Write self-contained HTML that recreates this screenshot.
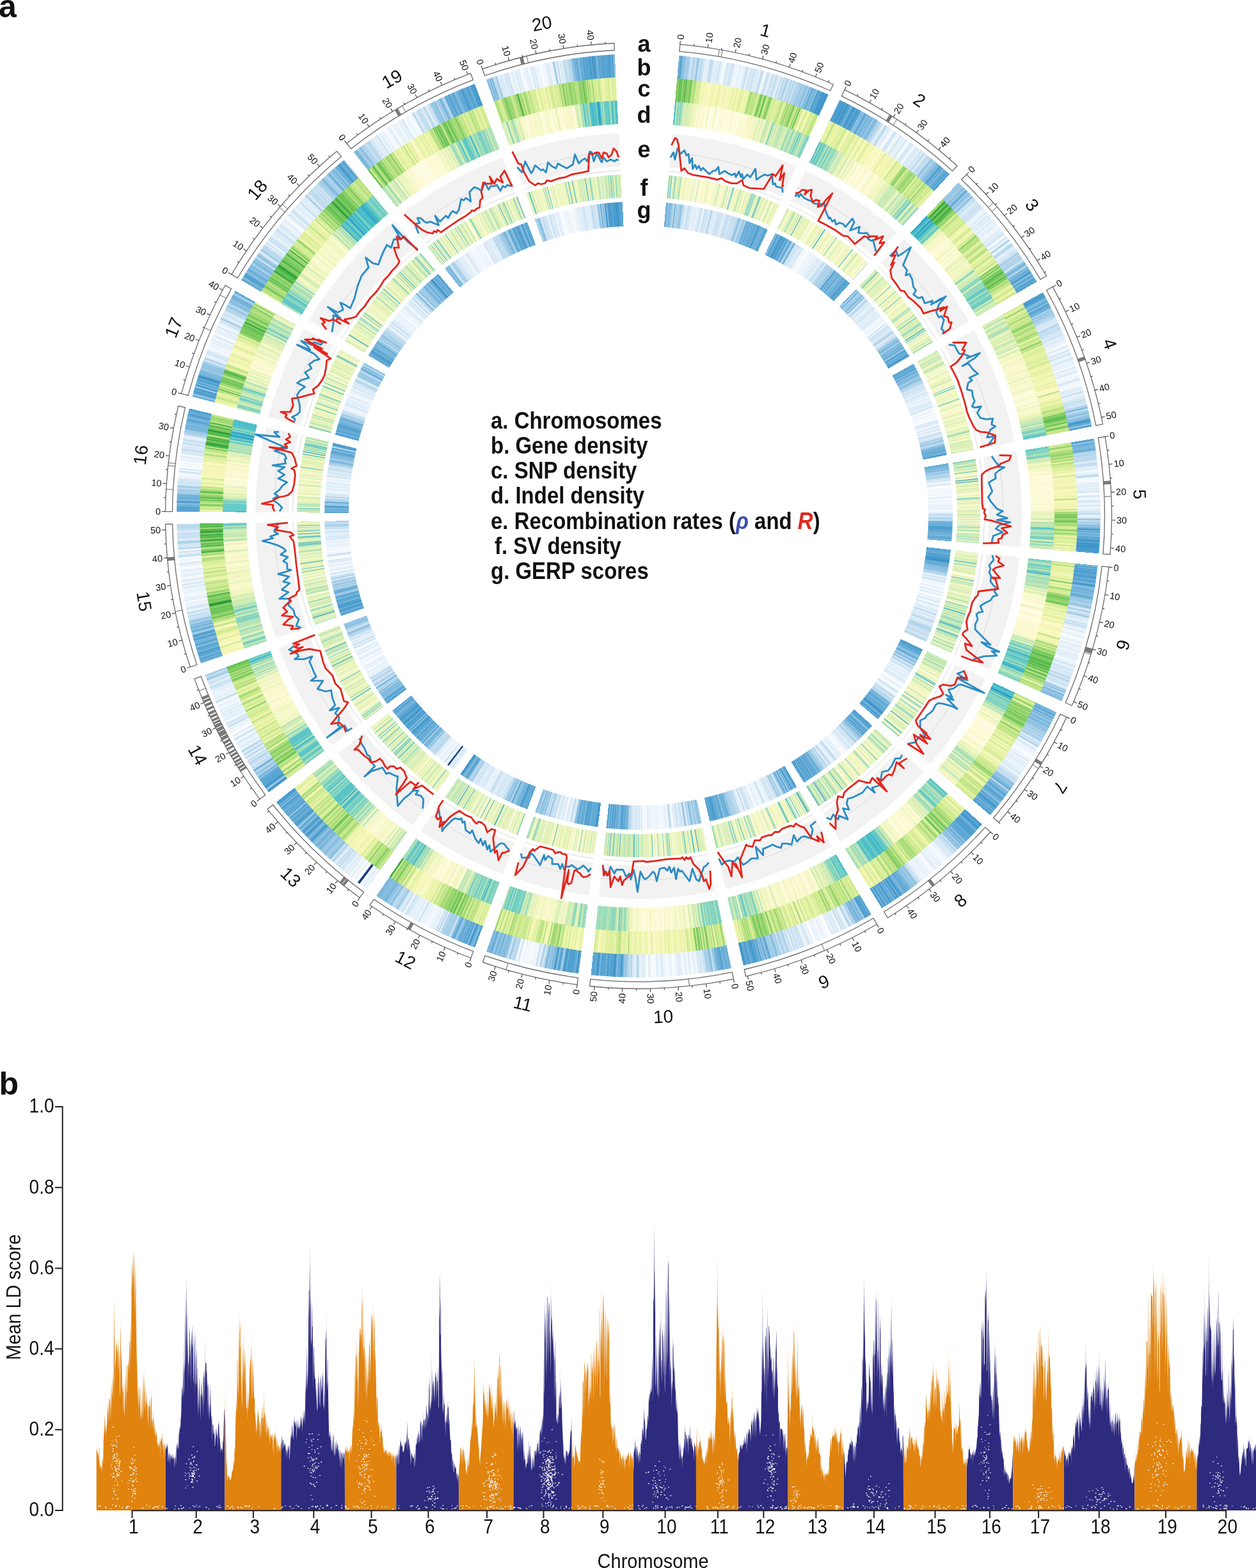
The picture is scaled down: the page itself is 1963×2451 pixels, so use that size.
<!DOCTYPE html>
<html><head><meta charset="utf-8"><style>
html,body{margin:0;padding:0;background:#fff}
body{width:1963px;height:2451px;position:relative;overflow:hidden;font-family:"Liberation Sans",Arial,sans-serif}
.d{position:absolute;border-radius:50%}
svg{position:absolute;left:0;top:0}
</style></head><body>
<div class="d" style="left:276.0px;top:84.0px;width:1444.0px;height:1444.0px;background:conic-gradient(#fff 0deg,#fff 5.03deg,#6fb1d9 5.03deg,#7bb7dc 5.17deg,#479acc 5.31deg,#6fb1d9 5.45deg,#88bee0 5.59deg,#88bee0 5.73deg,#9dc9e6 5.87deg,#a8cfe8 6.01deg,#a2cce7 6.15deg,#a0cbe6 6.30deg,#bddaee 6.44deg,#c9e1f1 6.58deg,#cfe4f3 6.72deg,#b4d5ec 6.86deg,#b1d4eb 7.00deg,#cee4f3 7.14deg,#bcdaee 7.28deg,#8ec1e2 7.42deg,#a8cfe8 7.56deg,#d8e9f5 7.70deg,#b7d7ed 7.84deg,#bcdaee 7.98deg,#d1e5f3 8.12deg,#cee4f3 8.26deg,#edf5fb 8.40deg,#e1eef8 8.54deg,#e6f1f9 8.69deg,#e3eff8 8.83deg,#c8e0f1 8.97deg,#c4def0 9.11deg,#bbd9ee 9.25deg,#dfedf7 9.39deg,#e0eef8 9.53deg,#e3eff9 9.67deg,#deecf7 9.81deg,#dfedf8 9.95deg,#e4f0f9 10.09deg,#c4def0 10.23deg,#e9f2fa 10.37deg,#e0eef8 10.51deg,#f1f7fc 10.65deg,#ffffff 10.79deg,#ebf3fb 10.93deg,#e4f0f9 11.07deg,#cce2f2 11.22deg,#e7f1fa 11.36deg,#dcebf7 11.50deg,#d8e9f6 11.64deg,#d1e5f3 11.78deg,#d0e4f3 11.92deg,#e7f1fa 12.06deg,#f1f7fc 12.20deg,#ecf4fb 12.34deg,#f1f7fc 12.48deg,#eff6fc 12.62deg,#e0edf8 12.76deg,#e8f2fa 12.90deg,#f0f7fc 13.04deg,#e6f1f9 13.18deg,#e6f1f9 13.32deg,#deedf7 13.46deg,#cfe4f3 13.61deg,#bddaee 13.75deg,#f8fbfe 13.89deg,#d5e7f5 14.03deg,#d7e8f5 14.17deg,#cfe4f3 14.31deg,#e1eef8 14.45deg,#c5dff0 14.59deg,#d5e7f5 14.73deg,#dcebf7 14.87deg,#e4eff9 15.01deg,#d5e8f5 15.15deg,#ecf4fb 15.29deg,#d3e6f4 15.43deg,#b7d7ec 15.57deg,#cee3f3 15.71deg,#f0f6fc 15.85deg,#fafcfe 16.00deg,#daeaf6 16.14deg,#d0e5f3 16.28deg,#c3def0 16.42deg,#daeaf6 16.56deg,#eef5fb 16.70deg,#d3e6f4 16.84deg,#cce2f2 16.98deg,#cbe2f2 17.12deg,#e4f0f9 17.26deg,#bddaee 17.40deg,#c7e0f1 17.54deg,#d2e6f4 17.68deg,#e4f0f9 17.82deg,#dfedf7 17.96deg,#b1d4eb 18.10deg,#edf5fb 18.24deg,#b2d5eb 18.39deg,#c7e0f1 18.53deg,#c6dff1 18.67deg,#b3d5ec 18.81deg,#a9cfe9 18.95deg,#d4e7f4 19.09deg,#cde3f3 19.23deg,#aed2ea 19.37deg,#cbe2f2 19.51deg,#bddaee 19.65deg,#add2ea 19.79deg,#cae1f2 19.93deg,#c4def0 20.07deg,#a6cee8 20.21deg,#c2ddf0 20.35deg,#9ecae6 20.49deg,#bcd9ee 20.63deg,#91c3e2 20.78deg,#a8cfe9 20.92deg,#9bc8e5 21.06deg,#a5cde8 21.20deg,#8cc0e1 21.34deg,#87bde0 21.48deg,#b0d3eb 21.62deg,#8fc2e2 21.76deg,#77b5db 21.90deg,#93c4e3 22.04deg,#59a5d3 22.18deg,#79b6dc 22.32deg,#8dc1e1 22.46deg,#68add7 22.60deg,#9dc9e6 22.74deg,#58a4d2 22.88deg,#4e9fcf 23.02deg,#63aad5 23.16deg,#52a1d1 23.31deg,#63aad5 23.45deg,#328dc5 23.59deg,#4e9ecf 23.73deg,#469acc 23.87deg,#4096ca 24.01deg,#3891c7 24.15deg,#76b4db 24.29deg,#fff 24.29deg,#fff 25.82deg,#70b1d9 25.82deg,#4c9ecf 25.96deg,#4e9fcf 26.10deg,#4a9cce 26.24deg,#52a1d1 26.38deg,#3d94c9 26.52deg,#4a9cce 26.66deg,#57a4d2 26.81deg,#358fc6 26.95deg,#479acd 27.09deg,#5ca7d4 27.23deg,#4f9fd0 27.37deg,#8abfe1 27.51deg,#499ccd 27.65deg,#469acc 27.79deg,#4197cb 27.93deg,#58a4d2 28.08deg,#5ca6d3 28.22deg,#4096ca 28.36deg,#4d9ecf 28.50deg,#59a5d3 28.64deg,#4f9fcf 28.78deg,#9cc9e5 28.92deg,#7bb7dc 29.06deg,#8ec1e1 29.20deg,#6eb0d9 29.35deg,#4e9fcf 29.49deg,#7cb8dd 29.63deg,#92c3e3 29.77deg,#64abd6 29.91deg,#8ec1e2 30.05deg,#73b3da 30.19deg,#96c6e4 30.33deg,#6aaed7 30.48deg,#a8cfe8 30.62deg,#87bee0 30.76deg,#7eb9dd 30.90deg,#7bb7dc 31.04deg,#98c7e4 31.18deg,#aed2ea 31.32deg,#a9d0e9 31.46deg,#b9d8ed 31.60deg,#c6dff1 31.75deg,#c6dff0 31.89deg,#f2f8fc 32.03deg,#d7e9f5 32.17deg,#d3e6f4 32.31deg,#add2ea 32.45deg,#cfe4f3 32.59deg,#e7f1fa 32.73deg,#e7f1f9 32.87deg,#d8e9f5 33.02deg,#edf4fb 33.16deg,#f2f7fc 33.30deg,#f1f7fc 33.44deg,#eff5fc 33.58deg,#c7e0f1 33.72deg,#d6e8f5 33.86deg,#d6e8f5 34.00deg,#f4f9fd 34.14deg,#edf5fb 34.29deg,#f4f8fd 34.43deg,#d7e8f5 34.57deg,#d1e5f3 34.71deg,#f4f9fd 34.85deg,#dcebf7 34.99deg,#e5f0f9 35.13deg,#f4f9fd 35.27deg,#cee3f3 35.42deg,#ddecf7 35.56deg,#f4f9fd 35.70deg,#f6fafd 35.84deg,#f0f6fc 35.98deg,#d5e7f5 36.12deg,#d4e7f4 36.26deg,#d8e9f6 36.40deg,#e0edf8 36.54deg,#f9fcfe 36.69deg,#f0f6fc 36.83deg,#d7e9f5 36.97deg,#deecf7 37.11deg,#deecf7 37.25deg,#d8e9f6 37.39deg,#f2f8fc 37.53deg,#cde3f3 37.67deg,#d4e7f4 37.81deg,#d4e7f4 37.96deg,#dcebf7 38.10deg,#b4d6ec 38.24deg,#cce2f2 38.38deg,#e7f1fa 38.52deg,#bfdcef 38.66deg,#c8e0f1 38.80deg,#b5d6ec 38.94deg,#cae1f2 39.08deg,#c2ddef 39.23deg,#97c6e4 39.37deg,#8dc1e1 39.51deg,#add2ea 39.65deg,#b2d4eb 39.79deg,#99c7e5 39.93deg,#94c5e3 40.07deg,#92c4e3 40.21deg,#7bb7dc 40.36deg,#80bade 40.50deg,#7cb7dc 40.64deg,#4f9fcf 40.78deg,#4f9fcf 40.92deg,#77b5db 41.06deg,#57a4d2 41.20deg,#80bade 41.34deg,#76b4db 41.48deg,#5ca6d3 41.63deg,#61a9d5 41.77deg,#50a0d0 41.91deg,#66acd6 42.05deg,#53a2d1 42.19deg,#4a9cce 42.33deg,#fff 42.33deg,#fff 43.86deg,#7bb7dc 43.86deg,#a9cfe9 44.00deg,#91c3e3 44.14deg,#98c6e4 44.28deg,#a5cde8 44.42deg,#9ecae6 44.56deg,#94c4e3 44.70deg,#7fb9dd 44.84deg,#a1cce7 44.98deg,#8abfe1 45.12deg,#56a3d2 45.26deg,#7fb9dd 45.40deg,#aed2ea 45.54deg,#7bb7dc 45.68deg,#a2cce7 45.82deg,#97c6e4 45.96deg,#c7dff1 46.10deg,#74b3da 46.24deg,#b3d5eb 46.38deg,#c6dff1 46.52deg,#d2e6f4 46.66deg,#bedbee 46.80deg,#dfedf7 46.94deg,#dcebf7 47.08deg,#d3e6f4 47.22deg,#d8e9f6 47.36deg,#c5dff0 47.50deg,#d2e6f4 47.64deg,#c5dff0 47.78deg,#d3e6f4 47.92deg,#d8e9f6 48.06deg,#d3e6f4 48.20deg,#edf4fb 48.34deg,#f7fafd 48.48deg,#e1eef8 48.62deg,#f5f9fd 48.76deg,#d0e5f3 48.90deg,#eef5fb 49.04deg,#e6f1f9 49.18deg,#ddecf7 49.32deg,#deecf7 49.46deg,#ecf4fb 49.60deg,#d6e8f5 49.74deg,#eaf3fb 49.88deg,#f2f7fc 50.02deg,#d0e5f3 50.16deg,#eef5fb 50.30deg,#edf4fb 50.44deg,#e2eff8 50.58deg,#e8f2fa 50.72deg,#e2eef8 50.86deg,#e6f1f9 51.00deg,#f8fbfd 51.15deg,#ebf3fb 51.29deg,#edf4fb 51.43deg,#ebf3fb 51.57deg,#dbebf6 51.71deg,#e3eff9 51.85deg,#e4f0f9 51.99deg,#d9e9f6 52.13deg,#d7e9f5 52.27deg,#d9eaf6 52.41deg,#ffffff 52.55deg,#fcfdfe 52.69deg,#cee3f3 52.83deg,#e0edf8 52.97deg,#f0f6fc 53.11deg,#dbebf6 53.25deg,#93c4e3 53.39deg,#e9f2fa 53.53deg,#f0f6fc 53.67deg,#d8e9f6 53.81deg,#b8d8ed 53.95deg,#b6d7ec 54.09deg,#c9e1f1 54.23deg,#e6f1f9 54.37deg,#e3eff9 54.51deg,#d5e7f5 54.65deg,#e5f0f9 54.79deg,#c9e1f1 54.93deg,#d7e8f5 55.07deg,#bbd9ee 55.21deg,#9ecae6 55.35deg,#bbd9ed 55.49deg,#b6d6ec 55.63deg,#bbd9ed 55.77deg,#a3cce7 55.91deg,#bad9ed 56.05deg,#a0cbe6 56.19deg,#d6e8f5 56.33deg,#cae1f2 56.47deg,#96c5e4 56.61deg,#94c4e3 56.75deg,#68add7 56.89deg,#8abfe0 57.03deg,#aad0e9 57.17deg,#b9d8ed 57.31deg,#5da7d4 57.45deg,#96c6e4 57.59deg,#5fa8d4 57.73deg,#71b2da 57.87deg,#6fb1d9 58.01deg,#3c93c8 58.15deg,#6baed8 58.29deg,#97c6e4 58.43deg,#56a3d2 58.57deg,#5ba6d3 58.71deg,#8abfe0 58.85deg,#62aad5 58.99deg,#4d9ecf 59.13deg,#6baed8 59.27deg,#55a3d1 59.41deg,#308cc4 59.55deg,#fff 59.55deg,#fff 61.08deg,#62aad5 61.08deg,#55a3d2 61.22deg,#4196ca 61.36deg,#4c9dce 61.50deg,#4f9fd0 61.64deg,#59a5d3 61.79deg,#8dc1e1 61.93deg,#79b6dc 62.07deg,#72b2da 62.21deg,#4e9fcf 62.35deg,#a0cbe6 62.49deg,#5ca7d4 62.63deg,#5ba6d3 62.77deg,#5aa5d3 62.91deg,#81bade 63.06deg,#5ca7d4 63.20deg,#bddbee 63.34deg,#91c3e2 63.48deg,#9cc9e5 63.62deg,#a7cfe8 63.76deg,#93c4e3 63.90deg,#add2ea 64.04deg,#a9d0e9 64.18deg,#b8d8ed 64.33deg,#b9d8ed 64.47deg,#cde3f2 64.61deg,#d2e6f4 64.75deg,#e1eef8 64.89deg,#c5def0 65.03deg,#eef5fb 65.17deg,#c9e1f1 65.31deg,#b5d6ec 65.45deg,#c2ddf0 65.60deg,#c8e0f1 65.74deg,#c8e0f1 65.88deg,#c5dff0 66.02deg,#c9e1f1 66.16deg,#d4e7f4 66.30deg,#d0e5f3 66.44deg,#deecf7 66.58deg,#d9eaf6 66.72deg,#c8e0f1 66.87deg,#e8f2fa 67.01deg,#daeaf6 67.15deg,#e8f2fa 67.29deg,#d9e9f6 67.43deg,#e7f1fa 67.57deg,#edf5fb 67.71deg,#e2eef8 67.85deg,#f7fbfd 67.99deg,#f7fafd 68.14deg,#eef5fb 68.28deg,#d8e9f6 68.42deg,#ecf4fb 68.56deg,#eef5fb 68.70deg,#eff6fc 68.84deg,#c4def0 68.98deg,#f4f8fd 69.12deg,#e1eef8 69.26deg,#d0e5f3 69.41deg,#e2eff8 69.55deg,#ecf4fb 69.69deg,#edf5fb 69.83deg,#d9eaf6 69.97deg,#d5e7f5 70.11deg,#e8f2fa 70.25deg,#edf4fb 70.39deg,#e9f2fa 70.53deg,#ebf3fb 70.68deg,#e6f1f9 70.82deg,#fbfdfe 70.96deg,#ecf4fb 71.10deg,#d5e8f5 71.24deg,#f4f9fd 71.38deg,#e1eef8 71.52deg,#f1f7fc 71.66deg,#cce3f2 71.80deg,#f4f9fd 71.95deg,#f4f8fd 72.09deg,#f8fbfe 72.23deg,#e6f0f9 72.37deg,#f8fbfe 72.51deg,#ddecf7 72.65deg,#d2e6f4 72.79deg,#e6f1f9 72.93deg,#f9fbfe 73.07deg,#eef5fc 73.22deg,#fbfdfe 73.36deg,#eff6fc 73.50deg,#f1f7fc 73.64deg,#deecf7 73.78deg,#ddecf7 73.92deg,#e0eef8 74.06deg,#eaf3fa 74.20deg,#d0e5f3 74.34deg,#c8e0f1 74.49deg,#f3f8fc 74.63deg,#deecf7 74.77deg,#e8f2fa 74.91deg,#deecf7 75.05deg,#d2e6f4 75.19deg,#d6e8f5 75.33deg,#b6d6ec 75.47deg,#d9eaf6 75.61deg,#c1dcef 75.76deg,#dfedf7 75.90deg,#c8e0f1 76.04deg,#a9d0e9 76.18deg,#a9d0e9 76.32deg,#67add7 76.46deg,#d3e6f4 76.60deg,#b0d4eb 76.74deg,#a3cde7 76.88deg,#92c3e3 77.03deg,#87bde0 77.17deg,#b8d8ed 77.31deg,#91c3e2 77.45deg,#91c3e2 77.59deg,#89bfe0 77.73deg,#69aed7 77.87deg,#3f95ca 78.01deg,#479acc 78.15deg,#66acd6 78.30deg,#66acd6 78.44deg,#a7cfe8 78.58deg,#4599cc 78.72deg,#4398cb 78.86deg,#fff 78.86deg,#fff 80.39deg,#5aa5d3 80.39deg,#56a3d2 80.53deg,#78b6dc 80.67deg,#9ac7e5 80.81deg,#4c9ecf 80.95deg,#87bee0 81.09deg,#6cafd8 81.23deg,#87bee0 81.37deg,#75b4db 81.51deg,#6bafd8 81.65deg,#66acd6 81.79deg,#b9d8ed 81.93deg,#b0d3eb 82.07deg,#c0dcef 82.21deg,#a9d0e9 82.35deg,#c8e0f1 82.49deg,#bad8ed 82.63deg,#c1dcef 82.77deg,#b6d7ec 82.91deg,#c6dff1 83.05deg,#e8f2fa 83.20deg,#cde3f2 83.34deg,#bddaee 83.48deg,#cde3f2 83.62deg,#c6dff0 83.76deg,#f3f8fc 83.90deg,#dbebf6 84.04deg,#dfedf7 84.18deg,#f2f7fc 84.32deg,#f4f9fd 84.46deg,#e4f0f9 84.60deg,#e8f2fa 84.74deg,#cae1f2 84.88deg,#add2ea 85.02deg,#e9f3fa 85.16deg,#f6fafd 85.30deg,#f4f8fd 85.44deg,#f9fcfe 85.58deg,#f1f7fc 85.72deg,#e7f1fa 85.86deg,#e1eef8 86.00deg,#ecf4fb 86.14deg,#d9eaf6 86.28deg,#ebf4fb 86.42deg,#e5f0f9 86.56deg,#dbebf6 86.71deg,#edf5fb 86.85deg,#c6dff0 86.99deg,#f9fcfe 87.13deg,#f4f9fd 87.27deg,#eff6fc 87.41deg,#c8e0f1 87.55deg,#ecf4fb 87.69deg,#f3f8fc 87.83deg,#edf5fb 87.97deg,#d8e9f6 88.11deg,#d1e5f3 88.25deg,#e9f2fa 88.39deg,#f2f8fc 88.53deg,#dbebf6 88.67deg,#d7e9f5 88.81deg,#edf5fb 88.95deg,#f2f7fc 89.09deg,#d9e9f6 89.23deg,#e8f2fa 89.37deg,#c7dff1 89.51deg,#dcebf6 89.65deg,#b8d8ed 89.79deg,#dcebf7 89.93deg,#f4f9fd 90.07deg,#d8e9f5 90.21deg,#c5dff0 90.36deg,#82bbde 90.50deg,#d2e5f4 90.64deg,#b4d5ec 90.78deg,#a1cbe7 90.92deg,#bcdaee 91.06deg,#87bde0 91.20deg,#93c4e3 91.34deg,#84bcdf 91.48deg,#6eb0d9 91.62deg,#308cc4 91.76deg,#89bfe0 91.90deg,#4f9fd0 92.04deg,#87bde0 92.18deg,#71b2d9 92.32deg,#64abd6 92.46deg,#8bbfe1 92.60deg,#489bcd 92.74deg,#70b1d9 92.88deg,#4e9fcf 93.02deg,#3f95ca 93.16deg,#4f9fd0 93.30deg,#58a4d2 93.44deg,#3690c6 93.58deg,#4a9cce 93.72deg,#3c93c8 93.87deg,#4297cb 94.01deg,#469acc 94.15deg,#489bcd 94.29deg,#469acc 94.43deg,#4fa0d0 94.57deg,#5aa5d3 94.71deg,#fff 94.71deg,#fff 96.24deg,#4297cb 96.24deg,#8cc0e1 96.38deg,#4599cc 96.52deg,#7ab7dc 96.66deg,#489bcd 96.80deg,#5fa8d4 96.94deg,#53a1d1 97.08deg,#489bcd 97.22deg,#57a4d2 97.36deg,#65abd6 97.50deg,#4d9ecf 97.64deg,#479acd 97.78deg,#65abd6 97.92deg,#68add7 98.06deg,#53a1d1 98.20deg,#53a2d1 98.35deg,#83bbdf 98.49deg,#5ba6d3 98.63deg,#3d94c9 98.77deg,#57a4d2 98.91deg,#96c5e4 99.05deg,#7bb7dc 99.19deg,#75b4db 99.33deg,#68add7 99.47deg,#86bde0 99.61deg,#6fb1d9 99.75deg,#77b5db 99.89deg,#8fc2e2 100.03deg,#64abd6 100.17deg,#60a9d5 100.31deg,#7bb7dc 100.45deg,#94c5e3 100.60deg,#a9d0e9 100.74deg,#96c5e4 100.88deg,#9ecae6 101.02deg,#b2d5eb 101.16deg,#a4cde7 101.30deg,#9bc8e5 101.44deg,#8cc0e1 101.58deg,#cfe4f3 101.72deg,#deecf7 101.86deg,#b7d7ec 102.00deg,#a4cde7 102.14deg,#e7f1fa 102.28deg,#bbd9ee 102.42deg,#cce2f2 102.56deg,#8cc0e1 102.71deg,#d5e8f5 102.85deg,#e0edf8 102.99deg,#d7e9f5 103.13deg,#e2eff8 103.27deg,#e8f2fa 103.41deg,#dcebf7 103.55deg,#c5dff0 103.69deg,#dfedf7 103.83deg,#bddaee 103.97deg,#d0e4f3 104.11deg,#e1eef8 104.25deg,#e8f2fa 104.39deg,#f2f7fc 104.53deg,#cee3f3 104.67deg,#f8fbfe 104.82deg,#eef5fb 104.96deg,#f5f9fd 105.10deg,#e4f0f9 105.24deg,#e7f1fa 105.38deg,#f4f9fd 105.52deg,#ffffff 105.66deg,#eff6fc 105.80deg,#f2f7fc 105.94deg,#e6f1f9 106.08deg,#edf4fb 106.22deg,#f8fbfd 106.36deg,#d8e9f6 106.50deg,#edf4fb 106.64deg,#e4f0f9 106.78deg,#edf4fb 106.92deg,#e5f0f9 107.07deg,#e0edf8 107.21deg,#edf5fb 107.35deg,#eef5fb 107.49deg,#e6f1f9 107.63deg,#dbebf6 107.77deg,#f0f6fc 107.91deg,#d8e9f6 108.05deg,#edf5fb 108.19deg,#dfedf7 108.33deg,#f6fafd 108.47deg,#f8fbfd 108.61deg,#e6f1f9 108.75deg,#f1f7fc 108.89deg,#cfe4f3 109.03deg,#daeaf6 109.18deg,#e7f1fa 109.32deg,#e8f2fa 109.46deg,#cfe4f3 109.60deg,#d4e7f4 109.74deg,#deecf7 109.88deg,#d9eaf6 110.02deg,#d1e5f4 110.16deg,#dfedf8 110.30deg,#d8e9f6 110.44deg,#bcdaee 110.58deg,#c4def0 110.72deg,#d7e9f5 110.86deg,#bbd9ee 111.00deg,#b2d4eb 111.14deg,#e3eff9 111.29deg,#cae1f2 111.43deg,#d5e8f5 111.57deg,#c5dff0 111.71deg,#e6f0f9 111.85deg,#daeaf6 111.99deg,#cfe4f3 112.13deg,#83bbde 112.27deg,#bedbee 112.41deg,#78b5db 112.55deg,#c8e0f1 112.69deg,#89bfe0 112.83deg,#78b6dc 112.97deg,#a3cde7 113.11deg,#89bee0 113.25deg,#90c2e2 113.39deg,#7bb7dc 113.54deg,#8bbfe1 113.68deg,#fff 113.68deg,#fff 115.20deg,#66acd6 115.20deg,#7cb8dd 115.35deg,#74b3da 115.49deg,#5ca6d3 115.63deg,#6baed8 115.77deg,#9bc8e5 115.91deg,#4398cb 116.05deg,#a4cde7 116.19deg,#6bafd8 116.33deg,#93c4e3 116.47deg,#95c5e3 116.61deg,#80bade 116.76deg,#74b3da 116.90deg,#a8cfe8 117.04deg,#6fb1d9 117.18deg,#82bbde 117.32deg,#91c3e3 117.46deg,#95c5e3 117.60deg,#87bde0 117.74deg,#a0cbe6 117.88deg,#89bfe0 118.02deg,#b7d7ec 118.17deg,#a2cce7 118.31deg,#9dc9e6 118.45deg,#c4def0 118.59deg,#9dc9e6 118.73deg,#b4d5ec 118.87deg,#b7d7ec 119.01deg,#a6cee8 119.15deg,#b0d3eb 119.29deg,#d3e6f4 119.43deg,#dcebf6 119.58deg,#bcdaee 119.72deg,#dfedf7 119.86deg,#96c5e4 120.00deg,#dbebf6 120.14deg,#f2f7fc 120.28deg,#deecf7 120.42deg,#d9eaf6 120.56deg,#e0edf8 120.70deg,#f6fafd 120.84deg,#e3eff9 120.99deg,#f5f9fd 121.13deg,#edf5fb 121.27deg,#f8fbfe 121.41deg,#fbfdfe 121.55deg,#f1f7fc 121.69deg,#ecf4fb 121.83deg,#eef5fb 121.97deg,#ecf4fb 122.11deg,#d6e8f5 122.25deg,#f8fbfd 122.40deg,#e4eff9 122.54deg,#e0edf8 122.68deg,#f4f9fd 122.82deg,#cfe4f3 122.96deg,#f5f9fd 123.10deg,#e7f1fa 123.24deg,#e2eff8 123.38deg,#fcfdfe 123.52deg,#d2e6f4 123.66deg,#f2f7fc 123.81deg,#d4e7f4 123.95deg,#dbebf6 124.09deg,#dcebf7 124.23deg,#fafcfe 124.37deg,#d5e7f5 124.51deg,#d5e7f5 124.65deg,#cfe4f3 124.79deg,#c2ddf0 124.93deg,#c6dff1 125.08deg,#cae1f2 125.22deg,#c2ddef 125.36deg,#a8cfe8 125.50deg,#85bddf 125.64deg,#97c6e4 125.78deg,#96c6e4 125.92deg,#86bddf 126.06deg,#7cb8dd 126.20deg,#70b1d9 126.34deg,#68add7 126.49deg,#cbe2f2 126.63deg,#8dc1e1 126.77deg,#70b1d9 126.91deg,#87bee0 127.05deg,#5fa8d4 127.19deg,#5da7d4 127.33deg,#6aaed7 127.47deg,#84bcdf 127.61deg,#67acd6 127.75deg,#51a0d0 127.90deg,#5aa6d3 128.04deg,#6db0d8 128.18deg,#65abd6 128.32deg,#9ecae6 128.46deg,#6cafd8 128.60deg,#5aa5d3 128.74deg,#69add7 128.88deg,#65abd6 129.02deg,#3f95ca 129.16deg,#489bcd 129.31deg,#68add7 129.45deg,#499ccd 129.59deg,#87bee0 129.73deg,#4e9fcf 129.87deg,#67add7 130.01deg,#63aad6 130.15deg,#4fa0d0 130.29deg,#469acc 130.43deg,#fff 130.43deg,#fff 131.96deg,#58a5d2 131.96deg,#479acd 132.10deg,#489bcd 132.24deg,#6aaed8 132.38deg,#4498cb 132.52deg,#3e95c9 132.66deg,#4b9dce 132.80deg,#78b5db 132.94deg,#6bafd8 133.08deg,#55a2d1 133.22deg,#4fa0d0 133.36deg,#4fa0d0 133.50deg,#58a4d2 133.64deg,#4699cc 133.78deg,#59a5d3 133.92deg,#61a9d5 134.06deg,#6aaed8 134.20deg,#54a2d1 134.34deg,#5ea8d4 134.49deg,#66acd6 134.63deg,#58a4d2 134.77deg,#8fc2e2 134.91deg,#82bbde 135.05deg,#69add7 135.19deg,#7fb9de 135.33deg,#8dc1e1 135.47deg,#72b2da 135.61deg,#bad9ed 135.75deg,#72b2da 135.89deg,#9dc9e6 136.03deg,#92c3e3 136.17deg,#9fcae6 136.31deg,#deedf7 136.45deg,#a7cfe8 136.59deg,#c2ddf0 136.73deg,#cfe4f3 136.87deg,#c0dcef 137.01deg,#dcebf6 137.15deg,#daeaf6 137.29deg,#d4e7f4 137.43deg,#dfedf7 137.57deg,#cee4f3 137.71deg,#eef5fb 137.85deg,#e7f1fa 137.99deg,#eef5fb 138.13deg,#f1f7fc 138.27deg,#f6fafd 138.41deg,#f5f9fd 138.55deg,#f5f9fd 138.69deg,#e9f3fa 138.83deg,#f3f8fc 138.97deg,#e6f1f9 139.11deg,#e7f1fa 139.25deg,#f2f7fc 139.39deg,#e4f0f9 139.53deg,#eef5fb 139.67deg,#eef5fb 139.81deg,#d4e7f4 139.95deg,#eaf3fb 140.09deg,#fafcfe 140.23deg,#f5f9fd 140.37deg,#f9fbfe 140.51deg,#edf4fb 140.65deg,#f1f7fc 140.79deg,#e6f1f9 140.93deg,#f2f7fc 141.07deg,#e1eef8 141.21deg,#f0f6fc 141.36deg,#e1eef8 141.50deg,#f8fbfe 141.64deg,#e5f0f9 141.78deg,#eef5fb 141.92deg,#eef5fb 142.06deg,#d9e9f6 142.20deg,#e9f2fa 142.34deg,#bfdbef 142.48deg,#d2e5f4 142.62deg,#bddaee 142.76deg,#9fcae6 142.90deg,#90c2e2 143.04deg,#95c5e3 143.18deg,#acd1e9 143.32deg,#7fb9dd 143.46deg,#a4cde7 143.60deg,#8ec1e2 143.74deg,#7bb7dc 143.88deg,#76b4db 144.02deg,#74b3da 144.16deg,#5aa6d3 144.30deg,#78b6dc 144.44deg,#56a3d2 144.58deg,#69add7 144.72deg,#73b3da 144.86deg,#85bcdf 145.00deg,#64abd6 145.14deg,#54a2d1 145.28deg,#3f95ca 145.42deg,#68add7 145.56deg,#65abd6 145.70deg,#308cc4 145.84deg,#81bade 145.98deg,#4398cb 146.12deg,#6eb0d9 146.26deg,#77b5db 146.40deg,#5da7d4 146.54deg,#6eb0d9 146.68deg,#489bcd 146.82deg,#4b9dce 146.96deg,#75b4da 147.10deg,#4e9fcf 147.24deg,#60a8d4 147.38deg,#7cb8dd 147.52deg,#499ccd 147.66deg,#52a1d1 147.80deg,#80bade 147.94deg,#3891c7 148.08deg,#74b3da 148.23deg,#fff 148.23deg,#fff 149.75deg,#3c94c9 149.75deg,#60a9d5 149.89deg,#68add7 150.03deg,#4c9ecf 150.17deg,#5aa5d3 150.32deg,#4e9fcf 150.46deg,#4e9fcf 150.60deg,#b3d5eb 150.74deg,#8ec1e2 150.88deg,#75b4db 151.02deg,#92c3e3 151.16deg,#8abfe0 151.30deg,#67acd6 151.44deg,#8dc1e1 151.58deg,#81bade 151.72deg,#77b5db 151.86deg,#bad9ed 152.00deg,#a4cde7 152.14deg,#c1dcef 152.28deg,#cce2f2 152.42deg,#e1eef8 152.56deg,#abd1e9 152.70deg,#b6d6ec 152.84deg,#ebf4fb 152.98deg,#eef5fb 153.12deg,#e4eff9 153.26deg,#d2e6f4 153.41deg,#d0e4f3 153.55deg,#e4f0f9 153.69deg,#b5d6ec 153.83deg,#f4f8fd 153.97deg,#f1f7fc 154.11deg,#e0edf8 154.25deg,#d3e6f4 154.39deg,#eff6fc 154.53deg,#cae1f2 154.67deg,#eaf3fa 154.81deg,#e2eff8 154.95deg,#e0edf8 155.09deg,#e2eef8 155.23deg,#f9fbfe 155.37deg,#fdfeff 155.51deg,#f5f9fd 155.65deg,#f1f7fc 155.79deg,#fafcfe 155.93deg,#edf4fb 156.07deg,#edf4fb 156.21deg,#e2eef8 156.36deg,#fefeff 156.50deg,#eef5fb 156.64deg,#eff6fc 156.78deg,#e4f0f9 156.92deg,#f2f7fc 157.06deg,#e1eef8 157.20deg,#f7fafd 157.34deg,#ffffff 157.48deg,#ffffff 157.62deg,#deecf7 157.76deg,#f1f7fc 157.90deg,#edf5fb 158.04deg,#d3e6f4 158.18deg,#dbebf6 158.32deg,#d1e5f4 158.46deg,#f7fafd 158.60deg,#e5f0f9 158.74deg,#eef5fb 158.88deg,#c3def0 159.02deg,#d3e7f4 159.16deg,#d2e6f4 159.31deg,#c7e0f1 159.45deg,#e1eef8 159.59deg,#cce2f2 159.73deg,#c2ddef 159.87deg,#edf4fb 160.01deg,#bcdaee 160.15deg,#d1e5f3 160.29deg,#e7f1fa 160.43deg,#c6dff0 160.57deg,#c8e0f1 160.71deg,#dbebf6 160.85deg,#aad0e9 160.99deg,#acd1ea 161.13deg,#c5dff0 161.27deg,#c7e0f1 161.41deg,#a6cee8 161.55deg,#afd3ea 161.69deg,#cde3f2 161.83deg,#c3ddf0 161.97deg,#97c6e4 162.11deg,#c2ddf0 162.26deg,#8ec1e2 162.40deg,#8ec1e2 162.54deg,#8dc1e1 162.68deg,#b5d6ec 162.82deg,#9cc9e5 162.96deg,#9bc8e5 163.10deg,#aed2ea 163.24deg,#5ea7d4 163.38deg,#64abd6 163.52deg,#83bbdf 163.66deg,#a1cce7 163.80deg,#4d9ecf 163.94deg,#9cc9e5 164.08deg,#74b3da 164.22deg,#94c5e3 164.36deg,#6eb0d8 164.50deg,#50a0d0 164.64deg,#88bee0 164.78deg,#4398cb 164.92deg,#6aaed7 165.06deg,#4a9cce 165.21deg,#4398cb 165.35deg,#4d9ecf 165.49deg,#53a2d1 165.63deg,#65abd6 165.77deg,#74b3da 165.91deg,#4398cb 166.05deg,#58a4d2 166.19deg,#5ea7d4 166.33deg,#66acd6 166.47deg,#3b93c8 166.61deg,#4498cb 166.75deg,#6aaed7 166.89deg,#fff 166.89deg,#fff 168.42deg,#86bddf 168.42deg,#65abd6 168.56deg,#79b6dc 168.70deg,#6eb0d9 168.84deg,#6aaed8 168.98deg,#5fa8d4 169.12deg,#91c3e2 169.26deg,#489bcd 169.40deg,#5ea7d4 169.54deg,#5da7d4 169.68deg,#6eb0d9 169.82deg,#6eb0d9 169.96deg,#75b4da 170.10deg,#8fc2e2 170.24deg,#94c4e3 170.38deg,#c1dcef 170.52deg,#c8e0f1 170.66deg,#70b1d9 170.80deg,#a2cce7 170.94deg,#a9d0e9 171.08deg,#9fcae6 171.22deg,#b1d4eb 171.36deg,#a8cfe8 171.50deg,#d3e6f4 171.64deg,#cae1f2 171.78deg,#e6f1f9 171.92deg,#cbe2f2 172.06deg,#dbebf6 172.20deg,#d8e9f6 172.34deg,#d4e7f4 172.48deg,#f1f7fc 172.62deg,#f0f6fc 172.76deg,#e3eff8 172.90deg,#ebf3fb 173.04deg,#eaf3fa 173.18deg,#ffffff 173.32deg,#dbebf6 173.46deg,#e2eef8 173.60deg,#f0f6fc 173.74deg,#f2f8fc 173.88deg,#e5f0f9 174.02deg,#dcebf7 174.16deg,#fbfcfe 174.30deg,#f5f9fd 174.44deg,#e5f0f9 174.58deg,#e0edf8 174.72deg,#e5f0f9 174.86deg,#d1e5f4 175.00deg,#f4f9fd 175.14deg,#e7f1f9 175.28deg,#f5f9fd 175.42deg,#fdfeff 175.56deg,#f4f9fd 175.70deg,#eef5fb 175.84deg,#e8f2fa 175.98deg,#edf4fb 176.12deg,#f8fbfd 176.26deg,#fdfeff 176.40deg,#f2f8fc 176.54deg,#f2f7fc 176.68deg,#e8f2fa 176.82deg,#e4f0f9 176.96deg,#d3e6f4 177.10deg,#eff6fc 177.24deg,#f0f6fc 177.38deg,#e9f3fa 177.52deg,#daeaf6 177.67deg,#eef5fb 177.81deg,#fdfefe 177.95deg,#f2f7fc 178.09deg,#f8fbfe 178.23deg,#fafcfe 178.37deg,#edf4fb 178.51deg,#d9eaf6 178.65deg,#eef5fb 178.79deg,#ffffff 178.93deg,#f1f7fc 179.07deg,#dcebf7 179.21deg,#dfedf7 179.35deg,#e1eef8 179.49deg,#e3eff8 179.63deg,#eaf3fb 179.77deg,#dfedf7 179.91deg,#b0d3eb 180.05deg,#bad9ed 180.19deg,#dcebf7 180.33deg,#e9f2fa 180.47deg,#d5e7f5 180.61deg,#dcebf7 180.75deg,#a7cee8 180.89deg,#cee4f3 181.03deg,#b8d8ed 181.17deg,#bddaee 181.31deg,#a7cfe8 181.45deg,#8cc0e1 181.59deg,#a0cbe6 181.73deg,#8cc0e1 181.87deg,#59a5d3 182.01deg,#499ccd 182.15deg,#53a2d1 182.29deg,#76b4db 182.43deg,#58a4d2 182.57deg,#8ec1e2 182.71deg,#60a8d4 182.85deg,#3992c7 182.99deg,#4398cb 183.13deg,#61a9d5 183.27deg,#479acd 183.41deg,#61a9d5 183.55deg,#5ea8d4 183.69deg,#4f9fcf 183.83deg,#4c9ecf 183.97deg,#7eb8dd 184.11deg,#4b9dce 184.25deg,#62a9d5 184.39deg,#57a4d2 184.53deg,#4c9dce 184.67deg,#75b4da 184.81deg,#77b5db 184.95deg,#338ec5 185.09deg,#469acc 185.23deg,#65abd6 185.37deg,#60a9d5 185.51deg,#50a0d0 185.65deg,#60a8d4 185.79deg,#64aad6 185.93deg,#fff 185.93deg,#fff 187.46deg,#5ea8d4 187.46deg,#56a3d2 187.60deg,#308cc4 187.74deg,#7db8dd 187.88deg,#5ba6d3 188.02deg,#61a9d5 188.16deg,#54a2d1 188.30deg,#479acd 188.44deg,#5ba6d3 188.58deg,#57a4d2 188.72deg,#3d94c9 188.86deg,#7bb7dc 189.00deg,#489bcd 189.14deg,#499ccd 189.28deg,#469acc 189.42deg,#a3cde7 189.56deg,#a3cde7 189.70deg,#6baed8 189.84deg,#4b9dce 189.98deg,#68add7 190.12deg,#96c5e4 190.26deg,#4d9ecf 190.40deg,#4398cb 190.54deg,#8dc1e1 190.68deg,#74b3da 190.82deg,#90c2e2 190.96deg,#92c4e3 191.10deg,#8abfe1 191.24deg,#a0cbe6 191.38deg,#8dc1e1 191.52deg,#70b1d9 191.66deg,#b8d8ed 191.80deg,#b6d7ec 191.94deg,#e6f1f9 192.08deg,#9bc8e5 192.22deg,#cae1f2 192.36deg,#d5e7f5 192.50deg,#f7fafd 192.64deg,#b3d5eb 192.78deg,#e6f1f9 192.92deg,#eef5fb 193.06deg,#f1f7fc 193.20deg,#eef5fb 193.34deg,#f0f6fc 193.48deg,#f3f8fc 193.62deg,#f9fbfe 193.76deg,#f1f7fc 193.90deg,#f3f8fd 194.04deg,#f1f7fc 194.18deg,#f0f6fc 194.32deg,#f9fbfe 194.46deg,#e4eff9 194.60deg,#fefeff 194.74deg,#f9fcfe 194.88deg,#e0eef8 195.02deg,#cce2f2 195.17deg,#f6fafd 195.31deg,#f2f7fc 195.45deg,#b0d4eb 195.59deg,#bcdaee 195.73deg,#b8d7ed 195.87deg,#c7e0f1 196.01deg,#a1cbe7 196.15deg,#9cc9e5 196.29deg,#d2e6f4 196.43deg,#c7e0f1 196.57deg,#8ec1e2 196.71deg,#9bc8e5 196.85deg,#6fb0d9 196.99deg,#9ac8e5 197.13deg,#72b2da 197.27deg,#a4cde8 197.41deg,#79b6dc 197.55deg,#71b2d9 197.69deg,#99c7e5 197.83deg,#8cc0e1 197.97deg,#6dafd8 198.11deg,#83bcdf 198.25deg,#a6cee8 198.39deg,#7bb7dc 198.53deg,#60a9d5 198.67deg,#71b1d9 198.81deg,#8abfe1 198.95deg,#7fb9dd 199.09deg,#63aad5 199.23deg,#fff 199.23deg,#fff 200.76deg,#4b9dce 200.76deg,#4599cc 200.90deg,#87bde0 201.04deg,#72b2da 201.18deg,#75b4db 201.32deg,#4599cc 201.46deg,#3c93c8 201.60deg,#a0cbe6 201.74deg,#4f9fd0 201.89deg,#60a9d5 202.03deg,#73b3da 202.17deg,#479bcd 202.31deg,#82bbde 202.45deg,#56a3d2 202.59deg,#88bee0 202.73deg,#4b9dce 202.87deg,#7ab6dc 203.02deg,#7fb9dd 203.16deg,#a2cce7 203.30deg,#92c3e3 203.44deg,#5aa5d3 203.58deg,#67acd6 203.72deg,#82bbde 203.86deg,#97c6e4 204.00deg,#daeaf6 204.15deg,#b6d7ec 204.29deg,#9cc9e5 204.43deg,#add1ea 204.57deg,#9fcae6 204.71deg,#b6d7ec 204.85deg,#97c6e4 204.99deg,#c0dcef 205.13deg,#a7cfe8 205.28deg,#bfdbef 205.42deg,#eff6fc 205.56deg,#a6cee8 205.70deg,#e0edf8 205.84deg,#c8e0f1 205.98deg,#d2e6f4 206.12deg,#f2f7fc 206.26deg,#e1eef8 206.40deg,#e5f0f9 206.55deg,#e7f1fa 206.69deg,#f2f7fc 206.83deg,#e5f0f9 206.97deg,#f3f8fd 207.11deg,#f4f9fd 207.25deg,#eef5fb 207.39deg,#f5f9fd 207.53deg,#e6f1f9 207.68deg,#f3f8fc 207.82deg,#e9f3fa 207.96deg,#dfedf7 208.10deg,#f8fbfe 208.24deg,#c4def0 208.38deg,#dbebf6 208.52deg,#e9f2fa 208.66deg,#eff6fc 208.81deg,#d4e7f4 208.95deg,#f2f7fc 209.09deg,#e2eef8 209.23deg,#f0f7fc 209.37deg,#e3eff8 209.51deg,#e8f2fa 209.65deg,#e4f0f9 209.79deg,#dcebf7 209.94deg,#d7e9f5 210.08deg,#d0e5f3 210.22deg,#d4e7f4 210.36deg,#eff6fc 210.50deg,#eef5fb 210.64deg,#bedbee 210.78deg,#d9e9f6 210.92deg,#dfedf7 211.06deg,#d9eaf6 211.21deg,#cae1f2 211.35deg,#9ac8e5 211.49deg,#a4cde8 211.63deg,#bad9ed 211.77deg,#b3d5eb 211.91deg,#c0dcef 212.05deg,#c5dff0 212.19deg,#a1cbe7 212.34deg,#81bade 212.48deg,#9fcae6 212.62deg,#aad0e9 212.76deg,#8dc1e1 212.90deg,#97c6e4 213.04deg,#81bade 213.18deg,#6eb0d9 213.32deg,#8abfe1 213.47deg,#7eb9dd 213.61deg,#87bde0 213.75deg,#94c4e3 213.89deg,#76b4db 214.03deg,#92c4e3 214.17deg,#6db0d8 214.31deg,#81bade 214.45deg,#92c3e3 214.59deg,#fff 214.59deg,#fff 216.12deg,#cae1f2 216.12deg,#f5f9fd 216.26deg,#eef5fb 216.41deg,#daeaf6 216.55deg,#ecf4fb 216.69deg,#e8f2fa 216.83deg,#f5f9fd 216.97deg,#f7fbfd 217.11deg,#ecf4fb 217.25deg,#f6fafd 217.39deg,#f0f6fc 217.53deg,#ffffff 217.68deg,#fdfeff 217.82deg,#e2eef8 217.96deg,#eff5fc 218.10deg,#fdfefe 218.24deg,#e9f2fa 218.38deg,#e3eff9 218.52deg,#f5f9fd 218.66deg,#eff6fc 218.81deg,#e1eef8 218.95deg,#e3eff8 219.09deg,#edf4fb 219.23deg,#dcebf7 219.37deg,#deedf7 219.51deg,#f5f9fd 219.65deg,#cde3f2 219.79deg,#deecf7 219.94deg,#cce2f2 220.08deg,#dcebf7 220.22deg,#cee4f3 220.36deg,#bbd9ee 220.50deg,#daeaf6 220.64deg,#bfdbef 220.78deg,#d1e5f4 220.92deg,#e8f2fa 221.07deg,#dcebf7 221.21deg,#c9e1f1 221.35deg,#add2ea 221.49deg,#c5def0 221.63deg,#d7e8f5 221.77deg,#9ac8e5 221.91deg,#80bade 222.05deg,#a1cbe7 222.19deg,#9dc9e6 222.34deg,#a6cee8 222.48deg,#9ecae6 222.62deg,#91c3e2 222.76deg,#87bde0 222.90deg,#88bee0 223.04deg,#aad0e9 223.18deg,#90c2e2 223.32deg,#a2cce7 223.47deg,#7ab7dc 223.61deg,#78b6dc 223.75deg,#80bade 223.89deg,#91c3e2 224.03deg,#6aaed7 224.17deg,#7ab7dc 224.31deg,#70b1d9 224.45deg,#a3cce7 224.60deg,#74b3da 224.74deg,#84bcdf 224.88deg,#60a9d5 225.02deg,#4297cb 225.16deg,#54a2d1 225.30deg,#6cafd8 225.44deg,#7db8dd 225.58deg,#86bddf 225.72deg,#5ca6d3 225.87deg,#4b9dce 226.01deg,#3690c6 226.15deg,#87bde0 226.29deg,#65abd6 226.43deg,#4c9dce 226.57deg,#52a1d1 226.71deg,#5fa8d4 226.85deg,#93c4e3 227.00deg,#6bafd8 227.14deg,#54a2d1 227.28deg,#8fc2e2 227.42deg,#a3cce7 227.56deg,#5fa8d4 227.70deg,#4a9dce 227.84deg,#52a1d1 227.98deg,#5aa5d3 228.13deg,#69add7 228.27deg,#72b2da 228.41deg,#4e9fcf 228.55deg,#60a8d4 228.69deg,#74b3da 228.83deg,#54a2d1 228.97deg,#62aad5 229.11deg,#a9d0e9 229.25deg,#479acd 229.40deg,#6fb1d9 229.54deg,#58a4d2 229.68deg,#65abd6 229.82deg,#5ca6d3 229.96deg,#76b4db 230.10deg,#60a9d5 230.24deg,#67acd7 230.38deg,#50a0d0 230.53deg,#4b9dce 230.67deg,#90c2e2 230.81deg,#51a1d0 230.95deg,#79b6dc 231.09deg,#59a5d3 231.23deg,#479acd 231.37deg,#499bcd 231.51deg,#4b9dce 231.66deg,#fff 231.66deg,#fff 233.18deg,#56a3d2 233.18deg,#4c9ecf 233.32deg,#308cc4 233.47deg,#bddaee 233.61deg,#77b5db 233.75deg,#469acc 233.89deg,#3c94c9 234.03deg,#5fa8d4 234.17deg,#54a2d1 234.31deg,#5ba6d3 234.45deg,#59a5d3 234.59deg,#55a3d1 234.73deg,#66acd6 234.88deg,#5ba6d3 235.02deg,#70b1d9 235.16deg,#99c7e4 235.30deg,#62aad5 235.44deg,#a1cbe7 235.58deg,#b2d4eb 235.72deg,#92c3e3 235.86deg,#95c5e3 236.00deg,#bfdbef 236.14deg,#add2ea 236.29deg,#54a2d1 236.43deg,#acd1ea 236.57deg,#d1e5f3 236.71deg,#b1d4eb 236.85deg,#dfedf8 236.99deg,#c6dff1 237.13deg,#cbe2f2 237.27deg,#c3def0 237.41deg,#a8cfe9 237.55deg,#e9f3fa 237.70deg,#b2d4eb 237.84deg,#dbebf6 237.98deg,#eef5fb 238.12deg,#b7d7ec 238.26deg,#c5def0 238.40deg,#ecf4fb 238.54deg,#cbe2f2 238.68deg,#b0d3eb 238.82deg,#e1eef8 238.96deg,#dcebf7 239.11deg,#a2cce7 239.25deg,#deecf7 239.39deg,#e7f1fa 239.53deg,#eef5fb 239.67deg,#d7e8f5 239.81deg,#edf4fb 239.95deg,#edf5fb 240.09deg,#e9f2fa 240.23deg,#ddecf7 240.37deg,#d9e9f6 240.52deg,#f8fbfe 240.66deg,#f0f7fc 240.80deg,#cbe2f2 240.94deg,#cfe4f3 241.08deg,#fdfeff 241.22deg,#ebf3fb 241.36deg,#d7e9f5 241.50deg,#f6fafd 241.64deg,#ffffff 241.78deg,#eef5fb 241.93deg,#f0f6fc 242.07deg,#f4f9fd 242.21deg,#e2eff8 242.35deg,#eef5fb 242.49deg,#dfedf7 242.63deg,#b7d7ed 242.77deg,#f1f7fc 242.91deg,#cce2f2 243.05deg,#d5e7f5 243.19deg,#ecf4fb 243.34deg,#fcfdfe 243.48deg,#deecf7 243.62deg,#e9f2fa 243.76deg,#e5f0f9 243.90deg,#eff6fc 244.04deg,#ddecf7 244.18deg,#e7f1fa 244.32deg,#eef5fc 244.46deg,#d1e5f4 244.60deg,#feffff 244.75deg,#d7e8f5 244.89deg,#eff6fc 245.03deg,#f3f8fc 245.17deg,#eef5fb 245.31deg,#f2f7fc 245.45deg,#dfedf7 245.59deg,#f8fbfe 245.73deg,#fbfdfe 245.87deg,#eef5fb 246.01deg,#b6d7ec 246.16deg,#e0edf8 246.30deg,#f3f8fd 246.44deg,#d8e9f6 246.58deg,#f5f9fd 246.72deg,#e4f0f9 246.86deg,#ecf4fb 247.00deg,#eff6fc 247.14deg,#eaf3fb 247.28deg,#dfedf8 247.42deg,#eef5fb 247.57deg,#deecf7 247.71deg,#cfe4f3 247.85deg,#d7e8f5 247.99deg,#bcdaee 248.13deg,#e3eff9 248.27deg,#e0eef8 248.41deg,#d3e6f4 248.55deg,#cee3f3 248.69deg,#d0e5f3 248.83deg,#e0eef8 248.98deg,#9bc8e5 249.12deg,#a9d0e9 249.26deg,#b4d5ec 249.40deg,#d1e5f3 249.54deg,#a2cce7 249.68deg,#a2cce7 249.82deg,#fff 249.82deg,#fff 251.35deg,#82bbde 251.35deg,#5aa6d3 251.49deg,#70b1d9 251.63deg,#63aad5 251.77deg,#4e9fcf 251.91deg,#7eb9dd 252.05deg,#5ea8d4 252.20deg,#5ea8d4 252.34deg,#52a1d0 252.48deg,#4a9cce 252.62deg,#77b5db 252.76deg,#6bafd8 252.90deg,#62aad5 253.04deg,#52a1d1 253.18deg,#67acd7 253.32deg,#91c3e2 253.46deg,#5ea7d4 253.60deg,#50a0d0 253.75deg,#81bade 253.89deg,#6cafd8 254.03deg,#88bee0 254.17deg,#4b9dce 254.31deg,#57a4d2 254.45deg,#7bb7dc 254.59deg,#56a3d2 254.73deg,#489bcd 254.87deg,#79b6dc 255.01deg,#b8d8ed 255.16deg,#7db8dd 255.30deg,#63aad6 255.44deg,#82bbde 255.58deg,#9dc9e6 255.72deg,#5ca7d4 255.86deg,#96c6e4 256.00deg,#81bade 256.14deg,#87bde0 256.28deg,#b1d4eb 256.42deg,#9ecae6 256.56deg,#91c3e2 256.71deg,#c4def0 256.85deg,#c6dff0 256.99deg,#cfe4f3 257.13deg,#cee4f3 257.27deg,#bbd9ee 257.41deg,#f0f7fc 257.55deg,#c0dcef 257.69deg,#cde3f3 257.83deg,#e3eff8 257.97deg,#eff6fc 258.12deg,#d9e9f6 258.26deg,#d3e6f4 258.40deg,#e4f0f9 258.54deg,#f1f7fc 258.68deg,#e7f1fa 258.82deg,#eef5fb 258.96deg,#eff6fc 259.10deg,#fdfeff 259.24deg,#d1e5f4 259.38deg,#f9fbfe 259.52deg,#ddecf7 259.67deg,#f4f9fd 259.81deg,#f5f9fd 259.95deg,#f0f6fc 260.09deg,#eef5fb 260.23deg,#e6f1f9 260.37deg,#eef5fb 260.51deg,#eaf3fa 260.65deg,#f4f9fd 260.79deg,#d2e5f4 260.93deg,#eff6fc 261.08deg,#ebf4fb 261.22deg,#c9e1f1 261.36deg,#f9fbfe 261.50deg,#ecf4fb 261.64deg,#dcebf7 261.78deg,#e2eff8 261.92deg,#eef5fb 262.06deg,#f9fcfe 262.20deg,#eef5fb 262.34deg,#deedf7 262.48deg,#f0f7fc 262.63deg,#e4f0f9 262.77deg,#ffffff 262.91deg,#d1e5f4 263.05deg,#f4f8fd 263.19deg,#f9fbfe 263.33deg,#fcfdfe 263.47deg,#eff6fc 263.61deg,#e6f1f9 263.75deg,#e4f0f9 263.89deg,#d7e9f5 264.04deg,#fefeff 264.18deg,#f0f7fc 264.32deg,#f1f7fc 264.46deg,#f3f8fd 264.60deg,#f6fafd 264.74deg,#bbd9ee 264.88deg,#d2e6f4 265.02deg,#d7e8f5 265.16deg,#eef5fb 265.30deg,#c6dff1 265.44deg,#f3f8fc 265.59deg,#ecf4fb 265.73deg,#a6cee8 265.87deg,#d8e9f5 266.01deg,#d2e6f4 266.15deg,#d9e9f6 266.29deg,#cfe4f3 266.43deg,#a9d0e9 266.57deg,#a8cfe9 266.71deg,#d0e4f3 266.85deg,#e5f0f9 267.00deg,#cfe4f3 267.14deg,#c9e1f1 267.28deg,#cae1f2 267.42deg,#cee3f3 267.56deg,#bfdbef 267.70deg,#d1e5f4 267.84deg,#e3eff8 267.98deg,#cee3f3 268.12deg,#cce3f2 268.26deg,#bad9ed 268.40deg,#bedbee 268.55deg,#b6d7ec 268.69deg,#bbd9ee 268.83deg,#d9eaf6 268.97deg,#fff 268.97deg,#fff 270.50deg,#58a4d2 270.50deg,#54a2d1 270.64deg,#59a5d3 270.78deg,#59a5d3 270.92deg,#4c9ecf 271.06deg,#71b2d9 271.20deg,#6bafd8 271.34deg,#8ec1e2 271.48deg,#64abd6 271.62deg,#3c93c8 271.76deg,#86bddf 271.90deg,#75b4db 272.04deg,#67acd7 272.18deg,#6cafd8 272.32deg,#7ab7dc 272.46deg,#6aaed7 272.60deg,#a7cfe8 272.74deg,#9dc9e5 272.88deg,#b7d7ec 273.02deg,#9ac7e5 273.16deg,#b1d4eb 273.30deg,#cbe2f2 273.44deg,#9fcae6 273.58deg,#a7cfe8 273.72deg,#e1eef8 273.86deg,#cce3f2 274.01deg,#d6e8f5 274.15deg,#c8e0f1 274.29deg,#dbeaf6 274.43deg,#d2e6f4 274.57deg,#ecf4fb 274.71deg,#ecf4fb 274.85deg,#eef5fb 274.99deg,#f9fbfe 275.13deg,#f2f8fc 275.27deg,#d7e8f5 275.41deg,#c9e1f2 275.55deg,#ffffff 275.69deg,#cae1f2 275.83deg,#f3f8fc 275.97deg,#ffffff 276.11deg,#eef5fc 276.25deg,#f8fbfe 276.39deg,#f1f7fc 276.53deg,#f3f8fd 276.67deg,#fcfdfe 276.81deg,#e1eef8 276.95deg,#edf4fb 277.09deg,#eef5fb 277.23deg,#daeaf6 277.37deg,#eef5fb 277.51deg,#ffffff 277.65deg,#cde3f2 277.79deg,#ddecf7 277.93deg,#d8e9f6 278.07deg,#cce2f2 278.22deg,#c3def0 278.36deg,#e3eff9 278.50deg,#cde3f2 278.64deg,#eaf3fa 278.78deg,#d8e9f5 278.92deg,#c4def0 279.06deg,#d6e8f5 279.20deg,#e1eef8 279.34deg,#b7d7ed 279.48deg,#dcebf7 279.62deg,#e3eff8 279.76deg,#e7f1fa 279.90deg,#e3eff9 280.04deg,#aad0e9 280.18deg,#bddaee 280.32deg,#9dc9e6 280.46deg,#a1cbe7 280.60deg,#a0cbe6 280.74deg,#74b3da 280.88deg,#7bb7dc 281.02deg,#78b6db 281.16deg,#74b3da 281.30deg,#7db8dd 281.44deg,#81bade 281.58deg,#70b1d9 281.72deg,#6baed8 281.86deg,#4e9fcf 282.00deg,#6fb0d9 282.14deg,#84bcdf 282.29deg,#6aaed7 282.43deg,#59a5d3 282.57deg,#4599cc 282.71deg,#6fb0d9 282.85deg,#66acd6 282.99deg,#65abd6 283.13deg,#4599cc 283.27deg,#4d9ecf 283.41deg,#fff 283.41deg,#fff 284.94deg,#7cb8dd 284.94deg,#5ba6d3 285.08deg,#a5cde8 285.22deg,#77b5db 285.36deg,#4d9ecf 285.50deg,#4c9dce 285.64deg,#5da7d4 285.78deg,#53a1d1 285.92deg,#4297cb 286.06deg,#b1d4eb 286.20deg,#68add7 286.34deg,#3690c6 286.48deg,#91c3e2 286.62deg,#489bcd 286.76deg,#7db8dd 286.90deg,#5da7d4 287.04deg,#489bcd 287.18deg,#66acd6 287.32deg,#4c9ecf 287.47deg,#308cc4 287.61deg,#53a2d1 287.75deg,#73b3da 287.89deg,#77b5db 288.03deg,#7fb9dd 288.17deg,#80bade 288.31deg,#87bde0 288.45deg,#aad0e9 288.59deg,#8abfe0 288.73deg,#98c6e4 288.87deg,#92c3e3 289.01deg,#91c3e2 289.15deg,#95c5e3 289.29deg,#a2cce7 289.43deg,#b4d5ec 289.57deg,#d2e6f4 289.71deg,#c2ddef 289.85deg,#aad0e9 290.00deg,#eef5fb 290.14deg,#daeaf6 290.28deg,#f5f9fd 290.42deg,#c8e0f1 290.56deg,#d7e9f5 290.70deg,#d6e8f5 290.84deg,#deecf7 290.98deg,#ebf4fb 291.12deg,#f3f8fc 291.26deg,#f5f9fd 291.40deg,#edf4fb 291.54deg,#f2f8fc 291.68deg,#eef5fb 291.82deg,#f7fafd 291.96deg,#d7e8f5 292.10deg,#fcfdfe 292.24deg,#d7e8f5 292.38deg,#edf4fb 292.53deg,#eef5fc 292.67deg,#f4f9fd 292.81deg,#cce3f2 292.95deg,#e9f3fa 293.09deg,#ffffff 293.23deg,#f5f9fd 293.37deg,#ddecf7 293.51deg,#eef5fb 293.65deg,#e2eff8 293.79deg,#e9f3fa 293.93deg,#eff6fc 294.07deg,#cae2f2 294.21deg,#f9fbfe 294.35deg,#edf5fb 294.49deg,#ebf3fb 294.63deg,#e3eff9 294.77deg,#c6dff1 294.91deg,#e1eef8 295.05deg,#b3d5eb 295.20deg,#9cc9e5 295.34deg,#dfedf7 295.48deg,#deecf7 295.62deg,#deecf7 295.76deg,#c8e0f1 295.90deg,#d5e7f5 296.04deg,#dfedf7 296.18deg,#d6e8f5 296.32deg,#bcd9ee 296.46deg,#b3d5eb 296.60deg,#b8d8ed 296.74deg,#a2cce7 296.88deg,#9ecae6 297.02deg,#92c3e3 297.16deg,#d2e6f4 297.30deg,#8ec1e2 297.44deg,#9cc9e5 297.58deg,#6eb0d8 297.73deg,#a9cfe9 297.87deg,#7fb9dd 298.01deg,#77b5db 298.15deg,#78b6db 298.29deg,#69aed7 298.43deg,#86bddf 298.57deg,#acd1ea 298.71deg,#9cc9e5 298.85deg,#5ea8d4 298.99deg,#4c9ecf 299.13deg,#fff 299.13deg,#fff 300.66deg,#56a3d2 300.66deg,#67acd7 300.80deg,#6cafd8 300.94deg,#8ec1e2 301.08deg,#4c9ecf 301.22deg,#56a3d2 301.36deg,#51a1d0 301.50deg,#52a1d1 301.64deg,#8fc2e2 301.79deg,#78b6db 301.93deg,#84bcdf 302.07deg,#5ca6d3 302.21deg,#74b3da 302.35deg,#8ec1e2 302.49deg,#89bfe0 302.63deg,#7db8dd 302.77deg,#7cb8dd 302.91deg,#b3d5ec 303.05deg,#9dc9e5 303.19deg,#7eb9dd 303.34deg,#80b9de 303.48deg,#96c5e4 303.62deg,#8fc1e2 303.76deg,#8abfe1 303.90deg,#dbeaf6 304.04deg,#a8cfe9 304.18deg,#87bde0 304.32deg,#a0cbe6 304.46deg,#93c4e3 304.60deg,#daeaf6 304.74deg,#d9eaf6 304.89deg,#c6dff1 305.03deg,#92c3e3 305.17deg,#b8d8ed 305.31deg,#bfdcef 305.45deg,#b9d8ed 305.59deg,#bcdaee 305.73deg,#c5dff0 305.87deg,#d9e9f6 306.01deg,#e3eff8 306.15deg,#cbe2f2 306.29deg,#eaf3fa 306.43deg,#edf5fb 306.58deg,#c6dff0 306.72deg,#cce2f2 306.86deg,#d1e5f3 307.00deg,#c6dff1 307.14deg,#e1eef8 307.28deg,#e2eef8 307.42deg,#f1f7fc 307.56deg,#d6e8f5 307.70deg,#e0eef8 307.84deg,#dfedf7 307.98deg,#d4e7f4 308.13deg,#cee3f3 308.27deg,#c8e0f1 308.41deg,#e2eff8 308.55deg,#eff5fc 308.69deg,#d6e8f5 308.83deg,#e6f1f9 308.97deg,#c5dff0 309.11deg,#f4f9fd 309.25deg,#e1eef8 309.39deg,#eff6fc 309.53deg,#eff6fc 309.68deg,#dcebf7 309.82deg,#e8f2fa 309.96deg,#f8fbfe 310.10deg,#f7fafd 310.24deg,#f6fafd 310.38deg,#ecf4fb 310.52deg,#d4e7f4 310.66deg,#ddecf7 310.80deg,#dbebf6 310.94deg,#f3f8fc 311.08deg,#cfe4f3 311.22deg,#cfe4f3 311.37deg,#cae1f2 311.51deg,#e9f2fa 311.65deg,#eaf3fa 311.79deg,#eff6fc 311.93deg,#e0edf8 312.07deg,#dcebf7 312.21deg,#ebf3fb 312.35deg,#e0eef8 312.49deg,#edf5fb 312.63deg,#c0dcef 312.77deg,#d3e6f4 312.92deg,#ecf4fb 313.06deg,#d9e9f6 313.20deg,#e6f1f9 313.34deg,#deedf7 313.48deg,#d8e9f5 313.62deg,#e4f0f9 313.76deg,#8dc1e1 313.90deg,#d3e6f4 314.04deg,#d6e8f5 314.18deg,#d9e9f6 314.32deg,#afd3ea 314.47deg,#d3e6f4 314.61deg,#afd3eb 314.75deg,#c5dff0 314.89deg,#cfe4f3 315.03deg,#c4def0 315.17deg,#c1dcef 315.31deg,#d3e6f4 315.45deg,#bcdaee 315.59deg,#cce2f2 315.73deg,#cee4f3 315.87deg,#b2d4eb 316.01deg,#b3d5ec 316.16deg,#a4cde7 316.30deg,#a9d0e9 316.44deg,#95c5e3 316.58deg,#87bde0 316.72deg,#78b6dc 316.86deg,#a0cbe6 317.00deg,#aed2ea 317.14deg,#98c7e4 317.28deg,#c6dff1 317.42deg,#91c3e2 317.56deg,#89bfe0 317.71deg,#58a4d2 317.85deg,#a9d0e9 317.99deg,#8ec1e2 318.13deg,#82bbde 318.27deg,#96c5e4 318.41deg,#67acd6 318.55deg,#8ec1e2 318.69deg,#9ac7e5 318.83deg,#63aad6 318.97deg,#76b4db 319.11deg,#66acd6 319.26deg,#469acc 319.40deg,#4499cc 319.54deg,#65abd6 319.68deg,#67acd7 319.82deg,#73b3da 319.96deg,#3c94c9 320.10deg,#86bddf 320.24deg,#71b2da 320.38deg,#fff 320.38deg,#fff 321.91deg,#91c3e2 321.91deg,#85bddf 322.05deg,#71b2d9 322.19deg,#81bbde 322.33deg,#97c6e4 322.47deg,#add2ea 322.61deg,#96c5e4 322.75deg,#8ec1e1 322.89deg,#8cc0e1 323.04deg,#cde3f2 323.18deg,#96c5e4 323.32deg,#c3def0 323.46deg,#b1d4eb 323.60deg,#cfe4f3 323.74deg,#bfdbef 323.88deg,#b3d5eb 324.02deg,#c1dcef 324.16deg,#b9d8ed 324.30deg,#e0edf8 324.44deg,#d4e7f4 324.58deg,#d4e7f5 324.72deg,#eef5fb 324.86deg,#dbebf6 325.00deg,#e4eff9 325.14deg,#e6f1f9 325.29deg,#cae1f2 325.43deg,#e4eff9 325.57deg,#eff5fc 325.71deg,#dfedf7 325.85deg,#e6f1f9 325.99deg,#f0f6fc 326.13deg,#edf5fb 326.27deg,#e6f0f9 326.41deg,#f8fbfe 326.55deg,#f8fbfd 326.69deg,#f1f7fc 326.83deg,#f0f6fc 326.97deg,#f1f7fc 327.11deg,#d4e7f5 327.25deg,#eff6fc 327.39deg,#f7fafd 327.54deg,#fcfdfe 327.68deg,#dbebf6 327.82deg,#f8fbfd 327.96deg,#dcebf7 328.10deg,#eff6fc 328.24deg,#f0f6fc 328.38deg,#eaf3fb 328.52deg,#eff6fc 328.66deg,#d5e7f5 328.80deg,#fafcfe 328.94deg,#d4e7f4 329.08deg,#deecf7 329.22deg,#eef5fb 329.36deg,#ffffff 329.50deg,#eaf3fa 329.64deg,#ecf4fb 329.79deg,#ecf4fb 329.93deg,#fbfdfe 330.07deg,#f3f8fc 330.21deg,#fafcfe 330.35deg,#eff5fc 330.49deg,#dbebf6 330.63deg,#a0cbe6 330.77deg,#e6f1f9 330.91deg,#d8e9f6 331.05deg,#d2e6f4 331.19deg,#c7dff1 331.33deg,#b2d5eb 331.47deg,#d4e7f4 331.61deg,#b3d5ec 331.75deg,#eff5fc 331.90deg,#d2e5f4 332.04deg,#c2ddef 332.18deg,#b5d6ec 332.32deg,#d6e8f5 332.46deg,#ecf4fb 332.60deg,#c9e1f1 332.74deg,#cee3f3 332.88deg,#cbe2f2 333.02deg,#a5cde8 333.16deg,#9ecae6 333.30deg,#8abfe0 333.44deg,#a9cfe9 333.58deg,#76b4db 333.72deg,#a9d0e9 333.86deg,#b9d8ed 334.00deg,#91c3e2 334.15deg,#b5d6ec 334.29deg,#6aaed8 334.43deg,#7cb7dc 334.57deg,#92c3e3 334.71deg,#b0d3eb 334.85deg,#c5dff0 334.99deg,#70b1d9 335.13deg,#5fa8d4 335.27deg,#61a9d5 335.41deg,#7fb9de 335.55deg,#3690c6 335.69deg,#7ab6dc 335.83deg,#6cafd8 335.97deg,#6aaed7 336.11deg,#53a2d1 336.25deg,#68add7 336.40deg,#90c2e2 336.54deg,#75b4db 336.68deg,#76b4db 336.82deg,#5ba6d3 336.96deg,#62aad5 337.10deg,#67acd7 337.24deg,#469acc 337.38deg,#4a9cce 337.52deg,#61a9d5 337.66deg,#58a4d2 337.80deg,#72b2da 337.94deg,#4fa0d0 338.08deg,#57a4d2 338.22deg,#59a5d3 338.36deg,#78b5db 338.50deg,#4d9ecf 338.65deg,#499ccd 338.79deg,#499ccd 338.93deg,#4197ca 339.07deg,#4197ca 339.21deg,#fff 339.21deg,#fff 340.74deg,#94c4e3 340.74deg,#80bade 340.88deg,#9ecae6 341.02deg,#72b2da 341.16deg,#a9d0e9 341.30deg,#62aad5 341.44deg,#c3def0 341.58deg,#b6d6ec 341.72deg,#cae1f2 341.86deg,#8dc1e1 342.00deg,#d0e4f3 342.14deg,#dbebf6 342.28deg,#d4e7f4 342.42deg,#e3eff8 342.56deg,#cfe4f3 342.70deg,#edf4fb 342.84deg,#dfedf7 342.98deg,#cce2f2 343.12deg,#e3eff9 343.27deg,#cde3f3 343.41deg,#cce2f2 343.55deg,#f5f9fd 343.69deg,#e4f0f9 343.83deg,#eef5fb 343.97deg,#deedf7 344.11deg,#eaf3fa 344.25deg,#f1f7fc 344.39deg,#cee4f3 344.53deg,#ecf4fb 344.67deg,#e2eff8 344.81deg,#dbebf6 344.95deg,#f1f7fc 345.09deg,#ffffff 345.23deg,#eaf3fa 345.37deg,#f6fafd 345.51deg,#e8f2fa 345.65deg,#ecf4fb 345.79deg,#d9e9f6 345.94deg,#f3f8fd 346.08deg,#eef5fb 346.22deg,#f5f9fd 346.36deg,#c9e1f1 346.50deg,#edf5fb 346.64deg,#ddecf7 346.78deg,#ddecf7 346.92deg,#eff6fc 347.06deg,#f0f7fc 347.20deg,#ecf4fb 347.34deg,#f1f7fc 347.48deg,#f5f9fd 347.62deg,#fbfcfe 347.76deg,#f2f7fc 347.90deg,#f1f7fc 348.04deg,#f0f6fc 348.18deg,#eaf3fb 348.32deg,#dfedf7 348.46deg,#dcebf7 348.60deg,#e0edf8 348.75deg,#ebf3fb 348.89deg,#eef5fb 349.03deg,#edf5fb 349.17deg,#b7d7ec 349.31deg,#96c5e4 349.45deg,#f4f9fd 349.59deg,#d0e5f3 349.73deg,#c2ddef 349.87deg,#f6fafd 350.01deg,#cfe4f3 350.15deg,#dfedf8 350.29deg,#e6f1f9 350.43deg,#c4def0 350.57deg,#bedbee 350.71deg,#c5def0 350.85deg,#cce3f2 350.99deg,#c0dcef 351.13deg,#abd1e9 351.27deg,#cae2f2 351.41deg,#92c3e3 351.56deg,#90c2e2 351.70deg,#81bade 351.84deg,#6aaed8 351.98deg,#7cb7dc 352.12deg,#5ba6d3 352.26deg,#79b6dc 352.40deg,#93c4e3 352.54deg,#58a4d2 352.68deg,#6cafd8 352.82deg,#65abd6 352.96deg,#4f9fd0 353.10deg,#5ea8d4 353.24deg,#59a5d3 353.38deg,#54a2d1 353.52deg,#61a9d5 353.66deg,#4e9fcf 353.80deg,#4499cc 353.94deg,#68add7 354.08deg,#3a92c8 354.23deg,#4c9dce 354.37deg,#4a9cce 354.51deg,#64abd6 354.65deg,#80bade 354.79deg,#5da7d4 354.93deg,#52a1d1 355.07deg,#6fb1d9 355.21deg,#469acc 355.35deg,#65abd6 355.49deg,#469acc 355.63deg,#6aaed7 355.77deg,#52a1d0 355.91deg,#5aa5d3 356.05deg,#4f9fd0 356.19deg,#4a9cce 356.33deg,#53a2d1 356.47deg,#70b1d9 356.61deg,#3d94c9 356.75deg,#91c3e2 356.89deg,#7cb8dd 357.04deg,#fff 357.04deg,#fff 360deg)"></div>
<div class="d" style="left:312.0px;top:120.0px;width:1372.0px;height:1372.0px;background:conic-gradient(#fff 0deg,#fff 5.03deg,#87cf66 5.03deg,#7ecb61 5.17deg,#87cf66 5.31deg,#5dbd51 5.45deg,#75c75d 5.59deg,#61bf53 5.73deg,#aadc7a 5.87deg,#66c156 6.01deg,#89cf66 6.15deg,#49b548 6.30deg,#9dd772 6.44deg,#87ce65 6.58deg,#9ad671 6.72deg,#74c75c 6.86deg,#7bca60 7.00deg,#bde385 7.14deg,#c3e689 7.28deg,#a4da77 7.42deg,#b8e182 7.56deg,#e6f2a5 7.70deg,#c6e78a 7.84deg,#eef5ac 7.98deg,#c9e88c 8.12deg,#edf5ab 8.26deg,#f6f6b9 8.40deg,#f6f6b9 8.54deg,#edf5ab 8.69deg,#f7f6bb 8.83deg,#f7f7bb 8.97deg,#f7f6ba 9.11deg,#f6f6b9 9.25deg,#fbf9ca 9.39deg,#faf7bf 9.53deg,#f1f6b1 9.67deg,#f2f6b3 9.81deg,#f1f5b1 9.95deg,#f1f6b1 10.09deg,#f9f7bf 10.23deg,#f9f7be 10.37deg,#f4f6b5 10.51deg,#e7f3a6 10.65deg,#eaf4a8 10.79deg,#f7f6bb 10.93deg,#f9f7be 11.07deg,#f6f6ba 11.22deg,#f9f7bf 11.36deg,#e9f3a7 11.50deg,#f4f6b6 11.64deg,#fbf8c7 11.78deg,#f8f7bd 11.92deg,#f2f6b3 12.06deg,#f9f7be 12.20deg,#f0f5af 12.34deg,#f2f6b3 12.48deg,#e2f1a2 12.62deg,#f6f6ba 12.76deg,#f4f6b6 12.90deg,#dcee9c 13.04deg,#f4f6b7 13.18deg,#f1f6b1 13.32deg,#f3f6b4 13.46deg,#d6ed97 13.61deg,#e2f1a1 13.75deg,#eaf4a9 13.89deg,#e8f3a6 14.03deg,#f9f7bf 14.17deg,#e6f2a5 14.31deg,#eef5ac 14.45deg,#eef5ac 14.59deg,#cde98e 14.73deg,#aadc7a 14.87deg,#9ad671 15.01deg,#e1f0a0 15.15deg,#acdd7b 15.29deg,#c9e88c 15.43deg,#b3e07f 15.57deg,#c4e689 15.71deg,#d7ed98 15.85deg,#d8ed99 16.00deg,#9ad671 16.14deg,#74c75c 16.28deg,#81cc62 16.42deg,#bfe486 16.56deg,#b2df7f 16.70deg,#41ae44 16.84deg,#bce384 16.98deg,#d0ea91 17.12deg,#b0de7d 17.26deg,#9fd874 17.40deg,#72c65c 17.54deg,#9ad671 17.68deg,#d6ed97 17.82deg,#ddef9d 17.96deg,#d0eb92 18.10deg,#d9ee9a 18.24deg,#e3f1a2 18.39deg,#e0f09f 18.53deg,#dcef9c 18.67deg,#dbee9c 18.81deg,#d3eb94 18.95deg,#bae283 19.09deg,#b2df7f 19.23deg,#e0f09f 19.37deg,#dbee9b 19.51deg,#e3f1a2 19.65deg,#9dd773 19.79deg,#cbe88d 19.93deg,#8ed169 20.07deg,#b0de7e 20.21deg,#cae88d 20.35deg,#94d46d 20.49deg,#b8e182 20.63deg,#62c054 20.78deg,#a8db79 20.92deg,#c5e68a 21.06deg,#d7ed98 21.20deg,#80cc62 21.34deg,#d2eb93 21.48deg,#51b94c 21.62deg,#c5e68a 21.76deg,#d0ea91 21.90deg,#d9ee9a 22.04deg,#f2f6b3 22.18deg,#fbf8c5 22.32deg,#d7ed98 22.46deg,#d1eb92 22.60deg,#f0f5b0 22.74deg,#eff5ae 22.88deg,#f2f6b3 23.02deg,#d5ec96 23.16deg,#cfea90 23.31deg,#e2f1a1 23.45deg,#deef9e 23.59deg,#bbe284 23.73deg,#d7ed98 23.87deg,#9ed773 24.01deg,#e6f2a5 24.15deg,#e3f1a2 24.29deg,#fff 24.29deg,#fff 25.82deg,#d7ed97 25.82deg,#eef5ac 25.96deg,#e6f2a5 26.10deg,#f3f6b5 26.24deg,#cbe98e 26.38deg,#b6e181 26.52deg,#e0f0a0 26.66deg,#eef5ac 26.81deg,#e0f09f 26.95deg,#eaf4a9 27.09deg,#f0f5b0 27.23deg,#e1f0a0 27.37deg,#e4f1a3 27.51deg,#e2f1a2 27.65deg,#d8ed98 27.79deg,#f1f6b1 27.93deg,#cde98e 28.08deg,#cce98e 28.22deg,#dcef9d 28.36deg,#f3f6b5 28.50deg,#f1f6b2 28.64deg,#f5f6b8 28.78deg,#d6ed97 28.92deg,#ecf4aa 29.06deg,#e5f2a4 29.20deg,#dcef9c 29.35deg,#d8ed99 29.49deg,#d2eb93 29.63deg,#eef5ad 29.77deg,#e7f3a6 29.91deg,#f9f7be 30.05deg,#d2eb93 30.19deg,#e8f3a7 30.33deg,#f3f6b4 30.48deg,#f6f6b9 30.62deg,#f2f6b3 30.76deg,#d9ed99 30.90deg,#e9f3a8 31.04deg,#fbf8c7 31.18deg,#f5f6b8 31.32deg,#f3f6b5 31.46deg,#ddef9d 31.60deg,#daee9a 31.75deg,#f6f6b9 31.89deg,#f2f6b3 32.03deg,#fbf8c5 32.17deg,#f1f6b1 32.31deg,#f3f6b4 32.45deg,#f5f6b8 32.59deg,#f9f7bf 32.73deg,#fbf9cc 32.87deg,#f4f6b6 33.02deg,#fcfacd 33.16deg,#f6f6b9 33.30deg,#fbf8c6 33.44deg,#fcfacd 33.58deg,#faf8c3 33.72deg,#eef5ac 33.86deg,#faf7bf 34.00deg,#f8f7bc 34.14deg,#dbee9b 34.29deg,#f4f6b5 34.43deg,#f7f7bb 34.57deg,#f5f6b8 34.71deg,#f2f6b3 34.85deg,#f0f5af 34.99deg,#faf7c1 35.13deg,#edf5ab 35.27deg,#f1f5b0 35.42deg,#eff5ae 35.56deg,#f0f5af 35.70deg,#fbf9cb 35.84deg,#eff5ad 35.98deg,#c1e588 36.12deg,#e0f09f 36.26deg,#e7f3a6 36.40deg,#e0f0a0 36.54deg,#ebf4aa 36.69deg,#eaf4a9 36.83deg,#d5ec96 36.97deg,#e0f0a0 37.11deg,#79c95f 37.25deg,#bfe486 37.39deg,#6ec459 37.53deg,#b6e181 37.67deg,#d9ed99 37.81deg,#bce384 37.96deg,#bbe384 38.10deg,#b5e080 38.24deg,#99d570 38.38deg,#a3d976 38.52deg,#96d56e 38.66deg,#a3d976 38.80deg,#c7e78b 38.94deg,#90d26b 39.08deg,#b2df7f 39.23deg,#eff5ae 39.37deg,#d6ed97 39.51deg,#abdc7b 39.65deg,#e9f3a8 39.79deg,#c7e78b 39.93deg,#cde98f 40.07deg,#c4e689 40.21deg,#b2df7f 40.36deg,#e1f0a0 40.50deg,#d0ea91 40.64deg,#8cd169 40.78deg,#d5ec96 40.92deg,#b5e080 41.06deg,#d0ea92 41.20deg,#e0f09f 41.34deg,#c4e689 41.48deg,#e3f1a2 41.63deg,#c2e588 41.77deg,#e5f2a4 41.91deg,#e7f2a6 42.05deg,#e1f0a0 42.19deg,#daee9a 42.33deg,#fff 42.33deg,#fff 43.86deg,#8fd26a 43.86deg,#a6db78 44.00deg,#8fd26a 44.14deg,#249638 44.28deg,#61bf53 44.42deg,#7ecb61 44.56deg,#51b94b 44.70deg,#249638 44.84deg,#77c85e 44.98deg,#6cc458 45.12deg,#66c155 45.26deg,#34a33f 45.40deg,#69c357 45.54deg,#44b145 45.68deg,#9cd772 45.82deg,#88cf66 45.96deg,#b6e181 46.10deg,#75c75d 46.24deg,#e4f1a3 46.38deg,#ceea8f 46.52deg,#cfea90 46.66deg,#a8db79 46.80deg,#daee9b 46.94deg,#daee9b 47.08deg,#d1eb92 47.22deg,#eef5ac 47.36deg,#c6e78a 47.50deg,#dff09f 47.64deg,#deef9e 47.78deg,#c7e78b 47.92deg,#cce98e 48.06deg,#f0f5af 48.20deg,#ebf4a9 48.34deg,#eef5ac 48.48deg,#faf7c1 48.62deg,#eff5ae 48.76deg,#e2f1a1 48.90deg,#d8ed99 49.04deg,#d2eb93 49.18deg,#e1f0a1 49.32deg,#f6f6ba 49.46deg,#f0f5af 49.60deg,#ebf4a9 49.74deg,#e4f2a3 49.88deg,#c3e689 50.02deg,#f2f6b2 50.16deg,#79c95f 50.30deg,#addd7b 50.44deg,#c3e588 50.58deg,#b5e080 50.72deg,#c4e689 50.86deg,#a1d975 51.00deg,#e1f0a1 51.15deg,#e1f0a0 51.29deg,#ddef9d 51.43deg,#d4ec95 51.57deg,#b2df7f 51.71deg,#bae284 51.85deg,#deef9e 51.99deg,#e4f2a3 52.13deg,#e3f1a2 52.27deg,#c9e88c 52.41deg,#b1df7e 52.55deg,#bae283 52.69deg,#e4f1a3 52.83deg,#f2f6b2 52.97deg,#e6f2a5 53.11deg,#d6ed97 53.25deg,#f0f5b0 53.39deg,#c9e88d 53.53deg,#c4e689 53.67deg,#d5ec96 53.81deg,#f4f6b5 53.95deg,#e7f3a6 54.09deg,#dcef9c 54.23deg,#d6ed97 54.37deg,#e3f1a2 54.51deg,#afde7d 54.65deg,#f3f6b4 54.79deg,#eff5ad 54.93deg,#5dbe51 55.07deg,#b6e081 55.21deg,#98d56f 55.35deg,#6ac357 55.49deg,#dcef9c 55.63deg,#68c257 55.77deg,#82cd63 55.91deg,#7dcb61 56.05deg,#54ba4d 56.19deg,#68c256 56.33deg,#76c85d 56.47deg,#88cf66 56.61deg,#92d36c 56.75deg,#44b145 56.89deg,#94d46d 57.03deg,#70c55a 57.17deg,#a2d975 57.31deg,#d6ec97 57.45deg,#8bd068 57.59deg,#cfea91 57.73deg,#bde385 57.87deg,#cde98f 58.01deg,#d5ec96 58.15deg,#f4f6b6 58.29deg,#e1f1a1 58.43deg,#e5f2a4 58.57deg,#c1e588 58.71deg,#d9ed99 58.85deg,#eef5ac 58.99deg,#f1f6b1 59.13deg,#daee9b 59.27deg,#bde385 59.41deg,#eef5ac 59.55deg,#fff 59.55deg,#fff 61.08deg,#cde98f 61.08deg,#d4ec95 61.22deg,#e3f1a2 61.36deg,#eff5ad 61.50deg,#b5e081 61.64deg,#8bd068 61.79deg,#f8f7bc 61.93deg,#cce98e 62.07deg,#e4f1a3 62.21deg,#bbe384 62.35deg,#c9e88c 62.49deg,#d8ed99 62.63deg,#99d570 62.77deg,#bee386 62.91deg,#dff09f 63.06deg,#bde385 63.20deg,#d4ec95 63.34deg,#c4e689 63.48deg,#c1e587 63.62deg,#8ed169 63.76deg,#9bd671 63.90deg,#89cf67 64.04deg,#eff5ae 64.18deg,#9ed773 64.33deg,#c6e78b 64.47deg,#9ad671 64.61deg,#d5ec96 64.75deg,#cde98f 64.89deg,#c5e68a 65.03deg,#c0e587 65.17deg,#8fd26a 65.31deg,#bfe486 65.45deg,#afde7d 65.60deg,#ddef9d 65.74deg,#eef5ac 65.88deg,#bae283 66.02deg,#c8e78c 66.16deg,#d4ec95 66.30deg,#d8ed99 66.44deg,#8ad067 66.58deg,#a8db79 66.72deg,#d9ed99 66.87deg,#aadc7a 67.01deg,#f1f6b2 67.15deg,#e2f1a2 67.29deg,#e2f1a1 67.43deg,#d0eb92 67.57deg,#e6f2a5 67.71deg,#d3ec94 67.85deg,#f0f5af 67.99deg,#e0f0a0 68.14deg,#f2f6b3 68.28deg,#ddef9d 68.42deg,#e5f2a4 68.56deg,#ddef9d 68.70deg,#dcef9c 68.84deg,#d8ed98 68.98deg,#f5f6b8 69.12deg,#d2eb93 69.26deg,#d8ed99 69.41deg,#d9ee9a 69.55deg,#f0f5b0 69.69deg,#f2f6b3 69.83deg,#f5f6b7 69.97deg,#e8f3a7 70.11deg,#ddef9d 70.25deg,#f2f6b3 70.39deg,#dbee9b 70.53deg,#f4f6b6 70.68deg,#eef5ad 70.82deg,#f0f5b0 70.96deg,#f9f7be 71.10deg,#deef9e 71.24deg,#f8f7bc 71.38deg,#f0f5b0 71.52deg,#f2f6b3 71.66deg,#f5f6b7 71.80deg,#f7f7bb 71.95deg,#eef5ac 72.09deg,#e4f2a3 72.23deg,#faf8c3 72.37deg,#e8f3a6 72.51deg,#ebf4a9 72.65deg,#f9f7be 72.79deg,#faf8c3 72.93deg,#faf7c1 73.07deg,#faf7c1 73.22deg,#fdfcd8 73.36deg,#a8db79 73.50deg,#f4f6b7 73.64deg,#f2f6b2 73.78deg,#f0f5af 73.92deg,#fbf8c7 74.06deg,#f7f7bc 74.20deg,#eff5ad 74.34deg,#eaf4a9 74.49deg,#e1f0a0 74.63deg,#e5f2a4 74.77deg,#f0f5af 74.91deg,#e5f2a4 75.05deg,#d6ed97 75.19deg,#e1f0a0 75.33deg,#dcef9c 75.47deg,#c6e78a 75.61deg,#b1df7e 75.76deg,#c4e689 75.90deg,#d0eb92 76.04deg,#bfe487 76.18deg,#c0e487 76.32deg,#67c256 76.46deg,#99d570 76.60deg,#6fc55a 76.74deg,#6dc459 76.88deg,#53ba4c 77.03deg,#73c75c 77.17deg,#81cc62 77.31deg,#9ed773 77.45deg,#96d46e 77.59deg,#57bb4f 77.73deg,#cbe98e 77.87deg,#b2df7f 78.01deg,#95d46e 78.15deg,#65c155 78.30deg,#bfe486 78.44deg,#cce98e 78.58deg,#c4e689 78.72deg,#c4e689 78.86deg,#fff 78.86deg,#fff 80.39deg,#b3e07f 80.39deg,#d4ec95 80.53deg,#cfea90 80.67deg,#89cf67 80.81deg,#aadc7a 80.95deg,#d9ee99 81.09deg,#c8e88c 81.23deg,#acdd7b 81.37deg,#afde7d 81.51deg,#9fd874 81.65deg,#98d570 81.79deg,#91d26b 81.93deg,#cce98e 82.07deg,#8fd26a 82.21deg,#b6e081 82.35deg,#d8ed99 82.49deg,#95d46e 82.63deg,#dff09f 82.77deg,#deef9e 82.91deg,#addd7c 83.05deg,#d4ec95 83.20deg,#cde98f 83.34deg,#e0f09f 83.48deg,#d2eb94 83.62deg,#ecf4aa 83.76deg,#d6ed97 83.90deg,#f5f6b7 84.04deg,#e1f1a1 84.18deg,#f4f6b7 84.32deg,#f2f6b3 84.46deg,#faf7c0 84.60deg,#c1e588 84.74deg,#f4f6b6 84.88deg,#fbf8c7 85.02deg,#ecf4aa 85.16deg,#faf8c3 85.30deg,#e9f3a8 85.44deg,#f4f6b6 85.58deg,#f3f6b4 85.72deg,#faf7c2 85.86deg,#f3f6b4 86.00deg,#edf5ab 86.14deg,#e7f3a6 86.28deg,#e8f3a7 86.42deg,#fcfacd 86.56deg,#f5f6b8 86.71deg,#f8f7bc 86.85deg,#f4f6b6 86.99deg,#f2f6b3 87.13deg,#f6f6b9 87.27deg,#eaf4a9 87.41deg,#f4f6b5 87.55deg,#eff5ae 87.69deg,#aadc7a 87.83deg,#f3f6b4 87.97deg,#f9f7bf 88.11deg,#f1f5b1 88.25deg,#f5f6b8 88.39deg,#eff5ae 88.53deg,#f1f5b1 88.67deg,#e9f3a7 88.81deg,#f5f6b8 88.95deg,#edf5ab 89.09deg,#b7e181 89.23deg,#f7f6bb 89.37deg,#b1df7e 89.51deg,#9fd873 89.65deg,#a7db78 89.79deg,#67c256 89.93deg,#a0d874 90.07deg,#5ebe52 90.21deg,#a8db79 90.36deg,#a3d976 90.50deg,#89cf67 90.64deg,#64c155 90.78deg,#8fd26a 90.92deg,#bfe486 91.06deg,#9ed773 91.20deg,#b3e07f 91.34deg,#cfea91 91.48deg,#dbee9c 91.62deg,#d1eb93 91.76deg,#8fd26a 91.90deg,#90d26b 92.04deg,#e7f3a6 92.18deg,#a2d975 92.32deg,#9dd772 92.46deg,#cae88d 92.60deg,#ecf4aa 92.74deg,#dbee9b 92.88deg,#cde98f 93.02deg,#deef9e 93.16deg,#e7f2a6 93.30deg,#e0f0a0 93.44deg,#ceea90 93.58deg,#f1f5b1 93.72deg,#ecf4aa 93.87deg,#c2e588 94.01deg,#f3f6b5 94.15deg,#f0f5b0 94.29deg,#d4ec95 94.43deg,#faf8c3 94.57deg,#cce98e 94.71deg,#fff 94.71deg,#fff 96.24deg,#ceea90 96.24deg,#cce98e 96.38deg,#ebf4a9 96.52deg,#a5da77 96.66deg,#def09e 96.80deg,#f0f5af 96.94deg,#daee9a 97.08deg,#eef5ac 97.22deg,#d5ec96 97.36deg,#eef5ac 97.50deg,#e4f1a3 97.64deg,#eff5ae 97.78deg,#fbf8c6 97.92deg,#e7f2a6 98.06deg,#f1f6b1 98.20deg,#e0f09f 98.35deg,#d1eb93 98.49deg,#eff5ad 98.63deg,#daee9a 98.77deg,#66c156 98.91deg,#f1f6b1 99.05deg,#e6f2a5 99.19deg,#d4ec95 99.33deg,#f0f5b0 99.47deg,#e7f3a6 99.61deg,#a2d976 99.75deg,#b3e07f 99.89deg,#d2eb94 100.03deg,#d8ed98 100.17deg,#daee9b 100.31deg,#d0ea92 100.45deg,#a9db79 100.60deg,#87ce65 100.74deg,#97d56f 100.88deg,#60bf53 101.02deg,#97d56f 101.16deg,#80cc62 101.30deg,#abdc7a 101.44deg,#91d36b 101.58deg,#78c85e 101.72deg,#6ec559 101.86deg,#d2eb93 102.00deg,#e2f1a1 102.14deg,#d9ee99 102.28deg,#e7f2a5 102.42deg,#f5f6b8 102.56deg,#d9ee99 102.71deg,#e5f2a4 102.85deg,#f4f6b6 102.99deg,#e4f1a3 103.13deg,#ebf4aa 103.27deg,#f5f6b7 103.41deg,#eff5ae 103.55deg,#e1f0a0 103.69deg,#e0f0a0 103.83deg,#faf8c4 103.97deg,#f5f6b7 104.11deg,#e1f0a1 104.25deg,#f6f6b9 104.39deg,#f5f6b8 104.53deg,#fdfcd7 104.67deg,#faf7c2 104.82deg,#f8f7bc 104.96deg,#f6f6ba 105.10deg,#eff5ae 105.24deg,#f8f7bd 105.38deg,#fbf9cb 105.52deg,#faf7c2 105.66deg,#f7f7bc 105.80deg,#fbf8c4 105.94deg,#f4f6b6 106.08deg,#f7f6bb 106.22deg,#b0de7e 106.36deg,#ebf4a9 106.50deg,#f9f7bf 106.64deg,#ecf4aa 106.78deg,#faf7c1 106.92deg,#e4f1a3 107.07deg,#eaf4a8 107.21deg,#b4e080 107.35deg,#94d46d 107.49deg,#eff5ad 107.63deg,#9cd772 107.77deg,#d1eb92 107.91deg,#cde98f 108.05deg,#8fd26a 108.19deg,#9dd773 108.33deg,#b0de7e 108.47deg,#87cf66 108.61deg,#65c155 108.75deg,#95d46e 108.89deg,#5ebe52 109.03deg,#54ba4d 109.18deg,#85ce65 109.32deg,#7ac95f 109.46deg,#7dca61 109.60deg,#5fbe52 109.74deg,#59bc4f 109.88deg,#54ba4d 110.02deg,#7fcb62 110.16deg,#47b447 110.30deg,#63c054 110.44deg,#7ac95f 110.58deg,#41af44 110.72deg,#b2df7f 110.86deg,#3baa42 111.00deg,#aede7c 111.14deg,#b2df7f 111.29deg,#50b94b 111.43deg,#7fcb62 111.57deg,#d0ea92 111.71deg,#77c85e 111.85deg,#72c65b 111.99deg,#afde7d 112.13deg,#96d46e 112.27deg,#9fd873 112.41deg,#cde98f 112.55deg,#b4e080 112.69deg,#e7f2a5 112.83deg,#e1f0a0 112.97deg,#94d46d 113.11deg,#d0ea91 113.25deg,#afde7d 113.39deg,#cde98f 113.54deg,#bee486 113.68deg,#fff 113.68deg,#fff 115.20deg,#a3d976 115.20deg,#cae88d 115.35deg,#e1f0a1 115.49deg,#d4ec95 115.63deg,#9ed773 115.77deg,#8fd26a 115.91deg,#eff5ae 116.05deg,#e1f0a1 116.19deg,#80cc62 116.33deg,#a6db78 116.47deg,#67c256 116.61deg,#c1e588 116.76deg,#8bd068 116.90deg,#95d46e 117.04deg,#8dd169 117.18deg,#b2df7e 117.32deg,#63c054 117.46deg,#addd7c 117.60deg,#7ac95f 117.74deg,#7cca60 117.88deg,#8dd169 118.02deg,#8ad067 118.17deg,#acdd7b 118.31deg,#76c85d 118.45deg,#70c55a 118.59deg,#88cf66 118.73deg,#b2df7e 118.87deg,#a5da77 119.01deg,#d0eb92 119.15deg,#c5e68a 119.29deg,#e1f0a0 119.43deg,#74c75c 119.58deg,#c3e689 119.72deg,#d4ec95 119.86deg,#b8e182 120.00deg,#bce384 120.14deg,#c2e588 120.28deg,#c9e88c 120.42deg,#bee486 120.56deg,#d8ed99 120.70deg,#f0f5af 120.84deg,#cbe98d 120.99deg,#e8f3a6 121.13deg,#eaf4a9 121.27deg,#eaf4a9 121.41deg,#e0f09f 121.55deg,#c5e68a 121.69deg,#f1f6b1 121.83deg,#f2f6b2 121.97deg,#d7ed97 122.11deg,#f9f7be 122.25deg,#f4f6b6 122.40deg,#c5e68a 122.54deg,#f2f6b3 122.68deg,#eaf4a8 122.82deg,#f9f7bf 122.96deg,#deef9e 123.10deg,#eff5ad 123.24deg,#e1f1a1 123.38deg,#eef5ac 123.52deg,#d6ed97 123.66deg,#daee9b 123.81deg,#d9ee9a 123.95deg,#e4f1a3 124.09deg,#faf7c1 124.23deg,#f4f6b6 124.37deg,#f2f6b3 124.51deg,#e7f3a6 124.65deg,#ebf4a9 124.79deg,#f4f6b6 124.93deg,#d3eb94 125.08deg,#d9ee99 125.22deg,#d2eb94 125.36deg,#bae283 125.50deg,#edf5ab 125.64deg,#addd7b 125.78deg,#d7ed98 125.92deg,#addd7c 126.06deg,#87ce65 126.20deg,#a8db79 126.34deg,#9dd772 126.49deg,#c0e587 126.63deg,#eef5ac 126.77deg,#addd7c 126.91deg,#dcef9d 127.05deg,#ecf4aa 127.19deg,#e3f1a2 127.33deg,#bce385 127.47deg,#c7e78b 127.61deg,#f1f5b1 127.75deg,#f3f6b4 127.90deg,#eff5ae 128.04deg,#cfea90 128.18deg,#b3e080 128.32deg,#dcef9c 128.46deg,#b8e182 128.60deg,#dbee9b 128.74deg,#e6f2a5 128.88deg,#bbe384 129.02deg,#c8e88c 129.16deg,#b9e283 129.31deg,#c6e78a 129.45deg,#cae88d 129.59deg,#cbe98d 129.73deg,#f2f6b3 129.87deg,#dbee9b 130.01deg,#d9ed99 130.15deg,#cfea91 130.29deg,#cbe98d 130.43deg,#fff 130.43deg,#fff 131.96deg,#e3f1a3 131.96deg,#f1f5b1 132.10deg,#f1f5b1 132.24deg,#ceea8f 132.38deg,#dff09f 132.52deg,#f0f5af 132.66deg,#f2f6b3 132.80deg,#d5ec96 132.94deg,#dcee9c 133.08deg,#dbee9b 133.22deg,#f0f5af 133.36deg,#c3e689 133.50deg,#d6ed97 133.64deg,#c9e88c 133.78deg,#d4ec95 133.92deg,#d3eb94 134.06deg,#b3df7f 134.20deg,#addd7c 134.34deg,#c7e78b 134.49deg,#7fcb61 134.63deg,#c0e587 134.77deg,#65c155 134.91deg,#e4f1a3 135.05deg,#a1d875 135.19deg,#b3df7f 135.33deg,#60bf53 135.47deg,#90d26a 135.61deg,#aadc7a 135.75deg,#85ce64 135.89deg,#7fcb62 136.03deg,#e0f0a0 136.17deg,#9dd773 136.31deg,#56bb4e 136.45deg,#8fd26a 136.59deg,#f4f6b7 136.73deg,#cfea91 136.87deg,#b2df7f 137.01deg,#a6da78 137.15deg,#82cd63 137.29deg,#e1f1a1 137.43deg,#cde98f 137.57deg,#b9e283 137.71deg,#b1df7e 137.85deg,#c8e88c 137.99deg,#d9ed99 138.13deg,#cae88d 138.27deg,#e1f1a1 138.41deg,#eef5ac 138.55deg,#f0f5b0 138.69deg,#e3f1a3 138.83deg,#e1f0a0 138.97deg,#ddef9d 139.11deg,#d0ea91 139.25deg,#d3eb94 139.39deg,#def09e 139.53deg,#e2f1a1 139.67deg,#eaf4a9 139.81deg,#c2e588 139.95deg,#daee9a 140.09deg,#d8ed98 140.23deg,#b6e181 140.37deg,#d7ed97 140.51deg,#b4e080 140.65deg,#b1df7e 140.79deg,#9cd772 140.93deg,#c3e689 141.07deg,#9cd772 141.21deg,#c0e587 141.36deg,#a0d874 141.50deg,#dff09e 141.64deg,#d0ea91 141.78deg,#b7e182 141.92deg,#f2f6b3 142.06deg,#d4ec95 142.20deg,#d7ed98 142.34deg,#cce98e 142.48deg,#b2df7f 142.62deg,#91d26b 142.76deg,#d2eb93 142.90deg,#a6da77 143.04deg,#81cc63 143.18deg,#b1df7e 143.32deg,#77c85e 143.46deg,#86ce65 143.60deg,#9bd671 143.74deg,#c8e88c 143.88deg,#b9e283 144.02deg,#bde385 144.16deg,#c7e78b 144.30deg,#bae284 144.44deg,#a4da77 144.58deg,#d9ed99 144.72deg,#dff09f 144.86deg,#d1eb93 145.00deg,#9dd772 145.14deg,#bce385 145.28deg,#f0f5b0 145.42deg,#ceea90 145.56deg,#e2f1a1 145.70deg,#e4f1a3 145.84deg,#cde98f 145.98deg,#d0ea91 146.12deg,#c9e88c 146.26deg,#f0f5b0 146.40deg,#fbf8c4 146.54deg,#e0f0a0 146.68deg,#d9ee9a 146.82deg,#ebf4a9 146.96deg,#f1f5b0 147.10deg,#ddef9d 147.24deg,#d8ed98 147.38deg,#e9f3a7 147.52deg,#f0f5af 147.66deg,#faf7c2 147.80deg,#d6ec97 147.94deg,#f5f6b8 148.08deg,#f1f6b1 148.23deg,#fff 148.23deg,#fff 149.75deg,#d4ec95 149.75deg,#c7e78b 149.89deg,#daee9a 150.03deg,#e0f09f 150.17deg,#d2eb93 150.32deg,#c7e78b 150.46deg,#e0f0a0 150.60deg,#d0ea92 150.74deg,#e3f1a2 150.88deg,#7ecb61 151.02deg,#d9ee9a 151.16deg,#dff09f 151.30deg,#a4da77 151.44deg,#c4e689 151.58deg,#d0ea91 151.72deg,#addd7c 151.86deg,#d7ed98 152.00deg,#bfe486 152.14deg,#d1eb93 152.28deg,#b2df7f 152.42deg,#d1eb93 152.56deg,#86ce65 152.70deg,#a6db78 152.84deg,#b7e182 152.98deg,#cfea91 153.12deg,#a2d976 153.26deg,#edf5ab 153.41deg,#dbee9b 153.55deg,#daee9b 153.69deg,#d8ed98 153.83deg,#93d36d 153.97deg,#b5e081 154.11deg,#d7ed98 154.25deg,#86ce65 154.39deg,#c5e68a 154.53deg,#dcef9c 154.67deg,#cde98f 154.81deg,#d9ee99 154.95deg,#c4e689 155.09deg,#d1eb92 155.23deg,#d8ed99 155.37deg,#e4f2a3 155.51deg,#d4ec95 155.65deg,#eff5ad 155.79deg,#dff09f 155.93deg,#f1f6b2 156.07deg,#daee9a 156.21deg,#cde98f 156.36deg,#e2f1a2 156.50deg,#e1f0a0 156.64deg,#e5f2a4 156.78deg,#eff5ad 156.92deg,#d7ed98 157.06deg,#d9ee9a 157.20deg,#f3f6b5 157.34deg,#f5f6b7 157.48deg,#acdd7b 157.62deg,#fbf9c8 157.76deg,#eff5ae 157.90deg,#e6f2a5 158.04deg,#84cd64 158.18deg,#f3f6b4 158.32deg,#f0f5b0 158.46deg,#f6f6ba 158.60deg,#b5e081 158.74deg,#ecf4aa 158.88deg,#daee9a 159.02deg,#d4ec95 159.16deg,#eef5ac 159.31deg,#eff5ad 159.45deg,#d4ec95 159.59deg,#d5ec96 159.73deg,#d2eb93 159.87deg,#fcfbd2 160.01deg,#c1e588 160.15deg,#bde385 160.29deg,#ceea90 160.43deg,#d2eb93 160.57deg,#b6e181 160.71deg,#c4e689 160.85deg,#83cd63 160.99deg,#d0ea91 161.13deg,#bfe486 161.27deg,#daee9a 161.41deg,#a8db79 161.55deg,#a6da77 161.69deg,#ddef9d 161.83deg,#d7ed98 161.97deg,#c2e588 162.11deg,#5ebe52 162.26deg,#eef5ac 162.40deg,#b3e080 162.54deg,#afde7d 162.68deg,#9bd671 162.82deg,#86ce65 162.96deg,#89d067 163.10deg,#afde7d 163.24deg,#94d46d 163.38deg,#87cf66 163.52deg,#65c155 163.66deg,#c1e588 163.80deg,#88cf66 163.94deg,#8cd169 164.08deg,#7cca60 164.22deg,#addd7c 164.36deg,#b8e182 164.50deg,#ddef9d 164.64deg,#d8ed98 164.78deg,#c9e88c 164.92deg,#acdd7b 165.06deg,#c2e588 165.21deg,#94d36d 165.35deg,#d1eb92 165.49deg,#93d36c 165.63deg,#d4ec95 165.77deg,#b0de7d 165.91deg,#eff5ae 166.05deg,#cfea91 166.19deg,#d5ec96 166.33deg,#faf7c1 166.47deg,#d5ec96 166.61deg,#edf5ab 166.75deg,#f4f6b6 166.89deg,#fff 166.89deg,#fff 168.42deg,#c1e588 168.42deg,#f4f6b7 168.56deg,#6fc55a 168.70deg,#d2eb93 168.84deg,#d2eb93 168.98deg,#d3eb94 169.12deg,#c2e588 169.26deg,#d7ed98 169.40deg,#9cd772 169.54deg,#e4f2a4 169.68deg,#edf5ab 169.82deg,#85ce64 169.96deg,#f7f6bb 170.10deg,#aedd7c 170.24deg,#cbe98e 170.38deg,#cde98f 170.52deg,#d0ea91 170.66deg,#7ecb61 170.80deg,#7fcb62 170.94deg,#e8f3a7 171.08deg,#91d36b 171.22deg,#acdd7b 171.36deg,#e3f1a2 171.50deg,#70c55a 171.64deg,#cde98f 171.78deg,#6fc55a 171.92deg,#80cc62 172.06deg,#dff09f 172.20deg,#65c155 172.34deg,#abdd7b 172.48deg,#e9f3a7 172.62deg,#d9ed99 172.76deg,#d2eb93 172.90deg,#f1f6b2 173.04deg,#e6f2a5 173.18deg,#d1eb93 173.32deg,#d0eb92 173.46deg,#daee9a 173.60deg,#fbf9cc 173.74deg,#e4f2a4 173.88deg,#edf5ab 174.02deg,#f6f6b9 174.16deg,#e8f3a7 174.30deg,#eff5ad 174.44deg,#f1f6b2 174.58deg,#f6f6b9 174.72deg,#f3f6b4 174.86deg,#eff5ae 175.00deg,#e6f2a5 175.14deg,#f4f6b6 175.28deg,#f2f6b3 175.42deg,#fbf8c4 175.56deg,#e8f3a6 175.70deg,#f4f6b6 175.84deg,#dbee9b 175.98deg,#f1f5b1 176.12deg,#f8f7bd 176.26deg,#dff09f 176.40deg,#eef5ad 176.54deg,#fbf9ca 176.68deg,#f9f7be 176.82deg,#eaf4a9 176.96deg,#f2f6b3 177.10deg,#f5f6b7 177.24deg,#f5f6b8 177.38deg,#faf7c1 177.52deg,#ecf4aa 177.67deg,#fdfbd4 177.81deg,#f6f6ba 177.95deg,#faf7bf 178.09deg,#dbee9b 178.23deg,#faf7c0 178.37deg,#faf7c2 178.51deg,#fcface 178.65deg,#f8f7bd 178.79deg,#e5f2a4 178.93deg,#f5f6b7 179.07deg,#f2f6b3 179.21deg,#f3f6b4 179.35deg,#fcfad1 179.49deg,#f0f5af 179.63deg,#e4f2a3 179.77deg,#eef5ad 179.91deg,#f0f5af 180.05deg,#fbf9cc 180.19deg,#d7ed98 180.33deg,#f2f6b3 180.47deg,#e6f2a5 180.61deg,#f6f6ba 180.75deg,#f1f5b0 180.89deg,#deef9e 181.03deg,#faf7c0 181.17deg,#98d56f 181.31deg,#f0f5af 181.45deg,#edf5ac 181.59deg,#dcef9c 181.73deg,#e1f0a1 181.87deg,#dcef9c 182.01deg,#f2f6b3 182.15deg,#d7ed98 182.29deg,#cde98f 182.43deg,#aadc7a 182.57deg,#d3ec94 182.71deg,#c7e78b 182.85deg,#dbee9c 182.99deg,#f3f6b5 183.13deg,#d4ec95 183.27deg,#f0f5b0 183.41deg,#d6ed97 183.55deg,#dff09f 183.69deg,#daee9a 183.83deg,#e4f1a3 183.97deg,#e8f3a6 184.11deg,#d5ec96 184.25deg,#ebf4a9 184.39deg,#f0f5af 184.53deg,#e9f3a8 184.67deg,#ebf4a9 184.81deg,#f1f5b1 184.95deg,#eef5ac 185.09deg,#fbf8c7 185.23deg,#f2f6b2 185.37deg,#d7ed98 185.51deg,#e9f3a7 185.65deg,#c9e88c 185.79deg,#f8f7bc 185.93deg,#fff 185.93deg,#fff 187.46deg,#e8f3a6 187.46deg,#e8f3a7 187.60deg,#eaf4a9 187.74deg,#ecf4aa 187.88deg,#f6f6b9 188.02deg,#fbf8c7 188.16deg,#e8f3a6 188.30deg,#e2f1a2 188.44deg,#f3f6b4 188.58deg,#edf5ab 188.72deg,#dff09f 188.86deg,#fbf8c5 189.00deg,#ecf4aa 189.14deg,#d1eb92 189.28deg,#f0f5af 189.42deg,#e8f3a7 189.56deg,#d6ec97 189.70deg,#f2f6b3 189.84deg,#e9f3a8 189.98deg,#dbee9b 190.12deg,#b1df7e 190.26deg,#c8e88c 190.40deg,#deef9e 190.54deg,#79c95f 190.68deg,#b7e181 190.82deg,#b5e081 190.96deg,#c2e588 191.10deg,#95d46e 191.24deg,#aedd7c 191.38deg,#90d26b 191.52deg,#cbe98d 191.66deg,#e3f1a2 191.80deg,#a0d874 191.94deg,#f6f6b9 192.08deg,#f3f6b4 192.22deg,#eff5ae 192.36deg,#f6f6b9 192.50deg,#a8db79 192.64deg,#f7f7bb 192.78deg,#d8ed99 192.92deg,#d1eb92 193.06deg,#9cd672 193.20deg,#dff09f 193.34deg,#b7e182 193.48deg,#daee9a 193.62deg,#e9f3a7 193.76deg,#dff09e 193.90deg,#e6f2a5 194.04deg,#edf5ab 194.18deg,#edf5ab 194.32deg,#f9f7bf 194.46deg,#f4f6b6 194.60deg,#c2e588 194.74deg,#e7f3a6 194.88deg,#e1f1a1 195.02deg,#c1e588 195.17deg,#d9ed99 195.31deg,#b3df7f 195.45deg,#eaf3a8 195.59deg,#bde385 195.73deg,#e5f2a4 195.87deg,#c6e78b 196.01deg,#d0ea91 196.15deg,#b9e283 196.29deg,#d5ec96 196.43deg,#d4ec95 196.57deg,#ddef9d 196.71deg,#a3d976 196.85deg,#d3eb94 196.99deg,#9fd873 197.13deg,#afde7d 197.27deg,#f1f6b1 197.41deg,#d1eb92 197.55deg,#d5ec96 197.69deg,#e3f1a2 197.83deg,#c6e78a 197.97deg,#bae283 198.11deg,#f0f5b0 198.25deg,#eff5ad 198.39deg,#abdc7a 198.53deg,#e5f2a4 198.67deg,#d8ed99 198.81deg,#e5f2a4 198.95deg,#84cd64 199.09deg,#d4ec95 199.23deg,#fff 199.23deg,#fff 200.76deg,#e8f3a7 200.76deg,#e5f2a4 200.90deg,#d8ed98 201.04deg,#daee9a 201.18deg,#eaf4a9 201.32deg,#bee486 201.46deg,#fbf8c7 201.60deg,#d8ed98 201.74deg,#daee9b 201.89deg,#eff5ae 202.03deg,#d2eb93 202.17deg,#c8e78c 202.31deg,#b6e081 202.45deg,#c5e68a 202.59deg,#afde7d 202.73deg,#dcef9c 202.87deg,#cde98f 203.02deg,#90d26b 203.16deg,#dff09f 203.30deg,#c2e588 203.44deg,#a3d976 203.58deg,#94d46d 203.72deg,#e3f1a2 203.86deg,#75c75d 204.00deg,#a1d975 204.15deg,#a1d875 204.29deg,#76c85d 204.43deg,#7fcb62 204.57deg,#dcef9c 204.71deg,#86ce65 204.85deg,#4bb649 204.99deg,#aede7c 205.13deg,#7ac95f 205.28deg,#6fc55a 205.42deg,#a0d874 205.56deg,#9dd772 205.70deg,#81cc63 205.84deg,#96d46e 205.98deg,#9ad671 206.12deg,#9cd772 206.26deg,#96d46e 206.40deg,#c4e689 206.55deg,#9bd671 206.69deg,#a9dc79 206.83deg,#b0de7e 206.97deg,#ceea90 207.11deg,#b7e182 207.25deg,#cce98e 207.39deg,#d4ec95 207.53deg,#d3ec95 207.68deg,#bae283 207.82deg,#e0f09f 207.96deg,#f4f6b6 208.10deg,#c3e689 208.24deg,#f5f6b7 208.38deg,#e2f1a1 208.52deg,#f1f6b1 208.66deg,#edf5ab 208.81deg,#f1f5b1 208.95deg,#e4f2a4 209.09deg,#eff5ae 209.23deg,#faf8c4 209.37deg,#eaf4a8 209.51deg,#fdfbd6 209.65deg,#f5f6b8 209.79deg,#fbf8c7 209.94deg,#f9f7bf 210.08deg,#f6f6b9 210.22deg,#f0f5b0 210.36deg,#fbf8c6 210.50deg,#f8f7bd 210.64deg,#f8f7bd 210.78deg,#f5f6b7 210.92deg,#f1f5b0 211.06deg,#eef5ad 211.21deg,#eaf3a8 211.35deg,#e4f2a4 211.49deg,#e2f1a1 211.63deg,#f8f7bc 211.77deg,#fbf8c4 211.91deg,#e6f2a5 212.05deg,#d6ed97 212.19deg,#b2df7f 212.34deg,#dbee9b 212.48deg,#f4f6b5 212.62deg,#9bd671 212.76deg,#c4e689 212.90deg,#cbe98e 213.04deg,#a4da76 213.18deg,#cde98f 213.32deg,#66c155 213.47deg,#9ed773 213.61deg,#9fd873 213.75deg,#c0e487 213.89deg,#6ec459 214.03deg,#cde98f 214.17deg,#c3e689 214.31deg,#279939 214.45deg,#58bc4f 214.59deg,#fff 214.59deg,#fff 216.12deg,#acdd7b 216.12deg,#c1e587 216.26deg,#deef9d 216.41deg,#93d36c 216.55deg,#bfe486 216.69deg,#96d56e 216.83deg,#7bca60 216.97deg,#b6e181 217.11deg,#9ed773 217.25deg,#cce98e 217.39deg,#a9dc79 217.53deg,#bee486 217.68deg,#c0e487 217.82deg,#80cc62 217.96deg,#c7e78b 218.10deg,#d6ed97 218.24deg,#b5e081 218.38deg,#b6e181 218.52deg,#dff09f 218.66deg,#dff09f 218.81deg,#f7f6bb 218.95deg,#d8ed98 219.09deg,#d9ed99 219.23deg,#f6f6b9 219.37deg,#f4f6b7 219.51deg,#f3f6b4 219.65deg,#f3f6b4 219.79deg,#ecf4aa 219.94deg,#eef5ac 220.08deg,#f6f6b9 220.22deg,#faf8c3 220.36deg,#f5f6b7 220.50deg,#faf7c1 220.64deg,#f0f5af 220.78deg,#f6f6b9 220.92deg,#f1f6b2 221.07deg,#f5f6b8 221.21deg,#e8f3a7 221.35deg,#eff5ae 221.49deg,#f2f6b3 221.63deg,#ecf4ab 221.77deg,#f1f5b0 221.91deg,#dbee9b 222.05deg,#ceea90 222.19deg,#bfe486 222.34deg,#94d36d 222.48deg,#b9e283 222.62deg,#bfe487 222.76deg,#cae88d 222.90deg,#ceea90 223.04deg,#9ed873 223.18deg,#7dcb61 223.32deg,#b2df7f 223.47deg,#98d56f 223.61deg,#afde7d 223.75deg,#d0ea91 223.89deg,#6fc55a 224.03deg,#7cca60 224.17deg,#73c75c 224.31deg,#d6ed97 224.45deg,#9cd772 224.60deg,#a9dc79 224.74deg,#d8ed98 224.88deg,#82cc63 225.02deg,#cce98e 225.16deg,#c1e588 225.30deg,#c9e88c 225.44deg,#99d670 225.58deg,#dff09e 225.72deg,#c7e78b 225.87deg,#8ed16a 226.01deg,#8ed169 226.15deg,#e0f09f 226.29deg,#d1eb93 226.43deg,#eaf4a9 226.57deg,#cfea90 226.71deg,#9fd874 226.85deg,#d7ed98 227.00deg,#d1eb93 227.14deg,#dff09f 227.28deg,#a4da76 227.42deg,#d6ed97 227.56deg,#d4ec95 227.70deg,#bbe284 227.84deg,#cce98e 227.98deg,#f3f6b4 228.13deg,#dcef9c 228.27deg,#ddef9d 228.41deg,#d5ec96 228.55deg,#e6f2a5 228.69deg,#c5e68a 228.83deg,#d6ed97 228.97deg,#ceea8f 229.11deg,#c5e68a 229.25deg,#f2f6b2 229.40deg,#faf7bf 229.54deg,#c7e78b 229.68deg,#9cd772 229.82deg,#e5f2a4 229.96deg,#98d570 230.10deg,#bae283 230.24deg,#e8f3a7 230.38deg,#faf7c2 230.53deg,#dff09f 230.67deg,#f0f5b0 230.81deg,#f1f6b1 230.95deg,#f7f7bb 231.09deg,#ceea90 231.23deg,#f0f5af 231.37deg,#e2f1a2 231.51deg,#ecf4ab 231.66deg,#fff 231.66deg,#fff 233.18deg,#99d570 233.18deg,#ddef9d 233.32deg,#dcee9c 233.47deg,#bae284 233.61deg,#85ce65 233.75deg,#bae283 233.89deg,#f6f6b9 234.03deg,#9cd772 234.17deg,#a8db79 234.31deg,#ddef9d 234.45deg,#eef5ac 234.59deg,#d2eb94 234.73deg,#b6e181 234.88deg,#addd7c 235.02deg,#deef9d 235.16deg,#9ad671 235.30deg,#5abd50 235.44deg,#87cf66 235.58deg,#b1df7e 235.72deg,#85ce64 235.86deg,#7fcb62 236.00deg,#9dd772 236.14deg,#d8ed99 236.29deg,#75c75d 236.43deg,#a0d874 236.57deg,#9cd772 236.71deg,#addd7c 236.85deg,#81cc62 236.99deg,#8bd068 237.13deg,#b6e181 237.27deg,#a1d874 237.41deg,#dff09f 237.55deg,#eef5ac 237.70deg,#93d36c 237.84deg,#b6e181 237.98deg,#cfea91 238.12deg,#b3df7f 238.26deg,#bee486 238.40deg,#a9dc79 238.54deg,#eff5ad 238.68deg,#e8f3a6 238.82deg,#d2eb93 238.96deg,#ddef9d 239.11deg,#e5f2a4 239.25deg,#ddef9d 239.39deg,#aedd7c 239.53deg,#eff5ae 239.67deg,#dbee9c 239.81deg,#d6ec96 239.95deg,#dcef9c 240.09deg,#f2f6b3 240.23deg,#c1e587 240.37deg,#cce98e 240.52deg,#f0f5b0 240.66deg,#eff5ae 240.80deg,#dcef9c 240.94deg,#e4f1a3 241.08deg,#edf5ab 241.22deg,#f1f5b1 241.36deg,#d8ed98 241.50deg,#f4f6b5 241.64deg,#b0de7e 241.78deg,#dff09f 241.93deg,#f2f6b2 242.07deg,#e4f2a3 242.21deg,#dbee9b 242.35deg,#e3f1a2 242.49deg,#c6e78a 242.63deg,#d5ec96 242.77deg,#d8ed99 242.91deg,#daee9b 243.05deg,#d6ec97 243.19deg,#f0f5af 243.34deg,#7cca60 243.48deg,#c5e68a 243.62deg,#eff5ae 243.76deg,#cde98f 243.90deg,#d3ec94 244.04deg,#e0f0a0 244.18deg,#e2f1a1 244.32deg,#9fd873 244.46deg,#b7e181 244.60deg,#ecf4ab 244.75deg,#e8f3a7 244.89deg,#d5ec96 245.03deg,#c0e487 245.17deg,#d9ee9a 245.31deg,#a8db79 245.45deg,#a8db79 245.59deg,#bce384 245.73deg,#eef5ad 245.87deg,#e2f1a1 246.01deg,#d4ec95 246.16deg,#e9f3a8 246.30deg,#f1f5b1 246.44deg,#c3e588 246.58deg,#a0d874 246.72deg,#dbee9b 246.86deg,#afde7d 247.00deg,#c3e589 247.14deg,#d3eb94 247.28deg,#d0ea91 247.42deg,#c7e78b 247.57deg,#a6db78 247.71deg,#73c75c 247.85deg,#85ce64 247.99deg,#c9e88c 248.13deg,#6ec459 248.27deg,#b3df7f 248.41deg,#9fd874 248.55deg,#91d26b 248.69deg,#bce384 248.83deg,#5dbe51 248.98deg,#98d56f 249.12deg,#86ce65 249.26deg,#7bca60 249.40deg,#6ac357 249.54deg,#6ac358 249.68deg,#67c256 249.82deg,#fff 249.82deg,#fff 251.35deg,#faf8c4 251.35deg,#faf8c4 251.49deg,#f3f6b4 251.63deg,#f3f6b4 251.77deg,#fcfacd 251.91deg,#f4f6b6 252.05deg,#f3f6b5 252.20deg,#fbf8c6 252.34deg,#c7e78b 252.48deg,#f2f6b3 252.62deg,#fbf9c9 252.76deg,#f7f7bb 252.90deg,#f0f5b0 253.04deg,#fbf8c7 253.18deg,#f2f6b3 253.32deg,#d1eb93 253.46deg,#eff5ae 253.60deg,#f7f6ba 253.75deg,#eff5ad 253.89deg,#f0f5b0 254.03deg,#e0f0a0 254.17deg,#d6ed97 254.31deg,#cfea91 254.45deg,#dcef9c 254.59deg,#dbee9b 254.73deg,#faf7c2 254.87deg,#fbf9c8 255.01deg,#e7f3a6 255.16deg,#b5e080 255.30deg,#e1f0a0 255.44deg,#eff5ad 255.58deg,#eaf4a8 255.72deg,#b3df7f 255.86deg,#d3eb94 256.00deg,#87cf65 256.14deg,#d3eb94 256.28deg,#5cbd50 256.42deg,#81cc63 256.56deg,#a2d975 256.71deg,#88cf66 256.85deg,#74c75c 256.99deg,#6ec55a 257.13deg,#66c156 257.27deg,#83cd63 257.41deg,#58bc4f 257.55deg,#80cc62 257.69deg,#8ad067 257.83deg,#75c75d 257.97deg,#249638 258.12deg,#279939 258.26deg,#5dbd51 258.40deg,#87cf65 258.54deg,#6fc55a 258.68deg,#7fcb62 258.82deg,#88cf66 258.96deg,#8ed16a 259.10deg,#75c75d 259.24deg,#40ae44 259.38deg,#c5e68a 259.52deg,#9ad670 259.67deg,#93d36c 259.81deg,#d6ec97 259.95deg,#ceea90 260.09deg,#bce385 260.23deg,#bae284 260.37deg,#d1eb93 260.51deg,#d6ec96 260.65deg,#d3ec94 260.79deg,#cfea91 260.93deg,#aadc7a 261.08deg,#e2f1a1 261.22deg,#d6ed97 261.36deg,#fcfacd 261.50deg,#e2f1a1 261.64deg,#e2f1a2 261.78deg,#c1e587 261.92deg,#dbee9b 262.06deg,#e9f3a8 262.20deg,#cfea90 262.34deg,#bae283 262.48deg,#daee9a 262.63deg,#f0f5b0 262.77deg,#c4e689 262.91deg,#e1f0a0 263.05deg,#f2f6b2 263.19deg,#d7ed98 263.33deg,#eaf4a9 263.47deg,#d4ec95 263.61deg,#d7ed98 263.75deg,#e0f0a0 263.89deg,#bae283 264.04deg,#bbe384 264.18deg,#aadc7a 264.32deg,#d9ee99 264.46deg,#e8f3a7 264.60deg,#acdd7b 264.74deg,#a5da77 264.88deg,#c6e78a 265.02deg,#37a640 265.16deg,#62bf53 265.30deg,#81cc63 265.44deg,#a3d976 265.59deg,#cce98e 265.73deg,#5ebe52 265.87deg,#5dbe51 266.01deg,#7cca60 266.15deg,#59bc4f 266.29deg,#a1d874 266.43deg,#73c65c 266.57deg,#2b9c3b 266.71deg,#76c85d 266.85deg,#87cf65 267.00deg,#43b045 267.14deg,#6ec55a 267.28deg,#32a13e 267.42deg,#8fd26a 267.56deg,#5dbe51 267.70deg,#249638 267.84deg,#5dbd51 267.98deg,#3eac43 268.12deg,#9dd773 268.26deg,#88cf66 268.40deg,#3eac43 268.55deg,#7ac95f 268.69deg,#4fb84b 268.83deg,#58bc4f 268.97deg,#fff 268.97deg,#fff 270.50deg,#ddef9d 270.50deg,#edf5ab 270.64deg,#dcef9c 270.78deg,#bbe284 270.92deg,#daee9a 271.06deg,#cae88d 271.20deg,#7fcb62 271.34deg,#89cf66 271.48deg,#cde98f 271.62deg,#abdc7b 271.76deg,#aedd7c 271.90deg,#5abd50 272.04deg,#afde7d 272.18deg,#53ba4d 272.32deg,#72c65c 272.46deg,#95d46d 272.60deg,#96d56f 272.74deg,#ceea90 272.88deg,#62c054 273.02deg,#63c054 273.16deg,#a1d874 273.30deg,#acdd7b 273.44deg,#d1eb93 273.58deg,#b8e182 273.72deg,#d5ec96 273.86deg,#f8f7bd 274.01deg,#f4f6b5 274.15deg,#d5ec96 274.29deg,#f5f6b8 274.43deg,#f6f6b9 274.57deg,#f0f5b0 274.71deg,#d7ed98 274.85deg,#deef9e 274.99deg,#fbf8c6 275.13deg,#f5f6b8 275.27deg,#f2f6b3 275.41deg,#faf7c0 275.55deg,#f0f5b0 275.69deg,#f7f7bc 275.83deg,#f5f6b7 275.97deg,#f0f5b0 276.11deg,#faf7c2 276.25deg,#f5f6b8 276.39deg,#f0f5b0 276.53deg,#f1f6b1 276.67deg,#f8f7bd 276.81deg,#faf7c0 276.95deg,#faf7c0 277.09deg,#d7ed97 277.23deg,#f5f6b8 277.37deg,#e0f09f 277.51deg,#deef9e 277.65deg,#e2f1a2 277.79deg,#d1eb92 277.93deg,#a4da77 278.07deg,#d3eb94 278.22deg,#e6f2a5 278.36deg,#c4e689 278.50deg,#b7e182 278.64deg,#d0eb92 278.78deg,#55bb4d 278.92deg,#d7ed98 279.06deg,#6fc55a 279.20deg,#47b447 279.34deg,#2e9e3c 279.48deg,#44b145 279.62deg,#60bf53 279.76deg,#89d067 279.90deg,#35a43f 280.04deg,#6cc458 280.18deg,#42af45 280.32deg,#71c65b 280.46deg,#d6ed97 280.60deg,#6cc458 280.74deg,#46b346 280.88deg,#67c256 281.02deg,#39a841 281.16deg,#249638 281.30deg,#7dca61 281.44deg,#72c65b 281.58deg,#90d26b 281.72deg,#37a640 281.86deg,#b3df7f 282.00deg,#87cf66 282.14deg,#42af45 282.29deg,#dff09e 282.43deg,#9bd671 282.57deg,#a7db78 282.71deg,#a3d976 282.85deg,#97d56f 282.99deg,#acdd7b 283.13deg,#c6e78b 283.27deg,#d6ed97 283.41deg,#fff 283.41deg,#fff 284.94deg,#f5f6b8 284.94deg,#f3f6b4 285.08deg,#e8f3a6 285.22deg,#e6f2a5 285.36deg,#deef9e 285.50deg,#b8e182 285.64deg,#d9ed99 285.78deg,#d9ee99 285.92deg,#eef5ac 286.06deg,#ddef9d 286.20deg,#eef5ac 286.34deg,#aede7c 286.48deg,#d1eb92 286.62deg,#47b347 286.76deg,#dcef9d 286.90deg,#89d067 287.04deg,#d5ec96 287.18deg,#d6ed97 287.32deg,#99d570 287.47deg,#a6db78 287.61deg,#79c95f 287.75deg,#7bca60 287.89deg,#6cc458 288.03deg,#8dd169 288.17deg,#66c156 288.31deg,#89cf66 288.45deg,#cbe88d 288.59deg,#9ed773 288.73deg,#82cc63 288.87deg,#79c95f 289.01deg,#51b94b 289.15deg,#5ebe51 289.29deg,#70c55a 289.43deg,#d3eb94 289.57deg,#eef5ad 289.71deg,#cfea91 289.85deg,#cde98f 290.00deg,#b5e081 290.14deg,#f7f7bb 290.28deg,#f1f6b1 290.42deg,#f7f6bb 290.56deg,#fbf8c6 290.70deg,#deef9e 290.84deg,#f6f6ba 290.98deg,#eff5ae 291.12deg,#f0f5af 291.26deg,#faf7c0 291.40deg,#d5ec96 291.54deg,#ebf4a9 291.68deg,#eff5ae 291.82deg,#faf7c2 291.96deg,#faf8c3 292.10deg,#fcf9cc 292.24deg,#f3f6b5 292.38deg,#f2f6b3 292.53deg,#dff09f 292.67deg,#d5ec96 292.81deg,#f4f6b7 292.95deg,#f5f6b7 293.09deg,#f9f7be 293.23deg,#ecf4aa 293.37deg,#f5f6b8 293.51deg,#e6f2a5 293.65deg,#dcee9c 293.79deg,#eaf4a9 293.93deg,#d9ed99 294.07deg,#c5e68a 294.21deg,#deef9e 294.35deg,#d7ed98 294.49deg,#7dcb61 294.63deg,#97d56f 294.77deg,#72c65b 294.91deg,#76c85d 295.05deg,#7dcb61 295.20deg,#82cc63 295.34deg,#6ac357 295.48deg,#73c75c 295.62deg,#5cbd51 295.76deg,#73c65c 295.90deg,#85ce64 296.04deg,#249638 296.18deg,#8ed169 296.32deg,#8dd169 296.46deg,#57bb4f 296.60deg,#6cc459 296.74deg,#c6e78b 296.88deg,#87cf66 297.02deg,#8bd068 297.16deg,#63c054 297.30deg,#bae283 297.44deg,#8fd26a 297.58deg,#abdc7b 297.73deg,#b2df7f 297.87deg,#c0e587 298.01deg,#9cd772 298.15deg,#bbe384 298.29deg,#6dc459 298.43deg,#deef9e 298.57deg,#b1df7e 298.71deg,#91d26b 298.85deg,#c1e587 298.99deg,#f1f5b0 299.13deg,#fff 299.13deg,#fff 300.66deg,#ddef9d 300.66deg,#eaf4a9 300.80deg,#9fd873 300.94deg,#c5e68a 301.08deg,#bee486 301.22deg,#94d46d 301.36deg,#73c65c 301.50deg,#7ecb61 301.64deg,#c3e589 301.79deg,#8dd169 301.93deg,#cfea90 302.07deg,#a4da76 302.21deg,#afde7d 302.35deg,#67c256 302.49deg,#75c75d 302.63deg,#87cf66 302.77deg,#54ba4d 302.91deg,#a3d976 303.05deg,#8ed16a 303.19deg,#84ce64 303.34deg,#83cd64 303.48deg,#addd7c 303.62deg,#68c256 303.76deg,#32a23e 303.90deg,#5abd50 304.04deg,#64c054 304.18deg,#67c256 304.32deg,#4ab648 304.46deg,#4ab648 304.60deg,#2a9b3b 304.74deg,#36a540 304.89deg,#7ecb61 305.03deg,#74c75c 305.17deg,#8ed16a 305.31deg,#84cd64 305.45deg,#40ad44 305.59deg,#67c256 305.73deg,#7bca60 305.87deg,#77c85e 306.01deg,#89cf67 306.15deg,#79c95f 306.29deg,#a8db79 306.43deg,#3dab43 306.58deg,#63c054 306.72deg,#abdc7b 306.86deg,#87cf66 307.00deg,#c2e588 307.14deg,#2c9c3b 307.28deg,#bfe486 307.42deg,#b5e081 307.56deg,#6dc459 307.70deg,#b5e080 307.84deg,#acdd7b 307.98deg,#dbee9b 308.13deg,#cfea91 308.27deg,#d6ed97 308.41deg,#d6ec97 308.55deg,#d8ed99 308.69deg,#b9e283 308.83deg,#82cc63 308.97deg,#cce98e 309.11deg,#eff5ad 309.25deg,#f4f6b5 309.39deg,#d9ee9a 309.53deg,#e0f0a0 309.68deg,#daee9a 309.82deg,#eef5ac 309.96deg,#d7ed98 310.10deg,#d4ec95 310.24deg,#eff5ad 310.38deg,#f4f6b6 310.52deg,#e7f2a6 310.66deg,#f0f5b0 310.80deg,#daee9b 310.94deg,#eef5ac 311.08deg,#e3f1a3 311.22deg,#c0e487 311.37deg,#d1eb92 311.51deg,#f2f6b3 311.65deg,#ddef9d 311.79deg,#f0f5af 311.93deg,#e5f2a4 312.07deg,#eff5ae 312.21deg,#f5f6b8 312.35deg,#aedd7c 312.49deg,#e9f3a7 312.63deg,#def09e 312.77deg,#d4ec95 312.92deg,#e0f0a0 313.06deg,#7fcb62 313.20deg,#dcef9d 313.34deg,#a1d875 313.48deg,#aedd7c 313.62deg,#a1d874 313.76deg,#cbe98d 313.90deg,#87cf66 314.04deg,#8dd169 314.18deg,#a4da76 314.32deg,#77c85e 314.47deg,#7bca60 314.61deg,#75c75d 314.75deg,#53ba4c 314.89deg,#69c257 315.03deg,#88cf66 315.17deg,#6ec459 315.31deg,#77c85e 315.45deg,#41ae44 315.59deg,#249638 315.73deg,#71c65b 315.87deg,#68c257 316.01deg,#67c256 316.16deg,#30a03d 316.30deg,#67c256 316.44deg,#63c054 316.58deg,#97d56f 316.72deg,#51b94c 316.86deg,#78c95e 317.00deg,#67c256 317.14deg,#6fc55a 317.28deg,#84ce64 317.42deg,#8fd16a 317.56deg,#8dd169 317.71deg,#79c95f 317.85deg,#daee9b 317.99deg,#81cc63 318.13deg,#bae283 318.27deg,#89cf66 318.41deg,#7ac95f 318.55deg,#addd7c 318.69deg,#abdd7b 318.83deg,#cfea91 318.97deg,#b4e080 319.11deg,#d0eb92 319.26deg,#cfea91 319.40deg,#cde98f 319.54deg,#bee486 319.68deg,#addd7c 319.82deg,#d0ea91 319.96deg,#c6e78b 320.10deg,#abdc7b 320.24deg,#d3ec94 320.38deg,#fff 320.38deg,#fff 321.91deg,#91d26b 321.91deg,#50b84b 322.05deg,#d5ec96 322.19deg,#c9e88c 322.33deg,#9dd772 322.47deg,#9fd873 322.61deg,#45b246 322.75deg,#92d36c 322.89deg,#b6e181 323.04deg,#c1e588 323.18deg,#89cf66 323.32deg,#57bb4e 323.46deg,#88cf66 323.60deg,#66c155 323.74deg,#bae283 323.88deg,#80cc62 324.02deg,#c0e487 324.16deg,#c4e689 324.30deg,#98d56f 324.44deg,#e8f3a7 324.58deg,#9bd671 324.72deg,#b1df7e 324.86deg,#9cd672 325.00deg,#b1df7e 325.14deg,#c7e78b 325.29deg,#88cf66 325.43deg,#a4da77 325.57deg,#d8ed99 325.71deg,#9cd772 325.85deg,#eff5ae 325.99deg,#e5f2a4 326.13deg,#f0f5af 326.27deg,#d3eb94 326.41deg,#eff5ad 326.55deg,#e6f2a5 326.69deg,#e9f3a8 326.83deg,#f4f6b6 326.97deg,#e7f2a6 327.11deg,#ddef9d 327.25deg,#ebf4a9 327.39deg,#b1df7e 327.54deg,#f0f5af 327.68deg,#f7f7bb 327.82deg,#b9e283 327.96deg,#f8f7bc 328.10deg,#e3f1a2 328.24deg,#e8f3a7 328.38deg,#f1f5b0 328.52deg,#f6f6ba 328.66deg,#fcfad1 328.80deg,#f8f7bd 328.94deg,#f4f6b6 329.08deg,#e1f0a1 329.22deg,#eaf4a8 329.36deg,#eef5ad 329.50deg,#eff5ae 329.64deg,#faf7c0 329.79deg,#e3f1a2 329.93deg,#deef9d 330.07deg,#f1f5b0 330.21deg,#f2f6b2 330.35deg,#d7ed97 330.49deg,#f2f6b2 330.63deg,#f0f5b0 330.77deg,#eef5ac 330.91deg,#e3f1a3 331.05deg,#e5f2a4 331.19deg,#f2f6b3 331.33deg,#b3df7f 331.47deg,#c1e588 331.61deg,#a8db79 331.75deg,#d4ec95 331.90deg,#76c85d 332.04deg,#a8db79 332.18deg,#55bb4d 332.32deg,#b4e080 332.46deg,#4fb84a 332.60deg,#82cc63 332.74deg,#7bca60 332.88deg,#76c85d 333.02deg,#e8f3a7 333.16deg,#93d36c 333.30deg,#93d36c 333.44deg,#69c257 333.58deg,#60bf52 333.72deg,#87cf66 333.86deg,#afde7d 334.00deg,#6cc458 334.15deg,#6ac358 334.29deg,#abdd7b 334.43deg,#89cf66 334.57deg,#b6e181 334.71deg,#a0d874 334.85deg,#abdd7b 334.99deg,#9fd873 335.13deg,#6bc358 335.27deg,#afde7d 335.41deg,#a7db78 335.55deg,#b7e182 335.69deg,#ceea8f 335.83deg,#c2e588 335.97deg,#c2e588 336.11deg,#d8ed98 336.25deg,#e6f2a5 336.40deg,#bde385 336.54deg,#daee9a 336.68deg,#dbee9b 336.82deg,#dcef9c 336.96deg,#d0ea92 337.10deg,#b2df7f 337.24deg,#bee486 337.38deg,#d7ed98 337.52deg,#abdc7b 337.66deg,#e4f2a4 337.80deg,#e1f0a0 337.94deg,#e4f1a3 338.08deg,#d8ed99 338.22deg,#cce98e 338.36deg,#f1f5b0 338.50deg,#e3f1a2 338.65deg,#d0eb92 338.79deg,#cfea91 338.93deg,#d2eb93 339.07deg,#e4f1a3 339.21deg,#fff 339.21deg,#fff 340.74deg,#d3ec94 340.74deg,#b0de7d 340.88deg,#b1df7e 341.02deg,#bbe284 341.16deg,#d2eb93 341.30deg,#d8ed99 341.44deg,#d2eb93 341.58deg,#d7ed98 341.72deg,#96d46e 341.86deg,#b0de7e 342.00deg,#7dca61 342.14deg,#74c75c 342.28deg,#a2d975 342.42deg,#8ad067 342.56deg,#b0de7e 342.70deg,#95d46e 342.84deg,#b1df7e 342.98deg,#d4ec95 343.12deg,#c3e589 343.27deg,#b4e080 343.41deg,#aadc7a 343.55deg,#a3d976 343.69deg,#9bd671 343.83deg,#2d9e3c 343.97deg,#aadc7a 344.11deg,#b8e182 344.25deg,#96d46e 344.39deg,#c7e78b 344.53deg,#d3eb94 344.67deg,#93d36c 344.81deg,#b5e081 344.95deg,#afde7d 345.09deg,#d8ed98 345.23deg,#d7ed98 345.37deg,#a0d874 345.51deg,#eff5ad 345.65deg,#bee486 345.79deg,#ecf4aa 345.94deg,#d2eb94 346.08deg,#d1eb93 346.22deg,#e6f2a5 346.36deg,#f8f7bc 346.50deg,#e5f2a4 346.64deg,#e0f0a0 346.78deg,#ddef9d 346.92deg,#f3f6b4 347.06deg,#e6f2a5 347.20deg,#ebf4a9 347.34deg,#f1f6b1 347.48deg,#f6f6b9 347.62deg,#c9e88c 347.76deg,#f5f6b8 347.90deg,#ebf4aa 348.04deg,#dbee9b 348.18deg,#d1eb93 348.32deg,#ceea90 348.46deg,#e1f0a0 348.60deg,#e0f0a0 348.75deg,#deef9e 348.89deg,#d4ec95 349.03deg,#e4f2a3 349.17deg,#cce98e 349.31deg,#d8ed99 349.45deg,#93d36c 349.59deg,#d1eb93 349.73deg,#afde7d 349.87deg,#6cc458 350.01deg,#c2e588 350.15deg,#9dd772 350.29deg,#99d670 350.43deg,#bde385 350.57deg,#9ad670 350.71deg,#92d36c 350.85deg,#90d26b 350.99deg,#a0d874 351.13deg,#b9e283 351.27deg,#84cd64 351.41deg,#c2e588 351.56deg,#aadc7a 351.70deg,#cae88d 351.84deg,#a5da77 351.98deg,#9bd671 352.12deg,#88cf66 352.26deg,#8ad067 352.40deg,#b1df7e 352.54deg,#53ba4d 352.68deg,#9cd672 352.82deg,#7cca60 352.96deg,#d1eb92 353.10deg,#92d36c 353.24deg,#c4e689 353.38deg,#b0de7e 353.52deg,#dbee9b 353.66deg,#c1e588 353.80deg,#9fd873 353.94deg,#e5f2a4 354.08deg,#c2e588 354.23deg,#e6f2a5 354.37deg,#d4ec95 354.51deg,#d3eb94 354.65deg,#bee486 354.79deg,#e3f1a2 354.93deg,#dff09f 355.07deg,#f2f6b3 355.21deg,#f0f5af 355.35deg,#e4f1a3 355.49deg,#dff09f 355.63deg,#e0f0a0 355.77deg,#e1f0a0 355.91deg,#cfea90 356.05deg,#ecf4aa 356.19deg,#f1f6b2 356.33deg,#e0f0a0 356.47deg,#d3ec94 356.61deg,#e3f1a2 356.75deg,#daee9a 356.89deg,#f1f6b2 357.04deg,#fff 357.04deg,#fff 360deg)"></div>
<div class="d" style="left:348.0px;top:156.0px;width:1300.0px;height:1300.0px;background:conic-gradient(#fff 0deg,#fff 5.03deg,#67cac5 5.03deg,#49bdca 5.17deg,#d5eeb7 5.31deg,#94d9bd 5.45deg,#85d5c0 5.59deg,#a6dfb9 5.73deg,#7fd3c1 5.87deg,#96dabc 6.01deg,#b4e3b6 6.15deg,#d3edb7 6.30deg,#daefb8 6.44deg,#daefb8 6.58deg,#d3edb7 6.72deg,#d7eeb7 6.86deg,#daefb8 7.00deg,#dcf0b8 7.14deg,#e7f3b9 7.28deg,#d7eeb7 7.42deg,#f0f6c0 7.56deg,#eff6be 7.70deg,#f0f6c0 7.84deg,#eff6bf 7.98deg,#f6f7c8 8.12deg,#fdfad8 8.26deg,#f8f8cb 8.40deg,#f7f8c9 8.54deg,#fdfad6 8.69deg,#fcf9d1 8.83deg,#fdfad6 8.97deg,#fbf9ce 9.11deg,#f6f8c8 9.25deg,#fefbe1 9.39deg,#fefbe0 9.53deg,#fdfada 9.67deg,#e8f4b9 9.81deg,#fefbe0 9.95deg,#fefce6 10.09deg,#fffdec 10.23deg,#fdfada 10.37deg,#fefce4 10.51deg,#fdfada 10.65deg,#edf5bb 10.79deg,#fdfada 10.93deg,#fffce8 11.07deg,#fffde9 11.22deg,#fdfbdb 11.36deg,#fefce3 11.50deg,#fdfad8 11.64deg,#fdfbdd 11.78deg,#f9f8cb 11.92deg,#fdfbdd 12.06deg,#fefce4 12.20deg,#fdfbdc 12.34deg,#fefce5 12.48deg,#fdfad8 12.62deg,#fdfbde 12.76deg,#fffde9 12.90deg,#fdfad9 13.04deg,#fcf9d0 13.18deg,#fcfad4 13.32deg,#fdfad9 13.46deg,#fffdeb 13.61deg,#fdfad7 13.75deg,#fdfada 13.89deg,#fffce8 14.03deg,#fefce6 14.17deg,#fdfad7 14.31deg,#f9f8cc 14.45deg,#fdfbdc 14.59deg,#faf8cd 14.73deg,#fdfad8 14.87deg,#fcf9d3 15.01deg,#fdfbdc 15.15deg,#f9f8cc 15.29deg,#f8f8ca 15.43deg,#fcf9d1 15.57deg,#f3f7c3 15.71deg,#f4f7c5 15.85deg,#f3f7c4 16.00deg,#faf9ce 16.14deg,#f4f7c5 16.28deg,#f0f6c0 16.42deg,#f4f7c5 16.56deg,#eff6be 16.70deg,#f2f7c3 16.84deg,#cfecb6 16.98deg,#f4f7c5 17.12deg,#f1f6c1 17.26deg,#d3edb7 17.40deg,#eef6bd 17.54deg,#f1f6c1 17.68deg,#f0f6bf 17.82deg,#d3edb7 17.96deg,#afe2b7 18.10deg,#dcf0b8 18.24deg,#c5e9b5 18.39deg,#eef5bc 18.53deg,#e8f4ba 18.67deg,#d0ecb6 18.81deg,#62c8c6 18.95deg,#d5eeb7 19.09deg,#b6e4b6 19.23deg,#e4f2b9 19.37deg,#c6e9b5 19.51deg,#d8efb7 19.65deg,#e1f2b9 19.79deg,#b9e5b5 19.93deg,#c6e9b5 20.07deg,#c4e8b5 20.21deg,#b0e2b7 20.35deg,#d3edb7 20.49deg,#d1ecb6 20.63deg,#d6eeb7 20.78deg,#d7eeb7 20.92deg,#dff1b8 21.06deg,#a3deba 21.20deg,#92d9bd 21.34deg,#c7e9b5 21.48deg,#c4e8b4 21.62deg,#bee6b4 21.76deg,#88d6bf 21.90deg,#a2deba 22.04deg,#e0f1b8 22.18deg,#b8e4b6 22.32deg,#b5e3b6 22.46deg,#79d1c2 22.60deg,#ceebb6 22.74deg,#47bccb 22.88deg,#c0e7b4 23.02deg,#7fd3c1 23.16deg,#b8e5b6 23.31deg,#d5eeb7 23.45deg,#a0ddba 23.59deg,#c0e7b4 23.73deg,#99dbbc 23.87deg,#6fcdc4 24.01deg,#96dabc 24.15deg,#67cac5 24.29deg,#fff 24.29deg,#fff 25.82deg,#35aac9 25.82deg,#67cac5 25.96deg,#afe2b7 26.10deg,#42bacb 26.24deg,#82d4c0 26.38deg,#85d5c0 26.52deg,#59c4c8 26.66deg,#8ed7be 26.81deg,#95dabd 26.95deg,#cbebb6 27.09deg,#52c1c9 27.23deg,#a1ddba 27.37deg,#c6e9b5 27.51deg,#56c2c8 27.65deg,#aae0b8 27.79deg,#9bdcbb 27.93deg,#a3deba 28.08deg,#8fd8be 28.22deg,#91d8bd 28.36deg,#b8e5b6 28.50deg,#c8eab5 28.64deg,#9ddcbb 28.78deg,#fcf9d1 28.92deg,#aee1b8 29.06deg,#f7f8c9 29.20deg,#a9e0b9 29.35deg,#dcf0b8 29.49deg,#ceecb6 29.63deg,#eef5bc 29.77deg,#ecf5ba 29.91deg,#edf5bb 30.05deg,#ddf0b8 30.19deg,#c8eab5 30.33deg,#f5f7c6 30.48deg,#fdfad7 30.62deg,#def1b8 30.76deg,#e5f3b9 30.90deg,#f5f7c7 31.04deg,#f8f8ca 31.18deg,#d9efb7 31.32deg,#fcf9d2 31.46deg,#fcf9d1 31.60deg,#fcfad4 31.75deg,#f3f7c4 31.89deg,#f7f8c9 32.03deg,#fefbe1 32.17deg,#fdfbdc 32.31deg,#fdfbdb 32.45deg,#faf8cd 32.59deg,#fdfad6 32.73deg,#fdfad7 32.87deg,#fdfbdb 33.02deg,#fcf9d2 33.16deg,#fcf9d0 33.30deg,#f6f7c8 33.44deg,#fdfad9 33.58deg,#fefce4 33.72deg,#fdfbdd 33.86deg,#fefce2 34.00deg,#fdfada 34.14deg,#faf9cd 34.29deg,#f6f7c7 34.43deg,#f1f6c1 34.57deg,#f9f8cc 34.71deg,#fefce6 34.85deg,#fcf9cf 34.99deg,#fcf9d3 35.13deg,#fcfad4 35.27deg,#f9f8cb 35.42deg,#f2f6c2 35.56deg,#fdfad6 35.70deg,#f1f6c0 35.84deg,#f1f6c1 35.98deg,#edf5bb 36.12deg,#f4f7c5 36.26deg,#f8f8cb 36.40deg,#ecf5ba 36.54deg,#dff1b8 36.69deg,#eef6bd 36.83deg,#e7f3b9 36.97deg,#dbf0b8 37.11deg,#eff6be 37.25deg,#bee6b4 37.39deg,#d3edb7 37.53deg,#c5e9b5 37.67deg,#bee6b4 37.81deg,#d7eeb7 37.96deg,#c6e9b5 38.10deg,#c0e7b4 38.24deg,#def0b8 38.38deg,#daefb8 38.52deg,#eff6be 38.66deg,#f2f6c2 38.80deg,#c6e9b5 38.94deg,#b7e4b6 39.08deg,#c9eab5 39.23deg,#f8f8ca 39.37deg,#c0e7b4 39.51deg,#d0ecb6 39.65deg,#d4edb7 39.79deg,#a5dfb9 39.93deg,#c5e9b5 40.07deg,#e5f3b9 40.21deg,#8bd6bf 40.36deg,#99dbbc 40.50deg,#a2deba 40.64deg,#a1ddba 40.78deg,#55c2c8 40.92deg,#caeab5 41.06deg,#f4f7c5 41.20deg,#c9eab5 41.34deg,#97dabc 41.48deg,#a6dfb9 41.63deg,#c5e9b5 41.77deg,#e6f3b9 41.91deg,#c9eab5 42.05deg,#85d5c0 42.19deg,#a1ddba 42.33deg,#fff 42.33deg,#fff 43.86deg,#36adca 43.86deg,#2da0c7 44.00deg,#45bbcb 44.14deg,#3cb5cb 44.28deg,#67cac5 44.42deg,#51c1c9 44.56deg,#1e8ac2 44.70deg,#5dc6c7 44.84deg,#3db7cc 44.98deg,#3cb5cb 45.12deg,#34aac9 45.26deg,#72cfc4 45.40deg,#60c7c6 45.54deg,#73cfc3 45.68deg,#a9e0b9 45.82deg,#6bccc5 45.96deg,#5ac5c7 46.10deg,#95dabd 46.24deg,#e1f1b8 46.38deg,#e9f4ba 46.52deg,#e0f1b8 46.66deg,#edf5bc 46.80deg,#eff6be 46.94deg,#f4f7c5 47.08deg,#fdfad6 47.22deg,#edf5bc 47.36deg,#fbf9ce 47.50deg,#f8f8cb 47.64deg,#f8f8ca 47.78deg,#f6f7c8 47.92deg,#fdfad5 48.06deg,#fefce5 48.20deg,#f8f8ca 48.34deg,#fdfad6 48.48deg,#fdfbde 48.62deg,#fdfad9 48.76deg,#f6f8c8 48.90deg,#fcfad4 49.04deg,#fcfad4 49.18deg,#f0f6bf 49.32deg,#eff6bf 49.46deg,#fdfad5 49.60deg,#fcfad4 49.74deg,#fdfada 49.88deg,#f0f6c0 50.02deg,#fdfad5 50.16deg,#fefce2 50.30deg,#f7f8c9 50.44deg,#f9f8cc 50.58deg,#fdfbdb 50.72deg,#f9f8cc 50.86deg,#fdfad6 51.00deg,#eff6bd 51.15deg,#f7f8c9 51.29deg,#cfecb6 51.43deg,#fcf9d1 51.57deg,#f0f6c0 51.71deg,#f7f8c9 51.85deg,#e0f1b8 51.99deg,#f9f8cc 52.13deg,#f0f6c0 52.27deg,#f3f7c3 52.41deg,#f0f6c0 52.55deg,#f4f7c4 52.69deg,#f2f7c3 52.83deg,#eff6be 52.97deg,#eff6bf 53.11deg,#f0f6c0 53.25deg,#d7eeb7 53.39deg,#f2f6c2 53.53deg,#e1f2b9 53.67deg,#6dcdc5 53.81deg,#aae0b8 53.95deg,#d8efb7 54.09deg,#e9f4ba 54.23deg,#c8eab5 54.37deg,#e5f3b9 54.51deg,#b5e4b6 54.65deg,#d6eeb7 54.79deg,#c4e8b5 54.93deg,#73cfc3 55.07deg,#9ddcbb 55.21deg,#70cec4 55.35deg,#bce6b5 55.49deg,#def1b8 55.63deg,#a5dfb9 55.77deg,#7fd3c1 55.91deg,#a7dfb9 56.05deg,#92d9bd 56.19deg,#8cd7be 56.33deg,#ade1b8 56.47deg,#5ec6c7 56.61deg,#6bccc5 56.75deg,#65c9c6 56.89deg,#8ad6bf 57.03deg,#c5e9b5 57.17deg,#61c7c6 57.31deg,#80d3c1 57.45deg,#7cd2c2 57.59deg,#a3deba 57.73deg,#7ed2c1 57.87deg,#65c9c6 58.01deg,#83d4c0 58.15deg,#44bbcb 58.29deg,#c7e9b5 58.43deg,#c3e8b4 58.57deg,#9edcbb 58.71deg,#ace1b8 58.85deg,#e8f4b9 58.99deg,#d4edb7 59.13deg,#bee6b4 59.27deg,#d8efb7 59.41deg,#bfe7b4 59.55deg,#fff 59.55deg,#fff 61.08deg,#dff1b8 61.08deg,#d9efb7 61.22deg,#d9efb7 61.36deg,#cfecb6 61.50deg,#a4deba 61.64deg,#f4f7c4 61.79deg,#dcf0b8 61.93deg,#c4e8b4 62.07deg,#b4e3b6 62.21deg,#d4edb7 62.35deg,#def1b8 62.49deg,#dcf0b8 62.63deg,#c8eab5 62.77deg,#a0ddba 62.91deg,#bce6b5 63.06deg,#a0ddba 63.20deg,#d8efb7 63.34deg,#edf5bc 63.48deg,#e7f3b9 63.62deg,#e7f4b9 63.76deg,#cbeab5 63.90deg,#dbf0b8 64.04deg,#ecf5ba 64.18deg,#caeab5 64.33deg,#dff1b8 64.47deg,#eaf4ba 64.61deg,#e1f2b9 64.75deg,#afe2b7 64.89deg,#dcf0b8 65.03deg,#d1ecb6 65.17deg,#f1f6c1 65.31deg,#e5f3b9 65.45deg,#c7e9b5 65.60deg,#f1f6c1 65.74deg,#aee1b8 65.88deg,#f9f8cc 66.02deg,#fcf9d1 66.16deg,#e1f2b9 66.30deg,#d4edb7 66.44deg,#f2f6c2 66.58deg,#f0f6c0 66.72deg,#fdfad6 66.87deg,#eaf4ba 67.01deg,#f3f7c3 67.15deg,#faf8cd 67.29deg,#fbf9cf 67.43deg,#f6f8c8 67.57deg,#f5f7c6 67.71deg,#f1f6c1 67.85deg,#fcf9d2 67.99deg,#f4f7c5 68.14deg,#f8f8cb 68.28deg,#fdfad7 68.42deg,#fcf9d0 68.56deg,#f7f8c9 68.70deg,#fcf9d1 68.84deg,#f5f7c6 68.98deg,#fdfad8 69.12deg,#eef6bd 69.26deg,#f8f8ca 69.41deg,#f0f6c0 69.55deg,#fcf9d0 69.69deg,#fcf9d2 69.83deg,#f1f6c1 69.97deg,#fcf9d2 70.11deg,#f8f8cb 70.25deg,#dbf0b8 70.39deg,#fdfada 70.53deg,#fbf9ce 70.68deg,#f1f6c1 70.82deg,#fbf9cf 70.96deg,#f1f6c1 71.10deg,#fefbdf 71.24deg,#f5f7c7 71.38deg,#fcf9d1 71.52deg,#fcf9d3 71.66deg,#f4f7c5 71.80deg,#f5f7c6 71.95deg,#eaf4ba 72.09deg,#fefce5 72.23deg,#f6f8c8 72.37deg,#fffde9 72.51deg,#fefce3 72.65deg,#fcf9d2 72.79deg,#fdfbdb 72.93deg,#fcfad4 73.07deg,#f1f6c2 73.22deg,#fdfad7 73.36deg,#fdfad8 73.50deg,#fcf9d2 73.64deg,#fefce5 73.78deg,#fcfad4 73.92deg,#f5f7c7 74.06deg,#f5f7c7 74.20deg,#fefce5 74.34deg,#f4f7c5 74.49deg,#eaf4ba 74.63deg,#fcf9d0 74.77deg,#f7f8c9 74.91deg,#fcf9d0 75.05deg,#fcf9d2 75.19deg,#f0f6c0 75.33deg,#f7f8c9 75.47deg,#f1f6c0 75.61deg,#e8f4b9 75.76deg,#ecf5ba 75.90deg,#dbefb8 76.04deg,#e2f2b9 76.18deg,#c7e9b5 76.32deg,#d8efb7 76.46deg,#c1e7b4 76.60deg,#c1e7b4 76.74deg,#c5e9b5 76.88deg,#97dabc 77.03deg,#d3edb7 77.17deg,#d9efb7 77.31deg,#9fddbb 77.45deg,#c7e9b5 77.59deg,#8dd7be 77.73deg,#73cfc3 77.87deg,#7bd2c2 78.01deg,#ade1b8 78.15deg,#9bdbbb 78.30deg,#6ecdc4 78.44deg,#63c8c6 78.58deg,#69cbc5 78.72deg,#4ebfc9 78.86deg,#fff 78.86deg,#fff 80.39deg,#54c2c8 80.39deg,#6cccc5 80.53deg,#78d0c2 80.67deg,#8bd6bf 80.81deg,#87d5bf 80.95deg,#78d0c2 81.09deg,#a3deba 81.23deg,#b1e2b7 81.37deg,#8cd7be 81.51deg,#6ecdc4 81.65deg,#92d9bd 81.79deg,#daefb8 81.93deg,#cfecb6 82.07deg,#d4edb7 82.21deg,#c6e9b5 82.35deg,#eef5bd 82.49deg,#f7f8c9 82.63deg,#f0f6bf 82.77deg,#e9f4ba 82.91deg,#e6f3b9 83.05deg,#f4f7c5 83.20deg,#f2f6c2 83.34deg,#fcf9d2 83.48deg,#eef5bd 83.62deg,#fdfbdd 83.76deg,#fcf9d2 83.90deg,#fcfad4 84.04deg,#f4f7c4 84.18deg,#fdfada 84.32deg,#fefbe1 84.46deg,#fdfbdc 84.60deg,#fcf9d0 84.74deg,#fdfad8 84.88deg,#fefce2 85.02deg,#fdfbdb 85.16deg,#fdfad5 85.30deg,#fdfad9 85.44deg,#f7f8c9 85.58deg,#fefbe1 85.72deg,#fdfbdd 85.86deg,#faf9ce 86.00deg,#fffdea 86.14deg,#fdfad6 86.28deg,#fdfad8 86.42deg,#fcf9d1 86.56deg,#fefbe1 86.71deg,#fdfad7 86.85deg,#fdfad6 86.99deg,#fdfad8 87.13deg,#fdfad5 87.27deg,#fefce2 87.41deg,#fefbe0 87.55deg,#f9f8cb 87.69deg,#fdfad7 87.83deg,#fcfad4 87.97deg,#fcfad4 88.11deg,#fefbde 88.25deg,#f7f8ca 88.39deg,#fdfad8 88.53deg,#fefbe0 88.67deg,#fcfad4 88.81deg,#fdfbdb 88.95deg,#f1f6c1 89.09deg,#fdfbdd 89.23deg,#f1f6c1 89.37deg,#edf5bb 89.51deg,#f1f6c1 89.65deg,#ddf0b8 89.79deg,#ebf5ba 89.93deg,#faf8cd 90.07deg,#e1f2b9 90.21deg,#eff6be 90.36deg,#c1e7b4 90.50deg,#e7f3b9 90.64deg,#f8f8ca 90.78deg,#bee6b4 90.92deg,#ace1b8 91.06deg,#c2e8b4 91.20deg,#c8eab5 91.34deg,#b1e2b7 91.48deg,#c0e7b4 91.62deg,#3fb8cc 91.76deg,#7ed2c1 91.90deg,#a2deba 92.04deg,#b7e4b6 92.18deg,#b1e2b7 92.32deg,#a4deba 92.46deg,#83d4c0 92.60deg,#bbe5b5 92.74deg,#b0e2b7 92.88deg,#75d0c3 93.02deg,#73cfc3 93.16deg,#7cd2c2 93.30deg,#d7eeb7 93.44deg,#dbf0b8 93.58deg,#56c3c8 93.72deg,#d0ecb6 93.87deg,#b8e4b6 94.01deg,#89d6bf 94.15deg,#c3e8b4 94.29deg,#cdebb6 94.43deg,#c2e8b4 94.57deg,#d7eeb7 94.71deg,#fff 94.71deg,#fff 96.24deg,#73cfc3 96.24deg,#73cfc3 96.38deg,#9adbbc 96.52deg,#95dabd 96.66deg,#d7eeb7 96.80deg,#89d6bf 96.94deg,#69cbc5 97.08deg,#82d4c0 97.22deg,#a1ddba 97.36deg,#7ed2c1 97.50deg,#a8e0b9 97.64deg,#c6e9b5 97.78deg,#59c4c8 97.92deg,#86d5c0 98.06deg,#30a4c8 98.20deg,#c3e8b4 98.35deg,#a5dfb9 98.49deg,#dbf0b8 98.63deg,#7cd2c2 98.77deg,#c2e8b4 98.91deg,#a3deba 99.05deg,#b6e4b6 99.19deg,#b3e3b7 99.33deg,#a0ddba 99.47deg,#bae5b5 99.61deg,#c4e8b5 99.75deg,#bfe7b4 99.89deg,#aae0b8 100.03deg,#bfe7b4 100.17deg,#daefb8 100.31deg,#e3f2b9 100.45deg,#c8eab5 100.60deg,#f4f7c4 100.74deg,#eaf4ba 100.88deg,#ccebb6 101.02deg,#f0f6bf 101.16deg,#f5f7c7 101.30deg,#fdfad9 101.44deg,#fcf9d0 101.58deg,#f7f8c9 101.72deg,#faf9cd 101.86deg,#fcfad4 102.00deg,#fbf9cf 102.14deg,#faf8cd 102.28deg,#fdfad9 102.42deg,#fefbe1 102.56deg,#fdfbde 102.71deg,#fefce5 102.85deg,#f1f6c1 102.99deg,#edf5bb 103.13deg,#fcf9d3 103.27deg,#fdfad9 103.41deg,#fefce2 103.55deg,#fffdec 103.69deg,#fdfbdb 103.83deg,#fefbe1 103.97deg,#fcf9d3 104.11deg,#f8f8cb 104.25deg,#fefbe1 104.39deg,#fefbe1 104.53deg,#fefbdf 104.67deg,#fffdeb 104.82deg,#fdfad5 104.96deg,#fcf9d0 105.10deg,#fefce5 105.24deg,#faf9cd 105.38deg,#fdfad7 105.52deg,#fcf9d1 105.66deg,#fcf9d2 105.80deg,#fdfad7 105.94deg,#fcf9d1 106.08deg,#fcf9d1 106.22deg,#fdfad9 106.36deg,#f5f7c6 106.50deg,#fcf9d1 106.64deg,#fcf9d2 106.78deg,#fcf9d2 106.92deg,#fdfad5 107.07deg,#f7f8c9 107.21deg,#fcf9d3 107.35deg,#e7f4b9 107.49deg,#e1f1b8 107.63deg,#ace1b8 107.77deg,#e9f4ba 107.91deg,#b5e4b6 108.05deg,#d8efb7 108.19deg,#ecf5ba 108.33deg,#61c8c6 108.47deg,#b3e3b7 108.61deg,#92d9bd 108.75deg,#79d1c2 108.89deg,#60c7c7 109.03deg,#d8efb7 109.18deg,#7ed2c1 109.32deg,#65c9c6 109.46deg,#93d9bd 109.60deg,#6ecdc4 109.74deg,#2ea1c7 109.88deg,#79d1c2 110.02deg,#57c3c8 110.16deg,#8fd8be 110.30deg,#6accc5 110.44deg,#43bacb 110.58deg,#6bccc5 110.72deg,#6ecdc4 110.86deg,#6cccc5 111.00deg,#b4e3b6 111.14deg,#5ec6c7 111.29deg,#70cec4 111.43deg,#b5e3b6 111.57deg,#45bbcb 111.71deg,#45bbcb 111.85deg,#42bacb 111.99deg,#30a4c8 112.13deg,#8fd8be 112.27deg,#9bdbbb 112.41deg,#7cd2c2 112.55deg,#b4e3b6 112.69deg,#a9e0b9 112.83deg,#c9eab5 112.97deg,#9cdcbb 113.11deg,#93d9bd 113.25deg,#81d3c1 113.39deg,#7fd3c1 113.54deg,#abe0b8 113.68deg,#fff 113.68deg,#fff 115.20deg,#42bacb 115.20deg,#35abc9 115.35deg,#5bc5c7 115.49deg,#52c1c9 115.63deg,#58c3c8 115.77deg,#39b1ca 115.91deg,#1e8ac2 116.05deg,#66cac6 116.19deg,#33a9c9 116.33deg,#bee6b4 116.47deg,#57c3c8 116.61deg,#80d3c1 116.76deg,#87d5bf 116.90deg,#86d5c0 117.04deg,#8ed7be 117.18deg,#8cd7be 117.32deg,#77d0c3 117.46deg,#78d0c2 117.60deg,#96dabc 117.74deg,#63c8c6 117.88deg,#cdebb6 118.02deg,#94d9bd 118.17deg,#c0e7b4 118.31deg,#c9eab5 118.45deg,#ceebb6 118.59deg,#a8e0b9 118.73deg,#fcf9d0 118.87deg,#e5f3b9 119.01deg,#fcf9d0 119.15deg,#eef5bd 119.29deg,#f2f7c3 119.43deg,#fdfbde 119.58deg,#f2f6c2 119.72deg,#e0f1b8 119.86deg,#f8f8cb 120.00deg,#f3f7c4 120.14deg,#fcf9d1 120.28deg,#f0f6bf 120.42deg,#fdfad8 120.56deg,#fdfbdc 120.70deg,#fefce7 120.84deg,#fefce3 120.99deg,#fdfbdd 121.13deg,#fdfada 121.27deg,#fefbdf 121.41deg,#fefbe1 121.55deg,#fdfbdb 121.69deg,#fcf9d1 121.83deg,#fdfbdc 121.97deg,#fefce3 122.11deg,#fdfad5 122.25deg,#fefbdf 122.40deg,#fdfad7 122.54deg,#fefce4 122.68deg,#f8f8ca 122.82deg,#fcf9d2 122.96deg,#fcf9d0 123.10deg,#fcf9d0 123.24deg,#fefbdf 123.38deg,#fffdec 123.52deg,#fdfad6 123.66deg,#fdfad5 123.81deg,#fdfbdb 123.95deg,#edf5bc 124.09deg,#fcf9d0 124.23deg,#fbf9cf 124.37deg,#fefbdf 124.51deg,#fbf9cf 124.65deg,#f2f6c2 124.79deg,#eff6be 124.93deg,#eff6bd 125.08deg,#eef6bd 125.22deg,#e2f2b9 125.36deg,#d6eeb7 125.50deg,#f4f7c5 125.64deg,#c9eab5 125.78deg,#caeab5 125.92deg,#a9e0b9 126.06deg,#aae0b8 126.20deg,#9fddbb 126.34deg,#c8e9b5 126.49deg,#e0f1b8 126.63deg,#b4e3b6 126.77deg,#a2deba 126.91deg,#f8f8ca 127.05deg,#e2f2b9 127.19deg,#a2deba 127.33deg,#cfecb6 127.47deg,#cbebb6 127.61deg,#90d8be 127.75deg,#e5f3b9 127.90deg,#f9f8cc 128.04deg,#dcf0b8 128.18deg,#cfecb6 128.32deg,#e7f3b9 128.46deg,#f0f6bf 128.60deg,#f1f6c0 128.74deg,#e1f1b8 128.88deg,#e2f2b9 129.02deg,#e7f3b9 129.16deg,#f6f8c8 129.31deg,#b1e2b7 129.45deg,#d5eeb7 129.59deg,#f2f7c3 129.73deg,#e3f2b9 129.87deg,#f6f8c8 130.01deg,#fbf9cf 130.15deg,#eaf4ba 130.29deg,#f2f6c2 130.43deg,#fff 130.43deg,#fff 131.96deg,#bae5b5 131.96deg,#3eb8cc 132.10deg,#74cfc3 132.24deg,#80d3c1 132.38deg,#70cec4 132.52deg,#50c0c9 132.66deg,#a0ddba 132.80deg,#ade1b8 132.94deg,#c9eab5 133.08deg,#67cac5 133.22deg,#e0f1b8 133.36deg,#79d1c2 133.50deg,#92d9bd 133.64deg,#7cd2c2 133.78deg,#a2deba 133.92deg,#b6e4b6 134.06deg,#72cfc4 134.20deg,#57c3c8 134.34deg,#7ad1c2 134.49deg,#97dabc 134.63deg,#dcf0b8 134.77deg,#ceebb6 134.91deg,#a6dfb9 135.05deg,#90d8be 135.19deg,#ade1b8 135.33deg,#9cdcbb 135.47deg,#d4edb7 135.61deg,#d2edb7 135.75deg,#f5f7c6 135.89deg,#bae5b5 136.03deg,#f0f6c0 136.17deg,#d9efb7 136.31deg,#d7eeb7 136.45deg,#e8f4b9 136.59deg,#edf5bb 136.73deg,#d2edb7 136.87deg,#fdfbdb 137.01deg,#fcf9d3 137.15deg,#f9f8cc 137.29deg,#f5f7c7 137.43deg,#fcfad4 137.57deg,#fcf9cf 137.71deg,#fdfbdc 137.85deg,#e6f3b9 137.99deg,#fcf9d1 138.13deg,#f4f7c4 138.27deg,#fdfbdb 138.41deg,#f6f7c7 138.55deg,#fcf9d1 138.69deg,#fdfbdc 138.83deg,#fdfad6 138.97deg,#faf8cd 139.11deg,#fcf9d3 139.25deg,#fdfbdb 139.39deg,#fefce3 139.53deg,#fdfad6 139.67deg,#f7f8c9 139.81deg,#fdfbdd 139.95deg,#f7f8c9 140.09deg,#f8f8ca 140.23deg,#fefbe1 140.37deg,#fefce3 140.51deg,#fefce3 140.65deg,#fcf9d2 140.79deg,#f2f6c2 140.93deg,#faf9cd 141.07deg,#f4f7c5 141.21deg,#f5f7c6 141.36deg,#f2f7c3 141.50deg,#ebf5ba 141.64deg,#fcf9d2 141.78deg,#fcf9d0 141.92deg,#e2f2b9 142.06deg,#c2e8b4 142.20deg,#c6e9b5 142.34deg,#d3edb7 142.48deg,#8cd7be 142.62deg,#99dbbc 142.76deg,#c9eab5 142.90deg,#99dbbc 143.04deg,#67cac5 143.18deg,#72cfc4 143.32deg,#49bdca 143.46deg,#6dcdc4 143.60deg,#5ac4c8 143.74deg,#46bccb 143.88deg,#3fb8cc 144.02deg,#68cac5 144.16deg,#40b9cc 144.30deg,#3eb7cc 144.44deg,#59c4c8 144.58deg,#3cb5cb 144.72deg,#8ad6bf 144.86deg,#55c2c8 145.00deg,#56c3c8 145.14deg,#49bdca 145.28deg,#48bcca 145.42deg,#57c3c8 145.56deg,#58c3c8 145.70deg,#74cfc3 145.84deg,#61c8c6 145.98deg,#4abdca 146.12deg,#56c2c8 146.26deg,#d5eeb7 146.40deg,#91d8bd 146.54deg,#e1f2b9 146.68deg,#6fcdc4 146.82deg,#b9e5b5 146.96deg,#b2e3b7 147.10deg,#9cdcbb 147.24deg,#a6dfb9 147.38deg,#bde6b5 147.52deg,#e6f3b9 147.66deg,#c1e7b4 147.80deg,#bce6b5 147.94deg,#9edcbb 148.08deg,#c0e7b4 148.23deg,#fff 148.23deg,#fff 149.75deg,#3fb8cc 149.75deg,#63c8c6 149.89deg,#61c7c6 150.03deg,#7ed2c1 150.17deg,#73cfc3 150.32deg,#64c9c6 150.46deg,#8fd8be 150.60deg,#3db7cc 150.74deg,#96dabc 150.88deg,#a2deba 151.02deg,#66cac6 151.16deg,#98dabc 151.30deg,#7ad1c2 151.44deg,#82d3c0 151.58deg,#c3e8b4 151.72deg,#90d8be 151.86deg,#dcf0b8 152.00deg,#d9efb7 152.14deg,#c3e8b4 152.28deg,#daefb8 152.42deg,#cbeab5 152.56deg,#eaf4ba 152.70deg,#d5eeb7 152.84deg,#e4f2b9 152.98deg,#e8f4b9 153.12deg,#f0f6c0 153.26deg,#dbefb8 153.41deg,#ceebb6 153.55deg,#eff6bf 153.69deg,#f4f7c5 153.83deg,#c3e8b4 153.97deg,#ecf5bb 154.11deg,#fcf9d1 154.25deg,#fdfbdc 154.39deg,#fcfad4 154.53deg,#edf5bb 154.67deg,#fdfad8 154.81deg,#edf5bb 154.95deg,#f7f8c9 155.09deg,#fdfad5 155.23deg,#fdfad7 155.37deg,#fffdec 155.51deg,#fdfad7 155.65deg,#fcf9d0 155.79deg,#f2f6c2 155.93deg,#f8f8ca 156.07deg,#f9f8cc 156.21deg,#fcf9d3 156.36deg,#fcf9d2 156.50deg,#fcfad4 156.64deg,#fcf9d1 156.78deg,#f3f7c3 156.92deg,#fcfad4 157.06deg,#fcf9d1 157.20deg,#fdfad8 157.34deg,#e8f4ba 157.48deg,#fbf9ce 157.62deg,#fdfad7 157.76deg,#fcf9d2 157.90deg,#faf8cd 158.04deg,#fcf9d0 158.18deg,#f8f8cb 158.32deg,#eef5bd 158.46deg,#fcfad4 158.60deg,#fdfad6 158.74deg,#fdfbdd 158.88deg,#fdfad8 159.02deg,#f3f7c4 159.16deg,#faf9ce 159.31deg,#edf5bc 159.45deg,#fdfada 159.59deg,#eff6bd 159.73deg,#f6f7c7 159.87deg,#f8f8ca 160.01deg,#fcf9d3 160.15deg,#faf8cd 160.29deg,#f0f6c0 160.43deg,#ccebb6 160.57deg,#f8f8cb 160.71deg,#f9f8cb 160.85deg,#fcfad4 160.99deg,#fcf9d2 161.13deg,#f1f6c0 161.27deg,#e8f4b9 161.41deg,#f3f7c4 161.55deg,#f9f8cc 161.69deg,#eff6bf 161.83deg,#eff6be 161.97deg,#e7f3b9 162.11deg,#eef5bd 162.26deg,#f8f8ca 162.40deg,#a3deba 162.54deg,#f1f6c1 162.68deg,#eff6be 162.82deg,#a1ddba 162.96deg,#e7f3b9 163.10deg,#bfe7b4 163.24deg,#85d4c0 163.38deg,#7ad1c2 163.52deg,#bbe6b5 163.66deg,#a9e0b9 163.80deg,#98dabc 163.94deg,#c6e9b5 164.08deg,#95dabd 164.22deg,#9fddbb 164.36deg,#7fd3c1 164.50deg,#cdebb6 164.64deg,#9cdcbb 164.78deg,#65c9c6 164.92deg,#69cbc5 165.06deg,#c1e7b4 165.21deg,#75d0c3 165.35deg,#e8f4b9 165.49deg,#f8f8cb 165.63deg,#91d8bd 165.77deg,#c9eab5 165.91deg,#9fddbb 166.05deg,#99dbbc 166.19deg,#c1e7b4 166.33deg,#c9eab5 166.47deg,#c6e9b5 166.61deg,#9ddcbb 166.75deg,#88d6bf 166.89deg,#fff 166.89deg,#fff 168.42deg,#7cd2c2 168.42deg,#93d9bd 168.56deg,#56c3c8 168.70deg,#b2e3b7 168.84deg,#ace1b8 168.98deg,#6cccc5 169.12deg,#86d5c0 169.26deg,#85d5c0 169.40deg,#8cd7be 169.54deg,#7ad1c2 169.68deg,#a2deba 169.82deg,#80d3c1 169.96deg,#7ad1c2 170.10deg,#a6dfb9 170.24deg,#99dbbc 170.38deg,#70cec4 170.52deg,#ceecb6 170.66deg,#7ed2c1 170.80deg,#7dd2c1 170.94deg,#bfe7b4 171.08deg,#e4f2b9 171.22deg,#7fd3c1 171.36deg,#d3edb7 171.50deg,#edf5bc 171.64deg,#b4e3b6 171.78deg,#ebf5ba 171.92deg,#d7eeb7 172.06deg,#b3e3b7 172.20deg,#fcf9d0 172.34deg,#ecf5ba 172.48deg,#eef6bd 172.62deg,#c9eab5 172.76deg,#f1f6c1 172.90deg,#fefbdf 173.04deg,#f8f8cb 173.18deg,#fdfad9 173.32deg,#e1f1b8 173.46deg,#f1f6c1 173.60deg,#f5f7c6 173.74deg,#fcfad4 173.88deg,#eff6be 174.02deg,#f1f6c1 174.16deg,#fcfad5 174.30deg,#fefbe1 174.44deg,#f2f7c3 174.58deg,#f1f6c1 174.72deg,#f7f8c9 174.86deg,#fdfad9 175.00deg,#f6f7c7 175.14deg,#fefce2 175.28deg,#faf9cd 175.42deg,#fdfbdc 175.56deg,#faf9cd 175.70deg,#f2f6c2 175.84deg,#fffdec 175.98deg,#fbf9cf 176.12deg,#eff6be 176.26deg,#fdfbdb 176.40deg,#fefce2 176.54deg,#fdfad9 176.68deg,#fcf9d0 176.82deg,#fcf9d2 176.96deg,#fdfbdd 177.10deg,#fdfbdc 177.24deg,#fefbdf 177.38deg,#fdfbdd 177.52deg,#fcf9d3 177.67deg,#fcf9d0 177.81deg,#fcf9d3 177.95deg,#fefbe1 178.09deg,#f2f7c2 178.23deg,#f7f8c9 178.37deg,#fbf9cf 178.51deg,#fefce2 178.65deg,#fcf9d1 178.79deg,#fbf9ce 178.93deg,#fcfad4 179.07deg,#fefce7 179.21deg,#fcf9d3 179.35deg,#fbf9cf 179.49deg,#fcf9d1 179.63deg,#fcf9d2 179.77deg,#fdfad8 179.91deg,#f4f7c5 180.05deg,#f6f8c8 180.19deg,#f9f8cc 180.33deg,#f5f7c6 180.47deg,#fdfada 180.61deg,#fdfad7 180.75deg,#eaf4ba 180.89deg,#eff6be 181.03deg,#f1f6c1 181.17deg,#e0f1b8 181.31deg,#cdebb6 181.45deg,#d0ecb6 181.59deg,#c8e9b5 181.73deg,#8dd7be 181.87deg,#8ed8be 182.01deg,#cbeab5 182.15deg,#b8e5b6 182.29deg,#7cd2c2 182.43deg,#b6e4b6 182.57deg,#59c4c8 182.71deg,#c7e9b5 182.85deg,#d1ecb6 182.99deg,#d4edb7 183.13deg,#9ddcbb 183.27deg,#93d9bd 183.41deg,#81d3c1 183.55deg,#96dabc 183.69deg,#8ed7be 183.83deg,#9fddbb 183.97deg,#abe0b8 184.11deg,#a4deba 184.25deg,#c7e9b5 184.39deg,#94d9bd 184.53deg,#a5deb9 184.67deg,#99dbbc 184.81deg,#85d4c0 184.95deg,#bbe6b5 185.09deg,#97dabc 185.23deg,#ade1b8 185.37deg,#89d6bf 185.51deg,#afe2b7 185.65deg,#93d9bd 185.79deg,#afe2b7 185.93deg,#fff 185.93deg,#fff 187.46deg,#65c9c6 187.46deg,#b8e5b6 187.60deg,#7ed2c1 187.74deg,#b1e2b7 187.88deg,#ceebb6 188.02deg,#aee1b8 188.16deg,#77d0c3 188.30deg,#a8dfb9 188.44deg,#eff6be 188.58deg,#daefb8 188.72deg,#eef5bd 188.86deg,#87d5bf 189.00deg,#8cd7be 189.14deg,#a0ddba 189.28deg,#cdebb6 189.42deg,#d5eeb7 189.56deg,#dbf0b8 189.70deg,#d3edb7 189.84deg,#c4e8b5 189.98deg,#d6eeb7 190.12deg,#d7eeb7 190.26deg,#fcf9d2 190.40deg,#fcf9d2 190.54deg,#dbf0b8 190.68deg,#fbf9cf 190.82deg,#edf5bb 190.96deg,#f6f7c7 191.10deg,#f1f6c1 191.24deg,#c3e8b4 191.38deg,#f1f6c1 191.52deg,#d1ecb6 191.66deg,#f0f6bf 191.80deg,#f4f7c5 191.94deg,#f2f6c2 192.08deg,#fdfad6 192.22deg,#f0f6c0 192.36deg,#f6f7c7 192.50deg,#f7f8c9 192.64deg,#f2f6c2 192.78deg,#fcf9d1 192.92deg,#fbf9cf 193.06deg,#f5f7c6 193.20deg,#f8f8cb 193.34deg,#f8f8cb 193.48deg,#edf5bb 193.62deg,#f1f6c1 193.76deg,#f3f7c4 193.90deg,#f6f7c8 194.04deg,#fdfbde 194.18deg,#edf5bb 194.32deg,#f0f6c0 194.46deg,#f6f8c8 194.60deg,#edf5bb 194.74deg,#e0f1b8 194.88deg,#f6f7c7 195.02deg,#ceecb6 195.17deg,#f7f8c9 195.31deg,#eef5bc 195.45deg,#c3e8b4 195.59deg,#cdebb6 195.73deg,#7ed2c1 195.87deg,#d6eeb7 196.01deg,#c8eab5 196.15deg,#aee1b8 196.29deg,#e3f2b9 196.43deg,#bae5b5 196.57deg,#58c4c8 196.71deg,#8ad6bf 196.85deg,#7fd3c1 196.99deg,#8ed7be 197.13deg,#69cbc5 197.27deg,#87d5bf 197.41deg,#68cbc5 197.55deg,#73cfc3 197.69deg,#6bccc5 197.83deg,#c5e9b5 197.97deg,#4bbeca 198.11deg,#afe2b7 198.25deg,#84d4c0 198.39deg,#4fbfc9 198.53deg,#98dbbc 198.67deg,#88d6bf 198.81deg,#6accc5 198.95deg,#c6e9b5 199.09deg,#c4e8b4 199.23deg,#fff 199.23deg,#fff 200.76deg,#7fd3c1 200.76deg,#8bd6bf 200.90deg,#88d5bf 201.04deg,#90d8be 201.18deg,#76d0c3 201.32deg,#68cbc5 201.46deg,#8bd7bf 201.60deg,#b3e3b7 201.74deg,#91d8bd 201.89deg,#37aeca 202.03deg,#8fd8be 202.17deg,#54c2c9 202.31deg,#c3e8b4 202.45deg,#88d5bf 202.59deg,#99dbbc 202.73deg,#66cac6 202.87deg,#a1ddba 203.02deg,#94d9bd 203.16deg,#5bc5c7 203.30deg,#a1ddba 203.44deg,#99dbbc 203.58deg,#8ad6bf 203.72deg,#b0e2b7 203.86deg,#92d9bd 204.00deg,#a5dfb9 204.15deg,#5ec6c7 204.29deg,#c7e9b5 204.43deg,#c0e7b4 204.57deg,#c6e9b5 204.71deg,#edf5bc 204.85deg,#d4edb7 204.99deg,#dff1b8 205.13deg,#a7dfb9 205.28deg,#e0f1b8 205.42deg,#c5e9b5 205.56deg,#a7dfb9 205.70deg,#f0f6c0 205.84deg,#fdfada 205.98deg,#fcf9d3 206.12deg,#f7f8c9 206.26deg,#f0f6c0 206.40deg,#f9f8cb 206.55deg,#e7f3b9 206.69deg,#fdfad8 206.83deg,#fcf9d0 206.97deg,#fdfbdb 207.11deg,#fcf9d3 207.25deg,#e9f4ba 207.39deg,#f5f7c6 207.53deg,#fdfad9 207.68deg,#fcf9d1 207.82deg,#f9f8cc 207.96deg,#f5f7c7 208.10deg,#fdfad5 208.24deg,#f8f8cb 208.38deg,#fdfad8 208.52deg,#fefbdf 208.66deg,#fdfbdc 208.81deg,#fdfbdd 208.95deg,#fcf9d1 209.09deg,#fcf9d2 209.23deg,#fdfad7 209.37deg,#fdfad8 209.51deg,#f8f8cb 209.65deg,#faf8cd 209.79deg,#f3f7c4 209.94deg,#f0f6bf 210.08deg,#f8f8ca 210.22deg,#f5f7c7 210.36deg,#f4f7c5 210.50deg,#f8f8cb 210.64deg,#ecf5ba 210.78deg,#e6f3b9 210.92deg,#eaf4ba 211.06deg,#eef5bd 211.21deg,#dff1b8 211.35deg,#caeab5 211.49deg,#b1e2b7 211.63deg,#edf5bc 211.77deg,#b1e2b7 211.91deg,#8fd8be 212.05deg,#c2e8b4 212.19deg,#94d9bd 212.34deg,#a5dfb9 212.48deg,#95d9bd 212.62deg,#72cfc4 212.76deg,#34aac9 212.90deg,#ade1b8 213.04deg,#58c3c8 213.18deg,#77d0c3 213.32deg,#7bd1c2 213.47deg,#9cdcbb 213.61deg,#68cac5 213.75deg,#4dbeca 213.89deg,#82d4c0 214.03deg,#77d0c3 214.17deg,#cdebb6 214.31deg,#85d5c0 214.45deg,#c6e9b5 214.59deg,#fff 214.59deg,#fff 216.12deg,#eef5bc 216.12deg,#a1ddba 216.26deg,#c9eab5 216.41deg,#cbeab5 216.55deg,#dff1b8 216.69deg,#cdebb6 216.83deg,#d2edb6 216.97deg,#f3f7c4 217.11deg,#d0ecb6 217.25deg,#cbeab5 217.39deg,#faf9ce 217.53deg,#f7f8c9 217.68deg,#d4edb7 217.82deg,#f2f6c2 217.96deg,#fdfad8 218.10deg,#f5f7c7 218.24deg,#fcfad5 218.38deg,#f1f6c1 218.52deg,#faf8cd 218.66deg,#f0f6bf 218.81deg,#f5f7c6 218.95deg,#fcf9d0 219.09deg,#f3f7c4 219.23deg,#fdfbdb 219.37deg,#f1f6c1 219.51deg,#fbf9cf 219.65deg,#fdfad6 219.79deg,#fdfada 219.94deg,#f8f8cb 220.08deg,#fdfbdc 220.22deg,#f6f7c7 220.36deg,#fdfada 220.50deg,#fcf9d3 220.64deg,#f1f6c1 220.78deg,#fcf9d0 220.92deg,#eaf4ba 221.07deg,#fefce5 221.21deg,#d9efb7 221.35deg,#fcf9d3 221.49deg,#93d9bd 221.63deg,#fcfad4 221.77deg,#f5f7c6 221.91deg,#dff1b8 222.05deg,#a2deba 222.19deg,#e5f3b9 222.34deg,#6ecdc4 222.48deg,#d4edb7 222.62deg,#c6e9b5 222.76deg,#a7dfb9 222.90deg,#86d5c0 223.04deg,#d0ecb6 223.18deg,#bae5b5 223.32deg,#7ed2c1 223.47deg,#8dd7be 223.61deg,#9adbbc 223.75deg,#65c9c6 223.89deg,#96dabc 224.03deg,#aee1b8 224.17deg,#79d1c2 224.31deg,#65c9c6 224.45deg,#80d3c1 224.60deg,#5ec6c7 224.74deg,#a7dfb9 224.88deg,#62c8c6 225.02deg,#69cbc5 225.16deg,#3eb8cc 225.30deg,#45bbcb 225.44deg,#9edcbb 225.58deg,#bbe5b5 225.72deg,#2391c4 225.87deg,#a8e0b9 226.01deg,#6accc5 226.15deg,#5bc5c7 226.29deg,#52c1c9 226.43deg,#63c8c6 226.57deg,#4dbfca 226.71deg,#65c9c6 226.85deg,#48bcca 227.00deg,#6acbc5 227.14deg,#8bd6bf 227.28deg,#82d4c0 227.42deg,#69cbc5 227.56deg,#93d9bd 227.70deg,#88d6bf 227.84deg,#4bbeca 227.98deg,#cdebb6 228.13deg,#76d0c3 228.27deg,#4fbfc9 228.41deg,#83d4c0 228.55deg,#66cac6 228.69deg,#6bccc5 228.83deg,#aae0b8 228.97deg,#77d0c3 229.11deg,#6fcec4 229.25deg,#71cec4 229.40deg,#b1e2b7 229.54deg,#93d9bd 229.68deg,#97dabc 229.82deg,#a8dfb9 229.96deg,#eef6bd 230.10deg,#c3e8b4 230.24deg,#b9e5b5 230.38deg,#bae5b5 230.53deg,#c9eab5 230.67deg,#f1f6c1 230.81deg,#aae0b8 230.95deg,#8ed7be 231.09deg,#b8e5b6 231.23deg,#ade1b8 231.37deg,#c4e8b5 231.51deg,#c1e7b4 231.66deg,#fff 231.66deg,#fff 233.18deg,#c1e7b4 233.18deg,#59c4c8 233.32deg,#b7e4b6 233.47deg,#8bd7bf 233.61deg,#86d5c0 233.75deg,#4ebfc9 233.89deg,#79d1c2 234.03deg,#95d9bd 234.17deg,#a7dfb9 234.31deg,#5ec6c7 234.45deg,#52c1c9 234.59deg,#5bc5c7 234.73deg,#62c8c6 234.88deg,#65c9c6 235.02deg,#9ddcbb 235.16deg,#b3e3b7 235.30deg,#94d9bd 235.44deg,#7fd3c1 235.58deg,#49bdca 235.72deg,#43bacb 235.86deg,#c0e7b4 236.00deg,#82d4c0 236.14deg,#4dbeca 236.29deg,#74cfc3 236.43deg,#62c8c6 236.57deg,#5bc5c7 236.71deg,#57c3c8 236.85deg,#63c8c6 236.99deg,#57c3c8 237.13deg,#59c4c8 237.27deg,#8ed7be 237.41deg,#b9e5b5 237.55deg,#c2e8b4 237.70deg,#9eddbb 237.84deg,#84d4c0 237.98deg,#f7f8c9 238.12deg,#c0e7b4 238.26deg,#c2e8b4 238.40deg,#eef6bd 238.54deg,#dff1b8 238.68deg,#e2f2b9 238.82deg,#b8e4b6 238.96deg,#e9f4ba 239.11deg,#b0e2b7 239.25deg,#c7e9b5 239.39deg,#f3f7c4 239.53deg,#f9f8cc 239.67deg,#eff6be 239.81deg,#ecf5ba 239.95deg,#fbf9ce 240.09deg,#edf5bc 240.23deg,#fcfad5 240.37deg,#fcf9d2 240.52deg,#e9f4ba 240.66deg,#fdfad8 240.80deg,#f9f8cc 240.94deg,#f4f7c5 241.08deg,#f5f7c6 241.22deg,#f0f6c0 241.36deg,#f6f8c8 241.50deg,#edf5bb 241.64deg,#f9f8cc 241.78deg,#fcfad4 241.93deg,#f6f8c8 242.07deg,#f9f8cc 242.21deg,#fcfad4 242.35deg,#fcfad4 242.49deg,#fcf9d1 242.63deg,#fefbe0 242.77deg,#ebf5ba 242.91deg,#fcf9d3 243.05deg,#fcf9d1 243.19deg,#faf9ce 243.34deg,#fefce4 243.48deg,#f6f8c8 243.62deg,#fdfad6 243.76deg,#fcf9d0 243.90deg,#f1f6c1 244.04deg,#fdfad6 244.18deg,#fdfad6 244.32deg,#f4f7c5 244.46deg,#f7f8ca 244.60deg,#fcf9d3 244.75deg,#f2f6c2 244.89deg,#eaf4ba 245.03deg,#fdfad6 245.17deg,#f6f7c7 245.31deg,#f8f8cb 245.45deg,#f2f6c2 245.59deg,#f5f7c7 245.73deg,#faf9cd 245.87deg,#eaf4ba 246.01deg,#f5f7c7 246.16deg,#eff6be 246.30deg,#f8f8cb 246.44deg,#eef5bc 246.58deg,#dbefb8 246.72deg,#d8eeb7 246.86deg,#fcf9d2 247.00deg,#97dabc 247.14deg,#f5f7c7 247.28deg,#a6dfb9 247.42deg,#ade1b8 247.57deg,#ecf5ba 247.71deg,#98dabc 247.85deg,#d3edb7 247.99deg,#9cdcbb 248.13deg,#a3deba 248.27deg,#f4f7c5 248.41deg,#abe0b8 248.55deg,#a9e0b9 248.69deg,#ceebb6 248.83deg,#62c8c6 248.98deg,#98dabc 249.12deg,#54c2c8 249.26deg,#40b9cc 249.40deg,#7ed2c1 249.54deg,#70cec4 249.68deg,#60c7c7 249.82deg,#fff 249.82deg,#fff 251.35deg,#8cd7be 251.35deg,#b1e2b7 251.49deg,#abe1b8 251.63deg,#c9eab5 251.77deg,#5cc5c7 251.91deg,#87d5bf 252.05deg,#92d8bd 252.20deg,#e5f3b9 252.34deg,#d4edb7 252.48deg,#9ddcbb 252.62deg,#93d9bd 252.76deg,#b6e4b6 252.90deg,#faf8cd 253.04deg,#cbeab5 253.18deg,#b3e3b7 253.32deg,#c2e8b4 253.46deg,#b5e4b6 253.60deg,#c4e8b5 253.75deg,#79d1c2 253.89deg,#f4f7c5 254.03deg,#c0e7b4 254.17deg,#c9eab5 254.31deg,#a7dfb9 254.45deg,#c1e7b4 254.59deg,#a1ddba 254.73deg,#d2edb6 254.87deg,#78d0c2 255.01deg,#a0ddba 255.16deg,#64c9c6 255.30deg,#a9e0b9 255.44deg,#7ad1c2 255.58deg,#9ddcbb 255.72deg,#dff1b8 255.86deg,#aee1b8 256.00deg,#84d4c0 256.14deg,#c0e7b4 256.28deg,#c3e8b4 256.42deg,#89d6bf 256.56deg,#61c7c6 256.71deg,#9cdcbb 256.85deg,#c7e9b5 256.99deg,#91d8bd 257.13deg,#bee6b4 257.27deg,#cbeab5 257.41deg,#caeab5 257.55deg,#d5eeb7 257.69deg,#ceebb6 257.83deg,#c3e8b4 257.97deg,#d7eeb7 258.12deg,#dff1b8 258.26deg,#e8f4b9 258.40deg,#cbebb6 258.54deg,#d8efb7 258.68deg,#ebf5ba 258.82deg,#f3f7c4 258.96deg,#ebf5ba 259.10deg,#f1f6c1 259.24deg,#f4f7c5 259.38deg,#f0f6c0 259.52deg,#fcfad4 259.67deg,#f3f7c3 259.81deg,#fdfad8 259.95deg,#f4f7c5 260.09deg,#f9f8cc 260.23deg,#f9f8cc 260.37deg,#ecf5ba 260.51deg,#e7f3b9 260.65deg,#fcf9d3 260.79deg,#eff6bf 260.93deg,#fcf9d1 261.08deg,#eff6be 261.22deg,#f2f6c2 261.36deg,#f2f7c3 261.50deg,#f4f7c5 261.64deg,#f3f7c3 261.78deg,#e1f2b9 261.92deg,#eef5bd 262.06deg,#ecf5bb 262.20deg,#fefbdf 262.34deg,#f6f8c8 262.48deg,#f1f6c0 262.63deg,#fbf9cf 262.77deg,#f8f8cb 262.91deg,#fefbe1 263.05deg,#f8f8cb 263.19deg,#eff6be 263.33deg,#e7f3b9 263.47deg,#f6f7c7 263.61deg,#fcfad4 263.75deg,#fbf9cf 263.89deg,#f0f6c0 264.04deg,#fcf9d2 264.18deg,#f8f8ca 264.32deg,#fcfad4 264.46deg,#fcf9d2 264.60deg,#faf8cd 264.74deg,#eef6bd 264.88deg,#c9eab5 265.02deg,#faf8cd 265.16deg,#f7f8c9 265.30deg,#f7f8c8 265.44deg,#fdfad6 265.59deg,#f4f7c5 265.73deg,#fdfada 265.87deg,#dff1b8 266.01deg,#fbf9ce 266.15deg,#fbf9ce 266.29deg,#d3edb7 266.43deg,#94d9bd 266.57deg,#e1f1b8 266.71deg,#ebf5ba 266.85deg,#bce6b5 267.00deg,#c3e8b4 267.14deg,#c8e9b5 267.28deg,#c2e8b4 267.42deg,#ceebb6 267.56deg,#d2edb6 267.70deg,#d9efb7 267.84deg,#c6e9b5 267.98deg,#c2e8b4 268.12deg,#6ecdc4 268.26deg,#b0e2b7 268.40deg,#a4deba 268.55deg,#5cc5c7 268.69deg,#64c9c6 268.83deg,#bde6b5 268.97deg,#fff 268.97deg,#fff 270.50deg,#6bccc5 270.50deg,#3cb6cb 270.64deg,#76d0c3 270.78deg,#6accc5 270.92deg,#5dc5c7 271.06deg,#6bccc5 271.20deg,#60c7c7 271.34deg,#76d0c3 271.48deg,#59c4c8 271.62deg,#b6e4b6 271.76deg,#4fbfc9 271.90deg,#a1ddba 272.04deg,#85d4c0 272.18deg,#d0ecb6 272.32deg,#c9eab5 272.46deg,#e1f2b9 272.60deg,#daefb8 272.74deg,#f0f6bf 272.88deg,#d6eeb7 273.02deg,#edf5bb 273.16deg,#f3f7c3 273.30deg,#e6f3b9 273.44deg,#f5f7c6 273.58deg,#f0f6bf 273.72deg,#fcfad5 273.86deg,#d3edb7 274.01deg,#fdfbdb 274.15deg,#f4f7c6 274.29deg,#fefbe0 274.43deg,#fcfad4 274.57deg,#fffce8 274.71deg,#f9f8cc 274.85deg,#fdfad8 274.99deg,#fefbe1 275.13deg,#fdfad8 275.27deg,#fcf9d3 275.41deg,#fcf9d3 275.55deg,#f4f7c5 275.69deg,#fefce4 275.83deg,#fdfad6 275.97deg,#f7f8c9 276.11deg,#fdfbdb 276.25deg,#f8f8cb 276.39deg,#f5f7c7 276.53deg,#fbf9cf 276.67deg,#fbf9cf 276.81deg,#f9f8cc 276.95deg,#f7f8c9 277.09deg,#f2f6c2 277.23deg,#fdfad5 277.37deg,#f7f8c9 277.51deg,#e3f2b9 277.65deg,#e9f4ba 277.79deg,#fbf9ce 277.93deg,#e4f3b9 278.07deg,#f3f7c4 278.22deg,#e1f1b8 278.36deg,#dcf0b8 278.50deg,#e0f1b8 278.64deg,#e3f2b9 278.78deg,#c6e9b5 278.92deg,#86d5c0 279.06deg,#c7e9b5 279.20deg,#b2e3b7 279.34deg,#9cdcbb 279.48deg,#c8e9b5 279.62deg,#b0e2b7 279.76deg,#b1e2b7 279.90deg,#b8e4b6 280.04deg,#81d3c1 280.18deg,#5cc5c7 280.32deg,#ccebb6 280.46deg,#45bbcb 280.60deg,#53c1c9 280.74deg,#69cbc5 280.88deg,#4bbeca 281.02deg,#1e8ac2 281.16deg,#65c9c6 281.30deg,#3ab2cb 281.44deg,#32a7c8 281.58deg,#39b1ca 281.72deg,#ace1b8 281.86deg,#3eb8cc 282.00deg,#b1e2b7 282.14deg,#65c9c6 282.29deg,#67cac6 282.43deg,#4fc0c9 282.57deg,#53c1c9 282.71deg,#48bcca 282.85deg,#5bc5c7 282.99deg,#3cb6cc 283.13deg,#5ac4c8 283.27deg,#59c4c8 283.41deg,#fff 283.41deg,#fff 284.94deg,#d0ecb6 284.94deg,#bde6b5 285.08deg,#68cbc5 285.22deg,#a0ddba 285.36deg,#6acbc5 285.50deg,#d8efb7 285.64deg,#ceecb6 285.78deg,#c2e8b4 285.92deg,#c7e9b5 286.06deg,#87d5bf 286.20deg,#71cec4 286.34deg,#73cfc3 286.48deg,#c4e8b5 286.62deg,#65c9c6 286.76deg,#d4edb7 286.90deg,#c6e9b5 287.04deg,#d4edb7 287.18deg,#b7e4b6 287.32deg,#c6e9b5 287.47deg,#8dd7be 287.61deg,#98dbbc 287.75deg,#4abdca 287.89deg,#d0ecb6 288.03deg,#bce6b5 288.17deg,#ddf0b8 288.31deg,#e5f3b9 288.45deg,#d7eeb7 288.59deg,#bfe7b4 288.73deg,#aae0b8 288.87deg,#f7f8c9 289.01deg,#f0f6c0 289.15deg,#d6eeb7 289.29deg,#e3f2b9 289.43deg,#fdfad6 289.57deg,#dff1b8 289.71deg,#e1f2b9 289.85deg,#f9f8cb 290.00deg,#eff6be 290.14deg,#ddf0b8 290.28deg,#fcf9d0 290.42deg,#e9f4ba 290.56deg,#eff6bf 290.70deg,#fdfad7 290.84deg,#fdfad5 290.98deg,#fbf9ce 291.12deg,#f9f8cc 291.26deg,#f9f8cc 291.40deg,#fdfad9 291.54deg,#f8f8ca 291.68deg,#fefbde 291.82deg,#f6f7c7 291.96deg,#fdfad5 292.10deg,#f0f6c0 292.24deg,#fdfad5 292.38deg,#f6f7c8 292.53deg,#eef6bd 292.67deg,#e6f3b9 292.81deg,#fcf9d2 292.95deg,#f3f7c4 293.09deg,#f6f8c8 293.23deg,#cdebb6 293.37deg,#fdfad6 293.51deg,#daefb8 293.65deg,#fbf9ce 293.79deg,#eef6bd 293.93deg,#e2f2b9 294.07deg,#d8efb7 294.21deg,#f3f7c4 294.35deg,#f7f8c9 294.49deg,#f1f6c1 294.63deg,#e2f2b9 294.77deg,#eef6bd 294.91deg,#d3edb7 295.05deg,#e4f3b9 295.20deg,#d5eeb7 295.34deg,#d8efb7 295.48deg,#e5f3b9 295.62deg,#bce6b5 295.76deg,#d7eeb7 295.90deg,#f4f7c4 296.04deg,#a5dfb9 296.18deg,#82d4c0 296.32deg,#bbe6b5 296.46deg,#d1ecb6 296.60deg,#57c3c8 296.74deg,#9edcbb 296.88deg,#a7dfb9 297.02deg,#d2edb6 297.16deg,#a9e0b9 297.30deg,#c9eab5 297.44deg,#7fd3c1 297.58deg,#cdebb6 297.73deg,#d4eeb7 297.87deg,#c2e8b4 298.01deg,#c2e7b4 298.15deg,#9bdcbb 298.29deg,#cfecb6 298.43deg,#f9f8cc 298.57deg,#edf5bb 298.71deg,#dcf0b8 298.85deg,#e8f4b9 298.99deg,#c5e9b5 299.13deg,#fff 299.13deg,#fff 300.66deg,#93d9bd 300.66deg,#c4e8b5 300.80deg,#75cfc3 300.94deg,#45bbcb 301.08deg,#83d4c0 301.22deg,#43bacb 301.36deg,#76d0c3 301.50deg,#6bccc5 301.64deg,#99dbbc 301.79deg,#7cd2c2 301.93deg,#7dd2c1 302.07deg,#4bbeca 302.21deg,#60c7c7 302.35deg,#b0e2b7 302.49deg,#8ed7be 302.63deg,#6dcdc4 302.77deg,#ace1b8 302.91deg,#9ddcbb 303.05deg,#bce6b5 303.19deg,#c0e7b4 303.34deg,#bfe7b4 303.48deg,#94d9bd 303.62deg,#b2e3b7 303.76deg,#b1e2b7 303.90deg,#e7f3b9 304.04deg,#a6dfb9 304.18deg,#94d9bd 304.32deg,#fdfad6 304.46deg,#d0ecb6 304.60deg,#f3f7c3 304.74deg,#ebf5ba 304.89deg,#fcf9d3 305.03deg,#edf5bb 305.17deg,#def0b8 305.31deg,#d9efb7 305.45deg,#ccebb6 305.59deg,#e0f1b8 305.73deg,#f6f8c8 305.87deg,#f1f6c1 306.01deg,#f8f8ca 306.15deg,#eff6be 306.29deg,#e6f3b9 306.43deg,#eff6bf 306.58deg,#f7f8ca 306.72deg,#c3e8b4 306.86deg,#f1f6c1 307.00deg,#f0f6bf 307.14deg,#f6f8c8 307.28deg,#f8f8ca 307.42deg,#e2f2b9 307.56deg,#f6f8c8 307.70deg,#eef6bd 307.84deg,#fcfad4 307.98deg,#fdfad8 308.13deg,#f3f7c3 308.27deg,#fcf9d3 308.41deg,#fcf9d2 308.55deg,#f2f7c3 308.69deg,#eef6bd 308.83deg,#f9f8cc 308.97deg,#fdfad9 309.11deg,#faf9ce 309.25deg,#ebf5ba 309.39deg,#edf5bb 309.53deg,#f6f8c8 309.68deg,#fcf9d1 309.82deg,#f3f7c3 309.96deg,#fbf9cf 310.10deg,#f2f7c2 310.24deg,#f6f7c7 310.38deg,#fbf9ce 310.52deg,#f5f7c7 310.66deg,#fcf9d0 310.80deg,#f5f7c7 310.94deg,#fcf9d1 311.08deg,#eef6bd 311.22deg,#f0f6c0 311.37deg,#f4f7c5 311.51deg,#f1f6c1 311.65deg,#ecf5ba 311.79deg,#fcf9d1 311.93deg,#fefbdf 312.07deg,#f2f6c2 312.21deg,#f6f7c8 312.35deg,#edf5bb 312.49deg,#d0ecb6 312.63deg,#afe2b7 312.77deg,#ceebb6 312.92deg,#edf5bb 313.06deg,#a9e0b9 313.20deg,#d2edb7 313.34deg,#d6eeb7 313.48deg,#abe0b8 313.62deg,#c4e8b5 313.76deg,#a9e0b9 313.90deg,#9edcbb 314.04deg,#daefb8 314.18deg,#2391c4 314.32deg,#75d0c3 314.47deg,#54c2c8 314.61deg,#74cfc3 314.75deg,#49bdca 314.89deg,#48bcca 315.03deg,#3bb4cb 315.17deg,#78d1c2 315.31deg,#72cfc4 315.45deg,#48bcca 315.59deg,#1e8ac2 315.73deg,#5bc5c7 315.87deg,#4abdca 316.01deg,#3eb8cc 316.16deg,#4abdca 316.30deg,#69cbc5 316.44deg,#49bdca 316.58deg,#3bb4cb 316.72deg,#5bc5c7 316.86deg,#97dabc 317.00deg,#5fc6c7 317.14deg,#4abdca 317.28deg,#3fb8cc 317.42deg,#53c1c9 317.56deg,#57c3c8 317.71deg,#3bb4cb 317.85deg,#4fbfc9 317.99deg,#2b9dc6 318.13deg,#38afca 318.27deg,#48bdca 318.41deg,#33a8c8 318.55deg,#56c3c8 318.69deg,#57c3c8 318.83deg,#5cc5c7 318.97deg,#78d1c2 319.11deg,#8ed7be 319.26deg,#8cd7be 319.40deg,#79d1c2 319.54deg,#6cccc5 319.68deg,#57c3c8 319.82deg,#a9e0b9 319.96deg,#6acbc5 320.10deg,#74cfc3 320.24deg,#9fddbb 320.38deg,#fff 320.38deg,#fff 321.91deg,#86d5c0 321.91deg,#d0ecb6 322.05deg,#9fddbb 322.19deg,#c4e8b5 322.33deg,#eff6bd 322.47deg,#b1e2b7 322.61deg,#93d9bd 322.75deg,#b7e4b6 322.89deg,#e3f2b9 323.04deg,#f8f8cb 323.18deg,#d0ecb6 323.32deg,#d3edb7 323.46deg,#d6eeb7 323.60deg,#def0b8 323.74deg,#a9e0b9 323.88deg,#d6eeb7 324.02deg,#fbf9ce 324.16deg,#e1f1b8 324.30deg,#c8e9b5 324.44deg,#f6f8c8 324.58deg,#e4f3b9 324.72deg,#f4f7c5 324.86deg,#eef6bd 325.00deg,#f2f7c3 325.14deg,#e7f4b9 325.29deg,#f5f7c6 325.43deg,#f8f8ca 325.57deg,#fcf9d0 325.71deg,#f1f6c1 325.85deg,#fdfad7 325.99deg,#fcf9d1 326.13deg,#f8f8ca 326.27deg,#fdfad7 326.41deg,#fdfad8 326.55deg,#fdfad8 326.69deg,#fdfad5 326.83deg,#fffdec 326.97deg,#fefbdf 327.11deg,#fcf9d1 327.25deg,#fdfad6 327.39deg,#fffdec 327.54deg,#fefbe1 327.68deg,#fdfbdd 327.82deg,#fdfbde 327.96deg,#fefce4 328.10deg,#fdfbdd 328.24deg,#fffdec 328.38deg,#fdfad6 328.52deg,#fffdec 328.66deg,#fefbdf 328.80deg,#fcfad4 328.94deg,#fefbe0 329.08deg,#fdfad7 329.22deg,#fdfad6 329.36deg,#fcf9d0 329.50deg,#fbf9cf 329.64deg,#fdfada 329.79deg,#fcf9d3 329.93deg,#fdfad5 330.07deg,#faf9ce 330.21deg,#fefce2 330.35deg,#f9f8cc 330.49deg,#fcf9d3 330.63deg,#fdfad9 330.77deg,#fdfbdb 330.91deg,#f0f6bf 331.05deg,#f0f6c0 331.19deg,#fcf9d0 331.33deg,#f2f6c2 331.47deg,#f5f7c6 331.61deg,#dff1b8 331.75deg,#f7f8c9 331.90deg,#f3f7c4 332.04deg,#d3edb7 332.18deg,#fbf9ce 332.32deg,#ebf5ba 332.46deg,#d4edb7 332.60deg,#d8efb7 332.74deg,#f8f8ca 332.88deg,#b1e2b7 333.02deg,#a5deb9 333.16deg,#8ad6bf 333.30deg,#c7e9b5 333.44deg,#abe1b8 333.58deg,#edf5bc 333.72deg,#c7e9b5 333.86deg,#7bd1c2 334.00deg,#ade1b8 334.15deg,#61c8c6 334.29deg,#5cc5c7 334.43deg,#c0e7b4 334.57deg,#c5e9b5 334.71deg,#6fcec4 334.85deg,#58c4c8 334.99deg,#6bccc5 335.13deg,#4abdca 335.27deg,#85d5c0 335.41deg,#7fd3c1 335.55deg,#7dd2c1 335.69deg,#ccebb6 335.83deg,#6ecdc4 335.97deg,#36adca 336.11deg,#b7e4b6 336.25deg,#c0e7b4 336.40deg,#96dabc 336.54deg,#8bd7bf 336.68deg,#99dbbc 336.82deg,#bbe6b5 336.96deg,#67cac5 337.10deg,#9fddbb 337.24deg,#5ac4c8 337.38deg,#89d6bf 337.52deg,#96dabc 337.66deg,#97dabc 337.80deg,#84d4c0 337.94deg,#8ad6bf 338.08deg,#cdebb6 338.22deg,#7dd2c1 338.36deg,#c3e8b4 338.50deg,#ccebb6 338.65deg,#a8dfb9 338.79deg,#afe2b7 338.93deg,#b7e4b6 339.07deg,#a7dfb9 339.21deg,#fff 339.21deg,#fff 340.74deg,#96dabc 340.74deg,#f0f6bf 340.88deg,#d3edb7 341.02deg,#e3f2b9 341.16deg,#f2f7c3 341.30deg,#63c8c6 341.44deg,#c2e8b4 341.58deg,#e4f2b9 341.72deg,#d6eeb7 341.86deg,#c2e8b4 342.00deg,#c1e7b4 342.14deg,#80d3c1 342.28deg,#cfecb6 342.42deg,#d8efb7 342.56deg,#d0ecb6 342.70deg,#fcf9d1 342.84deg,#d3edb7 342.98deg,#d8efb7 343.12deg,#e8f4ba 343.27deg,#f5f7c6 343.41deg,#fdfad8 343.55deg,#f2f6c2 343.69deg,#fcfad5 343.83deg,#fcf9d1 343.97deg,#fdfbdd 344.11deg,#fcf9d2 344.25deg,#fefbe0 344.39deg,#f6f7c8 344.53deg,#f2f7c3 344.67deg,#fdfad9 344.81deg,#fdfad5 344.95deg,#f5f7c7 345.09deg,#fbf9ce 345.23deg,#f0f6bf 345.37deg,#f4f7c5 345.51deg,#fdfbdb 345.65deg,#f5f7c6 345.79deg,#edf5bc 345.94deg,#fdfad8 346.08deg,#fcfad4 346.22deg,#fdfbdb 346.36deg,#fcfad4 346.50deg,#fffde9 346.64deg,#eff6be 346.78deg,#fefbdf 346.92deg,#eff6be 347.06deg,#f4f7c5 347.20deg,#fefce3 347.34deg,#f9f8cb 347.48deg,#fefbdf 347.62deg,#fefbdf 347.76deg,#f7f8c9 347.90deg,#fcfad4 348.04deg,#fdfad7 348.18deg,#fdfad8 348.32deg,#dff1b8 348.46deg,#eef6bd 348.60deg,#fbf9cf 348.75deg,#fefce4 348.89deg,#fcfad4 349.03deg,#fbf9cf 349.17deg,#fdfad6 349.31deg,#fdfad8 349.45deg,#f1f6c1 349.59deg,#fdfad7 349.73deg,#f4f7c4 349.87deg,#fdfad5 350.01deg,#f6f7c8 350.15deg,#f2f6c2 350.29deg,#fcfad4 350.43deg,#f1f6c1 350.57deg,#fcf9d3 350.71deg,#fdfada 350.85deg,#fffce8 350.99deg,#e5f3b9 351.13deg,#d8efb7 351.27deg,#cdebb6 351.41deg,#d2edb7 351.56deg,#eef6bd 351.70deg,#d5eeb7 351.84deg,#87d5bf 351.98deg,#cfecb6 352.12deg,#65c9c6 352.26deg,#60c7c7 352.40deg,#8cd7be 352.54deg,#a5dfb9 352.68deg,#50c0c9 352.82deg,#c4e8b5 352.96deg,#8ad6bf 353.10deg,#54c2c8 353.24deg,#50c0c9 353.38deg,#3db6cc 353.52deg,#59c4c8 353.66deg,#4fc0c9 353.80deg,#4cbeca 353.94deg,#7ed2c1 354.08deg,#57c3c8 354.23deg,#2594c4 354.37deg,#37aeca 354.51deg,#45bbcb 354.65deg,#b9e5b5 354.79deg,#65c9c6 354.93deg,#c2e8b4 355.07deg,#7ad1c2 355.21deg,#62c8c6 355.35deg,#69cbc5 355.49deg,#69cbc5 355.63deg,#57c3c8 355.77deg,#73cfc3 355.91deg,#bbe5b5 356.05deg,#68cbc5 356.19deg,#40b9cc 356.33deg,#72cfc4 356.47deg,#99dbbc 356.61deg,#51c0c9 356.75deg,#49bdca 356.89deg,#6dcdc4 357.04deg,#fff 357.04deg,#fff 360deg)"></div>
<div class="d" style="left:385.0px;top:193.0px;width:1226.0px;height:1226.0px;background:#fff"></div>
<div class="d" style="left:399.0px;top:207.0px;width:1198.0px;height:1198.0px;background:conic-gradient(#fff 0deg,#fff 5.03deg,#f2f2f2 5.03deg,#f2f2f2 24.29deg,#fff 24.29deg,#fff 25.82deg,#f2f2f2 25.82deg,#f2f2f2 42.33deg,#fff 42.33deg,#fff 43.86deg,#f2f2f2 43.86deg,#f2f2f2 59.55deg,#fff 59.55deg,#fff 61.08deg,#f2f2f2 61.08deg,#f2f2f2 78.86deg,#fff 78.86deg,#fff 80.39deg,#f2f2f2 80.39deg,#f2f2f2 94.71deg,#fff 94.71deg,#fff 96.24deg,#f2f2f2 96.24deg,#f2f2f2 113.68deg,#fff 113.68deg,#fff 115.20deg,#f2f2f2 115.20deg,#f2f2f2 130.43deg,#fff 130.43deg,#fff 131.96deg,#f2f2f2 131.96deg,#f2f2f2 148.23deg,#fff 148.23deg,#fff 149.75deg,#f2f2f2 149.75deg,#f2f2f2 166.89deg,#fff 166.89deg,#fff 168.42deg,#f2f2f2 168.42deg,#f2f2f2 185.93deg,#fff 185.93deg,#fff 187.46deg,#f2f2f2 187.46deg,#f2f2f2 199.23deg,#fff 199.23deg,#fff 200.76deg,#f2f2f2 200.76deg,#f2f2f2 214.59deg,#fff 214.59deg,#fff 216.12deg,#f2f2f2 216.12deg,#f2f2f2 231.66deg,#fff 231.66deg,#fff 233.18deg,#f2f2f2 233.18deg,#f2f2f2 249.82deg,#fff 249.82deg,#fff 251.35deg,#f2f2f2 251.35deg,#f2f2f2 268.97deg,#fff 268.97deg,#fff 270.50deg,#f2f2f2 270.50deg,#f2f2f2 283.41deg,#fff 283.41deg,#fff 284.94deg,#f2f2f2 284.94deg,#f2f2f2 299.13deg,#fff 299.13deg,#fff 300.66deg,#f2f2f2 300.66deg,#f2f2f2 320.38deg,#fff 320.38deg,#fff 321.91deg,#f2f2f2 321.91deg,#f2f2f2 339.21deg,#fff 339.21deg,#fff 340.74deg,#f2f2f2 340.74deg,#f2f2f2 357.04deg,#fff 357.04deg,#fff 360deg)"></div>
<div class="d" style="left:450.6px;top:258.6px;width:1094.8px;height:1094.8px;background:#fff"></div>
<div class="d" style="left:464.0px;top:272.0px;width:1068.0px;height:1068.0px;background:conic-gradient(#fff 0deg,#fff 5.03deg,#d7eeb7 5.03deg,#ecf5ba 5.13deg,#38b0ca 5.23deg,#fcf9d2 5.33deg,#93d9bd 5.43deg,#d5eeb7 5.53deg,#3cb5cb 5.63deg,#fffdeb 5.73deg,#eff6be 5.83deg,#dff1b8 5.93deg,#eaf4ba 6.03deg,#7bd1c2 6.13deg,#dbf0b8 6.23deg,#64c9c6 6.33deg,#e5f3b9 6.43deg,#fcf9d0 6.53deg,#eaf4ba 6.63deg,#ddf0b8 6.74deg,#cbebb6 6.84deg,#d7eeb7 6.94deg,#e3f2b9 7.04deg,#80d3c1 7.14deg,#cfecb6 7.24deg,#f0f6bf 7.34deg,#f6f7c7 7.44deg,#f5f7c6 7.54deg,#f2f6c2 7.64deg,#f8f8ca 7.74deg,#f5f7c6 7.84deg,#def1b8 7.94deg,#eff6bf 8.04deg,#f4f7c6 8.14deg,#f5f7c7 8.24deg,#fdfada 8.34deg,#f8f8cb 8.44deg,#f9f8cc 8.54deg,#e4f2b9 8.64deg,#f6f8c8 8.74deg,#fcf9d2 8.84deg,#fcf9d3 8.94deg,#f1f6c1 9.04deg,#fffdec 9.14deg,#cfecb6 9.24deg,#fdfad8 9.34deg,#e7f3b9 9.44deg,#fefce5 9.54deg,#d9efb7 9.64deg,#fffde9 9.74deg,#fbf9cf 9.84deg,#faf9ce 9.95deg,#fcf9d1 10.05deg,#f9f8cc 10.15deg,#b1e2b7 10.25deg,#f3f7c3 10.35deg,#fffdec 10.45deg,#f7f8ca 10.55deg,#faf9ce 10.65deg,#fffdec 10.75deg,#f8f8ca 10.85deg,#fdfad5 10.95deg,#f2f7c3 11.05deg,#f7f8c9 11.15deg,#f5f7c7 11.25deg,#faf8cd 11.35deg,#fefce2 11.45deg,#f9f8cb 11.55deg,#f9f8cc 11.65deg,#e3f2b9 11.75deg,#ecf5ba 11.85deg,#f3f7c4 11.95deg,#f1f6c1 12.05deg,#fcf9d1 12.15deg,#fdfad9 12.25deg,#f3f7c3 12.35deg,#fffdec 12.45deg,#faf8cd 12.55deg,#fdfad7 12.65deg,#fcf9cf 12.75deg,#f3f7c4 12.85deg,#f8f8ca 12.95deg,#f5f7c7 13.05deg,#faf8cd 13.16deg,#faf8cd 13.26deg,#ecf5bb 13.36deg,#f4f7c6 13.46deg,#eef6bd 13.56deg,#fdfada 13.66deg,#89d6bf 13.76deg,#faf9cd 13.86deg,#f0f6c0 13.96deg,#f2f6c2 14.06deg,#f5f7c7 14.16deg,#f9f8cc 14.26deg,#fcf9d3 14.36deg,#f9f8cd 14.46deg,#fcf9d3 14.56deg,#f6f7c7 14.66deg,#eff6bf 14.76deg,#eff6be 14.86deg,#ddf0b8 14.96deg,#fcfad4 15.06deg,#85d5c0 15.16deg,#f0f6c0 15.26deg,#fefce7 15.36deg,#f3f7c4 15.46deg,#ecf5bb 15.56deg,#d3edb7 15.66deg,#f2f6c2 15.76deg,#fffdec 15.86deg,#fffdec 15.96deg,#38b0ca 16.06deg,#f2f7c2 16.16deg,#55c2c8 16.26deg,#f7f8c9 16.37deg,#fdfad9 16.47deg,#eff6be 16.57deg,#f2f6c2 16.67deg,#f1f6c1 16.77deg,#f2f6c2 16.87deg,#f3f7c3 16.97deg,#eef6bd 17.07deg,#edf5bb 17.17deg,#e6f3b9 17.27deg,#aae0b8 17.37deg,#d3edb7 17.47deg,#c3e8b4 17.57deg,#f0f6bf 17.67deg,#f8f8ca 17.77deg,#d7eeb7 17.87deg,#e0f1b8 17.97deg,#eff6be 18.07deg,#f0f6bf 18.17deg,#fffdec 18.27deg,#fbf9ce 18.37deg,#e0f1b8 18.47deg,#d4edb7 18.57deg,#f3f7c3 18.67deg,#f3f7c3 18.77deg,#eef6bd 18.87deg,#eaf4ba 18.97deg,#f1f6c1 19.07deg,#c7e9b5 19.17deg,#f2f7c2 19.27deg,#b7e4b6 19.37deg,#45bbcb 19.47deg,#fffdec 19.58deg,#46bccb 19.68deg,#c9eab5 19.78deg,#d4edb7 19.88deg,#57c3c8 19.98deg,#edf5bc 20.08deg,#c9eab5 20.18deg,#fdfbdc 20.28deg,#d4edb7 20.38deg,#f1f6c1 20.48deg,#eff6be 20.58deg,#e3f2b9 20.68deg,#39b0ca 20.78deg,#dcf0b8 20.88deg,#37aeca 20.98deg,#f1f6c1 21.08deg,#fcf9d0 21.18deg,#e0f1b8 21.28deg,#d6eeb7 21.38deg,#d9efb7 21.48deg,#edf5bc 21.58deg,#eef6bd 21.68deg,#f8f8cb 21.78deg,#e0f1b8 21.88deg,#f0f6c0 21.98deg,#e5f3b9 22.08deg,#ccebb6 22.18deg,#f1f6c1 22.28deg,#e9f4ba 22.38deg,#fffdec 22.48deg,#fdfad9 22.58deg,#eff6be 22.68deg,#ebf5ba 22.78deg,#bfe7b4 22.89deg,#e4f2b9 22.99deg,#d4edb7 23.09deg,#fcf9d1 23.19deg,#f2f7c3 23.29deg,#f6f8c8 23.39deg,#fdfad5 23.49deg,#e6f3b9 23.59deg,#d8efb7 23.69deg,#e4f2b9 23.79deg,#f1f6c1 23.89deg,#ecf5bb 23.99deg,#ebf5ba 24.09deg,#e4f2b9 24.19deg,#ecf5bb 24.29deg,#fff 24.29deg,#fff 25.82deg,#c1e7b4 25.82deg,#e5f3b9 25.92deg,#cbebb6 26.02deg,#d1ecb6 26.12deg,#f3f7c3 26.22deg,#fffdec 26.32deg,#ecf5ba 26.42deg,#ecf5ba 26.52deg,#fffdec 26.62deg,#e7f3b9 26.72deg,#d6eeb7 26.82deg,#d4edb7 26.92deg,#e8f4b9 27.02deg,#eaf4ba 27.12deg,#55c2c8 27.22deg,#ecf5ba 27.32deg,#d2edb7 27.42deg,#daefb7 27.52deg,#f2f6c2 27.62deg,#edf5bb 27.72deg,#d2edb6 27.82deg,#ddf0b8 27.92deg,#eff6be 28.02deg,#c3e8b4 28.12deg,#ddf0b8 28.22deg,#f7f8ca 28.32deg,#e7f4b9 28.42deg,#2d9fc7 28.52deg,#e0f1b8 28.62deg,#ddf0b8 28.72deg,#fffce8 28.82deg,#b7e4b6 28.92deg,#ecf5ba 29.02deg,#f0f6bf 29.12deg,#eef6bd 29.22deg,#ddf0b8 29.32deg,#eef6bd 29.42deg,#e5f3b9 29.52deg,#e8f4b9 29.62deg,#e3f2b9 29.72deg,#ecf5ba 29.82deg,#eff6be 29.92deg,#d7eeb7 30.02deg,#edf5bb 30.12deg,#e7f3b9 30.22deg,#fcfad4 30.32deg,#fcf9d2 30.42deg,#fffdec 30.52deg,#d3edb7 30.62deg,#fffdec 30.72deg,#f3f7c4 30.82deg,#fbf9ce 30.92deg,#f3f7c3 31.02deg,#fffdec 31.12deg,#faf9ce 31.22deg,#fefbe0 31.32deg,#f0f6bf 31.42deg,#e0f1b8 31.52deg,#e7f3b9 31.62deg,#e0f1b8 31.72deg,#faf8cd 31.82deg,#eef5bc 31.92deg,#f0f6bf 32.02deg,#edf5bb 32.12deg,#f7f8c9 32.22deg,#fffdec 32.32deg,#d6eeb7 32.42deg,#e8f4b9 32.52deg,#e0f1b8 32.62deg,#def1b8 32.72deg,#f8f8cb 32.82deg,#f9f8cb 32.92deg,#3eb8cc 33.02deg,#57c3c8 33.12deg,#fffdec 33.22deg,#f7f8c8 33.32deg,#f2f7c3 33.42deg,#edf5bc 33.52deg,#faf8cd 33.62deg,#f7f8ca 33.72deg,#fefce4 33.82deg,#ebf5ba 33.92deg,#ceebb6 34.02deg,#eff6be 34.12deg,#f7f8c9 34.22deg,#f0f6bf 34.32deg,#f3f7c3 34.42deg,#f9f8cc 34.52deg,#f3f7c4 34.62deg,#f4f7c5 34.72deg,#fffdec 34.82deg,#d6eeb7 34.93deg,#f2f7c3 35.03deg,#f7f8ca 35.13deg,#f9f8cc 35.23deg,#f0f6c0 35.33deg,#5dc6c7 35.43deg,#f6f7c7 35.53deg,#f0f6bf 35.63deg,#f2f7c2 35.73deg,#faf9ce 35.83deg,#fefbe1 35.93deg,#eff6be 36.03deg,#eff6bf 36.13deg,#fffdec 36.23deg,#b5e3b6 36.33deg,#edf5bb 36.43deg,#f6f8c8 36.53deg,#eff6be 36.63deg,#ecf5ba 36.73deg,#f8f8cb 36.83deg,#e7f4b9 36.93deg,#fbf9ce 37.03deg,#f2f6c2 37.13deg,#def0b8 37.23deg,#fffdec 37.33deg,#f4f7c5 37.43deg,#fefce3 37.53deg,#f3f7c3 37.63deg,#f2f7c3 37.73deg,#f5f7c6 37.83deg,#faf9ce 37.93deg,#ebf5ba 38.03deg,#e6f3b9 38.13deg,#f7f8c9 38.23deg,#f2f6c2 38.33deg,#f1f6c1 38.43deg,#e0f1b8 38.53deg,#fffdec 38.63deg,#c0e7b4 38.73deg,#44bbcb 38.83deg,#faf9cd 38.93deg,#fcfad5 39.03deg,#fffdec 39.13deg,#f5f7c7 39.23deg,#f3f7c3 39.33deg,#f9f8cc 39.43deg,#e9f4ba 39.53deg,#e7f4b9 39.63deg,#ebf5ba 39.73deg,#90d8be 39.83deg,#eff6be 39.93deg,#ebf5ba 40.03deg,#e1f1b8 40.13deg,#fdfbde 40.23deg,#f5f7c6 40.33deg,#f8f8cb 40.43deg,#f1f6c1 40.53deg,#e6f3b9 40.63deg,#eaf4ba 40.73deg,#f6f8c8 40.83deg,#f0f6bf 40.93deg,#e9f4ba 41.03deg,#f8f8ca 41.13deg,#fcf9d0 41.23deg,#eaf4ba 41.33deg,#fffdec 41.43deg,#fcf9d0 41.53deg,#eef6bd 41.63deg,#f5f7c6 41.73deg,#f3f7c3 41.83deg,#f8f8cb 41.93deg,#fffde9 42.03deg,#fffdec 42.13deg,#9cdcbb 42.23deg,#faf9cd 42.33deg,#fff 42.33deg,#fff 43.86deg,#d6eeb7 43.86deg,#d4edb7 43.96deg,#ceebb6 44.06deg,#f3f7c3 44.16deg,#a1ddba 44.26deg,#caeab5 44.36deg,#3db7cc 44.46deg,#c6e9b5 44.56deg,#d7eeb7 44.66deg,#d2edb6 44.76deg,#f0f6bf 44.86deg,#d4edb7 44.97deg,#d5eeb7 45.07deg,#e9f4ba 45.17deg,#fdfbdc 45.27deg,#f3f7c3 45.37deg,#f0f6bf 45.47deg,#d9efb7 45.57deg,#d9efb7 45.67deg,#a7dfb9 45.77deg,#dff1b8 45.87deg,#e4f2b9 45.97deg,#d8efb7 46.07deg,#f5f7c7 46.17deg,#c8eab5 46.27deg,#f4f7c6 46.37deg,#dff1b8 46.47deg,#e4f3b9 46.58deg,#dcf0b8 46.68deg,#ebf5ba 46.78deg,#d9efb7 46.88deg,#eef6bd 46.98deg,#ecf5ba 47.08deg,#eef6bd 47.18deg,#ebf5ba 47.28deg,#fffdea 47.38deg,#f3f7c4 47.48deg,#f4f7c4 47.58deg,#58c3c8 47.68deg,#f8f8ca 47.78deg,#f6f7c7 47.88deg,#eff6be 47.98deg,#f4f7c5 48.08deg,#fffdec 48.18deg,#edf5bc 48.29deg,#eef6bd 48.39deg,#eef6bd 48.49deg,#fdfbdb 48.59deg,#f5f7c6 48.69deg,#f9f8cc 48.79deg,#71cec4 48.89deg,#ecf5ba 48.99deg,#f6f8c8 49.09deg,#f6f8c8 49.19deg,#f1f6c1 49.29deg,#f0f6c0 49.39deg,#ddf0b8 49.49deg,#fdfad7 49.59deg,#f0f6bf 49.69deg,#eff6bf 49.79deg,#f1f6c0 49.89deg,#f5f7c7 50.00deg,#faf9cd 50.10deg,#45bbcb 50.20deg,#f2f7c2 50.30deg,#f7f8c9 50.40deg,#fcfad4 50.50deg,#e6f3b9 50.60deg,#f4f7c4 50.70deg,#eff6be 50.80deg,#ebf5ba 50.90deg,#f7f8c9 51.00deg,#fffdec 51.10deg,#fefce5 51.20deg,#e9f4ba 51.30deg,#f2f6c2 51.40deg,#e8f4b9 51.50deg,#eef5bd 51.60deg,#eaf5ba 51.71deg,#eef6bd 51.81deg,#f5f7c6 51.91deg,#f6f8c8 52.01deg,#f2f6c2 52.11deg,#e3f2b9 52.21deg,#eff6be 52.31deg,#f3f7c3 52.41deg,#54c2c8 52.51deg,#fefbdf 52.61deg,#a9e0b9 52.71deg,#bbe5b5 52.81deg,#c4e8b5 52.91deg,#e9f4ba 53.01deg,#fcf9d0 53.11deg,#eef6bd 53.21deg,#f0f6c0 53.32deg,#f4f7c5 53.42deg,#d0ecb6 53.52deg,#fefbe0 53.62deg,#fcf9d2 53.72deg,#ddf0b8 53.82deg,#9cdcbb 53.92deg,#def0b8 54.02deg,#dcf0b8 54.12deg,#d8efb7 54.22deg,#e8f4b9 54.32deg,#e7f3b9 54.42deg,#35aac9 54.52deg,#f1f6c1 54.62deg,#f0f6c0 54.72deg,#cfecb6 54.82deg,#d8efb7 54.92deg,#e1f2b9 55.03deg,#daefb7 55.13deg,#ccebb6 55.23deg,#e3f2b9 55.33deg,#c0e7b4 55.43deg,#fdfad8 55.53deg,#51c0c9 55.63deg,#e9f4ba 55.73deg,#57c3c8 55.83deg,#e7f4b9 55.93deg,#cdebb6 56.03deg,#e1f1b8 56.13deg,#aee1b8 56.23deg,#f2f7c2 56.33deg,#d6eeb7 56.43deg,#ebf5ba 56.53deg,#dcf0b8 56.63deg,#36acc9 56.74deg,#90d8be 56.84deg,#ceecb6 56.94deg,#e5f3b9 57.04deg,#36adca 57.14deg,#fcf9d0 57.24deg,#fffdea 57.34deg,#a3deba 57.44deg,#fefbe0 57.54deg,#edf5bb 57.64deg,#f3f7c3 57.74deg,#ebf5ba 57.84deg,#edf5bb 57.94deg,#f6f7c7 58.04deg,#eaf4ba 58.14deg,#fffdec 58.24deg,#e5f3b9 58.34deg,#d4edb7 58.45deg,#e0f1b8 58.55deg,#ecf5ba 58.65deg,#daefb8 58.75deg,#e8f4b9 58.85deg,#abe0b8 58.95deg,#e9f4ba 59.05deg,#f1f6c1 59.15deg,#f1f6c1 59.25deg,#4abdca 59.35deg,#f5f7c7 59.45deg,#eef6bd 59.55deg,#fff 59.55deg,#fff 61.08deg,#98dbbc 61.08deg,#daefb8 61.18deg,#d1ecb6 61.28deg,#eaf4ba 61.38deg,#cbeab5 61.48deg,#d9efb7 61.58deg,#fdfbde 61.68deg,#daefb8 61.78deg,#caeab5 61.88deg,#b0e2b7 61.98deg,#eef5bd 62.08deg,#c9eab5 62.18deg,#d8efb7 62.29deg,#c5e9b5 62.39deg,#c3e8b4 62.49deg,#d6eeb7 62.59deg,#d4edb7 62.69deg,#fffdec 62.79deg,#ecf5ba 62.89deg,#edf5bc 62.99deg,#d6eeb7 63.09deg,#c5e9b5 63.19deg,#eff6be 63.29deg,#b0e2b7 63.39deg,#b2e3b7 63.49deg,#d6eeb7 63.59deg,#e3f2b9 63.69deg,#eef6bd 63.79deg,#fdfbdd 63.89deg,#e1f2b9 63.99deg,#fefbe0 64.09deg,#f5f7c6 64.19deg,#fcf9d2 64.29deg,#f9f8cc 64.39deg,#dff1b8 64.50deg,#fffdec 64.60deg,#fefce3 64.70deg,#eaf4ba 64.80deg,#dcf0b8 64.90deg,#f1f6c1 65.00deg,#ebf5ba 65.10deg,#f6f7c8 65.20deg,#eef6bd 65.30deg,#fefce5 65.40deg,#e9f4ba 65.50deg,#fffce8 65.60deg,#f2f7c3 65.70deg,#f3f7c4 65.80deg,#f5f7c6 65.90deg,#ddf0b8 66.00deg,#e0f1b8 66.10deg,#f4f7c5 66.20deg,#ecf5ba 66.30deg,#d9efb7 66.40deg,#b2e3b7 66.50deg,#f4f7c5 66.60deg,#f0f6c0 66.71deg,#f1f6c0 66.81deg,#fdfbdc 66.91deg,#f6f8c8 67.01deg,#f2f6c2 67.11deg,#edf5bc 67.21deg,#fcf9d2 67.31deg,#fefce4 67.41deg,#f0f6c0 67.51deg,#64c9c6 67.61deg,#faf9ce 67.71deg,#fefbde 67.81deg,#57c3c8 67.91deg,#ade1b8 68.01deg,#edf5bb 68.11deg,#fbf9ce 68.21deg,#f7f8ca 68.31deg,#f1f6c1 68.41deg,#f8f8cb 68.51deg,#f1f6c1 68.61deg,#ecf5bb 68.71deg,#f5f7c7 68.81deg,#eef6bd 68.92deg,#e7f4b9 69.02deg,#ecf5ba 69.12deg,#f9f8cc 69.22deg,#f9f8cc 69.32deg,#d7eeb7 69.42deg,#fffce8 69.52deg,#edf5bb 69.62deg,#f1f6c2 69.72deg,#f0f6bf 69.82deg,#8cd7be 69.92deg,#7ed2c1 70.02deg,#fcf9d0 70.12deg,#f5f7c6 70.22deg,#f1f6c1 70.32deg,#fffdec 70.42deg,#fcf9d3 70.52deg,#f1f6c1 70.62deg,#eff6bf 70.72deg,#f1f6c1 70.82deg,#e8f4b9 70.92deg,#def1b8 71.02deg,#eef5bc 71.12deg,#fffdec 71.23deg,#f8f8ca 71.33deg,#fcf9d3 71.43deg,#f7f8c9 71.53deg,#fffdec 71.63deg,#f6f7c7 71.73deg,#f7f8ca 71.83deg,#fcf9d3 71.93deg,#f7f8c9 72.03deg,#f3f7c4 72.13deg,#f3f7c3 72.23deg,#d0ecb6 72.33deg,#f1f6c1 72.43deg,#f2f6c2 72.53deg,#f1f6c2 72.63deg,#f2f7c3 72.73deg,#fffdea 72.83deg,#f9f8cc 72.93deg,#e5f3b9 73.03deg,#d6eeb7 73.13deg,#f5f7c6 73.23deg,#edf5bb 73.33deg,#ebf5ba 73.44deg,#fdfbdd 73.54deg,#caeab5 73.64deg,#eff6be 73.74deg,#daefb7 73.84deg,#f0f6bf 73.94deg,#edf5bb 74.04deg,#faf8cd 74.14deg,#edf5bc 74.24deg,#f5f7c6 74.34deg,#f0f6c0 74.44deg,#fcf9d0 74.54deg,#fffdec 74.64deg,#f3f7c3 74.74deg,#ddf0b8 74.84deg,#eef6bd 74.94deg,#ebf5ba 75.04deg,#daefb8 75.14deg,#fffdec 75.24deg,#e1f2b9 75.34deg,#c1e7b4 75.44deg,#e9f4ba 75.54deg,#6acbc5 75.65deg,#a9e0b9 75.75deg,#f4f7c5 75.85deg,#dcf0b8 75.95deg,#e6f3b9 76.05deg,#dff1b8 76.15deg,#ecf5ba 76.25deg,#f8f8cb 76.35deg,#f2f6c2 76.45deg,#def1b8 76.55deg,#e7f3b9 76.65deg,#e5f3b9 76.75deg,#fdfbde 76.85deg,#eff6bf 76.95deg,#eef6bd 77.05deg,#ddf0b8 77.15deg,#ceebb6 77.25deg,#d4edb7 77.35deg,#daefb8 77.45deg,#f1f6c1 77.55deg,#ceecb6 77.65deg,#c8eab5 77.75deg,#e7f3b9 77.86deg,#f0f6bf 77.96deg,#cbeab5 78.06deg,#e2f2b9 78.16deg,#ecf5ba 78.26deg,#e2f2b9 78.36deg,#eaf4ba 78.46deg,#f3f7c4 78.56deg,#cbeab5 78.66deg,#d4edb7 78.76deg,#e1f2b9 78.86deg,#fff 78.86deg,#fff 80.39deg,#fcf9d0 80.39deg,#c9eab5 80.49deg,#31a5c8 80.59deg,#d2edb6 80.69deg,#eff6be 80.79deg,#63c8c6 80.89deg,#ecf5ba 80.99deg,#daefb8 81.09deg,#c2e8b4 81.19deg,#ceebb6 81.29deg,#e1f2b9 81.39deg,#52c1c9 81.49deg,#d9efb7 81.59deg,#f0f6bf 81.69deg,#d1ecb6 81.79deg,#aae0b8 81.89deg,#edf5bb 81.99deg,#eef6bd 82.09deg,#c5e9b5 82.19deg,#f0f6c0 82.29deg,#e5f3b9 82.39deg,#46bbcb 82.49deg,#eaf4ba 82.59deg,#f7f8c9 82.69deg,#f7f8c9 82.79deg,#f0f6c0 82.89deg,#fefce5 82.99deg,#fdfad9 83.09deg,#edf5bc 83.19deg,#c2e8b4 83.29deg,#e3f2b9 83.39deg,#f5f7c6 83.49deg,#fffdec 83.59deg,#ecf5bb 83.69deg,#2493c4 83.79deg,#c8e9b5 83.89deg,#8dd7be 83.99deg,#f2f7c2 84.09deg,#2b9dc6 84.19deg,#e2f2b9 84.29deg,#fdfad9 84.39deg,#dcf0b8 84.49deg,#f1f6c0 84.59deg,#dff1b8 84.69deg,#dbefb8 84.79deg,#ddf0b8 84.89deg,#eef5bc 84.99deg,#eaf5ba 85.09deg,#f6f7c7 85.19deg,#e1f1b8 85.29deg,#e7f3b9 85.39deg,#b9e5b5 85.49deg,#fdfbdb 85.59deg,#eaf4ba 85.69deg,#ceecb6 85.80deg,#eff6bf 85.90deg,#f2f7c2 86.00deg,#edf5bb 86.10deg,#fcf9d0 86.20deg,#fefce6 86.30deg,#f4f7c5 86.40deg,#f2f7c3 86.50deg,#ddf0b8 86.60deg,#faf8cd 86.70deg,#f1f6c1 86.80deg,#e1f2b9 86.90deg,#3fb9cc 87.00deg,#f0f6bf 87.10deg,#75cfc3 87.20deg,#fcf9d0 87.30deg,#eef5bc 87.40deg,#e1f1b8 87.50deg,#e8f4ba 87.60deg,#f2f7c3 87.70deg,#ebf5ba 87.80deg,#d3edb7 87.90deg,#eff6bf 88.00deg,#f1f6c1 88.10deg,#fcf9d1 88.20deg,#f1f6c1 88.30deg,#f7f8c9 88.40deg,#d9efb7 88.50deg,#f1f6c1 88.60deg,#f7f8ca 88.70deg,#ebf5ba 88.80deg,#f6f7c8 88.90deg,#eaf4ba 89.00deg,#f7f8c9 89.10deg,#a6dfb9 89.20deg,#eff6bd 89.30deg,#e4f2b9 89.40deg,#e8f4b9 89.50deg,#edf5bb 89.60deg,#e6f3b9 89.70deg,#e6f3b9 89.80deg,#8fd8be 89.90deg,#f7f8c9 90.00deg,#f8f8ca 90.10deg,#dbf0b8 90.20deg,#ceecb6 90.30deg,#e5f3b9 90.40deg,#fefbde 90.50deg,#ddf0b8 90.60deg,#ceecb6 90.70deg,#eff6be 90.80deg,#fffdec 90.90deg,#d0ecb6 91.00deg,#d8efb7 91.10deg,#fffdec 91.20deg,#d4edb7 91.30deg,#f2f7c3 91.40deg,#f2f7c3 91.50deg,#e7f3b9 91.60deg,#c6e9b5 91.70deg,#cfecb6 91.80deg,#fdfad8 91.90deg,#4fc0c9 92.00deg,#f6f7c7 92.10deg,#d6eeb7 92.20deg,#ceebb6 92.30deg,#ebf5ba 92.40deg,#ddf0b8 92.50deg,#80d3c1 92.60deg,#ceecb6 92.70deg,#fefbdf 92.80deg,#edf5bb 92.90deg,#f3f7c3 93.01deg,#c8eab5 93.11deg,#d6eeb7 93.21deg,#b3e3b7 93.31deg,#dbf0b8 93.41deg,#c4e8b5 93.51deg,#d6eeb7 93.61deg,#95dabd 93.71deg,#d4edb7 93.81deg,#fdfada 93.91deg,#7ad1c2 94.01deg,#c6e9b5 94.11deg,#fefce3 94.21deg,#a5dfb9 94.31deg,#ecf5ba 94.41deg,#e3f2b9 94.51deg,#9bdcbb 94.61deg,#fffdeb 94.71deg,#fff 94.71deg,#fff 96.24deg,#cfecb6 96.24deg,#fffdec 96.34deg,#d8efb7 96.44deg,#f0f6c0 96.54deg,#fefce5 96.64deg,#e1f2b9 96.74deg,#ddf0b8 96.84deg,#eff6be 96.94deg,#daefb8 97.04deg,#d3edb7 97.14deg,#e6f3b9 97.24deg,#fdfad9 97.34deg,#cdebb6 97.44deg,#e2f2b9 97.54deg,#d4edb7 97.64deg,#d6eeb7 97.74deg,#e7f3b9 97.84deg,#d5eeb7 97.94deg,#80d3c1 98.04deg,#69cbc5 98.14deg,#ecf5bb 98.24deg,#c8eab5 98.34deg,#daefb8 98.44deg,#fdfad6 98.54deg,#64c9c6 98.64deg,#e4f2b9 98.74deg,#f1f6c1 98.84deg,#ecf5ba 98.94deg,#f0f6bf 99.04deg,#c9eab5 99.14deg,#e5f3b9 99.24deg,#f0f6c0 99.34deg,#e1f1b8 99.44deg,#dcf0b8 99.54deg,#d9efb7 99.64deg,#d8efb7 99.74deg,#ddf0b8 99.84deg,#ddf0b8 99.94deg,#f4f7c5 100.04deg,#fcfad5 100.14deg,#fffdec 100.24deg,#fffdec 100.35deg,#fdfad7 100.45deg,#f0f6bf 100.55deg,#e7f3b9 100.65deg,#ddf0b8 100.75deg,#e4f3b9 100.85deg,#fcf9d2 100.95deg,#2a9bc6 101.05deg,#eff6bf 101.15deg,#eff6be 101.25deg,#cfecb6 101.35deg,#daefb8 101.45deg,#a5deb9 101.55deg,#ddf0b8 101.65deg,#def0b8 101.75deg,#a3deba 101.85deg,#f1f6c1 101.95deg,#d0ecb6 102.05deg,#f0f6bf 102.15deg,#fffce8 102.25deg,#e8f4b9 102.35deg,#d3edb7 102.45deg,#e2f2b9 102.55deg,#f1f6c1 102.65deg,#eaf4ba 102.75deg,#def1b8 102.85deg,#cfecb6 102.95deg,#f0f6bf 103.05deg,#c3e8b4 103.15deg,#edf5bb 103.25deg,#e4f2b9 103.35deg,#e0f1b8 103.45deg,#fefce5 103.55deg,#ecf5ba 103.65deg,#f9f8cc 103.75deg,#dff1b8 103.85deg,#d7eeb7 103.95deg,#dbefb8 104.05deg,#daefb8 104.15deg,#e3f2b9 104.25deg,#f3f7c4 104.35deg,#e9f4ba 104.45deg,#d2edb6 104.55deg,#ebf5ba 104.66deg,#78d1c2 104.76deg,#e8f4ba 104.86deg,#daefb8 104.96deg,#eaf4ba 105.06deg,#f1f6c0 105.16deg,#fdfad5 105.26deg,#fffde9 105.36deg,#e8f4b9 105.46deg,#58c4c8 105.56deg,#cbeab5 105.66deg,#ebf5ba 105.76deg,#c2e8b4 105.86deg,#c4e8b5 105.96deg,#daefb8 106.06deg,#e8f4b9 106.16deg,#b7e4b6 106.26deg,#ace1b8 106.36deg,#b8e5b6 106.46deg,#dcf0b8 106.56deg,#e3f2b9 106.66deg,#4dbeca 106.76deg,#38afca 106.86deg,#eef5bd 106.96deg,#def1b8 107.06deg,#b2e2b7 107.16deg,#b7e4b6 107.26deg,#edf5bc 107.36deg,#c5e9b5 107.46deg,#ceebb6 107.56deg,#daefb8 107.66deg,#97dabc 107.76deg,#d0ecb6 107.86deg,#f8f8ca 107.96deg,#afe2b7 108.06deg,#84d4c0 108.16deg,#d8efb7 108.26deg,#88d5bf 108.36deg,#98dbbc 108.46deg,#ceebb6 108.56deg,#d1ecb6 108.66deg,#c8eab5 108.76deg,#cdebb6 108.86deg,#aee1b8 108.97deg,#daefb7 109.07deg,#90d8be 109.17deg,#4fc0c9 109.27deg,#89d6bf 109.37deg,#31a5c8 109.47deg,#e0f1b8 109.57deg,#96dabc 109.67deg,#cdebb6 109.77deg,#ccebb6 109.87deg,#d3edb7 109.97deg,#9adbbc 110.07deg,#d1ecb6 110.17deg,#d9efb7 110.27deg,#fdfada 110.37deg,#f0f6bf 110.47deg,#a2ddba 110.57deg,#38b0ca 110.67deg,#c5e8b5 110.77deg,#3eb8cc 110.87deg,#e3f2b9 110.97deg,#d7eeb7 111.07deg,#92d9bd 111.17deg,#d3edb7 111.27deg,#d6eeb7 111.37deg,#e5f3b9 111.47deg,#ebf5ba 111.57deg,#c2e8b4 111.67deg,#c4e8b5 111.77deg,#fdfbdc 111.87deg,#faf9ce 111.97deg,#ddf0b8 112.07deg,#c2e8b4 112.17deg,#e0f1b8 112.27deg,#99dbbc 112.37deg,#d5eeb7 112.47deg,#e9f4ba 112.57deg,#e2f2b9 112.67deg,#dff1b8 112.77deg,#6bccc5 112.87deg,#c8eab5 112.97deg,#edf5bb 113.07deg,#ebf5ba 113.17deg,#d2edb6 113.28deg,#d9efb7 113.38deg,#eaf4ba 113.48deg,#a9e0b9 113.58deg,#b1e2b7 113.68deg,#fff 113.68deg,#fff 115.20deg,#9ddcbb 115.20deg,#dcf0b8 115.30deg,#c1e7b4 115.40deg,#eef5bc 115.50deg,#99dbbc 115.60deg,#bde6b5 115.71deg,#d2edb6 115.81deg,#c0e7b4 115.91deg,#c7e9b5 116.01deg,#b9e5b5 116.11deg,#c4e8b4 116.21deg,#f1f6c0 116.31deg,#dbf0b8 116.41deg,#72cfc4 116.51deg,#c1e7b4 116.61deg,#bee6b4 116.71deg,#e2f2b9 116.81deg,#c5e8b5 116.91deg,#d5eeb7 117.01deg,#dff1b8 117.11deg,#d7eeb7 117.21deg,#8dd7be 117.31deg,#dbf0b8 117.41deg,#f0f6bf 117.51deg,#e0f1b8 117.61deg,#eff6be 117.71deg,#ecf5ba 117.81deg,#f0f6bf 117.91deg,#fefbe1 118.01deg,#f2f7c2 118.11deg,#eff6bf 118.21deg,#c6e9b5 118.31deg,#f0f6c0 118.41deg,#fdfbdc 118.51deg,#fffce8 118.61deg,#e7f3b9 118.71deg,#fffce8 118.81deg,#f1f6c1 118.91deg,#dff1b8 119.01deg,#ecf5ba 119.11deg,#f3f7c3 119.21deg,#f6f8c8 119.31deg,#fbf9cf 119.41deg,#34aac9 119.51deg,#ecf5ba 119.61deg,#5fc7c7 119.71deg,#4fbfc9 119.81deg,#faf8cd 119.91deg,#fffdec 120.01deg,#e5f3b9 120.11deg,#97dabc 120.21deg,#cbebb6 120.31deg,#eff6bf 120.41deg,#c4e8b5 120.51deg,#f2f6c2 120.61deg,#eaf4ba 120.71deg,#e6f3b9 120.81deg,#a1ddba 120.92deg,#ecf5ba 121.02deg,#eff6bf 121.12deg,#eff6be 121.22deg,#ebf5ba 121.32deg,#f0f6bf 121.42deg,#fbf9ce 121.52deg,#f5f7c6 121.62deg,#f4f7c6 121.72deg,#eef6bd 121.82deg,#fefce3 121.92deg,#f6f8c8 122.02deg,#f1f6c1 122.12deg,#f5f7c6 122.22deg,#fbf9cf 122.32deg,#daefb8 122.42deg,#b1e2b7 122.52deg,#f8f8cb 122.62deg,#eff6bf 122.72deg,#f7f8ca 122.82deg,#f2f7c3 122.92deg,#eef5bc 123.02deg,#fdfad9 123.12deg,#daefb8 123.22deg,#edf5bb 123.32deg,#f2f7c3 123.42deg,#3eb8cc 123.52deg,#f6f7c7 123.62deg,#fcf9d3 123.72deg,#fdfad9 123.82deg,#f0f6c0 123.92deg,#fcf9d2 124.02deg,#4ebfc9 124.12deg,#ebf5ba 124.22deg,#86d5c0 124.32deg,#e8f4b9 124.42deg,#f1f6c1 124.52deg,#fffde9 124.62deg,#fdfad9 124.72deg,#fffdec 124.82deg,#66cac6 124.92deg,#eef6bd 125.02deg,#8ed7be 125.12deg,#f7f8ca 125.22deg,#ecf5bb 125.32deg,#f2f7c2 125.42deg,#f3f7c4 125.52deg,#b0e2b7 125.62deg,#e8f4b9 125.72deg,#ddf0b8 125.82deg,#e8f4b9 125.92deg,#d1edb6 126.02deg,#f2f7c3 126.13deg,#4fc0c9 126.23deg,#ebf5ba 126.33deg,#75d0c3 126.43deg,#ccebb6 126.53deg,#edf5bb 126.63deg,#e4f2b9 126.73deg,#dcf0b8 126.83deg,#d6eeb7 126.93deg,#fdfad7 127.03deg,#a9e0b9 127.13deg,#dbefb8 127.23deg,#edf5bb 127.33deg,#faf9cd 127.43deg,#c7e9b5 127.53deg,#d7eeb7 127.63deg,#2797c5 127.73deg,#d7eeb7 127.83deg,#fefce6 127.93deg,#f3f7c3 128.03deg,#e4f2b9 128.13deg,#eff6bf 128.23deg,#cdebb6 128.33deg,#eff6be 128.43deg,#d2edb6 128.53deg,#e5f3b9 128.63deg,#caeab5 128.73deg,#ebf5ba 128.83deg,#e4f3b9 128.93deg,#e2f2b9 129.03deg,#e8f4ba 129.13deg,#fffdec 129.23deg,#f0f6bf 129.33deg,#e4f2b9 129.43deg,#60c7c7 129.53deg,#3fb9cc 129.63deg,#edf5bb 129.73deg,#e4f3b9 129.83deg,#eef5bc 129.93deg,#f8f8ca 130.03deg,#fffdec 130.13deg,#3fb8cc 130.23deg,#d8efb7 130.33deg,#d3edb7 130.43deg,#fff 130.43deg,#fff 131.96deg,#f8f8ca 131.96deg,#d4edb7 132.06deg,#c6e9b5 132.16deg,#ceebb6 132.26deg,#c5e9b5 132.36deg,#daefb8 132.46deg,#caeab5 132.56deg,#e1f1b8 132.66deg,#fefce2 132.76deg,#d2edb6 132.87deg,#fdfad7 132.97deg,#d1ecb6 133.07deg,#6fcec4 133.17deg,#ddf0b8 133.27deg,#a4deba 133.37deg,#e2f2b9 133.47deg,#e2f2b9 133.57deg,#d9efb7 133.67deg,#e0f1b8 133.77deg,#55c2c8 133.87deg,#d3edb7 133.97deg,#cdebb6 134.07deg,#d4edb7 134.17deg,#dff1b8 134.27deg,#e6f3b9 134.37deg,#f2f7c3 134.47deg,#fffdea 134.57deg,#dcf0b8 134.67deg,#eff6be 134.77deg,#edf5bc 134.87deg,#f3f7c4 134.97deg,#c8e9b5 135.07deg,#fbf9cf 135.17deg,#fdfad6 135.27deg,#f7f8c9 135.37deg,#eaf4ba 135.48deg,#f1f6c1 135.58deg,#62c8c6 135.68deg,#b6e4b6 135.78deg,#f6f8c8 135.88deg,#fffdea 135.98deg,#cdebb6 136.08deg,#f8f8cb 136.18deg,#ecf5ba 136.28deg,#e9f4ba 136.38deg,#fdfad5 136.48deg,#f1f6c1 136.58deg,#f1f6c1 136.68deg,#c8eab5 136.78deg,#fcf9d0 136.88deg,#f0f6bf 136.98deg,#fffdec 137.08deg,#f6f7c7 137.18deg,#fbf9cf 137.28deg,#e5f3b9 137.38deg,#60c7c7 137.48deg,#daefb8 137.58deg,#bee6b4 137.68deg,#b4e3b6 137.78deg,#fdfad8 137.88deg,#f3f7c3 137.99deg,#f7f8ca 138.09deg,#f0f6bf 138.19deg,#f3f7c3 138.29deg,#f7f8c9 138.39deg,#f8f8ca 138.49deg,#f2f7c2 138.59deg,#eef6bd 138.69deg,#f0f6c0 138.79deg,#ebf5ba 138.89deg,#faf9ce 138.99deg,#fcf9d1 139.09deg,#f0f6bf 139.19deg,#eaf4ba 139.29deg,#f5f7c7 139.39deg,#fefbe0 139.49deg,#58c3c8 139.59deg,#f7f8c9 139.69deg,#e1f1b8 139.79deg,#f5f7c7 139.89deg,#f6f8c8 139.99deg,#eff6be 140.09deg,#fffdec 140.19deg,#eff6bd 140.29deg,#e2f2b9 140.39deg,#f2f7c2 140.49deg,#e7f3b9 140.60deg,#eff6be 140.70deg,#def1b8 140.80deg,#f5f7c6 140.90deg,#f0f6c0 141.00deg,#46bbcb 141.10deg,#d5eeb7 141.20deg,#f6f7c7 141.30deg,#e4f2b9 141.40deg,#d8efb7 141.50deg,#f0f6c0 141.60deg,#fefbe0 141.70deg,#f4f7c5 141.80deg,#f4f7c6 141.90deg,#fdfbdb 142.00deg,#fffdec 142.10deg,#def1b8 142.20deg,#d3edb7 142.30deg,#cdebb6 142.40deg,#7dd2c1 142.50deg,#dcf0b8 142.60deg,#dcf0b8 142.70deg,#ddf0b8 142.80deg,#dff1b8 142.90deg,#c3e8b4 143.00deg,#daefb8 143.11deg,#e9f4ba 143.21deg,#2a9cc6 143.31deg,#c1e7b4 143.41deg,#d0ecb6 143.51deg,#ceebb6 143.61deg,#ceebb6 143.71deg,#d7eeb7 143.81deg,#fcf9cf 143.91deg,#d5eeb7 144.01deg,#fffde9 144.11deg,#d6eeb7 144.21deg,#d3edb7 144.31deg,#c3e8b4 144.41deg,#c2e8b4 144.51deg,#d1edb6 144.61deg,#59c4c8 144.71deg,#cbeab5 144.81deg,#e7f4b9 144.91deg,#d2edb6 145.01deg,#caeab5 145.11deg,#ccebb6 145.21deg,#b9e5b5 145.31deg,#fefce4 145.41deg,#f5f7c7 145.51deg,#c1e7b4 145.61deg,#b3e3b7 145.72deg,#98dabc 145.82deg,#bee6b4 145.92deg,#c3e8b4 146.02deg,#d6eeb7 146.12deg,#d7eeb7 146.22deg,#aee1b8 146.32deg,#a0ddba 146.42deg,#fffdec 146.52deg,#1e8ac2 146.62deg,#f1f6c0 146.72deg,#1e8ac2 146.82deg,#d6eeb7 146.92deg,#fffde9 147.02deg,#c7e9b5 147.12deg,#c3e8b4 147.22deg,#9cdcbb 147.32deg,#dcf0b8 147.42deg,#cfecb6 147.52deg,#ebf5ba 147.62deg,#c6e9b5 147.72deg,#d2edb6 147.82deg,#85d5c0 147.92deg,#c7e9b5 148.02deg,#1e8ac2 148.12deg,#ccebb6 148.23deg,#fff 148.23deg,#fff 149.75deg,#f2f6c2 149.75deg,#92d9bd 149.85deg,#e7f4b9 149.95deg,#c1e7b4 150.05deg,#36acc9 150.15deg,#ace1b8 150.25deg,#218ec3 150.35deg,#dbf0b8 150.45deg,#fbf9ce 150.55deg,#f6f7c8 150.66deg,#8ad6bf 150.76deg,#fcf9d1 150.86deg,#f2f6c2 150.96deg,#d9efb7 151.06deg,#eaf4ba 151.16deg,#e6f3b9 151.26deg,#f1f6c1 151.36deg,#ceebb6 151.46deg,#d7eeb7 151.56deg,#fefce5 151.66deg,#d4edb7 151.76deg,#45bbcb 151.86deg,#fffdec 151.96deg,#f7f8c9 152.06deg,#fffdec 152.16deg,#71cec4 152.26deg,#fefce2 152.36deg,#76d0c3 152.46deg,#3cb6cc 152.56deg,#e4f2b9 152.66deg,#cdebb6 152.76deg,#d8efb7 152.86deg,#f7f8ca 152.96deg,#f1f6c0 153.06deg,#f0f6bf 153.16deg,#f4f7c5 153.26deg,#edf5bc 153.36deg,#eef5bd 153.46deg,#fefbdf 153.56deg,#f0f6c0 153.66deg,#edf5bc 153.76deg,#b1e2b7 153.86deg,#3db6cc 153.96deg,#9cdcbb 154.06deg,#7cd2c2 154.16deg,#e7f3b9 154.26deg,#fffdec 154.36deg,#f5f7c6 154.46deg,#f4f7c4 154.56deg,#f1f6c1 154.66deg,#f1f6c2 154.76deg,#f8f8ca 154.86deg,#edf5bc 154.96deg,#eff6bf 155.06deg,#fdfbdd 155.17deg,#f7f8ca 155.27deg,#f8f8ca 155.37deg,#edf5bc 155.47deg,#f8f8ca 155.57deg,#e8f4ba 155.67deg,#e7f4b9 155.77deg,#fdfada 155.87deg,#eff6be 155.97deg,#fffdea 156.07deg,#e7f3b9 156.17deg,#91d8bd 156.27deg,#f0f6bf 156.37deg,#53c1c9 156.47deg,#f1f6c1 156.57deg,#eef5bc 156.67deg,#fbf9ce 156.77deg,#f0f6bf 156.87deg,#fefbdf 156.97deg,#fcf9d3 157.07deg,#eef6bd 157.17deg,#ddf0b8 157.27deg,#f3f7c3 157.37deg,#ceecb6 157.47deg,#f2f7c3 157.57deg,#f6f7c8 157.67deg,#fefce4 157.77deg,#f2f6c2 157.87deg,#fdfbdd 157.97deg,#f8f8cb 158.07deg,#e5f3b9 158.17deg,#fcf9d2 158.27deg,#eff6be 158.37deg,#f5f7c6 158.47deg,#fffdeb 158.57deg,#e8f4b9 158.67deg,#fbf9ce 158.77deg,#fdfbdc 158.87deg,#eff6bf 158.97deg,#f6f8c8 159.07deg,#ddf0b8 159.17deg,#f5f7c6 159.27deg,#f0f6c0 159.37deg,#f9f8cb 159.47deg,#fefce5 159.57deg,#fdfad9 159.67deg,#eff6be 159.78deg,#7bd1c2 159.88deg,#f3f7c4 159.98deg,#ccebb6 160.08deg,#67cac5 160.18deg,#f0f6bf 160.28deg,#eff6bf 160.38deg,#d4edb7 160.48deg,#fffdec 160.58deg,#71cec4 160.68deg,#ade1b8 160.78deg,#ebf5ba 160.88deg,#fffdec 160.98deg,#f8f8ca 161.08deg,#d5eeb7 161.18deg,#ddf0b8 161.28deg,#ddf0b8 161.38deg,#ecf5ba 161.48deg,#fbf9ce 161.58deg,#cdebb6 161.68deg,#e5f3b9 161.78deg,#41b9cc 161.88deg,#eef5bd 161.98deg,#e5f3b9 162.08deg,#f2f7c3 162.18deg,#b1e2b7 162.28deg,#d0ecb6 162.38deg,#f4f7c5 162.48deg,#e5f3b9 162.58deg,#fcf9d0 162.68deg,#fdfad7 162.78deg,#e2f2b9 162.88deg,#eef5bc 162.98deg,#dff1b8 163.08deg,#d0ecb6 163.18deg,#68cac5 163.28deg,#b9e5b5 163.38deg,#fdfad7 163.48deg,#d2edb6 163.58deg,#36acc9 163.68deg,#fefbe0 163.78deg,#d2edb7 163.88deg,#d5eeb7 163.98deg,#f6f8c8 164.08deg,#dbf0b8 164.18deg,#c3e8b4 164.28deg,#dbefb8 164.39deg,#f1f6c1 164.49deg,#d0ecb6 164.59deg,#e4f3b9 164.69deg,#c4e8b4 164.79deg,#fdfbdc 164.89deg,#c2e8b4 164.99deg,#fcf9d3 165.09deg,#e4f2b9 165.19deg,#e2f2b9 165.29deg,#fefce4 165.39deg,#eef6bd 165.49deg,#a2deba 165.59deg,#dcf0b8 165.69deg,#daefb8 165.79deg,#c5e9b5 165.89deg,#f9f8cb 165.99deg,#f3f7c4 166.09deg,#fefce2 166.19deg,#cbebb6 166.29deg,#ecf5bb 166.39deg,#d9efb7 166.49deg,#b8e4b6 166.59deg,#67cac5 166.69deg,#e4f3b9 166.79deg,#def0b8 166.89deg,#fff 166.89deg,#fff 168.42deg,#d0ecb6 168.42deg,#fcf9d3 168.52deg,#e5f3b9 168.62deg,#edf5bb 168.72deg,#dbf0b8 168.82deg,#cdebb6 168.92deg,#f1f6c1 169.02deg,#ddf0b8 169.12deg,#e6f3b9 169.22deg,#c3e8b4 169.32deg,#e0f1b8 169.42deg,#cfecb6 169.52deg,#dff1b8 169.62deg,#f0f6c0 169.72deg,#1f8bc2 169.82deg,#d1ecb6 169.92deg,#f3f7c4 170.02deg,#dbf0b8 170.12deg,#eff6be 170.22deg,#eaf4ba 170.32deg,#fcf9d0 170.42deg,#3cb6cb 170.52deg,#54c1c9 170.62deg,#ecf5ba 170.72deg,#d9efb7 170.82deg,#fbf9ce 170.92deg,#d8efb7 171.02deg,#eff6be 171.12deg,#90d8be 171.22deg,#eef5bc 171.32deg,#fdfad6 171.42deg,#d5eeb7 171.52deg,#d8efb7 171.62deg,#eef5bc 171.72deg,#ebf5ba 171.82deg,#68cbc5 171.92deg,#80d3c1 172.02deg,#e6f3b9 172.12deg,#d2edb6 172.22deg,#c6e9b5 172.32deg,#edf5bc 172.42deg,#fdfbdd 172.52deg,#dcf0b8 172.62deg,#e4f3b9 172.72deg,#e6f3b9 172.82deg,#ddf0b8 172.92deg,#f0f6c0 173.02deg,#eef6bd 173.12deg,#ecf5ba 173.22deg,#daefb7 173.32deg,#fffdeb 173.42deg,#ddf0b8 173.52deg,#fcf9d2 173.62deg,#edf5bb 173.72deg,#eef5bc 173.82deg,#fdfbdb 173.92deg,#e5f3b9 174.02deg,#fefbe1 174.12deg,#e5f3b9 174.22deg,#e5f3b9 174.32deg,#ecf5ba 174.42deg,#f2f6c2 174.52deg,#6dcdc5 174.62deg,#c9eab5 174.72deg,#e0f1b8 174.82deg,#61c8c6 174.92deg,#e6f3b9 175.02deg,#8ad6bf 175.12deg,#f4f7c4 175.22deg,#ecf5bb 175.32deg,#eef5bc 175.42deg,#f6f8c8 175.52deg,#eff6be 175.62deg,#59c4c8 175.72deg,#fffdec 175.82deg,#f3f7c4 175.92deg,#fffdec 176.02deg,#e8f4b9 176.12deg,#e6f3b9 176.22deg,#e1f2b9 176.32deg,#f1f6c1 176.42deg,#f2f7c3 176.52deg,#82d4c0 176.62deg,#e6f3b9 176.72deg,#eff6be 176.82deg,#fffdec 176.92deg,#f2f6c2 177.02deg,#def1b8 177.12deg,#fdfad9 177.22deg,#f2f7c3 177.32deg,#f1f6c1 177.42deg,#f3f7c4 177.52deg,#3fb8cc 177.63deg,#eaf4ba 177.73deg,#eff6be 177.83deg,#e6f3b9 177.93deg,#eef5bc 178.03deg,#fefce7 178.13deg,#e0f1b8 178.23deg,#e0f1b8 178.33deg,#e4f2b9 178.43deg,#e9f4ba 178.53deg,#f1f6c0 178.63deg,#c3e8b4 178.73deg,#edf5bb 178.83deg,#e2f2b9 178.93deg,#eff6be 179.03deg,#dbf0b8 179.13deg,#c6e9b5 179.23deg,#eff6be 179.33deg,#91d8bd 179.43deg,#fffdec 179.53deg,#cdebb6 179.63deg,#dff1b8 179.73deg,#e7f3b9 179.83deg,#c5e9b5 179.93deg,#70cec4 180.03deg,#edf5bb 180.13deg,#d4edb7 180.23deg,#daefb8 180.33deg,#7dd2c1 180.43deg,#e9f4ba 180.53deg,#cfecb6 180.63deg,#62c8c6 180.73deg,#37aeca 180.83deg,#f1f6c1 180.93deg,#b4e3b6 181.03deg,#cdebb6 181.13deg,#d1ecb6 181.23deg,#f7f8c9 181.33deg,#b8e4b6 181.43deg,#a8e0b9 181.53deg,#cbeab5 181.63deg,#cdebb6 181.73deg,#aee1b8 181.83deg,#d1ecb6 181.93deg,#ccebb6 182.03deg,#e3f2b9 182.13deg,#c2e8b4 182.23deg,#c9eab5 182.33deg,#a7dfb9 182.43deg,#dbefb8 182.53deg,#b9e5b5 182.63deg,#d5eeb7 182.73deg,#e4f2b9 182.83deg,#cdebb6 182.93deg,#d7eeb7 183.03deg,#e0f1b8 183.13deg,#3bb3cb 183.23deg,#ccebb6 183.33deg,#daefb8 183.43deg,#d6eeb7 183.53deg,#93d9bd 183.63deg,#bfe7b4 183.73deg,#cdebb6 183.83deg,#d3edb7 183.93deg,#e5f3b9 184.03deg,#b7e4b6 184.13deg,#d5eeb7 184.23deg,#56c3c8 184.33deg,#8ed7be 184.43deg,#d8efb7 184.53deg,#e8f4b9 184.63deg,#b9e5b5 184.73deg,#eaf4ba 184.83deg,#299ac5 184.93deg,#f3f7c4 185.03deg,#d4edb7 185.13deg,#96dabc 185.23deg,#b7e4b6 185.33deg,#ddf0b8 185.43deg,#edf5bc 185.53deg,#a7dfb9 185.63deg,#dcf0b8 185.73deg,#ceebb6 185.83deg,#e5f3b9 185.93deg,#fff 185.93deg,#fff 187.46deg,#caeab5 187.46deg,#f3f7c4 187.56deg,#f1f6c1 187.66deg,#d7eeb7 187.76deg,#eff6be 187.86deg,#d3edb7 187.96deg,#f4f7c4 188.06deg,#f6f8c8 188.16deg,#c5e9b5 188.26deg,#d0ecb6 188.36deg,#f5f7c7 188.46deg,#ecf5ba 188.57deg,#f5f7c7 188.67deg,#d6eeb7 188.77deg,#e1f1b8 188.87deg,#eaf4ba 188.97deg,#fffce7 189.07deg,#e2f2b9 189.17deg,#ecf5ba 189.27deg,#c2e8b4 189.37deg,#d6eeb7 189.47deg,#f2f7c2 189.57deg,#f9f8cb 189.67deg,#f0f6bf 189.77deg,#f2f6c2 189.87deg,#f8f8cb 189.97deg,#6dcdc5 190.07deg,#dff1b8 190.17deg,#f5f7c6 190.28deg,#fffdec 190.38deg,#fffdec 190.48deg,#e7f3b9 190.58deg,#e8f4b9 190.68deg,#ecf5ba 190.78deg,#f4f7c5 190.88deg,#daefb8 190.98deg,#dbf0b8 191.08deg,#e5f3b9 191.18deg,#fefce2 191.28deg,#fffdec 191.38deg,#eaf4ba 191.48deg,#f7f8ca 191.58deg,#fcf9d3 191.68deg,#f0f6bf 191.78deg,#f5f7c6 191.88deg,#f4f7c5 191.99deg,#f1f6c1 192.09deg,#d7eeb7 192.19deg,#e0f1b8 192.29deg,#eef6bd 192.39deg,#eef6bd 192.49deg,#eff6be 192.59deg,#daefb8 192.69deg,#d5eeb7 192.79deg,#f1f6c1 192.89deg,#ecf5ba 192.99deg,#f2f6c2 193.09deg,#ecf5ba 193.19deg,#fdfad6 193.29deg,#edf5bb 193.39deg,#e6f3b9 193.49deg,#d9efb7 193.60deg,#e9f4ba 193.70deg,#ecf5bb 193.80deg,#f1f6c1 193.90deg,#ebf5ba 194.00deg,#eaf5ba 194.10deg,#f1f6c1 194.20deg,#e4f3b9 194.30deg,#fefce5 194.40deg,#e6f3b9 194.50deg,#4ebfc9 194.60deg,#e7f3b9 194.70deg,#edf5bc 194.80deg,#f7f8c9 194.90deg,#fefce6 195.00deg,#e4f2b9 195.10deg,#f3f7c3 195.20deg,#edf5bc 195.31deg,#d9efb7 195.41deg,#eaf4ba 195.51deg,#d7eeb7 195.61deg,#eaf4ba 195.71deg,#edf5bc 195.81deg,#cbebb6 195.91deg,#e2f2b9 196.01deg,#e9f4ba 196.11deg,#e0f1b8 196.21deg,#ddf0b8 196.31deg,#eff6be 196.41deg,#d6eeb7 196.51deg,#fdfbdd 196.61deg,#fefce2 196.71deg,#c0e7b4 196.81deg,#dff1b8 196.91deg,#e3f2b9 197.02deg,#d4edb7 197.12deg,#eff6be 197.22deg,#c4e8b4 197.32deg,#f1f6c1 197.42deg,#ebf5ba 197.52deg,#dff1b8 197.62deg,#e3f2b9 197.72deg,#d1ecb6 197.82deg,#52c1c9 197.92deg,#ebf5ba 198.02deg,#4fbfc9 198.12deg,#f0f6c0 198.22deg,#dff1b8 198.32deg,#f3f7c4 198.42deg,#f1f6c1 198.52deg,#f1f6c1 198.62deg,#e0f1b8 198.73deg,#dcf0b8 198.83deg,#7bd1c2 198.93deg,#dbf0b8 199.03deg,#76d0c3 199.13deg,#ecf5ba 199.23deg,#fff 199.23deg,#fff 200.76deg,#f0f6c0 200.76deg,#3fb9cc 200.86deg,#def1b8 200.96deg,#e3f2b9 201.06deg,#e9f4ba 201.16deg,#ebf5ba 201.26deg,#ecf5bb 201.36deg,#eaf4ba 201.46deg,#f1f6c1 201.56deg,#f1f6c1 201.66deg,#a7dfb9 201.76deg,#f0f6c0 201.86deg,#fcf9d3 201.96deg,#dbf0b8 202.06deg,#fcf9d1 202.16deg,#ccebb6 202.26deg,#eef5bc 202.36deg,#fffdea 202.46deg,#ecf5ba 202.56deg,#fffdec 202.66deg,#dff1b8 202.76deg,#fdfbdd 202.86deg,#def0b8 202.96deg,#d9efb7 203.06deg,#edf5bb 203.16deg,#d5eeb7 203.26deg,#f3f7c4 203.36deg,#d3edb7 203.46deg,#dff1b8 203.56deg,#e9f4ba 203.66deg,#eef6bd 203.76deg,#ddf0b8 203.87deg,#f2f6c2 203.97deg,#f4f7c4 204.07deg,#b7e4b6 204.17deg,#eff6bf 204.27deg,#d3edb7 204.37deg,#c1e7b4 204.47deg,#fefce5 204.57deg,#e3f2b9 204.67deg,#fcf9d2 204.77deg,#6ecdc4 204.87deg,#2797c5 204.97deg,#e6f3b9 205.07deg,#cdebb6 205.17deg,#f0f6c0 205.27deg,#dbf0b8 205.37deg,#d7eeb7 205.47deg,#e9f4ba 205.57deg,#e5f3b9 205.67deg,#e9f4ba 205.77deg,#fffdec 205.87deg,#d8efb7 205.97deg,#e4f2b9 206.07deg,#e9f4ba 206.17deg,#edf5bb 206.27deg,#f4f7c5 206.37deg,#e1f1b8 206.47deg,#f2f6c2 206.57deg,#fcf9d3 206.67deg,#e3f2b9 206.77deg,#3bb3cb 206.87deg,#ebf5ba 206.97deg,#f4f7c4 207.07deg,#f5f7c7 207.17deg,#f9f8cc 207.27deg,#ecf5ba 207.37deg,#ecf5ba 207.48deg,#35abc9 207.58deg,#fffdec 207.68deg,#ebf5ba 207.78deg,#fffdec 207.88deg,#e9f4ba 207.98deg,#f6f8c8 208.08deg,#e6f3b9 208.18deg,#d0ecb6 208.28deg,#daefb8 208.38deg,#d1ecb6 208.48deg,#fffdec 208.58deg,#fefbde 208.68deg,#d7eeb7 208.78deg,#e4f3b9 208.88deg,#d3edb7 208.98deg,#dff1b8 209.08deg,#cbebb6 209.18deg,#faf9ce 209.28deg,#f2f6c2 209.38deg,#eff6bf 209.48deg,#fefce4 209.58deg,#d6eeb7 209.68deg,#eef5bc 209.78deg,#ddf0b8 209.88deg,#e8f4b9 209.98deg,#d7eeb7 210.08deg,#e6f3b9 210.18deg,#e8f4b9 210.28deg,#d2edb7 210.38deg,#d4edb7 210.48deg,#d0ecb6 210.58deg,#edf5bc 210.68deg,#eaf4ba 210.78deg,#36adca 210.88deg,#e7f4b9 210.98deg,#eff6bf 211.09deg,#b9e5b5 211.19deg,#f1f6c0 211.29deg,#c4e8b5 211.39deg,#eef5bc 211.49deg,#ccebb6 211.59deg,#d9efb7 211.69deg,#dcf0b8 211.79deg,#c5e9b5 211.89deg,#d3edb7 211.99deg,#2999c5 212.09deg,#c6e9b5 212.19deg,#eff6be 212.29deg,#e5f3b9 212.39deg,#6acbc5 212.49deg,#fdfbdd 212.59deg,#c6e9b5 212.69deg,#dbefb8 212.79deg,#b4e3b6 212.89deg,#caeab5 212.99deg,#ccebb6 213.09deg,#cdebb6 213.19deg,#b6e4b6 213.29deg,#9cdcbb 213.39deg,#e5f3b9 213.49deg,#e2f2b9 213.59deg,#d7eeb7 213.69deg,#d4edb7 213.79deg,#c8eab5 213.89deg,#c8eab5 213.99deg,#def0b8 214.09deg,#81d3c1 214.19deg,#f2f7c2 214.29deg,#b3e3b7 214.39deg,#fffdec 214.49deg,#d2edb6 214.59deg,#fff 214.59deg,#fff 216.12deg,#edf5bb 216.12deg,#ecf5ba 216.22deg,#e7f3b9 216.32deg,#f6f8c8 216.42deg,#dcf0b8 216.52deg,#eaf4ba 216.62deg,#f1f6c0 216.72deg,#d0ecb6 216.82deg,#eff6bf 216.92deg,#f6f8c8 217.02deg,#46bccb 217.12deg,#e0f1b8 217.23deg,#eef6bd 217.33deg,#f1f6c1 217.43deg,#fcf9d0 217.53deg,#f1f6c1 217.63deg,#eaf4ba 217.73deg,#eef5bc 217.83deg,#dff1b8 217.93deg,#d1ecb6 218.03deg,#ecf5ba 218.13deg,#f7f8c9 218.23deg,#e5f3b9 218.33deg,#e9f4ba 218.43deg,#ccebb6 218.53deg,#caeab5 218.63deg,#c7e9b5 218.73deg,#eff6be 218.83deg,#e5f3b9 218.93deg,#e8f4b9 219.03deg,#f0f6c0 219.13deg,#eff6be 219.23deg,#e4f2b9 219.33deg,#a6dfb9 219.43deg,#d8efb7 219.53deg,#f7f8c9 219.63deg,#e8f4b9 219.73deg,#f5f7c6 219.83deg,#d4edb7 219.93deg,#ecf5ba 220.03deg,#f6f8c8 220.13deg,#f2f7c2 220.23deg,#e5f3b9 220.33deg,#dff1b8 220.43deg,#f4f7c6 220.53deg,#eff6bd 220.63deg,#fefce6 220.73deg,#fdfad6 220.83deg,#e0f1b8 220.93deg,#edf5bb 221.03deg,#f4f7c5 221.13deg,#e7f3b9 221.23deg,#eef6bd 221.33deg,#edf5bb 221.43deg,#faf8cd 221.53deg,#cbeab5 221.63deg,#ecf5bb 221.73deg,#edf5bb 221.83deg,#cfecb6 221.94deg,#e2f2b9 222.04deg,#d4edb7 222.14deg,#d6eeb7 222.24deg,#f1f6c1 222.34deg,#d0ecb6 222.44deg,#cfecb6 222.54deg,#fdfad9 222.64deg,#d8efb7 222.74deg,#e3f2b9 222.84deg,#d7eeb7 222.94deg,#c8eab5 223.04deg,#d8efb7 223.14deg,#cbebb6 223.24deg,#b8e5b6 223.34deg,#cbebb6 223.44deg,#e1f1b8 223.54deg,#6bccc5 223.64deg,#d8efb7 223.74deg,#e5f3b9 223.84deg,#d7eeb7 223.94deg,#e2f2b9 224.04deg,#bde6b5 224.14deg,#d3edb7 224.24deg,#d9efb7 224.34deg,#eef5bc 224.44deg,#c9eab5 224.54deg,#70cec4 224.64deg,#53c1c9 224.74deg,#e7f3b9 224.84deg,#c9eab5 224.94deg,#b6e4b6 225.04deg,#e4f2b9 225.14deg,#dcf0b8 225.24deg,#dff1b8 225.34deg,#36adca 225.44deg,#d8efb7 225.54deg,#67cac5 225.64deg,#c6e9b5 225.74deg,#66cac6 225.84deg,#e5f3b9 225.94deg,#eaf4ba 226.04deg,#f9f8cc 226.14deg,#d3edb7 226.24deg,#49bdca 226.34deg,#f0f6c0 226.44deg,#d8eeb7 226.54deg,#ddf0b8 226.64deg,#e7f3b9 226.75deg,#d4edb7 226.85deg,#e6f3b9 226.95deg,#eaf4ba 227.05deg,#e8f4b9 227.15deg,#c7e9b5 227.25deg,#5dc5c7 227.35deg,#eaf4ba 227.45deg,#fffde9 227.55deg,#c9eab5 227.65deg,#f2f6c2 227.75deg,#e1f1b8 227.85deg,#d4edb7 227.95deg,#ddf0b8 228.05deg,#caeab5 228.15deg,#d7eeb7 228.25deg,#f0f6c0 228.35deg,#40b9cc 228.45deg,#caeab5 228.55deg,#def1b8 228.65deg,#eff6be 228.75deg,#ecf5ba 228.85deg,#ddf0b8 228.95deg,#eaf4ba 229.05deg,#d4edb7 229.15deg,#45bbcb 229.25deg,#fefbe0 229.35deg,#edf5bc 229.45deg,#eff6be 229.55deg,#47bccb 229.65deg,#d7eeb7 229.75deg,#f5f7c7 229.85deg,#c2e8b4 229.95deg,#f0f6c0 230.05deg,#fefbdf 230.15deg,#e2f2b9 230.25deg,#dcf0b8 230.35deg,#69cbc5 230.45deg,#ccebb6 230.55deg,#e7f3b9 230.65deg,#f0f6bf 230.75deg,#f3f7c4 230.85deg,#ebf5ba 230.95deg,#ade1b8 231.05deg,#f1f6c0 231.15deg,#f2f7c3 231.25deg,#edf5bb 231.35deg,#ecf5ba 231.46deg,#f2f6c2 231.56deg,#d4edb7 231.66deg,#fff 231.66deg,#fff 233.18deg,#60c7c7 233.18deg,#edf5bb 233.28deg,#d8efb7 233.38deg,#e7f3b9 233.48deg,#eaf4ba 233.58deg,#48bcca 233.68deg,#d4edb7 233.78deg,#fcf9d2 233.89deg,#4cbeca 233.99deg,#ecf5ba 234.09deg,#9cdcbb 234.19deg,#edf5bb 234.29deg,#ddf0b8 234.39deg,#e2f2b9 234.49deg,#fffdec 234.59deg,#f3f7c4 234.69deg,#f4f7c5 234.79deg,#fffdec 234.89deg,#f6f7c7 234.99deg,#dcf0b8 235.09deg,#eaf4ba 235.19deg,#e4f2b9 235.29deg,#f0f6c0 235.39deg,#e7f3b9 235.49deg,#edf5bb 235.59deg,#ebf5ba 235.69deg,#f8f8cb 235.79deg,#fefce6 235.89deg,#c6e9b5 235.99deg,#c5e8b5 236.09deg,#e7f3b9 236.19deg,#ceebb6 236.29deg,#dff1b8 236.39deg,#edf5bc 236.49deg,#eef5bc 236.59deg,#f2f6c2 236.69deg,#ebf5ba 236.79deg,#fffdec 236.89deg,#fffdec 236.99deg,#b6e4b6 237.09deg,#75d0c3 237.19deg,#66cac6 237.29deg,#eff6be 237.39deg,#f5f7c6 237.49deg,#eaf5ba 237.59deg,#7ed2c1 237.69deg,#daefb8 237.79deg,#eaf4ba 237.89deg,#edf5bb 237.99deg,#eff6be 238.09deg,#daefb8 238.19deg,#f3f7c3 238.30deg,#f4f7c6 238.40deg,#e7f3b9 238.50deg,#f6f7c8 238.60deg,#f2f6c2 238.70deg,#cdebb6 238.80deg,#caeab5 238.90deg,#f1f6c1 239.00deg,#edf5bb 239.10deg,#e8f4b9 239.20deg,#cdebb6 239.30deg,#bae5b5 239.40deg,#eef5bd 239.50deg,#f4f7c4 239.60deg,#e9f4ba 239.70deg,#fdfada 239.80deg,#f5f7c6 239.90deg,#eef6bd 240.00deg,#dcf0b8 240.10deg,#e4f2b9 240.20deg,#d1ecb6 240.30deg,#ecf5ba 240.40deg,#e2f2b9 240.50deg,#e1f2b9 240.60deg,#e0f1b8 240.70deg,#e8f4b9 240.80deg,#38afca 240.90deg,#fffce8 241.00deg,#eef5bc 241.10deg,#f3f7c4 241.20deg,#edf5bc 241.30deg,#eff6bf 241.40deg,#fffdec 241.50deg,#ecf5bb 241.60deg,#f3f7c3 241.70deg,#edf5bc 241.80deg,#f8f8ca 241.90deg,#c6e9b5 242.00deg,#fcf9d2 242.10deg,#ccebb6 242.20deg,#fffdec 242.30deg,#f2f6c2 242.40deg,#e9f4ba 242.50deg,#ecf5ba 242.61deg,#ecf5bb 242.71deg,#e3f2b9 242.81deg,#f0f6bf 242.91deg,#e8f4b9 243.01deg,#fdfad8 243.11deg,#a8dfb9 243.21deg,#d7eeb7 243.31deg,#dbf0b8 243.41deg,#bde6b5 243.51deg,#e9f4ba 243.61deg,#e2f2b9 243.71deg,#1f8bc2 243.81deg,#c7e9b5 243.91deg,#d0ecb6 244.01deg,#edf5bc 244.11deg,#e7f3b9 244.21deg,#d6eeb7 244.31deg,#70cec4 244.41deg,#d9efb7 244.51deg,#ddf0b8 244.61deg,#e5f3b9 244.71deg,#ebf5ba 244.81deg,#c5e9b5 244.91deg,#d8efb7 245.01deg,#f1f6c0 245.11deg,#fefbe0 245.21deg,#66cac6 245.31deg,#caeab5 245.41deg,#fffdec 245.51deg,#c8eab5 245.61deg,#fefbe1 245.71deg,#abe1b8 245.81deg,#d9efb7 245.91deg,#80d3c1 246.01deg,#f6f7c7 246.11deg,#b6e4b6 246.21deg,#ceebb6 246.31deg,#aae0b8 246.41deg,#e9f4ba 246.51deg,#1e8ac2 246.61deg,#daefb8 246.71deg,#e4f2b9 246.81deg,#edf5bb 246.91deg,#fffce8 247.02deg,#c3e8b4 247.12deg,#fcf9d1 247.22deg,#c9eab5 247.32deg,#dcf0b8 247.42deg,#bde6b5 247.52deg,#e0f1b8 247.62deg,#d7eeb7 247.72deg,#d3edb7 247.82deg,#cdebb6 247.92deg,#d0ecb6 248.02deg,#f4f7c4 248.12deg,#4cbeca 248.22deg,#e9f4ba 248.32deg,#c2e8b4 248.42deg,#d6eeb7 248.52deg,#aae0b8 248.62deg,#fefbdf 248.72deg,#e9f4ba 248.82deg,#f9f8cb 248.92deg,#ceecb6 249.02deg,#edf5bb 249.12deg,#f2f7c3 249.22deg,#b5e4b6 249.32deg,#b6e4b6 249.42deg,#dff1b8 249.52deg,#c4e8b5 249.62deg,#f9f8cc 249.72deg,#c5e9b5 249.82deg,#fff 249.82deg,#fff 251.35deg,#fdfada 251.35deg,#82d4c0 251.45deg,#fcf9d2 251.55deg,#daefb7 251.65deg,#c5e9b5 251.75deg,#f7f8c9 251.85deg,#caeab5 251.95deg,#fefce2 252.05deg,#c7e9b5 252.15deg,#e0f1b8 252.25deg,#d7eeb7 252.35deg,#b3e3b7 252.45deg,#1e8ac2 252.55deg,#c0e7b4 252.65deg,#9edcbb 252.75deg,#d0ecb6 252.85deg,#ccebb6 252.95deg,#b5e4b6 253.05deg,#def1b8 253.15deg,#def1b8 253.25deg,#f1f6c1 253.35deg,#ddf0b8 253.45deg,#d9efb7 253.55deg,#fcfad4 253.65deg,#57c3c8 253.75deg,#d5eeb7 253.85deg,#a1ddba 253.95deg,#daefb8 254.05deg,#fefbe0 254.15deg,#f1f6c1 254.25deg,#b7e4b6 254.35deg,#d6eeb7 254.45deg,#ceecb6 254.55deg,#ebf5ba 254.65deg,#c0e7b4 254.75deg,#e0f1b8 254.85deg,#d3edb7 254.95deg,#f4f7c5 255.05deg,#c2e8b4 255.15deg,#5ec6c7 255.25deg,#e2f2b9 255.35deg,#fcf9d2 255.45deg,#d1ecb6 255.55deg,#ebf5ba 255.65deg,#eff6be 255.75deg,#ddf0b8 255.85deg,#dff1b8 255.95deg,#c7e9b5 256.05deg,#e5f3b9 256.15deg,#fefbe0 256.25deg,#fefce6 256.36deg,#fdfbdb 256.46deg,#c1e7b4 256.56deg,#ccebb6 256.66deg,#9adbbc 256.76deg,#d5eeb7 256.86deg,#d9efb7 256.96deg,#cfecb6 257.06deg,#b7e4b6 257.16deg,#bde6b5 257.26deg,#c7e9b5 257.36deg,#b6e4b6 257.46deg,#e8f4b9 257.56deg,#e5f3b9 257.66deg,#fcf9d1 257.76deg,#b8e5b6 257.86deg,#fcf9d0 257.96deg,#d3edb7 258.06deg,#d0ecb6 258.16deg,#d7eeb7 258.26deg,#bde6b5 258.36deg,#ecf5ba 258.46deg,#fffdec 258.56deg,#d3edb7 258.66deg,#eff6be 258.76deg,#c2e8b4 258.86deg,#f7f8ca 258.96deg,#ebf5ba 259.06deg,#fefbde 259.16deg,#fefbde 259.26deg,#cfecb6 259.36deg,#eaf4ba 259.46deg,#f2f6c2 259.56deg,#fffdeb 259.66deg,#d8efb7 259.76deg,#e3f2b9 259.86deg,#f5f7c6 259.96deg,#f0f6c0 260.06deg,#f5f7c7 260.16deg,#dff1b8 260.26deg,#e2f2b9 260.36deg,#45bbcb 260.46deg,#ecf5ba 260.56deg,#f0f6c0 260.66deg,#eaf4ba 260.76deg,#edf5bc 260.86deg,#54c2c9 260.96deg,#fcf9d1 261.06deg,#def0b8 261.16deg,#eaf4ba 261.26deg,#f4f7c5 261.36deg,#eff6be 261.46deg,#e1f1b8 261.56deg,#f0f6c0 261.66deg,#f4f7c4 261.76deg,#34aac9 261.86deg,#b6e4b6 261.96deg,#cdebb6 262.06deg,#f0f6bf 262.16deg,#eff6be 262.26deg,#edf5bb 262.36deg,#f3f7c4 262.46deg,#eff6be 262.56deg,#f6f8c8 262.66deg,#dbf0b8 262.76deg,#d6eeb7 262.86deg,#edf5bb 262.96deg,#fffdec 263.06deg,#c3e8b4 263.16deg,#edf5bb 263.26deg,#caeab5 263.36deg,#f2f6c2 263.46deg,#f1f6c0 263.56deg,#d5eeb7 263.66deg,#f6f8c8 263.76deg,#63c8c6 263.86deg,#e7f3b9 263.96deg,#caeab5 264.06deg,#e2f2b9 264.16deg,#ecf5bb 264.26deg,#def1b8 264.36deg,#e3f2b9 264.46deg,#e6f3b9 264.56deg,#e8f4b9 264.66deg,#8ed8be 264.76deg,#ceebb6 264.86deg,#78d1c2 264.96deg,#37aeca 265.06deg,#edf5bb 265.16deg,#2ea2c7 265.26deg,#cdebb6 265.36deg,#78d1c2 265.46deg,#d5eeb7 265.56deg,#fcf9d1 265.67deg,#edf5bb 265.77deg,#dff1b8 265.87deg,#c0e7b4 265.97deg,#e3f2b9 266.07deg,#daefb7 266.17deg,#37afca 266.27deg,#77d0c3 266.37deg,#9adbbc 266.47deg,#eaf4ba 266.57deg,#dbefb8 266.67deg,#f3f7c3 266.77deg,#32a7c8 266.87deg,#c3e8b4 266.97deg,#e9f4ba 267.07deg,#e4f3b9 267.17deg,#d7eeb7 267.27deg,#2fa2c7 267.37deg,#eff6be 267.47deg,#e0f1b8 267.57deg,#bce6b5 267.67deg,#e7f3b9 267.77deg,#fdfad8 267.87deg,#85d5c0 267.97deg,#f7f8c9 268.07deg,#f3f7c3 268.17deg,#54c2c9 268.27deg,#c7e9b5 268.37deg,#e6f3b9 268.47deg,#e0f1b8 268.57deg,#f2f6c2 268.67deg,#edf5bb 268.77deg,#eef5bc 268.87deg,#cdebb6 268.97deg,#fff 268.97deg,#fff 270.50deg,#b6e4b6 270.50deg,#fdfad5 270.60deg,#b5e3b6 270.70deg,#ceebb6 270.80deg,#ace1b8 270.90deg,#c9eab5 271.00deg,#d4edb7 271.10deg,#4cbeca 271.20deg,#bde6b5 271.30deg,#fefbdf 271.40deg,#d9efb7 271.50deg,#b7e4b6 271.60deg,#c7e9b5 271.70deg,#def1b8 271.80deg,#8ad6bf 271.90deg,#d0ecb6 272.00deg,#d6eeb7 272.10deg,#d1ecb6 272.20deg,#f4f7c4 272.30deg,#d8eeb7 272.40deg,#edf5bc 272.50deg,#f7f8c9 272.60deg,#eef5bc 272.70deg,#dcf0b8 272.80deg,#e7f3b9 272.90deg,#eef5bd 273.00deg,#c2e8b4 273.10deg,#d6eeb7 273.20deg,#eef6bd 273.30deg,#fffdec 273.40deg,#fefce6 273.50deg,#e3f2b9 273.60deg,#f9f8cc 273.70deg,#c7e9b5 273.80deg,#f6f8c8 273.90deg,#f5f7c6 274.00deg,#f7f8ca 274.10deg,#eef5bc 274.20deg,#f6f7c8 274.30deg,#e6f3b9 274.40deg,#faf9cd 274.50deg,#fefbe0 274.60deg,#ecf5bb 274.70deg,#f1f6c1 274.80deg,#fefce6 274.90deg,#eef6bd 275.00deg,#faf8cd 275.10deg,#90d8be 275.20deg,#f5f7c7 275.30deg,#f4f7c5 275.40deg,#f0f6bf 275.50deg,#f5f7c6 275.60deg,#f3f7c4 275.70deg,#eef6bd 275.80deg,#e0f1b8 275.90deg,#f9f8cc 276.00deg,#eef6bd 276.10deg,#fcf9d2 276.20deg,#fffdec 276.30deg,#f1f6c1 276.40deg,#cdebb6 276.50deg,#f1f6c1 276.60deg,#fcf9d0 276.70deg,#e2f2b9 276.80deg,#f8f8ca 276.90deg,#c5e9b5 277.00deg,#f2f7c3 277.10deg,#fffdec 277.20deg,#f1f6c1 277.30deg,#f2f6c2 277.40deg,#f3f7c4 277.50deg,#fefce6 277.60deg,#daefb8 277.70deg,#eef5bd 277.80deg,#eef6bd 277.90deg,#e7f4b9 278.00deg,#eef5bd 278.10deg,#3bb4cb 278.20deg,#eef5bd 278.30deg,#fcf9d3 278.40deg,#eaf4ba 278.50deg,#edf5bb 278.60deg,#dff1b8 278.70deg,#f2f7c2 278.80deg,#ecf5ba 278.90deg,#c4e8b5 279.00deg,#f0f6bf 279.10deg,#edf5bb 279.20deg,#c9eab5 279.30deg,#e0f1b8 279.40deg,#edf5bb 279.50deg,#f0f6c0 279.60deg,#ecf5ba 279.70deg,#e4f3b9 279.80deg,#d6eeb7 279.90deg,#d6eeb7 280.00deg,#def0b8 280.10deg,#f1f6c1 280.20deg,#c9eab5 280.31deg,#43bacb 280.41deg,#b9e5b5 280.51deg,#fbf9cf 280.61deg,#f2f7c2 280.71deg,#218ec3 280.81deg,#b0e2b7 280.91deg,#e0f1b8 281.01deg,#b5e4b6 281.11deg,#6acbc5 281.21deg,#ccebb6 281.31deg,#daefb8 281.41deg,#9fddbb 281.51deg,#91d8bd 281.61deg,#cfecb6 281.71deg,#ccebb6 281.81deg,#4bbeca 281.91deg,#74cfc3 282.01deg,#9edcbb 282.11deg,#50c0c9 282.21deg,#a1ddba 282.31deg,#b6e4b6 282.41deg,#d3edb7 282.51deg,#bce6b5 282.61deg,#c7e9b5 282.71deg,#85d5c0 282.81deg,#f0f6c0 282.91deg,#e2f2b9 283.01deg,#b1e2b7 283.11deg,#c2e8b4 283.21deg,#a6dfb9 283.31deg,#d8efb7 283.41deg,#fff 283.41deg,#fff 284.94deg,#c9eab5 284.94deg,#f3f7c4 285.04deg,#2fa2c7 285.14deg,#d9efb7 285.24deg,#b0e2b7 285.34deg,#fffdeb 285.44deg,#dbf0b8 285.54deg,#d2edb6 285.64deg,#cfecb6 285.74deg,#bce6b5 285.84deg,#cdebb6 285.94deg,#dcf0b8 286.04deg,#dff1b8 286.14deg,#e2f2b9 286.24deg,#eaf4ba 286.35deg,#def1b8 286.45deg,#f9f8cd 286.55deg,#e3f2b9 286.65deg,#ddf0b8 286.75deg,#b8e4b6 286.85deg,#d5eeb7 286.95deg,#f4f7c4 287.05deg,#c3e8b4 287.15deg,#92d9bd 287.25deg,#ebf5ba 287.35deg,#fcf9cf 287.45deg,#eef5bd 287.55deg,#edf5bb 287.65deg,#e7f3b9 287.75deg,#f1f6c1 287.86deg,#eff6be 287.96deg,#e5f3b9 288.06deg,#fdfada 288.16deg,#eef6bd 288.26deg,#e4f2b9 288.36deg,#44bbcb 288.46deg,#d4edb7 288.56deg,#ecf5bb 288.66deg,#eaf4ba 288.76deg,#fcf9d1 288.86deg,#ecf5ba 288.96deg,#f2f7c2 289.06deg,#eef6bd 289.16deg,#51c0c9 289.26deg,#d9efb7 289.37deg,#d0ecb6 289.47deg,#e5f3b9 289.57deg,#c7e9b5 289.67deg,#fffdec 289.77deg,#d1ecb6 289.87deg,#fffdec 289.97deg,#f1f6c1 290.07deg,#eef6bd 290.17deg,#d8efb7 290.27deg,#b1e2b7 290.37deg,#f7f8c9 290.47deg,#d0ecb6 290.57deg,#dcf0b8 290.67deg,#caeab5 290.77deg,#45bbcb 290.88deg,#eaf4ba 290.98deg,#e2f2b9 291.08deg,#edf5bb 291.18deg,#fffdeb 291.28deg,#e8f4b9 291.38deg,#eaf4ba 291.48deg,#f1f6c1 291.58deg,#def1b8 291.68deg,#f0f6c0 291.78deg,#e0f1b8 291.88deg,#d7eeb7 291.98deg,#fffdec 292.08deg,#e4f3b9 292.18deg,#44bbcb 292.28deg,#91d8bd 292.39deg,#f0f6c0 292.49deg,#f7f8c9 292.59deg,#f9f8cc 292.69deg,#e3f2b9 292.79deg,#cfecb6 292.89deg,#4dbfca 292.99deg,#f2f6c2 293.09deg,#f4f7c5 293.19deg,#e8f4ba 293.29deg,#edf5bc 293.39deg,#e6f3b9 293.49deg,#d5eeb7 293.59deg,#ecf5ba 293.69deg,#edf5bc 293.80deg,#87d5bf 293.90deg,#f1f6c1 294.00deg,#fcf9d3 294.10deg,#fefbe1 294.20deg,#e1f2b9 294.30deg,#fefbe1 294.40deg,#c3e8b4 294.50deg,#ecf5ba 294.60deg,#edf5bb 294.70deg,#f5f7c6 294.80deg,#fefbdf 294.90deg,#f2f6c2 295.00deg,#dff1b8 295.10deg,#c7e9b5 295.20deg,#eaf5ba 295.31deg,#eff6be 295.41deg,#e1f1b8 295.51deg,#dff1b8 295.61deg,#ecf5bb 295.71deg,#f5f7c6 295.81deg,#f6f8c8 295.91deg,#def1b8 296.01deg,#e0f1b8 296.11deg,#e5f3b9 296.21deg,#c7e9b5 296.31deg,#eef6bd 296.41deg,#faf9ce 296.51deg,#dff1b8 296.61deg,#dbf0b8 296.71deg,#edf5bc 296.82deg,#e2f2b9 296.92deg,#d7eeb7 297.02deg,#ecf5bb 297.12deg,#d7eeb7 297.22deg,#f6f8c8 297.32deg,#fbf9cf 297.42deg,#ecf5ba 297.52deg,#f2f6c2 297.62deg,#ebf5ba 297.72deg,#52c1c9 297.82deg,#c1e7b4 297.92deg,#37aeca 298.02deg,#edf5bb 298.12deg,#fcfad4 298.22deg,#ebf5ba 298.33deg,#edf5bb 298.43deg,#fdfad5 298.53deg,#f0f6bf 298.63deg,#dff1b8 298.73deg,#e8f4b9 298.83deg,#fcf9d3 298.93deg,#d8efb7 299.03deg,#e9f4ba 299.13deg,#fff 299.13deg,#fff 300.66deg,#e5f3b9 300.66deg,#fdfad6 300.76deg,#c5e8b5 300.86deg,#daefb8 300.96deg,#e0f1b8 301.06deg,#e9f4ba 301.16deg,#fdfad8 301.26deg,#e4f2b9 301.36deg,#fdfbde 301.46deg,#f1f6c1 301.56deg,#def1b8 301.66deg,#f1f6c1 301.76deg,#eef6bd 301.86deg,#2fa3c7 301.96deg,#7ad1c2 302.06deg,#edf5bb 302.16deg,#eff6be 302.26deg,#ecf5ba 302.36deg,#eff6be 302.46deg,#f2f6c2 302.56deg,#e1f2b9 302.66deg,#f3f7c4 302.76deg,#e2f2b9 302.86deg,#e6f3b9 302.96deg,#f0f6c0 303.06deg,#d8efb7 303.16deg,#fffdec 303.26deg,#f0f6bf 303.36deg,#d4edb7 303.46deg,#f4f7c4 303.56deg,#d2edb7 303.66deg,#fefce6 303.76deg,#cdebb6 303.86deg,#cfecb6 303.96deg,#edf5bb 304.06deg,#d6eeb7 304.16deg,#eaf4ba 304.26deg,#e9f4ba 304.36deg,#edf5bb 304.46deg,#6fcdc4 304.56deg,#daefb8 304.66deg,#e1f2b9 304.76deg,#fffdec 304.86deg,#d2edb7 304.96deg,#ceebb6 305.06deg,#f2f6c2 305.16deg,#5dc6c7 305.26deg,#fffdea 305.36deg,#4cbeca 305.46deg,#f4f7c5 305.56deg,#fefbdf 305.66deg,#eef5bc 305.76deg,#f0f6c0 305.86deg,#d3edb7 305.97deg,#75d0c3 306.07deg,#f0f6bf 306.17deg,#e1f2b9 306.27deg,#e9f4ba 306.37deg,#3bb3cb 306.47deg,#ddf0b8 306.57deg,#eaf4ba 306.67deg,#e6f3b9 306.77deg,#fdfad6 306.87deg,#fffdec 306.97deg,#f7f8c9 307.07deg,#f9f8cc 307.17deg,#d4edb7 307.27deg,#f0f6c0 307.37deg,#fffdec 307.47deg,#dcf0b8 307.57deg,#f7f8c9 307.67deg,#e4f2b9 307.77deg,#ecf5ba 307.87deg,#fdfad7 307.97deg,#f1f6c0 308.07deg,#faf8cd 308.17deg,#e7f3b9 308.27deg,#eff6bf 308.37deg,#f3f7c3 308.47deg,#edf5bc 308.57deg,#f0f6bf 308.67deg,#e5f3b9 308.77deg,#d7eeb7 308.87deg,#edf5bc 308.97deg,#daefb8 309.07deg,#dff1b8 309.17deg,#eef5bc 309.27deg,#ddf0b8 309.37deg,#fbf9cf 309.47deg,#e6f3b9 309.57deg,#e3f2b9 309.67deg,#f0f6c0 309.77deg,#57c3c8 309.87deg,#eef5bc 309.97deg,#dff1b8 310.07deg,#e0f1b8 310.17deg,#f3f7c4 310.27deg,#f3f7c4 310.37deg,#d6eeb7 310.47deg,#bfe7b4 310.57deg,#fffdec 310.67deg,#bbe5b5 310.77deg,#edf5bb 310.87deg,#f2f7c3 310.97deg,#5cc5c7 311.07deg,#e6f3b9 311.17deg,#f2f6c2 311.27deg,#eff6be 311.37deg,#def0b8 311.47deg,#80d3c1 311.57deg,#50c0c9 311.67deg,#fdfbdb 311.77deg,#f0f6c0 311.87deg,#f5f7c6 311.97deg,#eff6be 312.07deg,#f3f7c4 312.17deg,#b6e4b6 312.27deg,#e8f4b9 312.37deg,#ebf5ba 312.47deg,#f5f7c7 312.57deg,#ecf5ba 312.67deg,#f8f8cb 312.77deg,#eff6bf 312.87deg,#daefb8 312.97deg,#eaf4ba 313.07deg,#f0f6c0 313.17deg,#f3f7c4 313.27deg,#dff1b8 313.37deg,#f0f6bf 313.47deg,#d8efb7 313.57deg,#e0f1b8 313.67deg,#e2f2b9 313.77deg,#daefb8 313.87deg,#56c3c8 313.97deg,#c6e9b5 314.07deg,#d5eeb7 314.17deg,#f4f7c5 314.27deg,#eaf4ba 314.37deg,#f0f6bf 314.48deg,#eff6bf 314.58deg,#fcf9d3 314.68deg,#88d6bf 314.78deg,#c9eab5 314.88deg,#eff6be 314.98deg,#ebf5ba 315.08deg,#dbf0b8 315.18deg,#5bc5c7 315.28deg,#e9f4ba 315.38deg,#e2f2b9 315.48deg,#3ab2cb 315.58deg,#d8efb7 315.68deg,#ceecb6 315.78deg,#e6f3b9 315.88deg,#d4eeb7 315.98deg,#caeab5 316.08deg,#caeab5 316.18deg,#fefce4 316.28deg,#cbeab5 316.38deg,#cbeab5 316.48deg,#fdfad6 316.58deg,#caeab5 316.68deg,#d3edb7 316.78deg,#b9e5b5 316.88deg,#c2e8b4 316.98deg,#a5deb9 317.08deg,#c5e8b5 317.18deg,#edf5bc 317.28deg,#eff6be 317.38deg,#ccebb6 317.48deg,#cfecb6 317.58deg,#ccebb6 317.68deg,#f3f7c3 317.78deg,#faf8cd 317.88deg,#edf5bb 317.98deg,#e7f3b9 318.08deg,#daefb8 318.18deg,#d7eeb7 318.28deg,#88d5bf 318.38deg,#d5eeb7 318.48deg,#c6e9b5 318.58deg,#ceecb6 318.68deg,#f3f7c4 318.78deg,#d7eeb7 318.88deg,#d9efb7 318.98deg,#58c4c8 319.08deg,#82d3c0 319.18deg,#f0f6c0 319.28deg,#66c9c6 319.38deg,#d5eeb7 319.48deg,#fefbdf 319.58deg,#fcfad4 319.68deg,#d5eeb7 319.78deg,#d8efb7 319.88deg,#d0ecb6 319.98deg,#d1ecb6 320.08deg,#4ebfc9 320.18deg,#d0ecb6 320.28deg,#c7e9b5 320.38deg,#fff 320.38deg,#fff 321.91deg,#6fcdc4 321.91deg,#e2f2b9 322.01deg,#c6e9b5 322.11deg,#d5eeb7 322.21deg,#ecf5ba 322.31deg,#f5f7c6 322.41deg,#52c1c9 322.51deg,#f6f7c7 322.61deg,#f0f6bf 322.71deg,#c5e9b5 322.82deg,#f1f6c1 322.92deg,#ddf0b8 323.02deg,#2695c4 323.12deg,#fffdeb 323.22deg,#dbf0b8 323.32deg,#ccebb6 323.42deg,#e1f1b8 323.52deg,#fffdec 323.62deg,#68cbc5 323.72deg,#edf5bb 323.82deg,#43bacb 323.92deg,#d4edb7 324.02deg,#e9f4ba 324.12deg,#fefbde 324.22deg,#f4f7c5 324.32deg,#c7e9b5 324.42deg,#eaf4ba 324.52deg,#f2f6c2 324.63deg,#edf5bb 324.73deg,#eff6be 324.83deg,#f2f7c3 324.93deg,#e5f3b9 325.03deg,#d8eeb7 325.13deg,#ebf5ba 325.23deg,#fefbde 325.33deg,#def0b8 325.43deg,#4cbeca 325.53deg,#e7f3b9 325.63deg,#f9f8cc 325.73deg,#fffdec 325.83deg,#bfe7b4 325.93deg,#f5f7c6 326.03deg,#eef5bc 326.13deg,#e4f2b9 326.23deg,#ebf5ba 326.34deg,#f4f7c6 326.44deg,#90d8be 326.54deg,#e5f3b9 326.64deg,#dff1b8 326.74deg,#fcf9d1 326.84deg,#cfecb6 326.94deg,#dcf0b8 327.04deg,#fcfad4 327.14deg,#dbf0b8 327.24deg,#fefbdf 327.34deg,#72cec4 327.44deg,#e8f4b9 327.54deg,#e7f3b9 327.64deg,#edf5bb 327.74deg,#e7f3b9 327.84deg,#53c1c9 327.94deg,#d8efb7 328.04deg,#f2f7c3 328.15deg,#d8efb7 328.25deg,#e4f3b9 328.35deg,#f0f6c0 328.45deg,#eff6bf 328.55deg,#83d4c0 328.65deg,#f2f6c2 328.75deg,#e3f2b9 328.85deg,#e2f2b9 328.95deg,#fdfad7 329.05deg,#f0f6c0 329.15deg,#ecf5ba 329.25deg,#93d9bd 329.35deg,#f0f6c0 329.45deg,#f2f6c2 329.55deg,#eff6be 329.65deg,#fefbe0 329.75deg,#fffdec 329.86deg,#f7f8c9 329.96deg,#f0f6bf 330.06deg,#c9eab5 330.16deg,#e7f3b9 330.26deg,#78d0c2 330.36deg,#61c7c6 330.46deg,#faf9ce 330.56deg,#cbebb6 330.66deg,#e9f4ba 330.76deg,#edf5bc 330.86deg,#ecf5ba 330.96deg,#f5f7c7 331.06deg,#e5f3b9 331.16deg,#fdfbdd 331.26deg,#d2edb6 331.36deg,#fffdec 331.46deg,#eff6be 331.56deg,#faf9ce 331.67deg,#eff6be 331.77deg,#f0f6bf 331.87deg,#e1f2b9 331.97deg,#e6f3b9 332.07deg,#daefb8 332.17deg,#fefbe0 332.27deg,#f1f6c1 332.37deg,#e2f2b9 332.47deg,#c1e7b4 332.57deg,#f0f6c0 332.67deg,#dbefb8 332.77deg,#daefb8 332.87deg,#fffdec 332.97deg,#c8e9b5 333.07deg,#c1e7b4 333.17deg,#c7e9b5 333.27deg,#d1ecb6 333.38deg,#d0ecb6 333.48deg,#d7eeb7 333.58deg,#f7f8c8 333.68deg,#fefce6 333.78deg,#def1b8 333.88deg,#c5e9b5 333.98deg,#d9efb7 334.08deg,#84d4c0 334.18deg,#d5eeb7 334.28deg,#e1f2b9 334.38deg,#d0ecb6 334.48deg,#cfecb6 334.58deg,#e9f4ba 334.68deg,#dbf0b8 334.78deg,#fdfbdc 334.88deg,#e1f2b9 334.98deg,#ddf0b8 335.08deg,#f5f7c6 335.19deg,#fcf9d0 335.29deg,#f0f6bf 335.39deg,#ade1b8 335.49deg,#f1f6c1 335.59deg,#d9efb7 335.69deg,#32a7c8 335.79deg,#ebf5ba 335.89deg,#ecf5ba 335.99deg,#d9efb7 336.09deg,#d7eeb7 336.19deg,#d9efb7 336.29deg,#b1e2b7 336.39deg,#c5e8b5 336.49deg,#d4edb7 336.59deg,#4bbeca 336.69deg,#e5f3b9 336.79deg,#eff6be 336.89deg,#f0f6bf 337.00deg,#eaf4ba 337.10deg,#ade1b8 337.20deg,#f7f8c9 337.30deg,#e5f3b9 337.40deg,#fffdec 337.50deg,#e6f3b9 337.60deg,#f1f6c1 337.70deg,#e3f2b9 337.80deg,#f2f6c2 337.90deg,#d7eeb7 338.00deg,#eaf4ba 338.10deg,#e6f3b9 338.20deg,#c5e9b5 338.30deg,#f7f8c9 338.40deg,#3ab2cb 338.50deg,#e5f3b9 338.60deg,#fcf9d1 338.71deg,#bfe7b4 338.81deg,#eff6bf 338.91deg,#e0f1b8 339.01deg,#1e8ac2 339.11deg,#f5f7c6 339.21deg,#fff 339.21deg,#fff 340.74deg,#f6f7c8 340.74deg,#eff6be 340.84deg,#d4eeb7 340.94deg,#fdfad7 341.04deg,#caeab5 341.14deg,#43bacb 341.24deg,#66c9c6 341.34deg,#e9f4ba 341.44deg,#ebf5ba 341.54deg,#f0f6bf 341.64deg,#a8dfb9 341.74deg,#eff6bf 341.84deg,#eaf4ba 341.94deg,#fffdec 342.04deg,#ecf5ba 342.14deg,#d7eeb7 342.25deg,#f5f7c6 342.35deg,#f0f6bf 342.45deg,#e9f4ba 342.55deg,#f9f8cb 342.65deg,#f0f6bf 342.75deg,#edf5bb 342.85deg,#e9f4ba 342.95deg,#eff6be 343.05deg,#fffde9 343.15deg,#f6f7c7 343.25deg,#e8f4b9 343.35deg,#f3f7c4 343.45deg,#eff6bf 343.55deg,#ecf5ba 343.65deg,#8cd7be 343.75deg,#fdfad9 343.86deg,#e0f1b8 343.96deg,#6ecdc4 344.06deg,#ecf5ba 344.16deg,#e7f4b9 344.26deg,#f3f7c4 344.36deg,#49bdca 344.46deg,#e8f4b9 344.56deg,#fefce3 344.66deg,#fffdec 344.76deg,#eff6be 344.86deg,#ecf5ba 344.96deg,#d7eeb7 345.06deg,#fffdec 345.16deg,#e4f2b9 345.26deg,#e7f4b9 345.36deg,#d2edb7 345.46deg,#ecf5bb 345.57deg,#fefce2 345.67deg,#fffdeb 345.77deg,#ecf5ba 345.87deg,#ebf5ba 345.97deg,#eef6bd 346.07deg,#f4f7c5 346.17deg,#e8f4b9 346.27deg,#f8f8ca 346.37deg,#e9f4ba 346.47deg,#ecf5ba 346.57deg,#ebf5ba 346.67deg,#ebf5ba 346.77deg,#fdfbdd 346.87deg,#f1f6c1 346.97deg,#ebf5ba 347.07deg,#f0f6c0 347.18deg,#eef5bd 347.28deg,#d7eeb7 347.38deg,#fefce3 347.48deg,#5ec6c7 347.58deg,#d0ecb6 347.68deg,#eef6bd 347.78deg,#eff6be 347.88deg,#f0f6bf 347.98deg,#2fa3c7 348.08deg,#d7eeb7 348.18deg,#dbf0b8 348.28deg,#f2f6c2 348.38deg,#e0f1b8 348.48deg,#f6f8c8 348.58deg,#edf5bc 348.68deg,#37aeca 348.79deg,#d5eeb7 348.89deg,#eaf4ba 348.99deg,#e5f3b9 349.09deg,#f5f7c7 349.19deg,#e7f3b9 349.29deg,#fcf9d0 349.39deg,#f5f7c7 349.49deg,#f0f6c0 349.59deg,#b9e5b5 349.69deg,#e6f3b9 349.79deg,#d7eeb7 349.89deg,#eaf4ba 349.99deg,#ceebb6 350.09deg,#b0e2b7 350.19deg,#fffdec 350.29deg,#c5e9b5 350.39deg,#ccebb6 350.50deg,#dbf0b8 350.60deg,#e8f4b9 350.70deg,#d9efb7 350.80deg,#ddf0b8 350.90deg,#299ac6 351.00deg,#d7eeb7 351.10deg,#fefce6 351.20deg,#b2e3b7 351.30deg,#f4f7c5 351.40deg,#d5eeb7 351.50deg,#def1b8 351.60deg,#c0e7b4 351.70deg,#4fbfc9 351.80deg,#cbebb6 351.90deg,#dff1b8 352.00deg,#ceebb6 352.11deg,#fdfada 352.21deg,#eaf4ba 352.31deg,#cbebb6 352.41deg,#f0f6bf 352.51deg,#e9f4ba 352.61deg,#e1f1b8 352.71deg,#fdfad8 352.81deg,#e4f2b9 352.91deg,#d0ecb6 353.01deg,#b0e2b7 353.11deg,#d7eeb7 353.21deg,#c2e8b4 353.31deg,#ecf5ba 353.41deg,#fffce8 353.51deg,#abe0b8 353.61deg,#fefbe0 353.72deg,#bee7b4 353.82deg,#c4e8b5 353.92deg,#fffdea 354.02deg,#e1f2b9 354.12deg,#c4e8b5 354.22deg,#d3edb7 354.32deg,#c2e8b4 354.42deg,#d8efb7 354.52deg,#b5e4b6 354.62deg,#fdfad5 354.72deg,#b0e2b7 354.82deg,#9edcbb 354.92deg,#c3e8b4 355.02deg,#ceecb6 355.12deg,#c7e9b5 355.22deg,#38b0ca 355.33deg,#fcf9d2 355.43deg,#ccebb6 355.53deg,#7fd3c1 355.63deg,#bfe7b4 355.73deg,#edf5bb 355.83deg,#e4f2b9 355.93deg,#c6e9b5 356.03deg,#90d8be 356.13deg,#a7dfb9 356.23deg,#caeab5 356.33deg,#e8f4ba 356.43deg,#c8e9b5 356.53deg,#c9eab5 356.63deg,#bce6b5 356.73deg,#e1f2b9 356.83deg,#f3f7c3 356.93deg,#caeab5 357.04deg,#fff 357.04deg,#fff 360deg)"></div>
<div class="d" style="left:500.0px;top:308.0px;width:996.0px;height:996.0px;background:#fff"></div>
<div class="d" style="left:507.0px;top:315.0px;width:982.0px;height:982.0px;background:conic-gradient(#fff 0deg,#fff 5.03deg,#60a9d5 5.03deg,#79b6dc 5.17deg,#63aad5 5.31deg,#94c4e3 5.45deg,#9cc9e5 5.59deg,#72b2da 5.73deg,#85bcdf 5.87deg,#7fb9de 6.01deg,#a0cbe6 6.15deg,#a3cce7 6.30deg,#add2ea 6.44deg,#cde3f2 6.58deg,#5ea8d4 6.72deg,#96c5e4 6.86deg,#c8e0f1 7.00deg,#98c7e4 7.14deg,#b8d8ed 7.28deg,#abd1e9 7.42deg,#acd1ea 7.56deg,#96c5e4 7.70deg,#a6cee8 7.84deg,#7eb9dd 7.98deg,#bddaee 8.12deg,#c1dcef 8.26deg,#cee3f3 8.40deg,#c8e0f1 8.54deg,#edf5fb 8.69deg,#d6e8f5 8.83deg,#ddecf7 8.97deg,#cfe4f3 9.11deg,#c0dcef 9.25deg,#d2e6f4 9.39deg,#d7e9f5 9.53deg,#cce2f2 9.67deg,#e4eff9 9.81deg,#deedf7 9.95deg,#eff6fc 10.09deg,#d9e9f6 10.23deg,#ecf4fb 10.37deg,#d8e9f5 10.51deg,#f3f8fc 10.65deg,#cee4f3 10.79deg,#f7fafd 10.93deg,#ebf3fb 11.07deg,#cbe2f2 11.22deg,#ecf4fb 11.36deg,#c2ddef 11.50deg,#cfe4f3 11.64deg,#d7e8f5 11.78deg,#e9f2fa 11.92deg,#f1f7fc 12.06deg,#d5e7f5 12.20deg,#c7e0f1 12.34deg,#c7e0f1 12.48deg,#dcebf7 12.62deg,#d7e9f5 12.76deg,#c9e1f1 12.90deg,#daeaf6 13.04deg,#e5f0f9 13.18deg,#cde3f2 13.32deg,#a7cfe8 13.46deg,#bedbee 13.61deg,#d7e9f5 13.75deg,#dfedf7 13.89deg,#e5f0f9 14.03deg,#d0e4f3 14.17deg,#ecf4fb 14.31deg,#e3eff8 14.45deg,#d5e8f5 14.59deg,#c9e1f1 14.73deg,#d9e9f6 14.87deg,#cae1f2 15.01deg,#d0e5f3 15.15deg,#cae1f2 15.29deg,#d9eaf6 15.43deg,#c6dff0 15.57deg,#e6f0f9 15.71deg,#e3eff9 15.85deg,#dcebf6 16.00deg,#d9eaf6 16.14deg,#d4e7f4 16.28deg,#cae1f2 16.42deg,#c5def0 16.56deg,#bad9ed 16.70deg,#daeaf6 16.84deg,#c5dff0 16.98deg,#d9e9f6 17.12deg,#d5e8f5 17.26deg,#c4def0 17.40deg,#c4def0 17.54deg,#ddecf7 17.68deg,#bad9ed 17.82deg,#c9e1f1 17.96deg,#cde3f3 18.10deg,#bcdaee 18.24deg,#cae1f2 18.39deg,#acd1ea 18.53deg,#97c6e4 18.67deg,#8bc0e1 18.81deg,#9dc9e6 18.95deg,#bcdaee 19.09deg,#c2ddef 19.23deg,#b8d8ed 19.37deg,#89bfe0 19.51deg,#b5d6ec 19.65deg,#88bee0 19.79deg,#c8e0f1 19.93deg,#8fc2e2 20.07deg,#5aa5d3 20.21deg,#8abfe0 20.35deg,#52a1d1 20.49deg,#87bee0 20.63deg,#6eb0d9 20.78deg,#56a3d2 20.92deg,#77b5db 21.06deg,#81bade 21.20deg,#62a9d5 21.34deg,#68add7 21.48deg,#84bcdf 21.62deg,#52a1d1 21.76deg,#68add7 21.90deg,#5ea8d4 22.04deg,#77b5db 22.18deg,#65abd6 22.32deg,#5ea7d4 22.46deg,#4599cc 22.60deg,#479acc 22.74deg,#7bb7dc 22.88deg,#62a9d5 23.02deg,#6cafd8 23.16deg,#8bc0e1 23.31deg,#5ba6d3 23.45deg,#6db0d8 23.59deg,#7ab6dc 23.73deg,#4f9fd0 23.87deg,#4c9dce 24.01deg,#6bafd8 24.15deg,#4699cc 24.29deg,#fff 24.29deg,#fff 25.82deg,#53a2d1 25.82deg,#7db8dd 25.96deg,#8cc0e1 26.10deg,#5ba6d3 26.24deg,#4c9ecf 26.38deg,#68add7 26.52deg,#70b1d9 26.66deg,#6cafd8 26.81deg,#4e9fcf 26.95deg,#4a9cce 27.09deg,#4398cb 27.23deg,#54a2d1 27.37deg,#4c9dce 27.51deg,#5da7d4 27.65deg,#3c94c9 27.79deg,#67acd6 27.93deg,#64aad6 28.08deg,#78b5db 28.22deg,#4599cc 28.36deg,#64aad6 28.50deg,#9dc9e5 28.64deg,#86bde0 28.78deg,#6dafd8 28.92deg,#4d9ecf 29.06deg,#92c3e3 29.20deg,#8ec1e2 29.35deg,#d4e7f4 29.49deg,#8bc0e1 29.63deg,#5da7d4 29.77deg,#82bbde 29.91deg,#d4e7f4 30.05deg,#cee3f3 30.19deg,#d0e5f3 30.33deg,#cde3f2 30.48deg,#d5e7f5 30.62deg,#d1e5f4 30.76deg,#ddecf7 30.90deg,#d0e4f3 31.04deg,#eaf3fb 31.18deg,#ddecf7 31.32deg,#cfe4f3 31.46deg,#d9eaf6 31.60deg,#f3f8fc 31.75deg,#f5f9fd 31.89deg,#f2f7fc 32.03deg,#eff5fc 32.17deg,#f6fafd 32.31deg,#fafcfe 32.45deg,#f6fafd 32.59deg,#fbfdfe 32.73deg,#f4f9fd 32.87deg,#f0f6fc 33.02deg,#ecf4fb 33.16deg,#f1f7fc 33.30deg,#e8f2fa 33.44deg,#eef5fb 33.58deg,#fafcfe 33.72deg,#dbebf6 33.86deg,#eaf3fb 34.00deg,#eff6fc 34.14deg,#ebf3fb 34.29deg,#d4e7f4 34.43deg,#f1f7fc 34.57deg,#e6f0f9 34.71deg,#d7e8f5 34.85deg,#deedf7 34.99deg,#ebf3fb 35.13deg,#c7dff1 35.27deg,#e4f0f9 35.42deg,#e6f1f9 35.56deg,#e7f1fa 35.70deg,#d7e9f5 35.84deg,#c7dff1 35.98deg,#d8e9f6 36.12deg,#b4d6ec 36.26deg,#cee3f3 36.40deg,#cfe4f3 36.54deg,#e6f0f9 36.69deg,#a6cee8 36.83deg,#b7d7ec 36.97deg,#bfdbef 37.11deg,#b0d3eb 37.25deg,#98c7e4 37.39deg,#c6dff1 37.53deg,#b7d7ec 37.67deg,#98c6e4 37.81deg,#b7d7ed 37.96deg,#b5d6ec 38.10deg,#95c5e3 38.24deg,#a2cce7 38.38deg,#9dc9e6 38.52deg,#7bb7dc 38.66deg,#4599cc 38.80deg,#5fa8d4 38.94deg,#92c3e3 39.08deg,#71b2d9 39.23deg,#5fa8d4 39.37deg,#91c3e2 39.51deg,#73b3da 39.65deg,#499ccd 39.79deg,#84bcdf 39.93deg,#88bee0 40.07deg,#75b4db 40.21deg,#76b5db 40.36deg,#77b5db 40.50deg,#7bb7dc 40.64deg,#51a1d0 40.78deg,#7eb9dd 40.92deg,#63aad5 41.06deg,#6dafd8 41.20deg,#5ea8d4 41.34deg,#479bcd 41.48deg,#51a1d0 41.63deg,#63aad5 41.77deg,#5aa5d3 41.91deg,#5ea8d4 42.05deg,#59a5d2 42.19deg,#67add7 42.33deg,#fff 42.33deg,#fff 43.86deg,#5ea8d4 43.86deg,#61a9d5 44.00deg,#c4def0 44.14deg,#96c5e4 44.28deg,#72b2da 44.42deg,#8abfe0 44.56deg,#afd3eb 44.70deg,#a3cce7 44.84deg,#acd1ea 44.98deg,#96c5e4 45.12deg,#abd1e9 45.26deg,#6baed8 45.40deg,#8fc2e2 45.54deg,#a8cfe9 45.68deg,#9cc9e5 45.82deg,#96c5e4 45.96deg,#a2cce7 46.10deg,#f1f7fc 46.24deg,#d4e7f4 46.38deg,#b3d5ec 46.52deg,#b5d6ec 46.66deg,#c2ddef 46.80deg,#cde3f2 46.94deg,#e7f1fa 47.08deg,#e4f0f9 47.22deg,#d0e5f3 47.36deg,#cfe4f3 47.50deg,#f0f6fc 47.64deg,#e3eff9 47.78deg,#e9f2fa 47.92deg,#d8e9f6 48.06deg,#edf5fb 48.20deg,#d1e5f4 48.34deg,#d7e8f5 48.48deg,#e2eff8 48.62deg,#d0e4f3 48.76deg,#d5e7f5 48.90deg,#f2f8fc 49.04deg,#edf5fb 49.18deg,#d1e5f4 49.32deg,#e1eef8 49.46deg,#eff6fc 49.60deg,#deecf7 49.74deg,#d8e9f6 49.88deg,#d9e9f6 50.02deg,#eef5fc 50.16deg,#dbebf6 50.30deg,#dfedf7 50.44deg,#f4f9fd 50.58deg,#ecf4fb 50.72deg,#fcfdfe 50.86deg,#e8f2fa 51.00deg,#f3f8fd 51.15deg,#f0f6fc 51.29deg,#e2eef8 51.43deg,#f7fbfd 51.57deg,#f2f8fc 51.71deg,#f0f6fc 51.85deg,#f5f9fd 51.99deg,#c8e0f1 52.13deg,#dbebf6 52.27deg,#eef5fb 52.41deg,#e5f0f9 52.55deg,#c4def0 52.69deg,#d7e8f5 52.83deg,#d0e5f3 52.97deg,#d3e6f4 53.11deg,#d2e5f4 53.25deg,#dcebf7 53.39deg,#e2eef8 53.53deg,#dfedf7 53.67deg,#cae1f2 53.81deg,#bddaee 53.95deg,#c4def0 54.09deg,#98c6e4 54.23deg,#d4e7f4 54.37deg,#e0edf8 54.51deg,#dbeaf6 54.65deg,#d2e6f4 54.79deg,#cce2f2 54.93deg,#cae1f2 55.07deg,#c1dcef 55.21deg,#9ecae6 55.35deg,#c0dcef 55.49deg,#56a3d2 55.63deg,#d4e7f4 55.77deg,#66acd6 55.91deg,#7fb9dd 56.05deg,#92c3e3 56.19deg,#a4cde7 56.33deg,#a5cde8 56.47deg,#6dafd8 56.61deg,#7bb7dc 56.75deg,#94c4e3 56.89deg,#73b3da 57.03deg,#6fb1d9 57.17deg,#7fb9dd 57.31deg,#85bddf 57.45deg,#4b9dce 57.59deg,#8dc1e1 57.73deg,#95c5e3 57.87deg,#8dc1e1 58.01deg,#4c9dce 58.15deg,#57a4d2 58.29deg,#71b2d9 58.43deg,#73b3da 58.57deg,#5ea8d4 58.71deg,#71b2d9 58.85deg,#65abd6 58.99deg,#3e95c9 59.13deg,#57a4d2 59.27deg,#3c93c8 59.41deg,#bbd9ee 59.55deg,#fff 59.55deg,#fff 61.08deg,#6fb1d9 61.08deg,#62a9d5 61.22deg,#53a1d1 61.36deg,#6baed8 61.50deg,#4fa0d0 61.64deg,#85bcdf 61.79deg,#53a1d1 61.93deg,#57a4d2 62.07deg,#64abd6 62.21deg,#93c4e3 62.35deg,#70b1d9 62.49deg,#5aa6d3 62.63deg,#89bfe0 62.77deg,#91c3e3 62.91deg,#71b2d9 63.06deg,#84bcdf 63.20deg,#78b6dc 63.34deg,#98c6e4 63.48deg,#90c2e2 63.62deg,#abd0e9 63.76deg,#a6cee8 63.90deg,#70b1d9 64.04deg,#98c6e4 64.18deg,#a0cbe7 64.33deg,#b6d7ec 64.47deg,#aed2ea 64.61deg,#b7d7ec 64.75deg,#b9d8ed 64.89deg,#c2ddef 65.03deg,#cee4f3 65.17deg,#e0edf8 65.31deg,#cce3f2 65.45deg,#c7e0f1 65.60deg,#d0e4f3 65.74deg,#dbebf6 65.88deg,#d6e8f5 66.02deg,#dcebf7 66.16deg,#cee4f3 66.30deg,#ebf4fb 66.44deg,#ebf4fb 66.58deg,#dbeaf6 66.72deg,#cae2f2 66.87deg,#eff6fc 67.01deg,#d8e9f5 67.15deg,#e9f2fa 67.29deg,#d5e8f5 67.43deg,#f5f9fd 67.57deg,#f0f6fc 67.71deg,#dcebf7 67.85deg,#e2eef8 67.99deg,#f0f6fc 68.14deg,#edf5fb 68.28deg,#e7f1fa 68.42deg,#ddecf7 68.56deg,#e7f1fa 68.70deg,#dfedf8 68.84deg,#cfe4f3 68.98deg,#deecf7 69.12deg,#eff6fc 69.26deg,#e6f1f9 69.41deg,#cde3f2 69.55deg,#e9f2fa 69.69deg,#d8e9f6 69.83deg,#fdfeff 69.97deg,#f4f9fd 70.11deg,#f3f8fd 70.25deg,#e3eff8 70.39deg,#eff6fc 70.53deg,#fbfdfe 70.68deg,#f3f8fc 70.82deg,#ebf3fb 70.96deg,#f0f6fc 71.10deg,#f6fafd 71.24deg,#f6fafd 71.38deg,#eff6fc 71.52deg,#f5f9fd 71.66deg,#f9fcfe 71.80deg,#f7fbfd 71.95deg,#f5f9fd 72.09deg,#cfe4f3 72.23deg,#e8f2fa 72.37deg,#d0e5f3 72.51deg,#deecf7 72.65deg,#ecf4fb 72.79deg,#dbeaf6 72.93deg,#ffffff 73.07deg,#ddecf7 73.22deg,#e3eff9 73.36deg,#cde3f2 73.50deg,#fbfdfe 73.64deg,#e5f0f9 73.78deg,#d4e7f4 73.92deg,#d9e9f6 74.06deg,#f0f6fc 74.20deg,#f0f6fc 74.34deg,#cee4f3 74.49deg,#d5e7f5 74.63deg,#bad9ed 74.77deg,#d7e9f5 74.91deg,#e1eef8 75.05deg,#dbebf6 75.19deg,#c5def0 75.33deg,#dfedf7 75.47deg,#a1cce7 75.61deg,#a3cce7 75.76deg,#bad9ed 75.90deg,#add2ea 76.04deg,#91c3e3 76.18deg,#9dc9e6 76.32deg,#d3e6f4 76.46deg,#acd1e9 76.60deg,#b9d8ed 76.74deg,#8fc2e2 76.88deg,#7db8dd 77.03deg,#99c7e5 77.17deg,#57a4d2 77.31deg,#87bee0 77.45deg,#5ea8d4 77.59deg,#7ab6dc 77.73deg,#69aed7 77.87deg,#50a0d0 78.01deg,#85bcdf 78.15deg,#61a9d5 78.30deg,#75b4db 78.44deg,#60a8d4 78.58deg,#3e95c9 78.72deg,#5fa8d4 78.86deg,#fff 78.86deg,#fff 80.39deg,#5da7d4 80.39deg,#7ab7dc 80.53deg,#54a2d1 80.67deg,#94c4e3 80.81deg,#5aa5d3 80.95deg,#92c3e3 81.09deg,#85bddf 81.23deg,#74b3da 81.37deg,#8fc2e2 81.51deg,#8bbfe1 81.65deg,#b2d5eb 81.79deg,#96c5e4 81.93deg,#99c7e5 82.07deg,#bad9ed 82.21deg,#97c6e4 82.35deg,#daeaf6 82.49deg,#9fcae6 82.63deg,#a5cee8 82.77deg,#cce3f2 82.91deg,#c4def0 83.05deg,#d5e7f5 83.20deg,#e7f1fa 83.34deg,#bddaee 83.48deg,#f6fafd 83.62deg,#edf4fb 83.76deg,#e2eef8 83.90deg,#f9fcfe 84.04deg,#cce2f2 84.18deg,#eaf3fa 84.32deg,#f0f7fc 84.46deg,#ffffff 84.60deg,#fcfdfe 84.74deg,#f6fafd 84.88deg,#f3f8fd 85.02deg,#f7fafd 85.16deg,#eff6fc 85.30deg,#f6fafd 85.44deg,#f3f8fc 85.58deg,#f0f6fc 85.72deg,#f6fafd 85.86deg,#f0f6fc 86.00deg,#eff6fc 86.14deg,#fbfdfe 86.28deg,#f5f9fd 86.42deg,#daeaf6 86.56deg,#ebf3fb 86.71deg,#f7fafd 86.85deg,#f9fcfe 86.99deg,#e7f1fa 87.13deg,#f9fbfe 87.27deg,#dfedf7 87.41deg,#ffffff 87.55deg,#edf5fb 87.69deg,#f6fafd 87.83deg,#e9f3fa 87.97deg,#f2f7fc 88.11deg,#dcebf7 88.25deg,#f2f8fc 88.39deg,#e7f1fa 88.53deg,#e1eef8 88.67deg,#ebf3fb 88.81deg,#f7fafd 88.95deg,#f2f7fc 89.09deg,#f3f8fd 89.23deg,#e6f0f9 89.37deg,#e8f2fa 89.51deg,#d7e9f5 89.65deg,#afd3eb 89.79deg,#cae1f2 89.93deg,#deecf7 90.07deg,#bddaee 90.21deg,#cfe4f3 90.36deg,#99c7e5 90.50deg,#c0dcef 90.64deg,#c4def0 90.78deg,#b6d7ec 90.92deg,#98c7e4 91.06deg,#5fa8d4 91.20deg,#76b4db 91.34deg,#74b3da 91.48deg,#58a5d2 91.62deg,#79b6dc 91.76deg,#68add7 91.90deg,#4f9fd0 92.04deg,#52a1d0 92.18deg,#4f9fd0 92.32deg,#4c9dce 92.46deg,#54a2d1 92.60deg,#51a1d0 92.74deg,#75b4db 92.88deg,#4599cc 93.02deg,#7bb7dc 93.16deg,#73b3da 93.30deg,#63aad5 93.44deg,#78b5db 93.58deg,#7cb8dd 93.72deg,#78b5db 93.87deg,#4c9ecf 94.01deg,#71b2d9 94.15deg,#4c9ecf 94.29deg,#7eb9dd 94.43deg,#79b6dc 94.57deg,#4e9fcf 94.71deg,#fff 94.71deg,#fff 96.24deg,#68add7 96.24deg,#4f9fd0 96.38deg,#50a0d0 96.52deg,#5ba6d3 96.66deg,#61a9d5 96.80deg,#65abd6 96.94deg,#68add7 97.08deg,#65abd6 97.22deg,#4a9cce 97.36deg,#4f9fd0 97.50deg,#5ea8d4 97.64deg,#50a0d0 97.78deg,#469acc 97.92deg,#4498cb 98.06deg,#4f9fd0 98.20deg,#308cc4 98.35deg,#3b93c8 98.49deg,#499ccd 98.63deg,#79b6dc 98.77deg,#4096ca 98.91deg,#8fc2e2 99.05deg,#54a2d1 99.19deg,#5da7d4 99.33deg,#93c4e3 99.47deg,#76b4db 99.61deg,#90c2e2 99.75deg,#8abfe0 99.89deg,#87bde0 100.03deg,#a0cbe6 100.17deg,#83bbdf 100.31deg,#8abfe1 100.45deg,#b7d7ed 100.60deg,#abd0e9 100.74deg,#afd3ea 100.88deg,#b6d6ec 101.02deg,#cee3f3 101.16deg,#e8f2fa 101.30deg,#e5f0f9 101.44deg,#d0e5f3 101.58deg,#d6e8f5 101.72deg,#e3eff8 101.86deg,#dbebf6 102.00deg,#e5f0f9 102.14deg,#bfdbef 102.28deg,#ecf4fb 102.42deg,#f1f7fc 102.56deg,#eff6fc 102.71deg,#ecf4fb 102.85deg,#f6fafd 102.99deg,#f1f7fc 103.13deg,#fafcfe 103.27deg,#eff6fc 103.41deg,#dbebf6 103.55deg,#eef5fb 103.69deg,#f4f8fd 103.83deg,#ffffff 103.97deg,#d9eaf6 104.11deg,#ddecf7 104.25deg,#f4f9fd 104.39deg,#ebf4fb 104.53deg,#edf5fb 104.67deg,#d3e6f4 104.82deg,#fafcfe 104.96deg,#ffffff 105.10deg,#f9fcfe 105.24deg,#ecf4fb 105.38deg,#ebf4fb 105.52deg,#f0f6fc 105.66deg,#e8f2fa 105.80deg,#f1f7fc 105.94deg,#cee3f3 106.08deg,#e7f2fa 106.22deg,#eff6fc 106.36deg,#f6fafd 106.50deg,#eff6fc 106.64deg,#d4e7f4 106.78deg,#d0e5f3 106.92deg,#fbfdfe 107.07deg,#e6f1f9 107.21deg,#f4f9fd 107.35deg,#dfedf7 107.49deg,#e7f1f9 107.63deg,#d4e7f4 107.77deg,#d9e9f6 107.91deg,#eef5fb 108.05deg,#e5f0f9 108.19deg,#bcdaee 108.33deg,#c1ddef 108.47deg,#d6e8f5 108.61deg,#e1eef8 108.75deg,#e8f2fa 108.89deg,#b9d8ed 109.03deg,#eef5fb 109.18deg,#e8f2fa 109.32deg,#d1e5f3 109.46deg,#cae1f2 109.60deg,#daeaf6 109.74deg,#a7cfe8 109.88deg,#bbd9ee 110.02deg,#f9fcfe 110.16deg,#c3def0 110.30deg,#e2eff8 110.44deg,#d8e9f6 110.58deg,#d4e7f4 110.72deg,#c8e0f1 110.86deg,#cbe2f2 111.00deg,#9bc8e5 111.14deg,#cde3f2 111.29deg,#a4cde8 111.43deg,#b9d8ed 111.57deg,#bedbef 111.71deg,#cde3f2 111.85deg,#cce2f2 111.99deg,#cae1f2 112.13deg,#cfe4f3 112.27deg,#c8e0f1 112.41deg,#b5d6ec 112.55deg,#d7e8f5 112.69deg,#c2ddef 112.83deg,#e5f0f9 112.97deg,#c9e1f1 113.11deg,#b9d8ed 113.25deg,#bcdaee 113.39deg,#c8e0f1 113.54deg,#a2cce7 113.68deg,#fff 113.68deg,#fff 115.20deg,#88bee0 115.20deg,#4a9cce 115.35deg,#469acc 115.49deg,#50a0d0 115.63deg,#60a8d4 115.77deg,#5ea8d4 115.91deg,#4599cc 116.05deg,#88bee0 116.19deg,#55a2d1 116.33deg,#70b1d9 116.47deg,#89bee0 116.61deg,#8fc2e2 116.76deg,#85bddf 116.90deg,#74b3da 117.04deg,#5fa8d4 117.18deg,#71b2d9 117.32deg,#9dc9e6 117.46deg,#b5d6ec 117.60deg,#87bde0 117.74deg,#8bc0e1 117.88deg,#8fc2e2 118.02deg,#bbd9ee 118.17deg,#bcdaee 118.31deg,#81bade 118.45deg,#a8cfe9 118.59deg,#cee4f3 118.73deg,#deecf7 118.87deg,#a2cce7 119.01deg,#d4e7f4 119.15deg,#b0d3eb 119.29deg,#f6fafd 119.43deg,#cde3f2 119.58deg,#cde3f3 119.72deg,#d0e5f3 119.86deg,#edf5fb 120.00deg,#e7f2fa 120.14deg,#e2eef8 120.28deg,#e8f2fa 120.42deg,#dcebf7 120.56deg,#f1f7fc 120.70deg,#e4f0f9 120.84deg,#e9f2fa 120.99deg,#daeaf6 121.13deg,#deecf7 121.27deg,#f4f9fd 121.41deg,#eef5fb 121.55deg,#d9eaf6 121.69deg,#e0eef8 121.83deg,#dcebf7 121.97deg,#dfedf7 122.11deg,#ddecf7 122.25deg,#f2f7fc 122.40deg,#fcfdfe 122.54deg,#f2f8fc 122.68deg,#f1f7fc 122.82deg,#f8fbfd 122.96deg,#f0f6fc 123.10deg,#dbebf6 123.24deg,#f8fbfd 123.38deg,#f2f8fc 123.52deg,#f3f8fd 123.66deg,#fdfeff 123.81deg,#edf4fb 123.95deg,#eef5fb 124.09deg,#c9e1f1 124.23deg,#c7e0f1 124.37deg,#f4f9fd 124.51deg,#e7f1fa 124.65deg,#e5f0f9 124.79deg,#ffffff 124.93deg,#e2eef8 125.08deg,#bfdbef 125.22deg,#cee4f3 125.36deg,#b3d5ec 125.50deg,#d5e7f5 125.64deg,#d3e6f4 125.78deg,#c1dcef 125.92deg,#b0d4eb 126.06deg,#b8d8ed 126.20deg,#c4def0 126.34deg,#bcdaee 126.49deg,#79b6dc 126.63deg,#84bcdf 126.77deg,#62a9d5 126.91deg,#96c6e4 127.05deg,#6aaed7 127.19deg,#52a1d1 127.33deg,#7eb8dd 127.47deg,#4096ca 127.61deg,#81bbde 127.75deg,#7eb9dd 127.90deg,#54a2d1 128.04deg,#6aaed7 128.18deg,#6aaed7 128.32deg,#5ba6d3 128.46deg,#75b4db 128.60deg,#4499cc 128.74deg,#50a0d0 128.88deg,#308cc4 129.02deg,#4197ca 129.16deg,#64abd6 129.31deg,#74b3da 129.45deg,#70b1d9 129.59deg,#55a3d1 129.73deg,#469acc 129.87deg,#55a2d1 130.01deg,#74b3da 130.15deg,#499bcd 130.29deg,#95c5e3 130.43deg,#fff 130.43deg,#fff 131.96deg,#62aad5 131.96deg,#4599cc 132.10deg,#5ea7d4 132.24deg,#489bcd 132.38deg,#5ea8d4 132.52deg,#4e9fcf 132.66deg,#6cafd8 132.80deg,#86bddf 132.94deg,#9ecae6 133.08deg,#5fa8d4 133.22deg,#58a4d2 133.36deg,#63aad6 133.50deg,#4498cb 133.64deg,#91c3e2 133.78deg,#51a1d0 133.92deg,#4a9cce 134.06deg,#89bee0 134.20deg,#52a1d0 134.34deg,#71b2d9 134.49deg,#96c5e4 134.63deg,#8cc0e1 134.77deg,#6fb1d9 134.91deg,#a8cfe9 135.05deg,#94c4e3 135.19deg,#93c4e3 135.33deg,#c5dff0 135.47deg,#9ecae6 135.61deg,#c3def0 135.75deg,#d0e4f3 135.89deg,#afd3ea 136.03deg,#a6cee8 136.17deg,#bedbee 136.31deg,#cae1f2 136.45deg,#d0e5f3 136.59deg,#d5e8f5 136.73deg,#d9eaf6 136.87deg,#cce2f2 137.01deg,#d1e5f4 137.15deg,#ebf4fb 137.29deg,#dcebf7 137.43deg,#e2eef8 137.57deg,#c6dff1 137.71deg,#daeaf6 137.85deg,#f2f7fc 137.99deg,#cee3f3 138.13deg,#e6f0f9 138.27deg,#f9fbfe 138.41deg,#e6f1f9 138.55deg,#f5f9fd 138.69deg,#feffff 138.83deg,#f0f6fc 138.97deg,#fcfdfe 139.11deg,#f2f7fc 139.25deg,#f5f9fd 139.39deg,#ffffff 139.53deg,#d5e8f5 139.67deg,#ecf4fb 139.81deg,#fcfdfe 139.95deg,#cfe4f3 140.09deg,#e1eef8 140.23deg,#ebf4fb 140.37deg,#f3f8fd 140.51deg,#e6f1f9 140.65deg,#f1f7fc 140.79deg,#bcdaee 140.93deg,#cae1f2 141.07deg,#b9d8ed 141.21deg,#d8e9f6 141.36deg,#e8f2fa 141.50deg,#deecf7 141.64deg,#ecf4fb 141.78deg,#e6f1f9 141.92deg,#f4f8fd 142.06deg,#b3d5ec 142.20deg,#c8e0f1 142.34deg,#bddaee 142.48deg,#cae2f2 142.62deg,#f2f7fc 142.76deg,#cbe2f2 142.90deg,#b1d4eb 143.04deg,#b5d6ec 143.18deg,#d4e7f5 143.32deg,#b7d7ed 143.46deg,#bedbef 143.60deg,#9ecae6 143.74deg,#bcdaee 143.88deg,#a5cde8 144.02deg,#7bb7dc 144.16deg,#a5cde8 144.30deg,#a2cce7 144.44deg,#4e9fcf 144.58deg,#8dc1e1 144.72deg,#4a9cce 144.86deg,#98c7e4 145.00deg,#6aaed7 145.14deg,#6eb0d9 145.28deg,#55a3d1 145.42deg,#71b1d9 145.56deg,#5fa8d4 145.70deg,#4fa0d0 145.84deg,#69aed7 145.98deg,#74b3da 146.12deg,#61a9d5 146.26deg,#5ca6d3 146.40deg,#4e9ecf 146.54deg,#6dafd8 146.68deg,#63aad5 146.82deg,#4b9dce 146.96deg,#63aad6 147.10deg,#6aaed7 147.24deg,#4096ca 147.38deg,#83bbdf 147.52deg,#6cafd8 147.66deg,#3c94c9 147.80deg,#5ea7d4 147.94deg,#5ba6d3 148.08deg,#479acd 148.23deg,#fff 148.23deg,#fff 149.75deg,#61a9d5 149.75deg,#4499cc 149.89deg,#4e9fcf 150.03deg,#5ea8d4 150.17deg,#73b3da 150.32deg,#7cb8dd 150.46deg,#6eb0d9 150.60deg,#3690c6 150.74deg,#5aa6d3 150.88deg,#add2ea 151.02deg,#499ccd 151.16deg,#9ac8e5 151.30deg,#a8cfe8 151.44deg,#4b9dce 151.58deg,#6eb0d9 151.72deg,#99c7e4 151.86deg,#98c6e4 152.00deg,#4d9ecf 152.14deg,#8cc0e1 152.28deg,#86bddf 152.42deg,#bcdaee 152.56deg,#c0dcef 152.70deg,#ebf3fb 152.84deg,#aad0e9 152.98deg,#a2cce7 153.12deg,#bbd9ee 153.26deg,#b2d5eb 153.41deg,#a2cce7 153.55deg,#98c7e4 153.69deg,#cfe4f3 153.83deg,#d0e5f3 153.97deg,#d1e5f4 154.11deg,#d4e7f4 154.25deg,#d8e9f5 154.39deg,#e9f2fa 154.53deg,#d1e5f3 154.67deg,#bddaee 154.81deg,#f0f6fc 154.95deg,#c6dff1 155.09deg,#cee4f3 155.23deg,#eff6fc 155.37deg,#edf4fb 155.51deg,#e2eff8 155.65deg,#ecf4fb 155.79deg,#f4f9fd 155.93deg,#eef5fb 156.07deg,#e5f0f9 156.21deg,#ddecf7 156.36deg,#afd3ea 156.50deg,#f5f9fd 156.64deg,#eef5fb 156.78deg,#dbebf6 156.92deg,#ffffff 157.06deg,#eff6fc 157.20deg,#e9f2fa 157.34deg,#eff6fc 157.48deg,#deecf7 157.62deg,#e0edf8 157.76deg,#fafcfe 157.90deg,#f2f7fc 158.04deg,#fafcfe 158.18deg,#f0f6fc 158.32deg,#daeaf6 158.46deg,#eaf3fa 158.60deg,#d8e9f5 158.74deg,#f1f7fc 158.88deg,#dcebf7 159.02deg,#d8e9f6 159.16deg,#d3e6f4 159.31deg,#cfe4f3 159.45deg,#c7dff1 159.59deg,#d7e9f5 159.73deg,#dcebf7 159.87deg,#edf5fb 160.01deg,#d3e6f4 160.15deg,#b7d7ed 160.29deg,#e6f1f9 160.43deg,#eef5fb 160.57deg,#ecf4fb 160.71deg,#d0e5f3 160.85deg,#e4f0f9 160.99deg,#daeaf6 161.13deg,#a0cbe6 161.27deg,#d1e5f4 161.41deg,#b7d7ed 161.55deg,#b7d7ed 161.69deg,#aed2ea 161.83deg,#b5d6ec 161.97deg,#c2ddef 162.11deg,#87bde0 162.26deg,#c0dcef 162.40deg,#9fcae6 162.54deg,#b2d5eb 162.68deg,#93c4e3 162.82deg,#7eb8dd 162.96deg,#99c7e5 163.10deg,#7cb8dd 163.24deg,#53a2d1 163.38deg,#83bcdf 163.52deg,#72b2da 163.66deg,#66acd6 163.80deg,#71b2d9 163.94deg,#9bc8e5 164.08deg,#80bade 164.22deg,#70b1d9 164.36deg,#5fa8d4 164.50deg,#59a5d3 164.64deg,#73b3da 164.78deg,#84bcdf 164.92deg,#60a9d5 165.06deg,#57a4d2 165.21deg,#70b1d9 165.35deg,#68add7 165.49deg,#4599cc 165.63deg,#4b9dce 165.77deg,#4d9ecf 165.91deg,#4f9fd0 166.05deg,#59a5d3 166.19deg,#50a0d0 166.33deg,#60a9d5 166.47deg,#69add7 166.61deg,#4a9cce 166.75deg,#64aad6 166.89deg,#fff 166.89deg,#fff 168.42deg,#8ec1e2 168.42deg,#a7cfe8 168.56deg,#8cc0e1 168.70deg,#86bddf 168.84deg,#b5d6ec 168.98deg,#77b5db 169.12deg,#e1eef8 169.26deg,#99c7e5 169.40deg,#86bddf 169.54deg,#bddaee 169.68deg,#b5d6ec 169.82deg,#afd3ea 169.96deg,#95c5e4 170.10deg,#82bbde 170.24deg,#9ecae6 170.38deg,#d9eaf6 170.52deg,#a2cce7 170.66deg,#bcdaee 170.80deg,#cbe2f2 170.94deg,#ddecf7 171.08deg,#d8e9f5 171.22deg,#70b1d9 171.36deg,#aad0e9 171.50deg,#d9eaf6 171.64deg,#d0e5f3 171.78deg,#ddecf7 171.92deg,#c0dcef 172.06deg,#d1e5f4 172.20deg,#dcebf7 172.34deg,#e2eff8 172.48deg,#e3eff8 172.62deg,#bad9ed 172.76deg,#e2eff8 172.90deg,#d0e5f3 173.04deg,#eff6fc 173.18deg,#d0e5f3 173.32deg,#eef5fb 173.46deg,#f3f8fc 173.60deg,#fafcfe 173.74deg,#e5f0f9 173.88deg,#d9e9f6 174.02deg,#add2ea 174.16deg,#c4def0 174.30deg,#e6f1f9 174.44deg,#f2f8fc 174.58deg,#eff5fc 174.72deg,#e1eef8 174.86deg,#ebf3fb 175.00deg,#e2eef8 175.14deg,#f9fbfe 175.28deg,#ebf3fb 175.42deg,#edf5fb 175.56deg,#f7fbfd 175.70deg,#f8fbfe 175.84deg,#f1f7fc 175.98deg,#eef5fc 176.12deg,#ebf3fb 176.26deg,#fdfeff 176.40deg,#dcebf7 176.54deg,#f3f8fd 176.68deg,#eff6fc 176.82deg,#eff6fc 176.96deg,#f3f8fc 177.10deg,#f0f7fc 177.24deg,#eff6fc 177.38deg,#edf5fb 177.52deg,#f2f8fc 177.67deg,#ecf4fb 177.81deg,#e2eff8 177.95deg,#f5f9fd 178.09deg,#d2e6f4 178.23deg,#ebf3fb 178.37deg,#f7fafd 178.51deg,#f4f9fd 178.65deg,#f6fafd 178.79deg,#f3f8fc 178.93deg,#eaf3fa 179.07deg,#f4f9fd 179.21deg,#eff6fc 179.35deg,#c7dff1 179.49deg,#f0f7fc 179.63deg,#e8f2fa 179.77deg,#c0dcef 179.91deg,#e7f1fa 180.05deg,#e6f1f9 180.19deg,#cde3f3 180.33deg,#d7e9f5 180.47deg,#d3e6f4 180.61deg,#deecf7 180.75deg,#ddecf7 180.89deg,#daeaf6 181.03deg,#d7e9f5 181.17deg,#d1e5f4 181.31deg,#bedbee 181.45deg,#bedbee 181.59deg,#bedbee 181.73deg,#a6cee8 181.87deg,#7db8dd 182.01deg,#6aaed7 182.15deg,#7eb9dd 182.29deg,#6fb1d9 182.43deg,#6cafd8 182.57deg,#5ba6d3 182.71deg,#79b6dc 182.85deg,#4f9fcf 182.99deg,#4c9ecf 183.13deg,#50a0d0 183.27deg,#84bcdf 183.41deg,#67acd6 183.55deg,#92c3e3 183.69deg,#65abd6 183.83deg,#75b4db 183.97deg,#4f9fd0 184.11deg,#89bee0 184.25deg,#50a0d0 184.39deg,#57a4d2 184.53deg,#69add7 184.67deg,#5ca6d3 184.81deg,#479bcd 184.95deg,#81bade 185.09deg,#66acd6 185.23deg,#469acc 185.37deg,#a0cbe6 185.51deg,#4c9ecf 185.65deg,#51a1d0 185.79deg,#90c2e2 185.93deg,#fff 185.93deg,#fff 187.46deg,#4398cb 187.46deg,#4a9dce 187.60deg,#4197cb 187.74deg,#4096ca 187.88deg,#78b5db 188.02deg,#52a1d1 188.16deg,#60a9d5 188.30deg,#76b5db 188.44deg,#4c9ecf 188.58deg,#6cafd8 188.72deg,#6cafd8 188.86deg,#66acd6 189.00deg,#63aad5 189.14deg,#4e9fcf 189.28deg,#4f9fd0 189.42deg,#63aad5 189.56deg,#56a3d2 189.70deg,#4e9fcf 189.84deg,#469acc 189.98deg,#9ac8e5 190.12deg,#5ca6d3 190.26deg,#72b2da 190.40deg,#5da7d4 190.54deg,#61a9d5 190.68deg,#7bb7dc 190.82deg,#72b2da 190.96deg,#66acd6 191.10deg,#59a5d3 191.24deg,#79b6dc 191.38deg,#9ac7e5 191.52deg,#69add7 191.66deg,#b7d7ec 191.80deg,#d2e6f4 191.94deg,#deecf7 192.08deg,#e8f2fa 192.22deg,#c0dcef 192.36deg,#c6dff0 192.50deg,#c1ddef 192.64deg,#eaf3fb 192.78deg,#fbfdfe 192.92deg,#cfe4f3 193.06deg,#eff6fc 193.20deg,#cfe4f3 193.34deg,#e2eff8 193.48deg,#fbfdfe 193.62deg,#eff6fc 193.76deg,#eef5fb 193.90deg,#d3e6f4 194.04deg,#d8e9f6 194.18deg,#f4f9fd 194.32deg,#e7f1fa 194.46deg,#d9e9f6 194.60deg,#deecf7 194.74deg,#d1e5f3 194.88deg,#d5e7f5 195.02deg,#e9f3fa 195.17deg,#f0f6fc 195.31deg,#cce2f2 195.45deg,#bfdbef 195.59deg,#c5dff0 195.73deg,#dfedf7 195.87deg,#d0e5f3 196.01deg,#b3d5ec 196.15deg,#e4f0f9 196.29deg,#84bcdf 196.43deg,#a4cde7 196.57deg,#bfdbef 196.71deg,#d4e7f4 196.85deg,#aad0e9 196.99deg,#cce2f2 197.13deg,#cae1f2 197.27deg,#90c2e2 197.41deg,#97c6e4 197.55deg,#a8cfe8 197.69deg,#aad0e9 197.83deg,#78b6dc 197.97deg,#a7cee8 198.11deg,#98c6e4 198.25deg,#6fb1d9 198.39deg,#bbd9ed 198.53deg,#b1d4eb 198.67deg,#86bddf 198.81deg,#92c3e3 198.95deg,#95c5e3 199.09deg,#80bade 199.23deg,#fff 199.23deg,#fff 200.76deg,#62aad5 200.76deg,#4b9dce 200.90deg,#65abd6 201.04deg,#77b5db 201.18deg,#4599cc 201.32deg,#7ab6dc 201.46deg,#68add7 201.60deg,#5ca7d3 201.74deg,#50a0d0 201.89deg,#58a4d2 202.03deg,#308cc4 202.17deg,#83bbdf 202.31deg,#74b3da 202.45deg,#5da7d4 202.59deg,#8dc1e1 202.73deg,#61a9d5 202.87deg,#85bddf 203.02deg,#9dc9e6 203.16deg,#86bddf 203.30deg,#8bbfe1 203.44deg,#a6cee8 203.58deg,#58a4d2 203.72deg,#57a4d2 203.86deg,#bbd9ee 204.00deg,#a8cfe9 204.15deg,#99c7e5 204.29deg,#7ab7dc 204.43deg,#9bc8e5 204.57deg,#9ac7e5 204.71deg,#a3cde7 204.85deg,#93c4e3 204.99deg,#afd3ea 205.13deg,#b9d8ed 205.28deg,#cde3f3 205.42deg,#b1d4eb 205.56deg,#eef5fb 205.70deg,#c4def0 205.84deg,#d4e7f4 205.98deg,#e2eef8 206.12deg,#e2eff8 206.26deg,#cde3f3 206.40deg,#d5e7f5 206.55deg,#dcebf7 206.69deg,#e1eef8 206.83deg,#afd3eb 206.97deg,#f5f9fd 207.11deg,#d7e8f5 207.25deg,#d8e9f5 207.39deg,#e7f1fa 207.53deg,#d7e8f5 207.68deg,#c4def0 207.82deg,#d9e9f6 207.96deg,#c6dff1 208.10deg,#c3def0 208.24deg,#dcebf7 208.38deg,#f0f6fc 208.52deg,#ddecf7 208.66deg,#ecf4fb 208.81deg,#e4f0f9 208.95deg,#ebf3fb 209.09deg,#ecf4fb 209.23deg,#eef5fb 209.37deg,#e0edf8 209.51deg,#d7e8f5 209.65deg,#e1eef8 209.79deg,#cee3f3 209.94deg,#e2eff8 210.08deg,#d9e9f6 210.22deg,#f0f6fc 210.36deg,#d7e8f5 210.50deg,#e4f0f9 210.64deg,#e3eff9 210.78deg,#d1e5f3 210.92deg,#c6dff1 211.06deg,#e0edf8 211.21deg,#d0e5f3 211.35deg,#cee3f3 211.49deg,#ddecf7 211.63deg,#dbebf6 211.77deg,#d9eaf6 211.91deg,#8cc0e1 212.05deg,#b7d7ed 212.19deg,#a1cce7 212.34deg,#bad9ed 212.48deg,#b0d4eb 212.62deg,#b2d5eb 212.76deg,#79b6dc 212.90deg,#76b4db 213.04deg,#59a5d3 213.18deg,#469acc 213.32deg,#6dafd8 213.47deg,#78b6db 213.61deg,#86bde0 213.75deg,#55a3d1 213.89deg,#7fb9dd 214.03deg,#489bcd 214.17deg,#3a92c8 214.31deg,#4297cb 214.45deg,#6db0d8 214.59deg,#fff 214.59deg,#fff 216.12deg,#c7dff1 216.12deg,#eaf3fa 216.26deg,#e7f1fa 216.41deg,#cae1f2 216.55deg,#eef5fb 216.69deg,#e4f0f9 216.83deg,#daeaf6 216.97deg,#d0e5f3 217.11deg,#d9e9f6 217.25deg,#eaf3fa 217.39deg,#eef5fb 217.53deg,#e7f1fa 217.68deg,#eef5fb 217.82deg,#eaf3fa 217.96deg,#cde3f3 218.10deg,#d7e9f5 218.24deg,#eef5fb 218.38deg,#ebf3fb 218.52deg,#e8f2fa 218.66deg,#f4f9fd 218.81deg,#e7f2fa 218.95deg,#e1eef8 219.09deg,#f3f8fd 219.23deg,#e5f0f9 219.37deg,#f3f8fc 219.51deg,#f2f7fc 219.65deg,#dcebf7 219.79deg,#eef5fb 219.94deg,#ddecf7 220.08deg,#eef5fb 220.22deg,#c0dcef 220.36deg,#c4def0 220.50deg,#bedbee 220.64deg,#b5d6ec 220.78deg,#b4d6ec 220.92deg,#c6dff1 221.07deg,#c4def0 221.21deg,#b7d7ec 221.35deg,#c7e0f1 221.49deg,#cae1f2 221.63deg,#b6d7ec 221.77deg,#a4cde8 221.91deg,#8ec1e2 222.05deg,#9fcae6 222.19deg,#acd1e9 222.34deg,#73b3da 222.48deg,#7eb9dd 222.62deg,#7ab7dc 222.76deg,#7db8dd 222.90deg,#63aad5 223.04deg,#9dc9e6 223.18deg,#bcdaee 223.32deg,#4a9cce 223.47deg,#6cafd8 223.61deg,#83bbdf 223.75deg,#94c4e3 223.89deg,#51a0d0 224.03deg,#8bc0e1 224.17deg,#4f9fd0 224.31deg,#62aad5 224.45deg,#7cb8dd 224.60deg,#63aad5 224.74deg,#328dc5 224.88deg,#86bddf 225.02deg,#75b4db 225.16deg,#5ba6d3 225.30deg,#77b5db 225.44deg,#479acd 225.58deg,#67acd7 225.72deg,#4f9fd0 225.87deg,#4f9fd0 226.01deg,#469acc 226.15deg,#4b9dce 226.29deg,#6eb0d9 226.43deg,#85bcdf 226.57deg,#6aaed7 226.71deg,#3e95c9 226.85deg,#b5d6ec 227.00deg,#4d9ecf 227.14deg,#4e9fcf 227.28deg,#53a2d1 227.42deg,#52a1d1 227.56deg,#4b9dce 227.70deg,#4b9dce 227.84deg,#5ca7d3 227.98deg,#84bcdf 228.13deg,#308cc4 228.27deg,#4398cb 228.41deg,#499ccd 228.55deg,#51a1d0 228.69deg,#5da7d4 228.83deg,#64aad6 228.97deg,#50a0d0 229.11deg,#499cce 229.25deg,#4599cc 229.40deg,#4e9fcf 229.54deg,#58a4d2 229.68deg,#62a9d5 229.82deg,#51a1d0 229.96deg,#73b3da 230.10deg,#64abd6 230.24deg,#77b5db 230.38deg,#7bb7dc 230.53deg,#68add7 230.67deg,#71b2d9 230.81deg,#4d9ecf 230.95deg,#54a2d1 231.09deg,#78b6dc 231.23deg,#67acd7 231.37deg,#4d9ecf 231.51deg,#a3cde7 231.66deg,#fff 231.66deg,#fff 233.18deg,#4a9cce 233.18deg,#4b9dce 233.32deg,#64abd6 233.47deg,#5ca6d3 233.61deg,#8fc2e2 233.75deg,#4e9fcf 233.89deg,#479acd 234.03deg,#6eb0d9 234.17deg,#88bee0 234.31deg,#79b6dc 234.45deg,#a0cbe7 234.59deg,#70b1d9 234.73deg,#7bb7dc 234.88deg,#86bde0 235.02deg,#8fc2e2 235.16deg,#70b1d9 235.30deg,#94c4e3 235.44deg,#bddaee 235.58deg,#5ea8d4 235.72deg,#b6d7ec 235.86deg,#b6d6ec 236.00deg,#a5cde8 236.14deg,#bbd9ee 236.29deg,#bddaee 236.43deg,#6baed8 236.57deg,#7eb9dd 236.71deg,#c5dff0 236.85deg,#c8e0f1 236.99deg,#bbd9ee 237.13deg,#9ac8e5 237.27deg,#b1d4eb 237.41deg,#cbe2f2 237.55deg,#daeaf6 237.70deg,#bddaee 237.84deg,#c9e1f1 237.98deg,#a4cde8 238.12deg,#d0e4f3 238.26deg,#bad9ed 238.40deg,#eaf3fb 238.54deg,#98c7e4 238.68deg,#d7e8f5 238.82deg,#eaf3fa 238.96deg,#daeaf6 239.11deg,#f6fafd 239.25deg,#e1eef8 239.39deg,#f6fafd 239.53deg,#f0f6fc 239.67deg,#ecf4fb 239.81deg,#daeaf6 239.95deg,#f0f7fc 240.09deg,#f9fbfe 240.23deg,#eff5fc 240.37deg,#f5f9fd 240.52deg,#e4eff9 240.66deg,#ecf4fb 240.80deg,#f5f9fd 240.94deg,#d2e6f4 241.08deg,#eff6fc 241.22deg,#f5f9fd 241.36deg,#fbfdfe 241.50deg,#f0f6fc 241.64deg,#f9fbfe 241.78deg,#edf4fb 241.93deg,#e5f0f9 242.07deg,#f6fafd 242.21deg,#f4f9fd 242.35deg,#f3f8fc 242.49deg,#e0edf8 242.63deg,#e3eff9 242.77deg,#e5f0f9 242.91deg,#eff6fc 243.05deg,#ecf4fb 243.19deg,#ffffff 243.34deg,#eff6fc 243.48deg,#d2e6f4 243.62deg,#f3f8fd 243.76deg,#e8f2fa 243.90deg,#e3eff9 244.04deg,#e3eff9 244.18deg,#d7e8f5 244.32deg,#ffffff 244.46deg,#fcfdfe 244.60deg,#e4eff9 244.75deg,#fcfdfe 244.89deg,#acd1ea 245.03deg,#f2f7fc 245.17deg,#d9eaf6 245.31deg,#e0edf8 245.45deg,#bddaee 245.59deg,#d6e8f5 245.73deg,#f5f9fd 245.87deg,#dcebf6 246.01deg,#daeaf6 246.16deg,#e9f2fa 246.30deg,#eaf3fa 246.44deg,#cae1f2 246.58deg,#d3e6f4 246.72deg,#d7e9f5 246.86deg,#d9e9f6 247.00deg,#c9e1f1 247.14deg,#a9d0e9 247.28deg,#c6dff1 247.42deg,#a0cbe6 247.57deg,#aad0e9 247.71deg,#88bee0 247.85deg,#90c2e2 247.99deg,#c5dff0 248.13deg,#c2ddef 248.27deg,#cbe2f2 248.41deg,#bfdcef 248.55deg,#9cc9e5 248.69deg,#b4d5ec 248.83deg,#88bee0 248.98deg,#86bddf 249.12deg,#99c7e5 249.26deg,#9ac8e5 249.40deg,#80bade 249.54deg,#aed3ea 249.68deg,#80bade 249.82deg,#fff 249.82deg,#fff 251.35deg,#56a3d2 251.35deg,#65abd6 251.49deg,#4d9ecf 251.63deg,#5aa5d3 251.77deg,#8cc0e1 251.91deg,#4096ca 252.05deg,#5da7d4 252.20deg,#469acc 252.34deg,#469acc 252.48deg,#82bbde 252.62deg,#4e9fcf 252.76deg,#489bcd 252.90deg,#4499cc 253.04deg,#57a4d2 253.18deg,#4d9ecf 253.32deg,#50a0d0 253.46deg,#83bbdf 253.60deg,#72b2da 253.75deg,#4197cb 253.89deg,#85bddf 254.03deg,#3891c7 254.17deg,#66acd6 254.31deg,#86bddf 254.45deg,#67add7 254.59deg,#67acd7 254.73deg,#5ba6d3 254.87deg,#66acd6 255.01deg,#aed2ea 255.16deg,#99c7e5 255.30deg,#9cc9e5 255.44deg,#74b4da 255.58deg,#6fb1d9 255.72deg,#59a5d2 255.86deg,#7eb9dd 256.00deg,#77b5db 256.14deg,#aad0e9 256.28deg,#b3d5ec 256.42deg,#a6cee8 256.56deg,#98c6e4 256.71deg,#bedbee 256.85deg,#99c7e5 256.99deg,#94c5e3 257.13deg,#aad0e9 257.27deg,#c2ddef 257.41deg,#aad0e9 257.55deg,#96c5e4 257.69deg,#b6d6ec 257.83deg,#c5dff0 257.97deg,#e2eef8 258.12deg,#acd1ea 258.26deg,#afd3ea 258.40deg,#e0eef8 258.54deg,#bfdbef 258.68deg,#e7f1fa 258.82deg,#f4f9fd 258.96deg,#daeaf6 259.10deg,#d1e5f4 259.24deg,#e2eef8 259.38deg,#f1f7fc 259.52deg,#f9fcfe 259.67deg,#daeaf6 259.81deg,#e0edf8 259.95deg,#eff6fc 260.09deg,#f0f6fc 260.23deg,#edf4fb 260.37deg,#f3f8fc 260.51deg,#eff6fc 260.65deg,#d5e7f5 260.79deg,#fbfcfe 260.93deg,#eff6fc 261.08deg,#e5f0f9 261.22deg,#d1e5f4 261.36deg,#f2f8fc 261.50deg,#cae1f2 261.64deg,#e5f0f9 261.78deg,#fdfeff 261.92deg,#feffff 262.06deg,#f8fbfd 262.20deg,#ecf4fb 262.34deg,#e6f1f9 262.48deg,#b9d8ed 262.63deg,#d8e9f5 262.77deg,#eef5fb 262.91deg,#f3f8fc 263.05deg,#f1f7fc 263.19deg,#fafcfe 263.33deg,#f7fafd 263.47deg,#f2f7fc 263.61deg,#fafcfe 263.75deg,#eef5fb 263.89deg,#f4f8fd 264.04deg,#f4f9fd 264.18deg,#e2eef8 264.32deg,#e5f0f9 264.46deg,#eef5fc 264.60deg,#ecf4fb 264.74deg,#f0f6fc 264.88deg,#e5f0f9 265.02deg,#e7f1fa 265.16deg,#f2f8fc 265.30deg,#e0edf8 265.44deg,#ebf4fb 265.59deg,#c0dcef 265.73deg,#f1f7fc 265.87deg,#d3e6f4 266.01deg,#d3e6f4 266.15deg,#f5f9fd 266.29deg,#d3e6f4 266.43deg,#e5f0f9 266.57deg,#ebf4fb 266.71deg,#d1e5f3 266.85deg,#d2e6f4 267.00deg,#d7e8f5 267.14deg,#ecf4fb 267.28deg,#e5f0f9 267.42deg,#b9d8ed 267.56deg,#dfedf7 267.70deg,#b8d7ed 267.84deg,#bedbee 267.98deg,#a7cee8 268.12deg,#a2cce7 268.26deg,#bad8ed 268.40deg,#d3e6f4 268.55deg,#b4d5ec 268.69deg,#c3def0 268.83deg,#90c3e2 268.97deg,#fff 268.97deg,#fff 270.50deg,#70b1d9 270.50deg,#4297cb 270.64deg,#90c2e2 270.78deg,#4fa0d0 270.92deg,#85bddf 271.06deg,#57a4d2 271.20deg,#8ec1e2 271.34deg,#66acd6 271.48deg,#499bcd 271.62deg,#59a5d2 271.76deg,#8ec1e2 271.90deg,#a7cfe8 272.04deg,#84bcdf 272.18deg,#a9cfe9 272.32deg,#4b9dce 272.46deg,#94c4e3 272.60deg,#bddaee 272.74deg,#bad8ed 272.88deg,#9ecae6 273.02deg,#e0edf8 273.16deg,#d4e7f4 273.30deg,#a7cee8 273.44deg,#d1e5f4 273.58deg,#dfedf7 273.72deg,#cfe4f3 273.86deg,#e4f0f9 274.01deg,#d5e7f5 274.15deg,#f5f9fd 274.29deg,#ecf4fb 274.43deg,#eff6fc 274.57deg,#e4f0f9 274.71deg,#e5f0f9 274.85deg,#dcebf7 274.99deg,#f0f6fc 275.13deg,#eef5fb 275.27deg,#d3e6f4 275.41deg,#eef5fb 275.55deg,#e8f2fa 275.69deg,#e3eff9 275.83deg,#ddecf7 275.97deg,#ddecf7 276.11deg,#eef5fb 276.25deg,#ebf4fb 276.39deg,#f4f8fd 276.53deg,#dfedf7 276.67deg,#eaf3fa 276.81deg,#f5f9fd 276.95deg,#eef5fb 277.09deg,#c5dff0 277.23deg,#d4e7f4 277.37deg,#eff6fc 277.51deg,#cce2f2 277.65deg,#e9f2fa 277.79deg,#cee4f3 277.93deg,#d7e8f5 278.07deg,#e5f0f9 278.22deg,#d6e8f5 278.36deg,#c6dff1 278.50deg,#cae1f2 278.64deg,#c6dff1 278.78deg,#e4f0f9 278.92deg,#bfdbef 279.06deg,#ddecf7 279.20deg,#b5d6ec 279.34deg,#b5d6ec 279.48deg,#add2ea 279.62deg,#99c7e5 279.76deg,#9ac8e5 279.90deg,#68add7 280.04deg,#93c4e3 280.18deg,#7fb9dd 280.32deg,#c0dcef 280.46deg,#82bbde 280.60deg,#a5cde8 280.74deg,#61a9d5 280.88deg,#a4cde7 281.02deg,#6aaed7 281.16deg,#8cc0e1 281.30deg,#68add7 281.44deg,#6baed8 281.58deg,#59a5d3 281.72deg,#4e9fcf 281.86deg,#7fb9dd 282.00deg,#81bade 282.14deg,#6fb1d9 282.29deg,#4398cb 282.43deg,#a5cde8 282.57deg,#c6dff1 282.71deg,#6cafd8 282.85deg,#50a0d0 282.99deg,#4a9cce 283.13deg,#56a3d2 283.27deg,#4e9fcf 283.41deg,#fff 283.41deg,#fff 284.94deg,#59a5d3 284.94deg,#499ccd 285.08deg,#4e9fcf 285.22deg,#65abd6 285.36deg,#8ec1e2 285.50deg,#52a1d0 285.64deg,#4d9ecf 285.78deg,#6dafd8 285.92deg,#4f9fd0 286.06deg,#83bbdf 286.20deg,#51a1d0 286.34deg,#58a4d2 286.48deg,#64abd6 286.62deg,#489bcd 286.76deg,#4f9fcf 286.90deg,#7cb8dd 287.04deg,#4e9fcf 287.18deg,#94c4e3 287.32deg,#5ba6d3 287.47deg,#93c4e3 287.61deg,#6aaed7 287.75deg,#8abfe0 287.89deg,#68add7 288.03deg,#50a0d0 288.17deg,#aad0e9 288.31deg,#83bbdf 288.45deg,#bcdaee 288.59deg,#a3cde7 288.73deg,#9ecae6 288.87deg,#b6d6ec 289.01deg,#c4def0 289.15deg,#cbe2f2 289.29deg,#c4def0 289.43deg,#c8e0f1 289.57deg,#dfedf7 289.71deg,#e6f1f9 289.85deg,#f0f6fc 290.00deg,#ebf4fb 290.14deg,#eff6fc 290.28deg,#f2f7fc 290.42deg,#dcebf7 290.56deg,#ecf4fb 290.70deg,#d0e4f3 290.84deg,#d4e7f4 290.98deg,#e9f2fa 291.12deg,#f1f7fc 291.26deg,#cde3f2 291.40deg,#edf4fb 291.54deg,#ebf3fb 291.68deg,#d1e5f4 291.82deg,#f0f6fc 291.96deg,#f3f8fc 292.10deg,#e5f0f9 292.24deg,#dbebf6 292.38deg,#e8f2fa 292.53deg,#e8f2fa 292.67deg,#feffff 292.81deg,#e7f1fa 292.95deg,#eff6fc 293.09deg,#edf4fb 293.23deg,#f0f6fc 293.37deg,#dfedf7 293.51deg,#d9e9f6 293.65deg,#daeaf6 293.79deg,#fafcfe 293.93deg,#d1e5f4 294.07deg,#e0eef8 294.21deg,#d6e8f5 294.35deg,#d8e9f6 294.49deg,#e8f2fa 294.63deg,#e2eff8 294.77deg,#c4def0 294.91deg,#eaf3fa 295.05deg,#c5dff0 295.20deg,#c5dff0 295.34deg,#b6d6ec 295.48deg,#b7d7ed 295.62deg,#b7d7ed 295.76deg,#d5e8f5 295.90deg,#deecf7 296.04deg,#e0edf8 296.18deg,#b1d4eb 296.32deg,#9cc9e5 296.46deg,#92c3e3 296.60deg,#add2ea 296.74deg,#9bc8e5 296.88deg,#89bee0 297.02deg,#abd0e9 297.16deg,#a2cce7 297.30deg,#c8e0f1 297.44deg,#b4d5ec 297.58deg,#90c2e2 297.73deg,#50a0d0 297.87deg,#7eb9dd 298.01deg,#a6cee8 298.15deg,#7cb8dd 298.29deg,#98c6e4 298.43deg,#81bade 298.57deg,#cce2f2 298.71deg,#b0d3eb 298.85deg,#80bade 298.99deg,#87bee0 299.13deg,#fff 299.13deg,#fff 300.66deg,#499bcd 300.66deg,#6aaed7 300.80deg,#72b2da 300.94deg,#4b9dce 301.08deg,#77b5db 301.22deg,#469acc 301.36deg,#5aa5d3 301.50deg,#4398cb 301.64deg,#4b9dce 301.79deg,#7bb7dc 301.93deg,#6baed8 302.07deg,#5ba6d3 302.21deg,#5fa8d4 302.35deg,#77b5db 302.49deg,#5fa8d4 302.63deg,#92c4e3 302.77deg,#7db8dd 302.91deg,#6eb0d9 303.05deg,#8cc0e1 303.19deg,#75b4db 303.34deg,#7bb7dc 303.48deg,#4a9cce 303.62deg,#a8cfe9 303.76deg,#91c3e2 303.90deg,#95c5e3 304.04deg,#cce2f2 304.18deg,#afd3ea 304.32deg,#9fcae6 304.46deg,#96c5e4 304.60deg,#c4def0 304.74deg,#8cc0e1 304.89deg,#a4cde7 305.03deg,#8bbfe1 305.17deg,#a7cfe8 305.31deg,#c8e0f1 305.45deg,#9cc9e5 305.59deg,#b6d7ec 305.73deg,#aad0e9 305.87deg,#c1dcef 306.01deg,#c6dff1 306.15deg,#b2d4eb 306.29deg,#cae1f2 306.43deg,#c6dff1 306.58deg,#c2ddf0 306.72deg,#e1eef8 306.86deg,#e7f2fa 307.00deg,#f2f8fc 307.14deg,#d6e8f5 307.28deg,#e0edf8 307.42deg,#c0dcef 307.56deg,#f0f6fc 307.70deg,#e8f2fa 307.84deg,#cee3f3 307.98deg,#bad9ed 308.13deg,#e4f0f9 308.27deg,#edf5fb 308.41deg,#dcebf7 308.55deg,#d7e9f5 308.69deg,#f2f8fc 308.83deg,#eaf3fb 308.97deg,#eaf3fa 309.11deg,#eef5fb 309.25deg,#eaf3fa 309.39deg,#edf5fb 309.53deg,#f5f9fd 309.68deg,#e0eef8 309.82deg,#e9f2fa 309.96deg,#e4f0f9 310.10deg,#f9fcfe 310.24deg,#f4f9fd 310.38deg,#f4f9fd 310.52deg,#edf4fb 310.66deg,#edf4fb 310.80deg,#f9fbfe 310.94deg,#e3eff9 311.08deg,#f1f7fc 311.22deg,#eef5fb 311.37deg,#dcebf7 311.51deg,#deecf7 311.65deg,#e4eff9 311.79deg,#d7e8f5 311.93deg,#e6f1f9 312.07deg,#fafcfe 312.21deg,#eef5fb 312.35deg,#ebf3fb 312.49deg,#e4f0f9 312.63deg,#d0e4f3 312.77deg,#e4eff9 312.92deg,#ddecf7 313.06deg,#d0e5f3 313.20deg,#cee3f3 313.34deg,#f3f8fc 313.48deg,#e2eff8 313.62deg,#e1eef8 313.76deg,#9cc8e5 313.90deg,#f5f9fd 314.04deg,#d0e5f3 314.18deg,#d6e8f5 314.32deg,#d1e5f4 314.47deg,#a6cee8 314.61deg,#dcebf7 314.75deg,#84bcdf 314.89deg,#6cafd8 315.03deg,#b8d8ed 315.17deg,#bddbee 315.31deg,#c2ddf0 315.45deg,#a5cde8 315.59deg,#63aad5 315.73deg,#cde3f3 315.87deg,#85bcdf 316.01deg,#a5cee8 316.16deg,#b1d4eb 316.30deg,#88bee0 316.44deg,#a4cde8 316.58deg,#83bbdf 316.72deg,#79b6dc 316.86deg,#65abd6 317.00deg,#99c7e5 317.14deg,#8abfe1 317.28deg,#88bee0 317.42deg,#84bcdf 317.56deg,#54a2d1 317.71deg,#91c3e3 317.85deg,#82bbde 317.99deg,#82bbde 318.13deg,#66acd6 318.27deg,#77b5db 318.41deg,#55a3d1 318.55deg,#4297cb 318.69deg,#308cc4 318.83deg,#72b2da 318.97deg,#85bcdf 319.11deg,#59a5d3 319.26deg,#5da7d4 319.40deg,#81bade 319.54deg,#4f9fd0 319.68deg,#8cc0e1 319.82deg,#5fa8d4 319.96deg,#4d9ecf 320.10deg,#64abd6 320.24deg,#6cafd8 320.38deg,#fff 320.38deg,#fff 321.91deg,#8bc0e1 321.91deg,#8bbfe1 322.05deg,#75b4db 322.19deg,#7cb7dc 322.33deg,#a1cbe7 322.47deg,#6db0d8 322.61deg,#65abd6 322.75deg,#d4e7f5 322.89deg,#cee4f3 323.04deg,#bddaee 323.18deg,#cae2f2 323.32deg,#a0cbe6 323.46deg,#9fcae6 323.60deg,#bad9ed 323.74deg,#a9d0e9 323.88deg,#b4d5ec 324.02deg,#daeaf6 324.16deg,#d1e5f4 324.30deg,#c6dff1 324.44deg,#cde3f3 324.58deg,#e9f2fa 324.72deg,#d1e5f4 324.86deg,#e2eff8 325.00deg,#e2eef8 325.14deg,#e8f2fa 325.29deg,#ddecf7 325.43deg,#eef5fb 325.57deg,#dbebf6 325.71deg,#deecf7 325.85deg,#f2f8fc 325.99deg,#f3f8fc 326.13deg,#edf5fb 326.27deg,#e8f2fa 326.41deg,#d8e9f6 326.55deg,#eaf3fa 326.69deg,#c8e0f1 326.83deg,#e3eff9 326.97deg,#fdfeff 327.11deg,#e0edf8 327.25deg,#ecf4fb 327.39deg,#f1f7fc 327.54deg,#f5f9fd 327.68deg,#edf4fb 327.82deg,#fcfdfe 327.96deg,#e3eff8 328.10deg,#feffff 328.24deg,#eef5fb 328.38deg,#fcfdfe 328.52deg,#e9f2fa 328.66deg,#eff6fc 328.80deg,#ecf4fb 328.94deg,#ecf4fb 329.08deg,#f5f9fd 329.22deg,#f2f7fc 329.36deg,#ecf4fb 329.50deg,#edf5fb 329.64deg,#f2f8fc 329.79deg,#f9fbfe 329.93deg,#eff6fc 330.07deg,#f0f6fc 330.21deg,#d5e8f5 330.35deg,#cde3f3 330.49deg,#ecf4fb 330.63deg,#cde3f3 330.77deg,#ebf3fb 330.91deg,#d6e8f5 331.05deg,#d4e7f4 331.19deg,#eef5fb 331.33deg,#e1eef8 331.47deg,#dfedf7 331.61deg,#ecf4fb 331.75deg,#cae1f2 331.90deg,#f0f6fc 332.04deg,#edf5fb 332.18deg,#8dc1e1 332.32deg,#ddecf7 332.46deg,#aed2ea 332.60deg,#d1e5f4 332.74deg,#a2cce7 332.88deg,#d3e6f4 333.02deg,#b7d7ec 333.16deg,#c9e0f1 333.30deg,#acd1ea 333.44deg,#b4d6ec 333.58deg,#abd0e9 333.72deg,#9fcae6 333.86deg,#93c4e3 334.00deg,#a2cce7 334.15deg,#8abfe1 334.29deg,#9ac8e5 334.43deg,#63aad5 334.57deg,#86bddf 334.71deg,#86bddf 334.85deg,#9ec9e6 334.99deg,#b9d8ed 335.13deg,#94c5e3 335.27deg,#67acd7 335.41deg,#56a3d2 335.55deg,#63aad6 335.69deg,#6cafd8 335.83deg,#8ec1e1 335.97deg,#79b6dc 336.11deg,#6fb1d9 336.25deg,#53a2d1 336.40deg,#489bcd 336.54deg,#67acd6 336.68deg,#70b1d9 336.82deg,#5ca6d3 336.96deg,#479acd 337.10deg,#55a3d2 337.24deg,#4b9dce 337.38deg,#64abd6 337.52deg,#89bee0 337.66deg,#88bee0 337.80deg,#6db0d8 337.94deg,#4499cc 338.08deg,#4599cc 338.22deg,#79b6dc 338.36deg,#7eb9dd 338.50deg,#5fa8d4 338.65deg,#5ba6d3 338.79deg,#56a3d2 338.93deg,#6aaed7 339.07deg,#469acc 339.21deg,#fff 339.21deg,#fff 340.74deg,#4b9dce 340.74deg,#cce2f2 340.88deg,#9dc9e5 341.02deg,#a7cfe8 341.16deg,#7bb7dc 341.30deg,#95c5e3 341.44deg,#98c7e4 341.58deg,#deecf7 341.72deg,#d5e7f5 341.86deg,#c0dcef 342.00deg,#cbe2f2 342.14deg,#c6dff1 342.28deg,#d9e9f6 342.42deg,#c1ddef 342.56deg,#eef5fb 342.70deg,#bad9ed 342.84deg,#eff6fc 342.98deg,#eff6fc 343.12deg,#d8e9f6 343.27deg,#cde3f3 343.41deg,#d7e8f5 343.55deg,#d6e8f5 343.69deg,#dcebf7 343.83deg,#e5f0f9 343.97deg,#d8e9f5 344.11deg,#cce2f2 344.25deg,#f3f8fc 344.39deg,#eff6fc 344.53deg,#e7f1fa 344.67deg,#d3e6f4 344.81deg,#f5f9fd 344.95deg,#d7e9f5 345.09deg,#eff6fc 345.23deg,#f2f7fc 345.37deg,#fbfcfe 345.51deg,#f7fbfd 345.65deg,#f5f9fd 345.79deg,#f2f8fc 345.94deg,#fbfdfe 346.08deg,#e6f1f9 346.22deg,#f5f9fd 346.36deg,#f6fafd 346.50deg,#dbebf6 346.64deg,#f3f8fd 346.78deg,#f2f8fc 346.92deg,#f0f6fc 347.06deg,#f2f7fc 347.20deg,#eff6fc 347.34deg,#f3f8fc 347.48deg,#ffffff 347.62deg,#f3f8fd 347.76deg,#e6f1f9 347.90deg,#f6fafd 348.04deg,#e7f1fa 348.18deg,#f1f7fc 348.32deg,#e0eef8 348.46deg,#e7f1fa 348.60deg,#eff6fc 348.75deg,#d6e8f5 348.89deg,#deecf7 349.03deg,#edf4fb 349.17deg,#dbeaf6 349.31deg,#daeaf6 349.45deg,#d8e9f5 349.59deg,#deedf7 349.73deg,#bbd9ee 349.87deg,#eff5fc 350.01deg,#d0e4f3 350.15deg,#f6fafd 350.29deg,#d5e7f5 350.43deg,#e0edf8 350.57deg,#edf5fb 350.71deg,#dcebf7 350.85deg,#e4eff9 350.99deg,#cee3f3 351.13deg,#d1e5f4 351.27deg,#a4cde7 351.41deg,#e5f0f9 351.56deg,#c2ddf0 351.70deg,#d5e7f5 351.84deg,#c6dff0 351.98deg,#ecf4fb 352.12deg,#bbd9ee 352.26deg,#b5d6ec 352.40deg,#88bee0 352.54deg,#8dc1e1 352.68deg,#c7e0f1 352.82deg,#5fa8d4 352.96deg,#7eb8dd 353.10deg,#a5cee8 353.24deg,#90c2e2 353.38deg,#83bbde 353.52deg,#a9d0e9 353.66deg,#4e9fcf 353.80deg,#3891c7 353.94deg,#91c3e2 354.08deg,#65abd6 354.23deg,#4d9ecf 354.37deg,#4b9dce 354.51deg,#3d94c9 354.65deg,#61a9d5 354.79deg,#3a92c8 354.93deg,#60a9d5 355.07deg,#62aad5 355.21deg,#4498cb 355.35deg,#4197cb 355.49deg,#4f9fcf 355.63deg,#4599cc 355.77deg,#3790c7 355.91deg,#50a0d0 356.05deg,#308cc4 356.19deg,#5ea8d4 356.33deg,#56a3d2 356.47deg,#50a0d0 356.61deg,#68add7 356.75deg,#57a4d2 356.89deg,#4b9dce 357.04deg,#fff 357.04deg,#fff 360deg)"></div>
<div class="d" style="left:545.0px;top:353.0px;width:906.0px;height:906.0px;background:#fff"></div>
<svg width="1963" height="2451" viewBox="0 0 1963 2451" font-family="Liberation Sans, Arial, sans-serif">
<path d="M1048.0 238.2A570.0 570.0 0 0 1 1232.5 286.5M1045.4 267.6A540.5 540.5 0 0 1 1220.3 313.3M1246.2 292.9A570.0 570.0 0 0 1 1381.8 384.6M1233.4 319.5A540.5 540.5 0 0 1 1362.0 406.4M1392.9 395.0A570.0 570.0 0 0 1 1489.4 517.1M1372.5 416.3A540.5 540.5 0 0 1 1464.0 532.1M1496.9 530.4A570.0 570.0 0 0 1 1557.3 695.9M1471.1 544.6A540.5 540.5 0 0 1 1528.3 701.6M1560.0 710.8A570.0 570.0 0 0 1 1566.1 852.8M1530.9 715.7A540.5 540.5 0 0 1 1536.7 850.4M1564.6 867.9A570.0 570.0 0 0 1 1520.0 1034.9M1535.3 864.7A540.5 540.5 0 0 1 1493.0 1023.0M1513.7 1048.7A570.0 570.0 0 0 1 1431.9 1175.7M1487.0 1036.2A540.5 540.5 0 0 1 1409.4 1156.5M1421.8 1187.1A570.0 570.0 0 0 1 1298.2 1290.6M1399.9 1167.4A540.5 540.5 0 0 1 1282.6 1265.5M1285.1 1298.4A570.0 570.0 0 0 1 1127.3 1361.1M1270.3 1272.9A540.5 540.5 0 0 1 1120.6 1332.4M1112.4 1364.4A570.0 570.0 0 0 1 939.1 1372.9M1106.5 1335.5A540.5 540.5 0 0 1 942.2 1343.6M924.0 1371.2A570.0 570.0 0 0 1 810.3 1344.2M927.8 1341.9A540.5 540.5 0 0 1 820.0 1316.3M796.0 1339.0A570.0 570.0 0 0 1 674.4 1275.2M806.4 1311.4A540.5 540.5 0 0 1 691.1 1250.9M662.0 1266.4A570.0 570.0 0 0 1 551.0 1159.6M679.4 1242.6A540.5 540.5 0 0 1 574.1 1141.3M541.7 1147.6A570.0 570.0 0 0 1 463.0 1002.6M565.3 1129.9A540.5 540.5 0 0 1 490.7 992.4M457.9 988.3A570.0 570.0 0 0 1 428.1 816.3M485.9 978.8A540.5 540.5 0 0 1 457.6 815.7M428.0 801.1A570.0 570.0 0 0 1 443.5 673.8M457.5 801.3A540.5 540.5 0 0 1 472.2 680.7M447.3 659.1A570.0 570.0 0 0 1 500.1 528.5M475.8 666.7A540.5 540.5 0 0 1 525.9 542.9M507.7 515.3A570.0 570.0 0 0 1 634.5 366.9M533.1 530.4A540.5 540.5 0 0 1 653.3 389.6M646.4 357.4A570.0 570.0 0 0 1 795.7 273.1M664.6 380.6A540.5 540.5 0 0 1 806.1 300.7M809.9 267.9A570.0 570.0 0 0 1 968.5 236.8M819.7 295.8A540.5 540.5 0 0 1 970.0 266.2" fill="none" stroke="#d9d9d9" stroke-width="1"/>
<path d="M1062.8 69.3A739.5 739.5 0 0 1 1302.2 132L1297.7 142A728.5 728.5 0 0 0 1061.9 80.3ZM1320.1 140.3A739.5 739.5 0 0 1 1496 259.3L1488.6 267.4A728.5 728.5 0 0 0 1315.3 150.2ZM1510.4 272.8A739.5 739.5 0 0 1 1635.5 431.3L1626 436.8A728.5 728.5 0 0 0 1502.8 280.7ZM1645.3 448.4A739.5 739.5 0 0 1 1723.6 663.1L1712.8 665.2A728.5 728.5 0 0 0 1635.7 453.7ZM1727.1 682.5A739.5 739.5 0 0 1 1735 866.7L1724 865.8A728.5 728.5 0 0 0 1716.3 684.4ZM1733.1 886.3A739.5 739.5 0 0 1 1675.3 1103L1665.2 1098.5A728.5 728.5 0 0 0 1722.2 885.1ZM1667.1 1120.9A739.5 739.5 0 0 1 1560.9 1285.6L1552.5 1278.5A728.5 728.5 0 0 0 1657.1 1116.2ZM1547.9 1300.5A739.5 739.5 0 0 1 1387.4 1434.7L1381.6 1425.3A728.5 728.5 0 0 0 1539.7 1293.1ZM1370.5 1444.8A739.5 739.5 0 0 1 1165.7 1526.2L1163.2 1515.5A728.5 728.5 0 0 0 1365 1435.3ZM1146.5 1530.4A739.5 739.5 0 0 1 921.6 1541.5L922.7 1530.6A728.5 728.5 0 0 0 1144.3 1519.7ZM902 1539.2A739.5 739.5 0 0 1 754.5 1504.2L758.1 1493.9A728.5 728.5 0 0 0 903.4 1528.3ZM735.9 1497.5A739.5 739.5 0 0 1 578.1 1414.7L584.4 1405.7A728.5 728.5 0 0 0 739.8 1487.2ZM562.1 1403.3A739.5 739.5 0 0 1 418 1264.8L426.6 1258A728.5 728.5 0 0 0 568.5 1394.4ZM406 1249.1A739.5 739.5 0 0 1 303.9 1061.1L314.2 1057.3A728.5 728.5 0 0 0 414.8 1242.6ZM297.3 1042.5A739.5 739.5 0 0 1 258.6 819.3L269.6 819.1A728.5 728.5 0 0 0 307.8 1039ZM258.5 799.6A739.5 739.5 0 0 1 278.7 634.5L289.4 637.1A728.5 728.5 0 0 0 269.5 799.7ZM283.5 615.4A739.5 739.5 0 0 1 352 446L361.6 451.4A728.5 728.5 0 0 0 294.1 618.2ZM361.9 428.9A739.5 739.5 0 0 1 526.4 236.4L533.5 244.8A728.5 728.5 0 0 0 371.3 434.5ZM541.8 224A739.5 739.5 0 0 1 735.5 114.7L739.4 124.9A728.5 728.5 0 0 0 548.6 232.6ZM754 107.9A739.5 739.5 0 0 1 959.8 67.5L960.3 78.5A728.5 728.5 0 0 0 757.7 118.3Z" fill="#fff" stroke="#6a6a6a" stroke-width="1.3"/>
<path d="M1124.3 77.4L1122.5 88.2M1129.1 78.2L1127.1 89M1390.7 179.4L1394.4 181.7L1388.5 191L1384.9 188.7ZM1401.8 186.5L1395.8 195.7M1552.7 316.9L1544.4 324.2M1558.4 323.5L1550.1 330.7M1694.6 557.8L1696.1 561.9L1685.7 565.5L1684.2 561.5ZM1735.5 751.9L1735.8 756.2L1724.8 757L1724.5 752.7ZM1736.9 775.9L1725.9 776.3M1707.4 1014.7L1705.6 1021L1695 1017.8L1696.9 1011.6ZM1704.9 1023L1694.4 1019.8M1628.8 1192L1626.5 1195.7L1617.1 1189.9L1619.4 1186.3ZM1623 1201.3L1613.7 1195.4M1460.7 1382.9L1457.3 1385.6L1450.4 1377L1453.8 1374.3ZM1288.6 1486L1284.3 1475.9M1077.4 1541.2L1076.2 1530.3M790.9 1515.9L794 1505.4M640.8 1453.5L637 1451.4L642.4 1441.8L646.1 1443.9ZM537.7 1384.8L535 1382.6L541.9 1374L544.6 1376.2ZM533.6 1381.5L531.6 1379.9L538.5 1371.3L540.5 1373ZM530.9 1379.3L537.9 1370.8M376.1 1206.1L374.7 1203.9L383.9 1198L385.3 1200.1ZM373.3 1201.7L371.9 1199.5L381.2 1193.6L382.6 1195.8ZM370.2 1196.9L369.1 1195L378.4 1189.2L379.6 1191.1ZM367.7 1192.8L366.3 1190.5L375.7 1184.8L377.1 1187ZM364.5 1187.6L363.4 1185.7L372.9 1180L374 1181.9ZM361.8 1183.1L360.5 1180.8L370 1175.2L371.3 1177.4ZM359 1178.2L357.9 1176.3L367.4 1170.8L368.5 1172.6ZM355.7 1172.5L354.4 1170.2L364 1164.8L365.3 1167ZM352.9 1167.5L351.8 1165.6L361.4 1160.3L362.5 1162.2ZM350.4 1163L348.9 1160.3L358.5 1155L360 1157.6ZM347.2 1157.2L345.2 1153.4L354.9 1148.2L356.9 1152ZM344.1 1151.4L341.1 1145.6L350.9 1140.6L353.9 1146.3ZM340.1 1143.7L338.1 1139.8L347.9 1134.8L349.9 1138.6ZM337.1 1137.8L335.2 1133.9L345 1129L347 1132.9ZM334.2 1132L333.3 1130L343.1 1125.2L344.1 1127.1ZM332.1 1127.6L331 1125.3L340.9 1120.5L342 1122.9ZM329.5 1122.1L328.4 1119.7L338.3 1115.1L339.4 1117.4ZM327.1 1117L325.8 1114.2L335.8 1109.6L337 1112.3ZM324 1110.2L322.9 1107.8L332.9 1103.3L334 1105.7ZM321.3 1104.2L320.1 1101.4L330.2 1097L331.4 1099.8ZM318.7 1098.2L317.7 1095.8L327.8 1091.5L328.8 1093.9ZM316.6 1093.4L315.3 1090.2L325.4 1086L326.8 1089.1ZM311.2 1080.1L321.4 1076M261.8 876.2L261.4 871.9L272.4 870.9L272.8 875.2ZM273.9 956.1L284.7 953.9M262.7 727.7L273.6 728.8M263.1 723.3L274.1 724.5M259.7 764.7L270.6 765.3M319.3 512.3L329.4 516.7M343.8 461.1L353.6 466.3M436.9 324.3L445.2 331.5M441.2 319.4L449.5 326.6M617.3 172L621.1 169.8L626.7 179.2L623 181.4ZM628.6 165.4L634.1 174.9M812.5 90.1L816.8 89.1L819.5 99.7L815.3 100.8ZM823.1 87.5L825.7 98.2" fill="#7a7a7a" stroke="#6a6a6a" stroke-width="1"/>
<path d="M1062.8 69.3L1063.3 63.9M1084.6 71.6L1084.9 68.6M1106.2 74.5L1107 69M1127.8 78L1128.3 75M1149.2 82.1L1150.3 76.7M1170.5 86.9L1171.2 84M1191.7 92.3L1193.1 87M1212.7 98.4L1213.6 95.5M1233.5 105L1235.3 99.8M1254.1 112.3L1255.1 109.4M1274.5 120.1L1276.5 115M1294.6 128.6L1295.8 125.8M1320.1 140.3L1322.5 135.4M1339.6 150.1L1341 147.5M1358.8 160.5L1361.5 155.7M1377.7 171.4L1379.3 168.9M1396.3 182.9L1399.2 178.3M1414.5 195L1416.2 192.5M1432.4 207.5L1435.6 203.1M1449.9 220.6L1451.7 218.2M1467 234.2L1470.4 230M1483.6 248.3L1485.6 246.1M1510.4 272.8L1514.2 268.8M1525.9 288.2L1528.1 286.1M1541 304L1545 300.2M1555.6 320.2L1557.8 318.3M1569.7 336.9L1573.9 333.4M1583.3 354L1585.7 352.2M1596.4 371.5L1600.8 368.2M1608.9 389.3L1611.4 387.7M1621 407.6L1625.6 404.6M1632.5 426.1L1635.1 424.6M1645.3 448.4L1650.1 445.7M1655.6 467.7L1658.2 466.3M1665.3 487.2L1670.2 484.9M1674.4 507.1L1677.1 505.9M1682.9 527.2L1688 525.1M1690.9 547.5L1693.7 546.5M1698.2 568.1L1703.4 566.3M1704.9 588.9L1707.8 588M1711 609.9L1716.3 608.4M1716.5 631L1719.4 630.3M1721.4 652.3L1726.7 651.2M1727.1 682.5L1732.5 681.6M1730.4 704.1L1733.4 703.7M1733.1 725.8L1738.6 725.2M1735.2 747.5L1738.2 747.3M1736.6 769.3L1742.1 769.1M1737.4 791.2L1740.4 791.1M1737.5 813L1743 813.1M1736.9 834.8L1739.9 835M1735.8 856.7L1741.3 857M1733.1 886.3L1738.6 886.9M1730.4 908L1733.4 908.4M1727.1 929.6L1732.5 930.5M1723.1 951.1L1726.1 951.7M1718.5 972.4L1723.9 973.7M1713.3 993.6L1716.2 994.4M1707.4 1014.7L1712.7 1016.2M1701 1035.5L1703.8 1036.5M1693.9 1056.2L1699.1 1058.1M1686.2 1076.6L1689 1077.7M1677.9 1096.9L1683 1099M1667.1 1120.9L1672.1 1123.3M1657.5 1140.5L1660.2 1141.9M1647.3 1159.9L1652.2 1162.5M1636.6 1178.9L1639.2 1180.4M1625.3 1197.6L1630 1200.5M1613.5 1215.9L1616 1217.6M1601.1 1233.9L1605.6 1237.1M1588.2 1251.6L1590.6 1253.4M1574.8 1268.8L1579.1 1272.3M1560.9 1285.6L1563.1 1287.6M1547.9 1300.5L1552 1304.1M1533 1316.5L1535.2 1318.5M1517.7 1332.1L1521.6 1336M1502 1347.2L1504 1349.4M1485.8 1361.8L1489.4 1366M1469.1 1376L1471 1378.3M1452.1 1389.7L1455.5 1394M1434.7 1402.8L1436.4 1405.2M1416.8 1415.5L1420 1420M1398.7 1427.6L1400.3 1430.1M1370.5 1444.8L1373.3 1449.6M1351.5 1455.6L1352.9 1458.2M1332.1 1465.7L1334.6 1470.6M1312.5 1475.3L1313.8 1478M1292.6 1484.3L1294.8 1489.3M1272.4 1492.7L1273.6 1495.5M1252 1500.5L1253.9 1505.7M1231.4 1507.7L1232.4 1510.5M1210.6 1514.3L1212.2 1519.6M1189.6 1520.3L1190.4 1523.2M1168.4 1525.6L1169.7 1531M1146.5 1530.4L1147.6 1535.8M1125 1534.5L1125.5 1537.5M1103.4 1537.9L1104.2 1543.4M1081.8 1540.7L1082.1 1543.7M1060 1542.9L1060.5 1548.4M1038.2 1544.4L1038.4 1547.4M1016.4 1545.3L1016.5 1550.8M994.6 1545.5L994.6 1548.5M972.7 1545.1L972.5 1550.6M950.9 1544L950.7 1547M929.1 1542.3L928.6 1547.8M902 1539.2L901.3 1544.7M880.4 1536.1L879.9 1539M858.9 1532.3L857.8 1537.7M837.5 1527.9L836.8 1530.8M816.2 1522.8L814.9 1528.1M795.1 1517.1L794.3 1520M774.2 1510.8L772.6 1516.1M735.9 1497.5L734 1502.6M715.6 1489.5L714.5 1492.2M695.6 1480.8L693.3 1485.8M675.8 1471.6L674.4 1474.3M656.2 1461.8L653.7 1466.7M637 1451.4L635.5 1454M618.1 1440.5L615.3 1445.2M599.5 1429L597.9 1431.5M581.3 1416.9L578.2 1421.5M562.1 1403.3L558.8 1407.8M544.6 1390.2L542.8 1392.6M527.5 1376.6L524 1380.8M510.9 1362.4L508.9 1364.7M494.7 1347.8L490.9 1351.8M478.9 1332.7L476.8 1334.8M463.6 1317.1L459.6 1320.9M448.7 1301.1L446.5 1303.1M434.3 1284.7L430.1 1288.2M420.4 1267.8L418.1 1269.7M406 1249.1L401.6 1252.4M393.2 1231.5L390.7 1233.2M380.9 1213.4L376.3 1216.5M369.1 1195L366.5 1196.6M357.9 1176.3L353.1 1179M347.2 1157.2L344.6 1158.6M337.1 1137.8L332.2 1140.3M327.6 1118.2L324.9 1119.4M318.7 1098.2L313.6 1100.4M310.4 1078L307.6 1079.1M297.3 1042.5L292.1 1044.2M290.7 1021.7L287.8 1022.6M284.6 1000.7L279.3 1002.2M279.2 979.5L276.2 980.3M274.3 958.2L269 959.4M270.2 936.8L267.2 937.3M266.6 915.2L261.2 916.1M263.7 893.6L260.7 894M261.4 871.9L256 872.4M259.8 850.1L256.8 850.3M258.8 828.3L253.3 828.4M258.5 799.6L253 799.5M259 777.8L256 777.6M260.2 755.9L254.7 755.6M262 734.2L259 733.9M264.4 712.5L259 711.8M267.5 690.8L264.6 690.4M271.2 669.3L265.8 668.3M275.6 647.9L272.7 647.3M283.5 615.4L278.2 614M289.4 594.4L286.6 593.5M296 573.5L290.8 571.8M303.2 552.9L300.3 551.9M310.9 532.5L305.8 530.5M319.3 512.3L316.6 511.1M328.3 492.4L323.3 490.1M337.8 472.8L335.2 471.4M348 453.4L343.1 450.8M361.9 428.9L357.1 426.1M373.3 410.3L370.7 408.7M385.2 392L380.7 388.9M397.7 374.1L395.3 372.3M410.8 356.6L406.4 353.2M424.3 339.4L422 337.5M438.3 322.7L434.2 319.1M452.8 306.3L450.6 304.3M467.8 290.5L463.9 286.6M483.3 275L481.2 272.9M499.2 260.1L495.5 256M515.5 245.6L513.6 243.3M541.8 224L538.4 219.7M559.2 210.8L557.4 208.3M577 198.1L573.8 193.5M595.1 185.9L593.5 183.4M613.6 174.3L610.7 169.6M632.4 163.2L630.9 160.6M651.6 152.7L649 147.8M671 142.7L669.7 140M690.7 133.4L688.5 128.3M710.7 124.6L709.6 121.8M731 116.4L729 111.3M754 107.9L752.2 102.7M774.7 101L773.8 98.1M795.7 94.7L794.2 89.4M816.8 89.1L816 86.1M838 84L836.8 78.6M859.4 79.6L858.9 76.7M880.9 75.8L880.1 70.4M902.5 72.7L902.2 69.7M924.2 70.2L923.7 64.7M946 68.3L945.8 65.3" stroke="#4a4a4a" stroke-width="1.2" fill="none"/>
<g font-size="14.5" fill="#111"><text x="1063.5" y="61.9" transform="rotate(-85 1063.5 61.9)" text-anchor="start" dy="0.35em">0</text><text x="1107.3" y="67" transform="rotate(-81.6 1107.3 67)" text-anchor="start" dy="0.35em">10</text><text x="1150.8" y="74.8" transform="rotate(-78.2 1150.8 74.8)" text-anchor="start" dy="0.35em">20</text><text x="1193.7" y="85.1" transform="rotate(-74.8 1193.7 85.1)" text-anchor="start" dy="0.35em">30</text><text x="1235.9" y="97.9" transform="rotate(-71.4 1235.9 97.9)" text-anchor="start" dy="0.35em">40</text><text x="1277.3" y="113.2" transform="rotate(-68 1277.3 113.2)" text-anchor="start" dy="0.35em">50</text><text x="1323.3" y="133.6" transform="rotate(-64.2 1323.3 133.6)" text-anchor="start" dy="0.35em">0</text><text x="1362.5" y="153.9" transform="rotate(-60.8 1362.5 153.9)" text-anchor="start" dy="0.35em">10</text><text x="1400.3" y="176.6" transform="rotate(-57.4 1400.3 176.6)" text-anchor="start" dy="0.35em">20</text><text x="1436.8" y="201.5" transform="rotate(-54 1436.8 201.5)" text-anchor="start" dy="0.35em">30</text><text x="1471.7" y="228.4" transform="rotate(-50.6 1471.7 228.4)" text-anchor="start" dy="0.35em">40</text><text x="1515.6" y="267.4" transform="rotate(-46.1 1515.6 267.4)" text-anchor="start" dy="0.35em">0</text><text x="1546.5" y="298.9" transform="rotate(-42.8 1546.5 298.9)" text-anchor="start" dy="0.35em">10</text><text x="1575.5" y="332.1" transform="rotate(-39.4 1575.5 332.1)" text-anchor="start" dy="0.35em">20</text><text x="1602.4" y="367.1" transform="rotate(-36 1602.4 367.1)" text-anchor="start" dy="0.35em">30</text><text x="1627.3" y="403.5" transform="rotate(-32.6 1627.3 403.5)" text-anchor="start" dy="0.35em">40</text><text x="1651.8" y="444.8" transform="rotate(-28.9 1651.8 444.8)" text-anchor="start" dy="0.35em">0</text><text x="1672" y="484" transform="rotate(-25.5 1672 484)" text-anchor="start" dy="0.35em">10</text><text x="1689.9" y="524.4" transform="rotate(-22.1 1689.9 524.4)" text-anchor="start" dy="0.35em">20</text><text x="1705.3" y="565.7" transform="rotate(-18.8 1705.3 565.7)" text-anchor="start" dy="0.35em">30</text><text x="1718.2" y="607.9" transform="rotate(-15.4 1718.2 607.9)" text-anchor="start" dy="0.35em">40</text><text x="1728.7" y="650.8" transform="rotate(-12 1728.7 650.8)" text-anchor="start" dy="0.35em">50</text><text x="1734.5" y="681.3" transform="rotate(-9.6 1734.5 681.3)" text-anchor="start" dy="0.35em">0</text><text x="1740.6" y="725" transform="rotate(-6.2 1740.6 725)" text-anchor="start" dy="0.35em">10</text><text x="1744.1" y="769" transform="rotate(-2.8 1744.1 769)" text-anchor="start" dy="0.35em">20</text><text x="1745" y="813.1" transform="rotate(0.5 1745 813.1)" text-anchor="start" dy="0.35em">30</text><text x="1743.2" y="857.2" transform="rotate(3.9 1743.2 857.2)" text-anchor="start" dy="0.35em">40</text><text x="1740.6" y="887.1" transform="rotate(6.2 1740.6 887.1)" text-anchor="start" dy="0.35em">0</text><text x="1734.5" y="930.8" transform="rotate(9.6 1734.5 930.8)" text-anchor="start" dy="0.35em">10</text><text x="1725.8" y="974.1" transform="rotate(13 1725.8 974.1)" text-anchor="start" dy="0.35em">20</text><text x="1714.6" y="1016.8" transform="rotate(16.4 1714.6 1016.8)" text-anchor="start" dy="0.35em">30</text><text x="1700.9" y="1058.7" transform="rotate(19.8 1700.9 1058.7)" text-anchor="start" dy="0.35em">40</text><text x="1684.8" y="1099.8" transform="rotate(23.2 1684.8 1099.8)" text-anchor="start" dy="0.35em">50</text><text x="1673.9" y="1124.1" transform="rotate(25.2 1673.9 1124.1)" text-anchor="start" dy="0.35em">0</text><text x="1653.9" y="1163.5" transform="rotate(28.6 1653.9 1163.5)" text-anchor="start" dy="0.35em">10</text><text x="1631.7" y="1201.6" transform="rotate(32 1631.7 1201.6)" text-anchor="start" dy="0.35em">20</text><text x="1607.2" y="1238.3" transform="rotate(35.4 1607.2 1238.3)" text-anchor="start" dy="0.35em">30</text><text x="1580.6" y="1273.5" transform="rotate(38.7 1580.6 1273.5)" text-anchor="start" dy="0.35em">40</text><text x="1553.5" y="1305.5" transform="rotate(42 1553.5 1305.5)" text-anchor="start" dy="0.35em">0</text><text x="1523" y="1337.4" transform="rotate(45.3 1523 1337.4)" text-anchor="start" dy="0.35em">10</text><text x="1490.7" y="1367.5" transform="rotate(48.7 1490.7 1367.5)" text-anchor="start" dy="0.35em">20</text><text x="1456.7" y="1395.6" transform="rotate(52.1 1456.7 1395.6)" text-anchor="start" dy="0.35em">30</text><text x="1421.1" y="1421.6" transform="rotate(55.5 1421.1 1421.6)" text-anchor="start" dy="0.35em">40</text><text x="1374.3" y="1451.3" transform="rotate(59.8 1374.3 1451.3)" text-anchor="start" dy="0.35em">0</text><text x="1335.5" y="1472.4" transform="rotate(63.1 1335.5 1472.4)" text-anchor="start" dy="0.35em">10</text><text x="1295.6" y="1491.2" transform="rotate(66.5 1295.6 1491.2)" text-anchor="start" dy="0.35em">20</text><text x="1254.6" y="1507.5" transform="rotate(69.9 1254.6 1507.5)" text-anchor="start" dy="0.35em">30</text><text x="1212.7" y="1521.5" transform="rotate(73.3 1212.7 1521.5)" text-anchor="start" dy="0.35em">40</text><text x="1170.1" y="1532.9" transform="rotate(76.7 1170.1 1532.9)" text-anchor="start" dy="0.35em">50</text><text x="1148" y="1537.8" transform="rotate(78.4 1148 1537.8)" text-anchor="start" dy="0.35em">0</text><text x="1104.5" y="1545.4" transform="rotate(81.8 1104.5 1545.4)" text-anchor="start" dy="0.35em">10</text><text x="1060.7" y="1550.4" transform="rotate(85.2 1060.7 1550.4)" text-anchor="start" dy="0.35em">20</text><text x="1016.6" y="1552.8" transform="rotate(88.6 1016.6 1552.8)" text-anchor="start" dy="0.35em">30</text><text x="972.5" y="1552.6" transform="rotate(272 972.5 1552.6)" text-anchor="end" dy="0.35em">40</text><text x="928.4" y="1549.8" transform="rotate(275.3 928.4 1549.8)" text-anchor="end" dy="0.35em">50</text><text x="901" y="1546.7" transform="rotate(277.5 901 1546.7)" text-anchor="end" dy="0.35em">0</text><text x="857.5" y="1539.7" transform="rotate(280.8 857.5 1539.7)" text-anchor="end" dy="0.35em">10</text><text x="814.4" y="1530.1" transform="rotate(284.2 814.4 1530.1)" text-anchor="end" dy="0.35em">20</text><text x="772" y="1518" transform="rotate(287.6 772 1518)" text-anchor="end" dy="0.35em">30</text><text x="733.3" y="1504.5" transform="rotate(290.8 733.3 1504.5)" text-anchor="end" dy="0.35em">0</text><text x="692.5" y="1487.7" transform="rotate(294.1 692.5 1487.7)" text-anchor="end" dy="0.35em">10</text><text x="652.8" y="1468.4" transform="rotate(297.5 652.8 1468.4)" text-anchor="end" dy="0.35em">20</text><text x="614.3" y="1446.9" transform="rotate(300.9 614.3 1446.9)" text-anchor="end" dy="0.35em">30</text><text x="577.1" y="1423.1" transform="rotate(304.3 577.1 1423.1)" text-anchor="end" dy="0.35em">40</text><text x="557.6" y="1409.4" transform="rotate(306.1 557.6 1409.4)" text-anchor="end" dy="0.35em">0</text><text x="522.8" y="1382.3" transform="rotate(309.5 522.8 1382.3)" text-anchor="end" dy="0.35em">10</text><text x="489.6" y="1353.3" transform="rotate(312.9 489.6 1353.3)" text-anchor="end" dy="0.35em">20</text><text x="458.1" y="1322.3" transform="rotate(316.3 458.1 1322.3)" text-anchor="end" dy="0.35em">30</text><text x="428.6" y="1289.5" transform="rotate(319.7 428.6 1289.5)" text-anchor="end" dy="0.35em">40</text><text x="400" y="1253.6" transform="rotate(323.2 400 1253.6)" text-anchor="end" dy="0.35em">0</text><text x="374.6" y="1217.6" transform="rotate(326.6 374.6 1217.6)" text-anchor="end" dy="0.35em">10</text><text x="351.4" y="1180" transform="rotate(330 351.4 1180)" text-anchor="end" dy="0.35em">20</text><text x="330.4" y="1141.2" transform="rotate(333.3 330.4 1141.2)" text-anchor="end" dy="0.35em">30</text><text x="311.8" y="1101.2" transform="rotate(336.7 311.8 1101.2)" text-anchor="end" dy="0.35em">40</text><text x="290.2" y="1044.9" transform="rotate(341.3 290.2 1044.9)" text-anchor="end" dy="0.35em">0</text><text x="277.4" y="1002.7" transform="rotate(344.7 277.4 1002.7)" text-anchor="end" dy="0.35em">10</text><text x="267" y="959.8" transform="rotate(348.1 267 959.8)" text-anchor="end" dy="0.35em">20</text><text x="259.2" y="916.4" transform="rotate(351.5 259.2 916.4)" text-anchor="end" dy="0.35em">30</text><text x="254" y="872.5" transform="rotate(354.9 254 872.5)" text-anchor="end" dy="0.35em">40</text><text x="251.3" y="828.5" transform="rotate(358.3 251.3 828.5)" text-anchor="end" dy="0.35em">50</text><text x="251" y="799.5" transform="rotate(360.5 251 799.5)" text-anchor="end" dy="0.35em">0</text><text x="252.7" y="755.4" transform="rotate(363.9 252.7 755.4)" text-anchor="end" dy="0.35em">10</text><text x="257" y="711.5" transform="rotate(367.3 257 711.5)" text-anchor="end" dy="0.35em">20</text><text x="263.9" y="667.9" transform="rotate(370.7 263.9 667.9)" text-anchor="end" dy="0.35em">30</text><text x="276.2" y="613.5" transform="rotate(374.9 276.2 613.5)" text-anchor="end" dy="0.35em">0</text><text x="288.9" y="571.2" transform="rotate(378.3 288.9 571.2)" text-anchor="end" dy="0.35em">10</text><text x="304" y="529.7" transform="rotate(381.7 304 529.7)" text-anchor="end" dy="0.35em">20</text><text x="321.5" y="489.2" transform="rotate(385.1 321.5 489.2)" text-anchor="end" dy="0.35em">30</text><text x="341.4" y="449.8" transform="rotate(388.5 341.4 449.8)" text-anchor="end" dy="0.35em">40</text><text x="355.4" y="425.1" transform="rotate(390.7 355.4 425.1)" text-anchor="end" dy="0.35em">0</text><text x="379" y="387.8" transform="rotate(394 379 387.8)" text-anchor="end" dy="0.35em">10</text><text x="404.8" y="352" transform="rotate(397.4 404.8 352)" text-anchor="end" dy="0.35em">20</text><text x="432.6" y="317.8" transform="rotate(400.8 432.6 317.8)" text-anchor="end" dy="0.35em">30</text><text x="462.5" y="285.2" transform="rotate(404.2 462.5 285.2)" text-anchor="end" dy="0.35em">40</text><text x="494.1" y="254.5" transform="rotate(407.6 494.1 254.5)" text-anchor="end" dy="0.35em">50</text><text x="537.2" y="218.1" transform="rotate(411.9 537.2 218.1)" text-anchor="end" dy="0.35em">0</text><text x="572.7" y="191.9" transform="rotate(415.3 572.7 191.9)" text-anchor="end" dy="0.35em">10</text><text x="609.7" y="167.9" transform="rotate(418.7 609.7 167.9)" text-anchor="end" dy="0.35em">20</text><text x="648.1" y="146" transform="rotate(422.1 648.1 146)" text-anchor="end" dy="0.35em">30</text><text x="687.6" y="126.5" transform="rotate(425.5 687.6 126.5)" text-anchor="end" dy="0.35em">40</text><text x="728.3" y="109.4" transform="rotate(428.8 728.3 109.4)" text-anchor="end" dy="0.35em">50</text><text x="751.6" y="100.8" transform="rotate(430.7 751.6 100.8)" text-anchor="end" dy="0.35em">0</text><text x="793.6" y="87.5" transform="rotate(434.1 793.6 87.5)" text-anchor="end" dy="0.35em">10</text><text x="836.4" y="76.7" transform="rotate(437.5 836.4 76.7)" text-anchor="end" dy="0.35em">20</text><text x="879.7" y="68.4" transform="rotate(440.9 879.7 68.4)" text-anchor="end" dy="0.35em">30</text><text x="923.5" y="62.7" transform="rotate(444.3 923.5 62.7)" text-anchor="end" dy="0.35em">40</text></g>
<path d="M1047.9 246.3L1052.7 238.3L1054.8 249.5L1059.2 231.8L1063.2 240.7L1069.6 235.0L1072.8 243.1L1076.1 240.7L1077.7 255.2L1081.7 247.1L1082.5 264.0L1086.5 257.6L1088.9 264.0L1092.2 259.2L1095.4 266.4L1098.6 262.4L1108.3 272.1L1114.7 267.2L1118.7 266.4L1122.7 260.8L1124.4 272.1L1132.4 267.2L1137.2 270.5L1143.7 273.7L1148.5 271.3L1150.1 276.9L1154.9 268.0L1158.2 276.9L1159.8 272.1L1161.4 280.1L1167.8 272.9L1172.6 276.9L1180.7 264.0L1182.3 280.9L1190.3 275.3L1195.2 272.9L1200.0 274.5L1206.4 272.1L1208.0 288.2L1211.3 286.6L1212.9 291.4L1218.5 293.0L1222.5 293.8L1223.3 301.0M1243.0 307.7L1245.8 302.2L1248.5 307.7L1251.3 303.1L1256.8 309.5L1262.3 312.3L1267.9 314.1L1271.5 317.8L1277.1 318.7L1280.7 319.7L1288.1 317.8L1290.0 328.9L1295.5 341.7L1297.3 339.9L1301.0 346.4L1304.7 343.6L1306.5 351.0L1312.0 348.2L1317.6 350.0L1321.3 354.6L1326.8 348.2L1332.3 341.7L1335.1 347.3L1328.6 360.2L1334.1 358.3L1343.4 354.6L1341.5 363.8L1350.7 364.8L1354.4 363.8L1359.0 369.4L1356.2 373.0L1361.8 376.7L1364.5 374.9L1369.1 393.3M1390.6 400.4L1395.6 395.5L1400.6 392.5L1403.6 400.4L1411.5 395.5L1423.5 386.5L1411.5 414.4L1417.5 422.4L1415.5 430.3L1421.5 428.3L1425.5 436.3L1427.5 448.2L1431.5 454.2L1427.5 460.2L1435.5 466.2L1441.4 464.2L1445.4 474.1L1451.4 472.2L1457.4 470.2L1455.4 476.1L1471.3 466.2L1463.3 472.2L1478.3 463.2L1467.3 476.1L1463.3 488.1L1467.3 496.1L1471.3 494.1L1475.3 500.0L1471.3 514.0L1475.3 518.0L1473.3 521.9M1482.7 538.8L1491.8 539.6L1494.8 545.7L1498.9 552.8L1507.0 553.8L1515.1 556.9L1511.1 559.9L1531.4 551.8L1523.3 559.9L1504.0 572.1L1513.1 568.0L1521.2 578.2L1528.4 584.3L1515.1 590.4L1519.2 594.5L1513.1 598.5L1511.1 608.7L1519.2 610.7L1520.2 618.9L1523.3 627.0L1519.2 635.1L1523.3 637.2L1533.4 635.1L1527.3 645.3L1532.4 653.4L1541.6 655.4L1551.7 654.4L1549.7 663.6L1555.8 666.6L1547.7 671.7L1542.6 683.9L1553.8 681.9L1551.7 685.9L1543.6 697.1M1549.9 713.1L1556.3 722.2L1559.9 725.9L1558.1 729.5L1570.0 730.4L1561.7 735.0L1555.3 740.5L1556.3 747.8L1545.3 754.2L1550.8 768.0L1544.4 777.1L1548.9 784.4L1558.1 795.4L1567.2 799.1L1558.1 804.6L1574.6 810.0L1558.1 812.8L1579.1 816.5L1561.7 821.0L1556.3 826.5L1567.2 832.0L1552.6 837.5L1550.8 843.0L1549.9 850.3M1550.9 867.9L1552.9 875.8L1549.9 878.8L1546.0 883.8L1548.0 888.7L1546.0 894.7L1549.0 900.6L1548.0 908.6L1551.9 914.5L1557.9 919.5L1553.9 924.5L1558.9 930.4L1551.9 932.4L1548.0 938.4L1540.0 942.3L1532.1 947.3L1536.0 956.2L1530.1 957.2L1526.1 960.2L1528.1 968.2L1524.1 976.1L1524.1 984.1L1530.1 990.0L1536.0 996.0L1540.0 999.9L1548.0 1007.9L1534.1 1003.9L1542.0 1009.9L1561.9 1018.8L1549.9 1017.8L1557.9 1024.8L1538.0 1025.8L1528.1 1028.7L1521.1 1030.7M1506.3 1049.1L1496.3 1053.1L1512.3 1063.1L1496.3 1060.1L1538.4 1083.2L1502.3 1070.1L1498.3 1070.1L1490.3 1076.2L1482.3 1078.2L1488.3 1090.2L1478.3 1086.2L1490.3 1094.2L1480.3 1092.2L1496.3 1108.2L1488.3 1104.2L1474.3 1100.2L1466.2 1099.2L1462.2 1102.2L1458.2 1110.2L1454.2 1114.2L1448.2 1118.2L1446.2 1122.2L1438.2 1126.2L1438.2 1138.3L1446.2 1150.3L1436.2 1152.3L1430.2 1160.3L1420.2 1162.3M1409.8 1179.9L1407.0 1185.6L1399.4 1185.6L1397.5 1189.4L1393.7 1197.1L1387.9 1204.7L1378.4 1206.6L1376.5 1219.9L1374.6 1227.5L1368.9 1229.5L1363.2 1231.4L1367.0 1239.0L1355.5 1229.5L1347.9 1239.0L1340.3 1242.8L1332.7 1246.6L1325.1 1248.5L1323.2 1256.1L1327.0 1265.7L1317.4 1263.7L1325.1 1280.9L1311.7 1275.2L1309.8 1280.9L1302.2 1273.3L1298.4 1280.9L1291.7 1278.0M1275.2 1284.0L1266.9 1290.6L1270.2 1297.2L1266.9 1310.4L1257.0 1307.1L1252.1 1308.8L1245.5 1315.4L1240.5 1305.5L1237.2 1320.3L1230.6 1318.7L1222.4 1318.7L1220.7 1325.3L1214.1 1323.6L1207.5 1320.3L1200.9 1323.6L1192.7 1326.9L1192.7 1336.8L1181.1 1323.6L1184.4 1341.8L1174.5 1341.8L1171.2 1345.1L1164.6 1350.0L1161.3 1351.7L1158.0 1346.7L1153.1 1340.1L1148.1 1346.7L1139.9 1345.1L1133.3 1346.7L1128.3 1351.7L1123.4 1341.8M1107.8 1348.2L1103.3 1353.4L1100.2 1354.9L1095.7 1367.0L1092.7 1377.5L1088.2 1374.5L1082.2 1358.0L1077.7 1377.5L1065.6 1361.0L1062.6 1362.5L1059.6 1358.0L1056.6 1374.5L1053.6 1356.4L1049.1 1364.0L1046.0 1354.9L1043.0 1361.0L1038.5 1356.4L1031.0 1358.0L1026.5 1377.5L1023.5 1365.5L1020.4 1362.5L1014.4 1370.0L1008.4 1374.5L1005.4 1371.5L1000.9 1362.5L996.4 1394.1L993.3 1373.0L990.3 1359.5L985.8 1374.5L983.6 1365.5L978.3 1370.0L973.8 1359.5L966.2 1359.5L963.2 1359.5L960.2 1365.5L954.2 1354.9L951.2 1365.5L948.2 1368.5L945.2 1362.5L942.2 1356.4M923.7 1356.9L919.7 1362.4L916.6 1357.7L911.8 1352.9L905.5 1357.7L902.4 1358.5L897.7 1355.3L893.7 1352.2L888.2 1355.3L885.0 1353.7L881.9 1360.0L878.7 1350.6L875.6 1358.5L872.4 1350.6L863.0 1350.6L863.0 1342.7L856.7 1338.0L851.9 1344.3L850.4 1336.4L844.1 1352.2L837.7 1342.7L834.6 1338.0L829.9 1333.2L826.7 1341.1L822.0 1340.3L815.7 1341.1L814.3 1334.1M795.9 1328.8L791.7 1324.6L788.4 1319.5L783.3 1317.9L778.3 1321.2L773.3 1326.2L766.5 1331.3L764.9 1321.2L761.5 1327.9L758.2 1314.5L754.8 1321.2L751.4 1311.1L748.1 1317.9L743.0 1311.1L738.0 1297.7L734.6 1302.7L727.9 1297.7L726.2 1284.3L722.9 1285.9L721.2 1279.2L717.9 1280.9L711.1 1279.2L707.8 1280.9L702.7 1285.9L694.3 1294.3L691.0 1299.4L691.0 1285.9L687.6 1277.5L685.9 1265.8L684.3 1264.1M660.7 1263.8L661.7 1249.8L657.7 1243.8L649.7 1241.8L653.7 1235.8L645.7 1235.8L639.7 1241.8L631.7 1247.8L621.7 1259.8L619.7 1233.8L621.7 1213.8L615.7 1211.8L607.8 1207.8L603.8 1209.8L597.8 1199.8L591.8 1201.8L579.8 1205.8L569.8 1213.8L585.8 1197.8L579.8 1189.9L577.8 1181.9L573.8 1179.9L569.8 1169.9L565.8 1163.9L561.8 1153.9M550.2 1138.1L542.8 1142.3L538.6 1133.9L511.1 1152.9L532.3 1136.0L528.0 1133.9L530.1 1121.2L523.8 1114.8L530.1 1106.4L515.3 1110.6L523.8 1102.2L519.6 1091.6L517.5 1078.9L509.0 1081.0L496.3 1076.8L504.8 1064.1L485.8 1064.1L494.2 1057.8L490.0 1049.3L485.8 1038.8L483.6 1034.5L487.9 1026.1L475.2 1030.3L460.4 1030.3L466.7 1026.1L464.6 1021.9L451.9 1015.5L460.4 1009.2M471.0 981.4L462.9 978.4L467.0 968.2L460.9 962.1L458.9 954.0L450.8 945.9L452.8 939.8L450.8 935.8L436.6 935.8L450.8 925.7L440.6 921.6L452.8 911.5L442.7 909.4L451.8 901.3L434.6 897.3L454.8 891.2L448.8 889.2L448.8 881.1L442.7 877.0L449.8 870.9L438.6 866.9L446.7 860.8L442.7 856.7L434.6 852.7L422.4 848.6L410.2 845.6L426.5 841.5L422.4 838.5L434.6 834.5L428.5 830.4L430.5 826.3L432.5 822.3L434.6 817.2M436.9 799.2L440.8 793.3L434.9 787.4L429.0 783.4L427.0 779.5L434.9 775.5L429.0 771.6L436.9 765.7L440.8 759.8L448.7 753.9L434.9 748.0L444.8 742.1L434.9 736.2L444.8 730.3L426.1 727.3L446.7 724.4L444.8 718.4L447.7 716.5L444.8 710.6L434.9 706.6L429.0 704.7L448.7 700.7L399.5 679.1L436.9 683.0L432.0 679.1L429.0 675.1L435.9 675.1M461.3 658.2L460.3 654.0L456.2 652.0L460.3 649.9L464.4 647.9L468.5 643.8L468.5 633.5L466.4 625.3L464.4 617.1L468.5 610.9L476.7 604.7L464.4 598.6L470.5 594.4L482.9 590.3L476.7 582.1L487.0 575.9L482.9 569.8L491.1 563.6L499.3 561.6L491.1 553.3L464.4 538.9L484.9 547.2L480.8 541.0L470.5 532.8L476.7 534.8L487.0 538.9L491.1 534.8L501.4 538.9L505.5 534.8M518.8 519.2L521.0 506.0L521.0 492.8L532.0 497.2L512.2 479.6L527.6 488.4L536.4 484.0L532.0 473.0L540.8 477.4L547.4 481.8L554.0 466.4L558.4 448.8L565.0 431.2L576.0 418.0L571.6 402.6L582.6 411.4L591.4 413.6L598.0 396.0L604.6 382.8L611.2 387.2L615.6 374.0L626.6 374.0L613.4 352.0L637.6 378.4L652.7 389.7M654.1 365.0L648.6 350.1L656.0 348.3L652.3 340.9L657.8 340.9L663.4 346.4L667.1 348.3L672.7 346.4L676.4 348.3L685.6 352.0L680.1 337.2L687.5 346.4L691.2 342.7L696.8 337.2L700.5 340.9L704.2 333.5L707.9 329.8L713.4 333.5L717.1 327.9L720.8 311.2L724.6 313.1L728.3 309.4L735.7 314.9L733.8 300.1L741.2 292.7L746.8 294.6L752.3 298.3L757.9 285.3L763.5 296.4L767.2 290.8L772.7 290.8L776.4 289.0L782.0 298.3L785.7 290.8L789.4 292.7L793.1 289.0L796.8 290.8L800.5 287.2M808.4 261.6L816.1 269.4L820.8 252.3L830.1 270.9L833.2 266.3L836.3 258.5L845.6 266.3L848.7 264.7L853.4 269.4L856.5 253.9L862.7 260.1L868.9 263.2L872.0 255.4L876.7 258.5L886.0 263.2L895.4 257.0L898.5 241.4L904.7 255.4L909.3 250.7L914.0 247.6L917.9 252.3L921.8 236.8L924.9 238.3L928.0 252.3L932.6 239.9L940.4 253.9L943.5 246.1L948.2 252.3L954.4 249.2L960.6 252.3L963.7 249.2L966.8 250.7" fill="none" stroke="#2b8cc4" stroke-width="2.8" stroke-linejoin="round"/><path d="M1049.5 227.0L1055.1 215.7L1058.4 218.1L1060.8 228.6L1064.8 267.2L1069.6 263.2L1075.3 270.5L1084.1 273.7L1108.3 277.7L1121.1 280.9L1127.6 278.5L1134.0 283.3L1143.7 286.6L1151.7 286.6L1159.8 281.7L1162.2 289.8L1171.0 293.8L1193.6 295.4L1208.0 272.1L1212.1 275.3L1223.3 258.4L1218.5 281.7L1225.8 270.5L1222.5 291.4L1224.9 289.8M1243.0 302.2L1248.5 301.2L1254.0 296.6L1260.5 297.6L1257.7 304.0L1264.2 297.6L1268.8 296.6L1266.9 306.8L1270.6 316.0L1275.2 312.3L1280.7 314.1L1278.0 323.3L1284.4 321.5L1290.9 312.3L1301.0 302.2L1278.9 345.4L1288.1 350.0L1304.7 359.2L1317.6 368.4L1324.9 369.4L1336.0 381.3L1350.7 369.4L1356.2 371.2L1361.8 369.4L1371.0 369.4L1367.3 374.9L1380.2 369.4L1374.7 380.4L1382.0 378.6L1366.4 399.7M1403.6 385.5L1393.6 400.4L1399.6 398.5L1392.6 414.4L1397.6 410.4L1391.6 422.4L1393.6 434.3L1399.6 442.3L1407.6 454.2L1413.5 455.2L1419.5 464.2L1429.5 472.2L1439.4 482.1L1443.4 490.1L1455.4 486.1L1463.3 484.1L1475.3 480.1L1469.3 486.1L1480.3 479.1L1475.3 494.1L1481.3 496.1L1483.3 504.0L1487.2 504.0L1484.3 514.0L1473.3 521.9M1488.7 535.5L1510.1 535.5L1504.0 546.7L1508.0 547.7L1503.0 556.9L1494.8 567.0L1485.7 573.1L1490.8 582.3L1496.9 594.5L1503.0 612.8L1509.0 633.1L1511.1 643.3L1515.1 653.4L1521.2 665.6L1525.3 671.7L1531.4 674.8L1541.6 675.8L1555.8 680.9L1554.8 692.0L1531.4 699.1M1561.7 711.6L1580.0 712.2L1577.3 719.5L1563.6 725.0L1561.7 728.6L1548.9 732.3L1539.8 736.9L1534.3 742.3L1534.3 755.2L1535.2 788.1L1536.1 795.4L1539.8 796.3L1538.0 800.9L1540.7 806.4L1538.9 811.9L1548.9 813.7L1561.7 817.4L1580.0 822.9L1565.4 825.6L1574.6 832.9L1567.2 835.7L1565.4 841.2L1559.9 843.0L1560.8 848.5L1536.1 849.4M1555.9 868.9L1561.9 872.8L1559.9 877.8L1568.8 883.8L1555.9 887.7L1551.9 890.7L1562.9 903.6L1549.9 902.6L1555.9 905.6L1557.9 912.6L1559.9 920.5L1544.0 922.5L1529.1 924.5L1528.1 930.4L1524.1 934.4L1519.2 942.3L1516.2 956.2L1513.2 962.2L1510.2 972.1L1512.2 984.1L1506.2 988.0L1504.3 992.0L1510.2 998.0L1519.2 1009.9L1508.2 1005.9L1510.2 1015.8L1536.0 1035.7L1518.2 1031.7L1502.3 1025.8M1506.3 1048.1L1511.3 1060.1L1502.3 1059.1L1496.3 1059.1L1492.3 1070.1L1485.3 1072.1L1474.3 1070.1L1468.2 1073.1L1474.3 1084.2L1470.3 1088.2L1458.2 1092.2L1452.2 1095.2L1442.2 1110.2L1431.2 1126.2L1434.2 1134.3L1448.2 1146.3L1442.2 1142.3L1454.2 1155.3L1444.2 1152.3L1438.2 1148.3L1449.2 1162.3L1428.2 1148.3L1432.2 1162.3L1443.2 1178.3L1418.2 1162.3M1417.5 1185.6L1410.8 1189.4L1405.1 1193.3L1412.7 1200.9L1401.3 1191.4L1397.5 1204.7L1393.7 1212.3L1389.8 1210.4L1386.0 1212.3L1378.4 1219.9L1370.8 1216.1L1386.0 1237.1L1363.2 1216.1L1359.4 1223.7L1355.5 1223.7L1342.2 1219.9L1325.1 1233.3L1319.4 1239.0L1317.4 1246.6L1309.8 1244.7L1307.9 1254.2L1309.8 1265.7L1306.0 1277.1L1306.0 1296.1L1296.5 1286.6M1283.4 1300.5L1287.5 1317.0L1276.8 1307.1L1280.1 1315.4L1268.6 1310.4L1257.0 1293.9L1248.8 1290.6L1243.8 1287.3L1240.5 1292.3L1235.6 1290.6L1230.6 1292.3L1222.4 1295.6L1217.4 1300.5L1210.8 1300.5L1205.9 1305.5L1200.9 1305.5L1191.0 1308.8L1187.7 1313.7L1179.5 1313.7L1176.2 1323.6L1167.9 1322.0L1166.3 1320.3L1161.3 1332.7L1156.4 1345.1L1159.7 1371.5L1149.8 1350.0L1151.4 1356.6L1144.8 1346.7L1143.2 1369.8L1138.2 1355.0L1131.6 1346.7L1121.7 1331.9M1110.0 1361.0L1110.8 1382.0L1108.5 1389.6L1103.3 1374.5L1100.2 1377.5L1097.2 1368.5L1092.7 1359.5L1083.7 1350.4L1079.2 1339.9L1076.2 1342.9L1072.4 1339.9L1070.1 1344.4L1066.4 1339.9L1064.1 1342.1L1058.1 1342.1L1043.0 1342.9L1023.5 1345.9L1009.9 1347.4L1005.4 1345.9L990.3 1346.7L987.3 1365.5L982.8 1370.0L975.3 1376.0L972.3 1383.5L969.3 1370.0L966.2 1377.5L960.2 1370.0L954.2 1386.6L952.7 1361.0L949.7 1368.5L946.7 1362.5L943.7 1368.5L942.2 1351.9M922.9 1366.3L919.7 1368.7L916.6 1370.3L911.8 1371.1L908.7 1368.7L906.3 1364.8L904.0 1364.0L900.8 1360.0L897.7 1360.8L892.9 1380.5L888.2 1382.1L886.6 1379.0L889.0 1360.0L877.2 1404.2L885.8 1339.5L885.0 1336.4L881.9 1334.8L878.7 1334.8L875.6 1331.7L870.9 1332.5L867.7 1334.0L864.5 1328.5L853.5 1325.4L844.1 1323.0L834.6 1330.1L833.0 1326.9L828.3 1331.7L817.3 1355.3L805.4 1367.9L810.2 1348.2M796.8 1329.6L791.7 1331.3L788.4 1333.0L785.0 1333.0L779.1 1344.7L776.6 1329.6L773.3 1333.0L770.7 1309.5L774.1 1297.7L768.2 1296.0L761.5 1301.1L758.2 1291.0L753.1 1285.9L748.1 1284.3L744.7 1287.6L741.4 1284.3L736.3 1277.5L727.9 1274.2L717.9 1267.5L709.5 1272.5L702.7 1277.5L691.0 1291.0L694.3 1284.3L686.8 1292.7L689.3 1277.5L684.3 1280.9L680.9 1275.9L683.4 1270.8L685.9 1260.8L692.7 1250.7M677.7 1241.8L669.7 1235.8L659.7 1227.8L645.7 1233.8L653.7 1223.8L649.7 1227.8L641.7 1221.8L618.7 1241.8L623.7 1233.8L629.7 1225.8L635.7 1215.8L631.7 1205.8L625.7 1199.8L619.7 1201.8L615.7 1197.8L609.7 1197.8L605.8 1201.8L601.8 1197.8L597.8 1189.9L593.8 1185.9L587.8 1189.9L579.8 1191.9L575.8 1185.9L569.8 1181.9L563.8 1175.9L559.8 1171.9L553.8 1171.9L561.8 1163.9L565.8 1149.9M540.7 1144.4L537.5 1136.0L530.1 1129.6L517.5 1131.7L528.0 1119.1L538.6 1106.4L543.9 1097.9L537.5 1095.8L532.3 1076.8L523.8 1068.3L519.6 1055.7L509.0 1045.1L504.8 1034.5L500.6 1017.6L483.6 1014.5L471.0 1016.6L454.1 1021.9L473.1 1011.3L466.7 1013.4L460.4 1011.3L467.8 1007.1L458.3 1006.0L492.2 992.4M468.0 982.4L454.8 983.4L457.9 978.4L442.7 976.3L450.8 968.2L457.9 964.2L440.6 962.1L448.8 956.1L442.7 950.0L450.8 941.9L454.8 939.8L451.8 935.8L462.9 929.7L464.0 925.7L468.0 921.6L466.0 905.4L462.9 881.1L460.9 860.8L458.9 846.6L452.8 838.5L458.9 836.5L454.8 832.4L430.5 828.4L434.6 824.3L428.5 822.3L418.4 820.3L449.8 817.2M429.0 799.2L426.1 793.3L427.0 789.3L409.3 787.4L425.1 783.4L434.9 777.5L444.8 775.5L450.7 773.6L456.6 767.7L459.5 757.8L461.5 742.1L459.5 734.2L455.6 732.2L463.5 728.3L460.5 716.5L456.6 708.6L452.6 706.6L421.1 698.8L436.9 700.7L448.7 698.8L444.8 694.8L453.6 690.9L446.7 686.9L453.6 683.0L450.7 677.1M460.3 660.2L452.1 656.1L445.9 652.0L447.9 647.9L438.7 643.8L454.1 643.8L458.2 633.5L456.2 623.2L468.5 621.2L482.9 617.1L491.1 615.0L489.0 608.8L497.3 602.7L503.4 594.4L507.5 586.2L509.6 573.9L510.6 563.6L516.8 560.5L491.1 543.1L511.7 553.3L488.0 538.9L482.9 534.8L503.4 545.1L476.7 530.7L491.1 530.7L489.0 528.7L501.4 534.8L497.3 530.7L510.6 535.9M510.0 514.8L503.4 506.0L507.8 503.8L501.2 497.2L507.8 499.4L514.4 501.6L521.0 499.4L532.0 506.0L525.4 501.6L527.6 497.2L545.2 506.0L538.6 499.4L549.6 497.2L556.2 495.0L562.8 486.2L569.4 479.6L578.2 466.4L587.0 457.6L593.6 448.8L600.2 437.8L606.8 431.2L613.4 422.4L620.0 415.8L624.4 409.2L620.0 400.4L615.6 387.2L623.3 387.2L620.0 369.6L626.6 374.0L631.0 369.6L653.0 391.6M631.9 335.3L648.6 350.1L659.7 359.4L667.1 363.1L676.4 365.0L678.2 361.3L681.9 363.1L683.8 359.4L689.3 363.1L696.8 357.6L707.9 350.1L719.0 342.7L728.3 337.2L735.7 331.6L737.5 328.8L741.2 329.8L744.9 326.1L749.6 324.2L750.5 313.1L754.2 309.4L752.3 300.1L755.1 285.3L759.8 287.1L769.0 287.1L765.3 276.0L772.7 287.1L776.4 279.7L785.7 285.3L782.0 276.0L788.5 266.8L800.5 291.8M800.6 236.8L809.9 255.4L814.6 257.0L819.2 269.4L827.0 283.4L836.3 289.6L841.0 286.5L845.6 288.0L851.9 286.5L855.0 281.8L861.2 283.4L873.6 278.7L882.9 277.2L893.8 272.5L903.1 270.9L910.9 269.4L917.1 267.8L919.4 267.8L921.0 239.9L926.4 241.4L931.1 238.3L935.7 238.3L940.4 247.6L943.5 238.3L948.2 239.9L951.3 246.1L955.9 241.4L959.0 232.1L963.7 236.8L966.8 246.1" fill="none" stroke="#e3261d" stroke-width="2.8" stroke-linejoin="round"/>
<path d="M562.0 1381.5A722 722 0 0 1 559.0 1379.2L580.9 1350.6A686 686 0 0 0 583.7 1352.8ZM701.1 1197.1A491 491 0 0 1 699.1 1195.5L722.2 1165.4A453 453 0 0 0 724.1 1166.8Z" fill="#1d3f7e"/>
<g font-size="28" fill="#111"><text x="1196.4" y="47.5" transform="rotate(14.7 1196.4 47.5)" text-anchor="middle" dy="0.35em">1</text><text x="1437.2" y="156.6" transform="rotate(34.1 1437.2 156.6)" text-anchor="middle" dy="0.35em">2</text><text x="1613.3" y="320.2" transform="rotate(51.7 1613.3 320.2)" text-anchor="middle" dy="0.35em">3</text><text x="1734.6" y="537.5" transform="rotate(70 1734.6 537.5)" text-anchor="middle" dy="0.35em">4</text><text x="1781.3" y="772.5" transform="rotate(87.5 1781.3 772.5)" text-anchor="middle" dy="0.35em">5</text><text x="1755.4" y="1008.3" transform="rotate(105 1755.4 1008.3)" text-anchor="middle" dy="0.35em">6</text><text x="1656.9" y="1230.9" transform="rotate(122.8 1656.9 1230.9)" text-anchor="middle" dy="0.35em">7</text><text x="1501" y="1407.4" transform="rotate(-39.9 1501 1407.4)" text-anchor="middle" dy="0.35em">8</text><text x="1287.6" y="1534.6" transform="rotate(-21.7 1287.6 1534.6)" text-anchor="middle" dy="0.35em">9</text><text x="1036.6" y="1589" transform="rotate(-2.8 1036.6 1589)" text-anchor="middle" dy="0.35em">10</text><text x="817.1" y="1568.8" transform="rotate(13.3 817.1 1568.8)" text-anchor="middle" dy="0.35em">11</text><text x="633.9" y="1500.3" transform="rotate(27.7 633.9 1500.3)" text-anchor="middle" dy="0.35em">12</text><text x="454.5" y="1371" transform="rotate(43.9 454.5 1371)" text-anchor="middle" dy="0.35em">13</text><text x="309" y="1180.1" transform="rotate(61.5 309 1180.1)" text-anchor="middle" dy="0.35em">14</text><text x="225.5" y="940" transform="rotate(80.2 225.5 940)" text-anchor="middle" dy="0.35em">15</text><text x="219.8" y="711.1" transform="rotate(277 219.8 711.1)" text-anchor="middle" dy="0.35em">16</text><text x="271.3" y="511.9" transform="rotate(292 271.3 511.9)" text-anchor="middle" dy="0.35em">17</text><text x="402" y="296.6" transform="rotate(310.5 402 296.6)" text-anchor="middle" dy="0.35em">18</text><text x="612.6" y="123.2" transform="rotate(330.6 612.6 123.2)" text-anchor="middle" dy="0.35em">19</text><text x="846.9" y="36.7" transform="rotate(348.9 846.9 36.7)" text-anchor="middle" dy="0.35em">20</text></g>
<g font-size="36" font-weight="bold" fill="#111"><text x="1006.5" y="81" text-anchor="middle">a</text><text x="1006.5" y="118" text-anchor="middle">b</text><text x="1006.5" y="150.5" text-anchor="middle">c</text><text x="1006.5" y="192" text-anchor="middle">d</text><text x="1006.5" y="245.5" text-anchor="middle">e</text><text x="1006.5" y="305.6" text-anchor="middle">f</text><text x="1006.5" y="341" text-anchor="middle">g</text></g>
<g font-size="34" font-weight="bold" fill="#111"><text transform="translate(767 669.9) scale(0.97 1.08)">a. Chromosomes</text><text transform="translate(767 709) scale(0.97 1.08)">b. Gene density</text><text transform="translate(767 748.2) scale(0.97 1.08)">c. SNP density</text><text transform="translate(767 787.3) scale(0.97 1.08)">d. Indel density</text><text transform="translate(767 826.5) scale(0.97 1.08)">e. Recombination rates (<tspan fill="#3c4fb4" font-style="italic">&#961;</tspan> and <tspan fill="#e0291f" font-style="italic">R</tspan>)</text><text transform="translate(773 865.6) scale(0.97 1.08)">f. SV density</text><text transform="translate(767 904.8) scale(0.97 1.08)">g. GERP scores</text></g>
<text x="-2" y="26.5" font-size="50" font-weight="bold" fill="#111">a</text>
<text x="-1.5" y="1711.4" font-size="50" font-weight="bold" fill="#111">b</text>
<polygon fill="#e0830f" points="150.7,2361.0 150.7,2268.9 151.2,2262.5 151.7,2268.4 152.2,2273.1 152.7,2267.0 153.2,2274.6 153.7,2274.8 154.2,2285.5 154.7,2262.8 155.0,2262.7 155.2,2268.9 155.7,2295.5 156.2,2294.7 156.7,2285.8 157.2,2291.2 157.7,2290.2 158.2,2293.1 158.7,2297.0 159.2,2301.1 159.3,2297.4 159.7,2290.5 160.2,2282.3 160.7,2279.1 161.2,2288.6 161.7,2254.1 162.2,2243.0 162.7,2231.2 163.2,2240.1 163.7,2210.7 163.7,2210.5 164.2,2219.4 164.7,2225.7 165.2,2245.4 165.7,2235.7 166.2,2225.2 166.7,2238.9 167.2,2222.8 167.7,2209.3 168.2,2192.8 168.7,2204.9 169.2,2225.8 169.5,2181.6 169.7,2200.3 170.2,2219.0 170.7,2185.7 171.2,2188.7 171.7,2183.2 172.2,2223.2 172.7,2187.3 173.2,2202.3 173.7,2161.5 174.2,2217.2 174.7,2152.6 175.2,2184.2 175.7,2175.2 176.2,2161.1 176.7,2149.2 176.7,2123.7 177.2,2195.1 177.7,2142.5 178.2,2009.4 178.2,2097.4 178.7,2036.0 179.2,2172.3 179.7,2111.6 179.9,2080.3 180.2,2139.5 180.7,2126.0 181.2,2126.0 181.6,2094.7 181.7,2098.4 182.2,2101.6 182.7,2104.9 183.2,2114.3 183.7,2107.7 184.2,2149.0 184.7,2090.3 185.2,2112.6 185.4,2089.0 185.7,2143.2 186.2,2121.5 186.7,2110.8 187.2,2184.2 187.7,2177.1 188.2,2074.7 188.3,2070.2 188.7,2084.9 189.2,2123.8 189.7,2110.1 190.2,2174.7 190.3,2123.7 190.7,2134.5 191.2,2179.3 191.7,2166.3 192.2,2179.3 192.7,2158.4 192.7,2206.9 193.2,2198.7 193.7,2163.4 194.2,2213.4 194.7,2208.9 195.2,2169.3 195.7,2147.7 196.2,2175.4 196.7,2196.5 197.0,2126.6 197.2,2206.5 197.7,2135.2 198.2,2132.3 198.7,2173.2 199.2,2177.4 199.7,2133.8 200.2,2134.7 200.7,2121.1 201.2,2145.2 201.3,2117.9 201.7,2144.8 202.2,2099.1 202.7,2095.2 203.2,2147.4 203.7,2065.7 203.7,2082.2 204.2,2121.8 204.7,2057.5 205.2,2103.3 205.7,1973.4 205.7,1988.0 206.2,1972.6 206.7,2016.8 207.2,2002.5 207.4,1961.6 207.7,1987.4 208.2,1997.7 208.7,1962.9 209.2,1955.8 209.2,1957.8 209.7,2003.2 210.2,2058.1 210.7,1989.3 210.9,1963.0 211.2,1988.3 211.7,2017.2 212.2,2079.1 212.3,1967.4 212.7,2030.9 213.2,2136.3 213.7,2098.5 213.8,2036.8 214.2,2180.3 214.7,2122.5 215.2,2189.2 215.2,2132.4 215.7,2201.0 216.2,2160.1 216.7,2213.0 217.2,2164.2 217.7,2188.2 218.2,2201.8 218.7,2170.0 219.2,2170.1 219.7,2215.3 220.2,2219.8 220.7,2203.6 221.2,2215.8 221.7,2190.0 222.2,2163.0 222.7,2227.2 223.1,2152.6 223.2,2164.9 223.7,2217.0 224.2,2201.2 224.7,2145.0 225.2,2161.6 225.7,2179.5 225.9,2136.7 226.2,2188.1 226.7,2200.0 227.2,2206.0 227.7,2165.2 228.2,2176.2 228.7,2185.7 229.2,2198.0 229.7,2191.1 230.2,2194.6 230.3,2193.1 230.7,2198.0 231.2,2232.5 231.7,2214.6 232.2,2199.2 232.7,2197.5 233.2,2199.1 233.7,2187.9 234.1,2187.4 234.2,2206.9 234.7,2190.0 235.2,2235.8 235.7,2200.7 236.2,2186.2 236.7,2183.0 236.9,2170.1 237.2,2215.0 237.7,2221.2 238.2,2218.4 238.7,2234.3 239.2,2213.2 239.6,2204.8 239.7,2219.7 240.2,2219.0 240.7,2242.1 241.2,2234.1 241.7,2224.8 241.9,2222.1 242.2,2252.1 242.7,2228.1 243.2,2238.5 243.7,2245.1 244.2,2234.9 244.7,2245.6 245.2,2242.0 245.7,2256.2 246.2,2252.8 246.7,2261.5 247.2,2262.6 247.7,2251.1 247.7,2256.1 248.2,2261.5 248.7,2258.1 249.2,2255.4 249.7,2247.8 250.2,2278.8 250.7,2246.8 251.2,2250.2 251.7,2255.0 252.2,2249.3 252.7,2247.2 253.2,2253.7 253.4,2239.5 253.7,2240.7 254.2,2267.4 254.7,2259.1 255.2,2254.7 255.7,2261.4 256.2,2282.8 256.7,2255.4 257.2,2257.7 257.7,2261.5 257.8,2254.0 258.2,2263.8 258.7,2277.3 258.7,2361.0"/>
<polygon fill="#2e2a7e" points="258.7,2361.0 258.7,2267.2 259.2,2259.6 259.7,2265.8 260.2,2265.1 260.7,2254.0 260.7,2263.5 261.2,2255.4 261.7,2263.0 262.2,2258.8 262.7,2286.5 263.2,2281.6 263.7,2274.0 264.2,2269.5 264.7,2273.2 265.2,2277.3 265.7,2288.6 266.2,2276.4 266.7,2272.4 267.2,2280.6 267.7,2274.3 267.9,2271.4 268.2,2282.5 268.7,2277.0 269.2,2272.4 269.7,2278.8 270.2,2280.6 270.7,2279.5 271.2,2273.5 271.7,2280.2 272.2,2280.3 272.7,2296.3 273.2,2278.1 273.7,2278.5 273.7,2272.8 274.2,2292.0 274.7,2268.5 275.2,2289.3 275.7,2264.6 276.2,2260.2 276.7,2255.3 277.2,2261.1 277.7,2268.8 278.1,2239.6 278.2,2254.5 278.7,2262.8 279.2,2264.7 279.7,2236.4 280.2,2243.4 280.7,2231.6 281.2,2229.3 281.7,2235.3 282.2,2226.6 282.4,2219.2 282.7,2216.5 283.2,2209.8 283.7,2185.6 284.2,2170.6 284.7,2167.1 285.2,2178.7 285.7,2185.1 286.2,2130.4 286.7,2164.7 286.7,2094.8 287.2,2181.0 287.7,2171.3 288.2,2042.6 288.2,2124.3 288.7,2146.0 289.2,2129.8 289.7,2071.8 290.2,2017.6 290.7,2149.9 291.1,2000.7 291.2,2005.9 291.7,2067.9 292.2,2121.5 292.7,2065.0 293.1,2045.5 293.2,2177.8 293.7,2082.9 294.2,2133.5 294.7,2128.7 295.2,2155.0 295.4,2065.8 295.7,2134.3 296.2,2088.1 296.7,2072.3 297.2,2124.8 297.7,2099.5 298.2,2167.6 298.7,2105.4 299.2,2079.4 299.7,2104.6 300.2,2069.6 300.7,2108.9 301.2,2099.9 301.2,2068.7 301.7,2109.5 302.2,2163.2 302.7,2154.9 303.2,2126.6 303.7,2097.6 304.2,2081.9 304.7,2182.2 305.2,2138.8 305.6,2071.6 305.7,2163.1 306.2,2162.8 306.7,2122.4 307.2,2111.8 307.3,2094.9 307.7,2168.9 308.2,2160.7 308.4,2138.0 308.7,2140.0 309.2,2214.2 309.7,2196.2 310.2,2161.6 310.7,2200.9 311.2,2154.8 311.4,2152.7 311.7,2206.2 312.2,2153.9 312.7,2199.2 313.2,2220.5 313.7,2179.8 314.2,2183.8 314.2,2155.6 314.7,2180.1 315.2,2180.6 315.7,2154.6 316.2,2190.5 316.7,2175.6 317.2,2213.6 317.7,2176.6 317.7,2152.6 318.2,2152.8 318.7,2140.0 319.2,2199.4 319.7,2140.2 320.2,2168.1 320.6,2090.5 320.7,2154.2 321.2,2132.7 321.7,2129.8 322.2,2131.3 322.4,2123.7 322.7,2146.3 323.2,2142.8 323.7,2159.9 324.2,2169.1 324.4,2158.5 324.7,2214.7 325.2,2162.4 325.7,2167.2 326.2,2221.8 326.7,2193.4 327.2,2202.3 327.7,2219.5 328.2,2164.5 328.7,2195.3 328.7,2164.2 329.2,2195.8 329.7,2200.4 330.2,2221.9 330.7,2214.1 331.2,2212.6 331.7,2253.5 332.2,2227.3 332.7,2227.6 333.1,2225.0 333.2,2226.8 333.7,2241.5 334.2,2239.4 334.7,2243.7 335.2,2229.4 335.7,2261.8 336.2,2259.0 336.7,2248.4 337.2,2245.6 337.4,2233.7 337.7,2235.1 338.2,2246.8 338.7,2230.6 339.2,2244.9 339.7,2239.2 340.2,2264.0 340.7,2237.5 341.2,2225.2 341.7,2228.2 341.8,2219.3 342.2,2224.9 342.7,2241.6 343.2,2249.1 343.7,2247.1 344.2,2272.2 344.7,2253.2 345.2,2263.0 345.7,2269.5 346.1,2259.8 346.2,2262.5 346.7,2266.2 347.2,2264.4 347.7,2271.2 348.2,2253.8 348.7,2251.8 349.0,2239.4 349.2,2266.3 349.7,2228.7 350.2,2213.6 350.7,2204.1 351.2,2202.3 351.3,2361.0"/>
<polygon fill="#e0830f" points="351.3,2361.0 351.3,2175.9 351.8,2222.3 352.3,2215.5 352.8,2242.4 353.3,2258.3 353.8,2288.3 354.3,2285.3 354.8,2297.4 354.8,2301.3 355.3,2316.7 355.8,2307.9 356.3,2305.3 356.8,2307.6 357.3,2310.1 357.8,2306.9 358.3,2306.1 358.8,2312.1 359.3,2313.8 359.8,2310.3 360.3,2313.9 360.6,2309.0 360.8,2314.2 361.3,2310.5 361.8,2307.5 362.3,2298.4 362.8,2302.3 363.3,2296.2 363.8,2301.5 364.3,2288.5 364.8,2295.8 365.3,2282.4 365.8,2284.3 366.3,2288.4 366.4,2268.4 366.8,2262.8 367.3,2269.8 367.8,2239.4 368.3,2219.0 368.8,2205.5 369.3,2187.4 369.8,2204.2 370.3,2204.0 370.7,2123.7 370.8,2125.8 371.3,2127.7 371.8,2174.2 372.3,2180.9 372.8,2159.3 373.3,2059.0 373.8,2128.0 374.2,2037.0 374.3,2161.3 374.8,2081.5 375.3,2071.4 375.6,2065.8 375.8,2107.3 376.3,2102.8 376.8,2148.6 377.3,2183.2 377.4,2138.2 377.8,2187.7 378.3,2204.1 378.8,2141.7 379.3,2163.0 379.4,2094.7 379.8,2117.3 380.3,2150.6 380.8,2099.3 381.3,2173.3 381.4,2067.3 381.8,2164.1 382.3,2105.4 382.8,2126.6 383.3,2140.4 383.7,2123.7 383.8,2162.2 384.3,2158.9 384.8,2192.6 385.3,2201.6 385.8,2200.5 386.3,2220.7 386.6,2152.6 386.8,2176.7 387.3,2195.4 387.8,2204.9 388.3,2173.0 388.8,2207.0 389.3,2159.6 389.5,2138.2 389.8,2189.6 390.3,2139.1 390.8,2133.3 391.3,2124.5 391.8,2125.0 392.3,2100.9 392.8,2172.7 393.3,2081.8 393.3,2109.1 393.8,2191.3 394.3,2176.6 394.8,2134.2 395.3,2123.5 395.3,2123.7 395.8,2145.6 396.3,2158.7 396.8,2175.6 397.3,2186.1 397.8,2186.5 398.2,2187.3 398.3,2208.0 398.8,2209.1 399.3,2217.5 399.8,2225.6 400.3,2243.7 400.8,2214.3 401.3,2237.6 401.8,2232.7 402.3,2201.7 402.8,2224.7 403.1,2199.0 403.3,2205.2 403.8,2211.7 404.3,2212.7 404.8,2225.6 405.3,2246.2 405.8,2219.4 406.3,2225.6 406.8,2222.4 406.9,2216.4 407.3,2251.0 407.8,2236.7 408.3,2215.7 408.8,2217.4 409.3,2214.6 409.8,2200.0 410.3,2198.1 410.8,2237.8 411.3,2218.0 411.8,2214.7 412.3,2194.6 412.7,2172.9 412.8,2218.1 413.3,2212.2 413.8,2207.6 414.3,2206.0 414.8,2243.4 415.3,2218.1 415.6,2210.6 415.8,2214.3 416.3,2228.3 416.8,2247.1 417.3,2222.4 417.8,2239.1 418.3,2240.8 418.5,2222.1 418.8,2227.1 419.3,2236.1 419.8,2229.4 420.3,2254.5 420.8,2230.1 421.3,2236.0 421.8,2259.2 422.3,2241.2 422.8,2245.9 423.3,2242.6 423.8,2249.1 424.3,2239.5 424.3,2250.5 424.8,2240.3 425.3,2253.6 425.8,2241.7 426.3,2240.9 426.8,2265.3 427.3,2272.8 427.8,2245.7 428.3,2251.1 428.8,2243.4 429.3,2240.3 429.8,2245.7 430.1,2230.8 430.3,2244.2 430.8,2250.0 431.3,2246.3 431.8,2251.9 432.3,2268.7 432.8,2254.9 433.3,2246.0 433.8,2260.3 434.3,2272.0 434.8,2257.3 435.3,2259.3 435.8,2261.8 436.3,2260.4 436.8,2267.5 437.3,2262.7 437.3,2262.6 437.8,2271.3 438.3,2259.2 438.8,2255.8 439.3,2256.5 439.3,2361.0"/>
<polygon fill="#2e2a7e" points="439.3,2361.0 439.3,2253.0 439.8,2272.7 440.2,2239.5 440.3,2246.2 440.8,2248.2 441.3,2267.4 441.8,2253.0 442.3,2250.1 442.8,2251.6 443.3,2258.3 443.8,2263.9 444.3,2259.6 444.8,2255.8 445.3,2255.8 445.8,2259.3 446.0,2256.9 446.3,2277.8 446.8,2258.8 447.3,2267.8 447.8,2264.8 448.3,2279.3 448.8,2267.4 449.3,2270.4 449.8,2260.0 450.3,2267.9 450.8,2259.0 451.3,2263.5 451.8,2256.9 451.8,2279.9 452.3,2282.3 452.8,2264.4 453.3,2247.8 453.8,2277.5 454.3,2248.8 454.8,2241.4 455.3,2247.9 455.8,2242.2 456.1,2225.0 456.3,2226.8 456.8,2238.3 457.3,2246.6 457.8,2226.7 458.3,2246.3 458.8,2250.3 459.3,2224.3 459.8,2219.1 460.3,2228.6 460.4,2210.6 460.8,2223.1 461.3,2223.1 461.8,2229.2 462.3,2229.4 462.8,2220.4 463.3,2226.9 463.8,2253.2 464.3,2230.3 464.8,2216.4 464.8,2216.4 465.3,2230.7 465.8,2232.3 466.3,2232.3 466.8,2219.4 467.3,2234.7 467.8,2229.0 468.3,2229.6 468.8,2236.1 469.1,2216.3 469.3,2230.7 469.8,2222.3 470.3,2212.6 470.8,2218.2 471.3,2229.0 471.8,2214.9 472.3,2228.3 472.8,2238.3 473.3,2216.7 473.5,2201.9 473.8,2217.0 474.3,2215.8 474.8,2223.8 475.3,2203.6 475.8,2208.8 476.3,2226.8 476.8,2206.3 477.3,2185.4 477.8,2165.8 477.8,2152.7 478.3,2175.5 478.8,2133.7 479.3,2100.6 479.3,2104.9 479.8,2173.5 480.3,2144.7 480.8,2170.6 481.3,2143.5 481.8,2114.1 482.2,2036.7 482.3,2062.4 482.8,2017.0 483.3,2017.3 483.6,1979.1 483.8,2114.9 484.3,1986.3 484.5,1947.2 484.8,2046.4 485.3,2024.2 485.8,2120.0 485.9,1993.4 486.3,2091.0 486.8,2102.8 487.3,2093.3 487.8,2038.0 488.0,2039.8 488.3,2074.1 488.8,2073.3 489.3,2175.5 489.8,2104.8 490.3,2106.5 490.8,2138.6 490.9,2094.7 491.3,2139.8 491.8,2151.6 492.3,2155.4 492.8,2154.1 493.3,2174.8 493.8,2152.7 493.8,2169.5 494.3,2195.3 494.8,2166.7 495.3,2199.4 495.8,2205.7 496.3,2202.8 496.8,2166.4 497.3,2146.7 497.8,2173.9 498.1,2142.5 498.3,2199.4 498.8,2162.5 499.3,2159.7 499.8,2193.6 500.3,2201.4 500.8,2171.7 501.0,2146.9 501.3,2160.5 501.8,2149.6 502.3,2182.1 502.8,2165.8 503.3,2173.3 503.8,2159.1 503.9,2139.6 504.3,2153.3 504.8,2146.5 505.3,2201.8 505.8,2194.5 506.3,2204.3 506.8,2152.6 506.8,2153.4 507.3,2203.8 507.8,2164.5 508.3,2123.8 508.8,2094.8 509.3,2091.6 509.8,2075.7 510.3,2172.0 510.5,2041.3 510.8,2158.0 511.3,2174.2 511.8,2127.4 512.3,2124.0 512.3,2152.9 512.8,2167.3 513.3,2198.2 513.8,2224.5 514.0,2230.7 514.3,2243.0 514.8,2246.2 515.3,2244.7 515.8,2235.4 516.3,2243.0 516.8,2249.8 517.3,2252.8 517.8,2267.6 518.3,2265.1 518.4,2239.5 518.8,2270.1 519.3,2240.7 519.8,2266.7 520.3,2269.8 520.8,2258.1 521.2,2242.4 521.3,2242.8 521.8,2245.9 522.3,2274.1 522.8,2274.7 523.3,2254.1 523.8,2276.6 524.3,2253.2 524.8,2278.2 525.3,2258.4 525.6,2251.1 525.8,2252.0 526.3,2266.0 526.8,2264.1 527.3,2256.3 527.8,2257.3 528.3,2259.9 528.8,2273.1 529.3,2266.1 529.8,2267.0 530.3,2283.2 530.8,2270.6 531.3,2294.9 531.4,2265.6 531.8,2267.5 532.3,2295.4 532.8,2268.5 533.3,2272.9 533.8,2270.0 534.3,2296.3 534.8,2270.0 535.3,2269.7 535.8,2276.5 536.3,2280.9 536.8,2277.9 537.2,2268.5 537.3,2274.1 537.8,2270.2 538.3,2274.2 538.8,2290.7 539.0,2361.0"/>
<polygon fill="#e0830f" points="539.0,2361.0 539.0,2271.3 539.5,2261.9 540.0,2267.8 540.1,2256.1 540.5,2267.2 541.0,2267.7 541.5,2269.1 542.0,2267.7 542.5,2261.9 543.0,2261.4 543.5,2272.0 544.0,2270.0 544.5,2267.9 545.0,2268.9 545.5,2261.7 546.0,2287.7 546.5,2264.1 547.0,2270.8 547.4,2261.9 547.5,2269.3 548.0,2261.6 548.5,2258.7 549.0,2261.5 549.5,2273.0 550.0,2261.9 550.5,2245.1 551.0,2226.4 551.5,2233.9 551.7,2218.5 552.0,2239.7 552.5,2200.7 553.0,2217.1 553.2,2180.9 553.5,2221.8 554.0,2213.3 554.5,2154.6 555.0,2132.6 555.5,2187.9 556.0,2103.2 556.1,2092.5 556.5,2124.7 557.0,2120.3 557.5,2114.8 558.0,2164.5 558.5,2149.8 559.0,2096.9 559.0,2205.3 559.5,2173.9 560.0,2096.2 560.5,2195.4 561.0,2118.1 561.5,2101.6 561.9,2073.7 562.0,2098.6 562.5,2079.0 563.0,2075.4 563.5,2076.9 564.0,2103.2 564.2,2030.3 564.5,2085.9 565.0,2085.7 565.5,2107.6 565.6,2007.1 566.0,2045.1 566.5,2025.0 567.0,2133.4 567.1,2030.3 567.5,2127.6 568.0,2071.7 568.5,2125.9 569.0,2100.4 569.1,2070.9 569.5,2107.0 570.0,2107.6 570.5,2140.6 571.0,2182.0 571.5,2115.3 572.0,2120.3 572.5,2135.0 573.0,2199.3 573.4,2140.3 573.5,2185.9 574.0,2155.4 574.5,2132.5 575.0,2168.1 575.5,2157.5 575.7,2117.2 576.0,2120.9 576.5,2156.6 577.0,2103.2 577.2,2091.1 577.5,2104.1 578.0,2101.9 578.5,2164.6 579.0,2102.3 579.5,2158.6 579.8,2062.1 580.0,2094.3 580.5,2057.6 581.0,2054.0 581.5,2061.9 582.0,2070.1 582.1,2039.0 582.5,2119.3 583.0,2052.5 583.5,2121.5 583.6,2026.0 584.0,2172.1 584.5,2070.7 585.0,2050.4 585.0,2050.6 585.5,2080.2 586.0,2110.3 586.5,2128.0 587.0,2118.6 587.5,2168.1 587.9,2137.3 588.0,2164.8 588.5,2213.7 589.0,2179.2 589.5,2186.6 590.0,2185.5 590.5,2209.3 591.0,2233.5 591.5,2222.8 592.0,2225.2 592.2,2221.4 592.5,2228.3 593.0,2236.8 593.5,2247.4 594.0,2258.0 594.5,2225.0 595.0,2235.6 595.5,2239.5 596.0,2237.7 596.5,2232.3 596.6,2222.8 597.0,2239.5 597.5,2248.2 598.0,2246.7 598.5,2258.6 599.0,2263.4 599.5,2261.8 599.5,2267.1 600.0,2271.7 600.5,2269.8 601.0,2264.1 601.5,2271.2 602.0,2263.1 602.5,2271.1 603.0,2266.6 603.5,2267.0 604.0,2268.1 604.5,2271.3 605.0,2274.3 605.5,2270.2 606.0,2273.0 606.5,2277.6 607.0,2267.6 607.5,2269.8 608.0,2272.8 608.2,2264.8 608.5,2275.8 609.0,2277.9 609.5,2268.1 610.0,2274.1 610.5,2270.2 611.0,2270.0 611.5,2276.9 612.0,2273.1 612.5,2286.5 613.0,2270.9 613.5,2271.9 614.0,2278.1 614.5,2275.1 615.0,2280.0 615.5,2271.0 616.0,2279.1 616.5,2294.4 616.9,2270.6 617.0,2275.6 617.5,2276.5 618.0,2276.0 618.5,2278.8 619.0,2282.3 619.3,2361.0"/>
<polygon fill="#2e2a7e" points="619.3,2361.0 619.3,2274.5 619.8,2272.8 620.3,2279.8 620.3,2270.6 620.8,2291.8 621.3,2274.6 621.8,2275.6 622.3,2263.6 622.8,2288.4 623.3,2288.3 623.8,2258.2 624.3,2264.1 624.8,2276.5 625.3,2251.3 625.5,2247.4 625.8,2260.5 626.3,2254.0 626.8,2252.4 627.3,2259.9 627.8,2261.5 628.3,2260.7 628.8,2255.8 629.3,2268.2 629.8,2270.3 630.3,2268.7 630.8,2268.6 631.3,2263.0 631.3,2261.9 631.8,2270.2 632.3,2258.8 632.8,2252.3 633.3,2259.0 633.8,2255.5 634.3,2255.1 634.8,2251.5 635.3,2239.3 635.8,2267.5 636.3,2235.7 636.5,2221.4 636.8,2231.2 637.3,2268.3 637.8,2249.4 638.3,2250.3 638.8,2245.6 639.3,2255.2 639.8,2259.4 640.3,2262.1 640.8,2267.4 641.3,2288.9 641.5,2261.9 641.8,2272.5 642.3,2291.8 642.8,2268.4 643.3,2274.4 643.8,2271.1 644.3,2276.1 644.8,2276.8 645.3,2281.8 645.8,2276.3 645.8,2276.4 646.3,2280.0 646.8,2277.3 647.3,2271.6 647.8,2293.6 648.3,2290.9 648.8,2264.3 649.3,2287.5 649.8,2258.3 650.3,2258.7 650.8,2255.3 651.3,2258.4 651.6,2247.4 651.8,2248.2 652.3,2244.9 652.8,2256.4 653.3,2238.6 653.8,2243.9 654.3,2235.0 654.8,2256.2 655.3,2254.0 655.8,2240.6 656.3,2255.1 656.8,2220.0 657.3,2228.7 657.4,2215.6 657.8,2224.3 658.3,2222.6 658.8,2243.6 659.3,2253.8 659.8,2223.3 660.3,2229.0 660.8,2226.6 661.3,2236.6 661.7,2204.0 661.8,2222.3 662.3,2218.1 662.8,2220.3 663.3,2234.5 663.8,2220.4 664.3,2218.1 664.8,2216.1 665.3,2235.6 665.8,2213.5 666.1,2196.8 666.3,2195.3 666.8,2205.4 667.3,2209.5 667.8,2228.6 668.3,2208.6 668.8,2213.2 669.3,2183.3 669.8,2221.4 670.3,2213.7 670.4,2160.5 670.8,2169.7 671.3,2153.9 671.8,2205.9 672.3,2201.1 672.8,2197.3 673.3,2191.2 673.8,2208.8 673.9,2104.1 674.3,2194.5 674.8,2181.4 675.3,2137.4 675.8,2195.2 676.3,2164.5 676.8,2157.7 677.3,2171.0 677.6,2148.9 677.8,2167.3 678.3,2192.2 678.8,2152.6 679.3,2169.5 679.8,2192.8 680.3,2150.3 680.5,2141.7 680.8,2153.3 681.3,2153.1 681.8,2143.8 682.3,2164.4 682.8,2187.6 683.3,2158.1 683.8,2159.8 684.3,2133.4 684.8,2185.5 684.9,2131.6 685.3,2200.0 685.8,2201.1 686.3,2102.2 686.3,2044.8 686.8,2063.2 687.3,2015.4 687.8,1989.8 687.8,2084.0 688.3,2087.2 688.8,2029.8 689.2,2045.0 689.3,2139.9 689.8,2104.9 690.3,2184.2 690.7,2114.1 690.8,2149.7 691.3,2137.5 691.8,2198.1 692.3,2210.0 692.8,2202.5 693.3,2193.1 693.6,2175.1 693.8,2185.3 694.3,2196.1 694.8,2194.0 695.3,2219.7 695.8,2224.1 696.3,2246.6 696.5,2218.4 696.8,2221.7 697.3,2225.2 697.8,2209.5 698.3,2211.8 698.8,2221.2 699.3,2225.2 699.4,2189.5 699.8,2202.1 700.3,2200.2 700.8,2197.5 701.3,2230.4 701.7,2182.4 701.8,2225.3 702.3,2215.6 702.8,2232.9 703.3,2253.7 703.7,2232.9 703.8,2251.4 704.3,2250.6 704.8,2252.5 705.3,2270.7 705.8,2271.4 706.3,2272.8 706.6,2276.4 706.8,2297.0 707.3,2279.0 707.8,2283.7 708.3,2283.7 708.8,2299.5 709.3,2303.0 709.8,2289.2 710.3,2287.0 710.8,2291.5 711.3,2296.6 711.8,2291.8 712.3,2296.3 712.4,2290.9 712.8,2294.8 713.3,2313.9 713.8,2303.1 714.3,2301.7 714.8,2304.4 715.3,2307.5 715.8,2316.6 716.3,2306.2 716.7,2305.3 716.8,2307.5 717.1,2361.0"/>
<polygon fill="#e0830f" points="717.1,2361.0 717.1,2303.3 717.6,2292.7 718.1,2288.7 718.6,2284.3 719.1,2274.4 719.6,2271.4 719.6,2261.9 720.1,2264.4 720.6,2263.4 721.1,2265.9 721.6,2288.4 722.1,2263.1 722.6,2269.8 723.1,2289.9 723.6,2264.4 724.0,2259.0 724.1,2272.7 724.6,2265.7 725.1,2266.8 725.6,2274.8 726.1,2279.6 726.6,2282.3 727.1,2287.7 727.6,2281.2 728.1,2304.7 728.6,2294.3 729.1,2305.2 729.6,2295.4 729.8,2290.8 730.1,2308.4 730.6,2290.8 731.1,2281.2 731.6,2278.0 732.1,2295.1 732.6,2289.9 733.1,2289.6 733.6,2274.7 734.1,2270.5 734.6,2260.9 735.1,2251.5 735.6,2247.4 735.6,2252.4 736.1,2242.2 736.6,2245.5 737.1,2233.2 737.6,2219.8 738.1,2236.5 738.6,2224.1 739.0,2189.6 739.1,2209.5 739.6,2191.1 740.1,2197.5 740.6,2173.5 741.1,2144.5 741.4,2124.4 741.6,2146.1 742.1,2205.9 742.6,2178.7 742.8,2160.7 743.1,2195.8 743.6,2231.0 744.1,2230.3 744.2,2201.0 744.6,2224.6 745.1,2230.4 745.6,2228.0 746.1,2241.3 746.6,2239.1 747.1,2250.5 747.6,2256.5 748.1,2263.2 748.6,2261.9 748.6,2265.9 749.1,2287.3 749.6,2276.9 750.1,2291.0 750.6,2278.2 751.1,2267.7 751.5,2267.7 751.6,2277.7 752.1,2261.3 752.6,2253.4 753.1,2228.7 753.6,2250.3 754.1,2217.0 754.6,2238.2 755.1,2180.5 755.6,2178.7 755.8,2154.8 756.1,2177.8 756.6,2171.4 757.1,2198.5 757.6,2191.0 758.1,2187.0 758.6,2206.7 758.7,2175.0 759.1,2191.9 759.6,2209.8 760.1,2212.4 760.6,2192.4 761.1,2215.5 761.6,2171.2 761.6,2162.0 762.1,2207.1 762.6,2224.4 763.1,2188.7 763.6,2211.5 764.1,2166.8 764.5,2160.6 764.6,2179.1 765.1,2167.0 765.6,2169.3 766.1,2175.1 766.6,2186.1 767.1,2173.8 767.4,2163.5 767.6,2190.4 768.1,2206.3 768.6,2191.3 769.1,2177.3 769.6,2198.5 770.1,2212.4 770.3,2175.0 770.6,2193.3 771.1,2225.1 771.6,2230.7 772.1,2220.7 772.6,2219.0 773.1,2203.2 773.2,2189.5 773.6,2195.4 774.1,2210.3 774.6,2189.5 775.1,2217.9 775.6,2190.4 776.1,2160.6 776.1,2160.5 776.6,2218.5 777.1,2203.5 777.6,2146.5 778.1,2156.8 778.6,2151.0 779.0,2131.6 779.1,2141.3 779.6,2197.0 780.1,2120.9 780.6,2119.6 780.7,2112.8 781.1,2177.5 781.6,2194.1 782.1,2136.5 782.5,2131.6 782.6,2134.3 783.1,2153.0 783.6,2201.9 784.1,2168.1 784.6,2190.4 784.8,2172.2 785.1,2226.9 785.6,2212.6 786.1,2185.3 786.6,2204.3 787.1,2188.2 787.6,2232.1 788.1,2208.7 788.6,2195.5 789.1,2190.4 789.1,2189.5 789.6,2233.2 790.1,2195.7 790.6,2233.2 791.1,2193.5 791.6,2186.6 792.1,2195.1 792.6,2205.3 793.1,2196.1 793.5,2177.9 793.6,2201.6 794.1,2202.6 794.6,2187.4 795.1,2223.9 795.6,2216.2 796.1,2200.0 796.4,2189.5 796.6,2218.3 797.1,2198.6 797.6,2219.9 798.1,2204.0 798.6,2236.8 799.1,2215.4 799.2,2204.0 799.6,2214.6 800.1,2246.0 800.6,2225.0 801.1,2218.4 801.6,2203.4 802.1,2225.0 802.5,2361.0"/>
<polygon fill="#2e2a7e" points="802.5,2361.0 802.5,2250.9 803.0,2222.1 803.5,2226.8 803.6,2202.6 804.0,2209.3 804.5,2231.6 805.0,2220.0 805.5,2221.9 806.0,2227.7 806.5,2236.9 807.0,2228.5 807.5,2234.1 807.9,2232.9 808.0,2270.0 808.5,2231.9 809.0,2230.1 809.5,2268.7 810.0,2244.6 810.5,2232.4 810.8,2224.3 811.0,2238.0 811.5,2264.5 812.0,2244.9 812.5,2238.4 813.0,2229.5 813.5,2232.8 814.0,2269.8 814.5,2238.7 815.0,2249.7 815.5,2247.3 816.0,2237.5 816.5,2271.3 816.6,2235.8 817.0,2239.8 817.5,2245.0 818.0,2263.2 818.5,2275.5 819.0,2286.2 819.5,2263.4 819.5,2261.9 820.0,2278.8 820.5,2281.7 821.0,2281.2 821.5,2291.7 822.0,2296.5 822.4,2290.8 822.5,2292.0 823.0,2287.3 823.5,2287.5 824.0,2287.9 824.5,2277.2 825.0,2267.4 825.5,2290.4 826.0,2264.9 826.5,2279.8 826.8,2250.3 827.0,2256.5 827.5,2287.3 828.0,2258.7 828.5,2262.4 829.0,2283.4 829.5,2270.4 830.0,2296.1 830.5,2299.1 831.0,2278.1 831.1,2276.4 831.5,2297.7 832.0,2295.3 832.5,2284.2 833.0,2277.0 833.5,2291.2 834.0,2270.6 834.5,2295.0 835.0,2292.3 835.5,2269.3 836.0,2269.1 836.5,2266.7 837.0,2266.9 837.5,2274.3 838.0,2275.6 838.3,2261.9 838.5,2268.4 839.0,2268.6 839.5,2257.7 840.0,2256.7 840.5,2251.6 841.0,2275.2 841.5,2250.3 842.0,2272.7 842.5,2269.8 842.7,2238.7 843.0,2268.9 843.5,2243.4 844.0,2234.3 844.5,2236.3 845.0,2240.8 845.5,2230.6 845.6,2218.5 846.0,2249.4 846.5,2232.4 847.0,2225.4 847.5,2214.1 848.0,2240.8 848.5,2206.9 848.5,2208.2 849.0,2223.2 849.5,2197.2 849.9,2102.6 850.0,2180.1 850.5,2171.8 851.0,2083.5 851.4,2033.2 851.5,2044.4 852.0,2100.8 852.5,2077.6 853.0,2047.7 853.5,2159.2 854.0,2120.9 854.3,2024.5 854.5,2144.6 855.0,2028.4 855.5,2026.7 856.0,2131.8 856.5,2046.9 857.0,2161.6 857.2,2027.4 857.5,2053.7 858.0,2040.3 858.5,2035.0 859.0,2118.2 859.5,2090.5 860.0,2076.4 860.0,1997.0 860.5,2151.5 861.0,2114.1 861.5,2021.6 862.0,2071.6 862.5,2062.2 863.0,2056.4 863.0,2087.1 863.5,2097.7 864.0,2074.2 864.5,2090.3 865.0,2110.8 865.5,2127.3 865.8,2102.6 866.0,2119.9 866.5,2192.2 867.0,2105.1 867.3,2092.5 867.5,2120.2 868.0,2128.9 868.5,2189.9 869.0,2158.7 869.3,2160.6 869.5,2214.9 870.0,2224.4 870.5,2215.6 871.0,2226.0 871.5,2223.7 871.6,2203.9 872.0,2211.9 872.5,2212.8 873.0,2224.3 873.5,2194.0 874.0,2175.0 874.0,2184.6 874.5,2176.2 875.0,2200.3 875.5,2201.2 876.0,2139.0 876.0,2156.9 876.5,2173.3 877.0,2180.5 877.5,2202.2 878.0,2189.5 878.5,2220.3 879.0,2232.9 879.5,2243.3 880.0,2254.6 880.3,2256.1 880.5,2262.8 881.0,2280.8 881.5,2278.5 882.0,2272.0 882.5,2287.7 883.0,2271.4 883.5,2282.2 884.0,2290.4 884.5,2274.8 884.7,2261.9 885.0,2269.4 885.5,2267.8 886.0,2269.3 886.5,2268.8 887.0,2273.5 887.5,2277.6 888.0,2273.2 888.5,2273.7 889.0,2267.7 889.5,2271.8 890.0,2269.1 890.5,2262.4 891.0,2248.9 891.5,2243.1 891.9,2232.9 892.0,2236.2 892.5,2238.4 893.0,2233.1 893.4,2215.7 893.5,2242.3 893.7,2361.0"/>
<polygon fill="#e0830f" points="893.7,2361.0 893.7,2260.0 894.2,2253.5 894.7,2283.6 895.2,2275.2 895.4,2276.3 895.7,2279.3 896.2,2278.0 896.7,2271.8 897.2,2277.1 897.7,2293.7 898.2,2287.4 898.7,2266.0 899.1,2257.6 899.2,2258.6 899.7,2261.9 900.2,2268.4 900.7,2269.3 901.2,2275.7 901.7,2266.3 902.2,2275.8 902.7,2276.6 903.2,2290.3 903.5,2270.6 903.7,2277.8 904.2,2283.3 904.7,2283.3 905.2,2284.7 905.7,2283.9 906.2,2285.4 906.4,2279.1 906.7,2293.1 907.2,2264.1 907.7,2254.7 908.2,2239.0 908.7,2233.9 909.2,2249.4 909.7,2202.1 910.2,2219.0 910.7,2187.2 910.7,2160.5 911.2,2161.7 911.7,2155.2 912.2,2217.7 912.7,2150.4 913.2,2146.0 913.6,2127.3 913.7,2132.6 914.2,2128.6 914.7,2196.4 915.2,2140.6 915.7,2145.0 916.2,2155.6 916.5,2131.6 916.7,2177.4 917.2,2148.4 917.7,2136.2 918.2,2128.3 918.7,2137.6 919.2,2144.1 919.4,2124.4 919.7,2207.4 920.2,2171.9 920.7,2194.6 921.2,2183.8 921.7,2131.5 922.2,2187.7 922.7,2167.3 923.2,2178.7 923.7,2131.3 923.8,2117.1 924.2,2117.7 924.7,2192.2 925.2,2126.0 925.7,2143.8 926.2,2136.6 926.6,2107.0 926.7,2163.0 927.2,2124.8 927.7,2198.5 928.2,2120.5 928.7,2105.7 929.2,2151.5 929.7,2127.5 930.2,2177.3 930.7,2120.5 931.0,2096.9 931.2,2154.4 931.7,2118.8 932.2,2094.2 932.7,2097.7 933.2,2169.7 933.7,2147.2 933.9,2088.2 934.2,2119.4 934.7,2130.5 935.2,2099.7 935.7,2147.9 936.2,2123.9 936.7,2145.1 936.8,2044.8 937.2,2051.7 937.7,2180.2 938.2,2187.8 938.7,2066.3 939.2,2115.5 939.7,2007.1 939.7,2114.5 940.2,2045.4 940.7,2084.9 941.2,2128.7 941.7,2021.6 942.2,2129.5 942.7,2022.0 943.2,2030.7 943.7,2056.5 944.0,2015.8 944.2,2179.5 944.7,2086.0 945.2,2050.0 945.7,2151.9 946.2,2043.2 946.7,2137.3 946.9,2044.8 947.2,2063.9 947.7,2142.1 948.2,2161.1 948.4,2054.9 948.7,2126.8 949.2,2058.1 949.7,2069.4 950.2,2148.3 950.4,2062.1 950.7,2091.5 951.2,2064.7 951.7,2096.1 951.8,2056.4 952.2,2093.8 952.7,2190.6 953.2,2195.1 953.6,2160.7 953.7,2180.6 954.2,2200.3 954.7,2225.8 955.2,2229.9 955.6,2221.3 955.7,2235.9 956.2,2231.4 956.7,2230.8 957.2,2259.0 957.7,2227.2 958.2,2235.2 958.5,2218.5 958.7,2253.1 959.2,2244.6 959.7,2230.5 960.2,2225.1 960.7,2238.2 961.2,2266.5 961.4,2224.3 961.7,2239.8 962.2,2271.3 962.7,2240.3 963.2,2274.1 963.7,2246.7 964.2,2250.1 964.7,2266.8 965.2,2262.4 965.7,2265.0 965.7,2261.9 966.2,2263.2 966.7,2271.4 967.2,2267.7 967.7,2266.6 968.2,2268.2 968.7,2293.3 969.2,2274.0 969.7,2270.4 970.1,2270.6 970.2,2274.1 970.7,2281.3 971.2,2278.1 971.7,2280.4 972.2,2274.8 972.7,2296.3 973.2,2274.5 973.7,2274.1 974.2,2283.9 974.7,2279.1 975.2,2274.8 975.7,2285.0 976.2,2300.0 976.7,2278.1 977.2,2295.4 977.3,2273.5 977.7,2278.6 978.2,2281.5 978.7,2283.0 979.2,2280.1 979.7,2276.0 980.2,2276.5 980.7,2274.4 981.2,2276.0 981.6,2270.6 981.7,2273.1 982.2,2271.3 982.7,2272.5 983.2,2278.9 983.7,2296.5 984.2,2280.6 984.7,2276.5 985.2,2270.7 985.7,2276.5 986.0,2267.7 986.2,2296.4 986.7,2270.1 987.2,2281.7 987.7,2277.3 988.2,2276.9 988.7,2282.1 988.9,2270.6 989.2,2292.2 989.7,2271.6 989.8,2361.0"/>
<polygon fill="#2e2a7e" points="989.8,2361.0 989.8,2291.9 990.3,2298.0 990.4,2270.6 990.8,2269.6 991.3,2263.0 991.8,2270.1 992.3,2259.3 992.8,2252.7 993.0,2244.5 993.3,2279.5 993.8,2262.5 994.3,2261.3 994.8,2266.9 995.3,2286.5 995.8,2258.1 996.3,2265.0 996.8,2269.9 997.3,2275.5 997.8,2274.4 998.3,2288.7 998.8,2277.8 998.8,2270.6 999.3,2267.3 999.8,2273.2 1000.3,2272.0 1000.8,2286.1 1001.3,2256.8 1001.8,2257.6 1002.3,2252.0 1002.8,2252.7 1003.2,2233.0 1003.3,2265.0 1003.8,2237.6 1004.3,2235.1 1004.8,2229.6 1005.3,2249.0 1005.8,2235.4 1006.1,2192.4 1006.3,2242.1 1006.8,2202.1 1007.3,2221.0 1007.8,2216.3 1008.3,2232.4 1008.8,2252.6 1009.0,2218.5 1009.3,2247.1 1009.8,2251.7 1010.3,2232.0 1010.8,2234.9 1011.3,2229.6 1011.8,2223.2 1011.9,2212.6 1012.3,2212.0 1012.8,2218.6 1013.3,2222.4 1013.8,2191.3 1014.3,2186.9 1014.8,2181.4 1015.3,2175.9 1015.8,2190.9 1016.2,2154.8 1016.3,2174.4 1016.8,2182.0 1017.3,2169.2 1017.8,2176.2 1018.3,2175.5 1018.8,2158.6 1019.1,2145.8 1019.3,2135.7 1019.8,2116.9 1020.3,2190.9 1020.8,2135.9 1021.1,2044.8 1021.3,2032.6 1021.8,2028.5 1022.3,1977.7 1022.6,1911.6 1022.8,1967.3 1023.3,2053.9 1023.8,1990.1 1024.0,1987.0 1024.3,2171.3 1024.8,2160.8 1025.3,2131.8 1025.8,2077.3 1026.3,2158.9 1026.3,2102.5 1026.8,2158.2 1027.3,2176.8 1027.8,2182.1 1028.3,2091.1 1028.8,2164.6 1029.2,2073.7 1029.3,2186.4 1029.8,2179.6 1030.3,2078.1 1030.8,2121.7 1031.3,2081.0 1031.8,2065.8 1032.3,2138.7 1032.8,2074.2 1033.0,2037.5 1033.3,2162.6 1033.8,2127.0 1034.3,2124.8 1034.8,2166.8 1035.0,2062.2 1035.3,2089.4 1035.8,2077.7 1036.3,2113.6 1036.5,2085.2 1036.8,2160.5 1037.3,2077.2 1037.8,2151.1 1038.3,2124.1 1038.8,2044.8 1038.8,2164.1 1039.3,2177.9 1039.8,2066.7 1040.3,2163.0 1040.8,2012.9 1041.3,2029.9 1041.8,2152.6 1042.3,2088.2 1042.5,1986.8 1042.8,2129.7 1043.3,2111.4 1043.8,2008.0 1044.3,1956.5 1044.3,1973.5 1044.8,1975.7 1045.3,2097.4 1045.8,2034.0 1046.0,2015.8 1046.3,2040.8 1046.8,2151.2 1047.3,2097.3 1047.8,2173.4 1048.0,2131.6 1048.3,2143.3 1048.8,2124.8 1049.3,2201.2 1049.8,2158.3 1050.3,2174.7 1050.8,2161.9 1051.3,2157.6 1051.5,2088.2 1051.8,2108.5 1052.3,2098.4 1052.8,2137.4 1053.3,2139.5 1053.8,2146.5 1053.8,2117.2 1054.3,2144.7 1054.8,2165.7 1055.3,2176.5 1055.8,2168.4 1055.8,2143.1 1056.3,2191.4 1056.8,2206.1 1057.3,2179.9 1057.8,2210.7 1058.2,2189.5 1058.3,2209.1 1058.8,2203.6 1059.3,2214.9 1059.8,2242.6 1060.3,2268.4 1060.8,2248.9 1061.1,2253.2 1061.3,2284.1 1061.8,2260.9 1062.3,2255.2 1062.8,2282.9 1063.3,2269.5 1063.8,2261.7 1064.0,2256.1 1064.3,2265.6 1064.8,2282.8 1065.3,2275.8 1065.8,2277.8 1066.3,2279.5 1066.8,2295.3 1066.9,2276.3 1067.3,2275.4 1067.8,2271.3 1068.3,2264.3 1068.8,2261.5 1069.3,2247.2 1069.8,2265.7 1070.3,2233.5 1070.3,2224.3 1070.8,2240.8 1071.3,2237.2 1071.8,2271.7 1072.3,2242.9 1072.8,2243.4 1073.3,2244.6 1073.8,2257.4 1074.1,2247.4 1074.3,2246.9 1074.8,2250.0 1075.3,2274.4 1075.8,2250.9 1076.3,2243.5 1076.8,2241.3 1077.3,2250.4 1077.8,2246.6 1078.3,2229.4 1078.4,2227.2 1078.8,2258.9 1079.3,2244.8 1079.8,2249.0 1080.3,2247.0 1080.8,2259.6 1081.3,2247.4 1081.3,2247.4 1081.8,2261.0 1082.3,2258.5 1082.8,2262.4 1083.3,2266.1 1083.8,2269.8 1084.2,2261.9 1084.3,2284.8 1084.8,2270.9 1085.3,2255.1 1085.8,2256.8 1086.3,2261.0 1086.8,2261.2 1087.3,2278.7 1087.8,2253.8 1088.0,2361.0"/>
<polygon fill="#e0830f" points="1088.0,2361.0 1088.0,2246.6 1088.5,2272.7 1089.0,2231.9 1089.2,2230.1 1089.5,2261.3 1090.0,2255.1 1090.5,2283.5 1091.0,2260.7 1091.5,2261.8 1091.5,2262.7 1092.0,2268.5 1092.5,2256.6 1093.0,2253.1 1093.5,2253.0 1094.0,2255.9 1094.4,2244.5 1094.5,2246.7 1095.0,2264.5 1095.5,2254.8 1096.0,2264.1 1096.5,2263.7 1097.0,2267.9 1097.5,2280.5 1098.0,2278.4 1098.5,2286.8 1098.7,2276.4 1099.0,2285.2 1099.5,2281.9 1100.0,2283.0 1100.5,2290.0 1101.0,2287.7 1101.5,2284.9 1101.6,2282.2 1102.0,2280.4 1102.5,2278.1 1103.0,2277.0 1103.5,2268.9 1104.0,2291.8 1104.5,2263.1 1105.0,2267.0 1105.5,2276.0 1105.9,2247.4 1106.0,2260.7 1106.5,2273.5 1107.0,2245.4 1107.5,2245.0 1108.0,2255.4 1108.5,2246.6 1109.0,2246.9 1109.5,2249.0 1110.0,2246.0 1110.3,2233.0 1110.5,2250.4 1111.0,2251.0 1111.5,2234.9 1112.0,2241.6 1112.5,2251.3 1113.0,2244.1 1113.5,2274.2 1113.8,2235.8 1114.0,2249.5 1114.5,2275.0 1115.0,2247.6 1115.5,2239.8 1116.0,2250.7 1116.5,2249.0 1117.0,2267.5 1117.5,2247.8 1117.5,2238.7 1118.0,2224.6 1118.5,2201.6 1119.0,2221.7 1119.5,2135.7 1119.5,2131.5 1120.0,2088.9 1120.5,2050.3 1121.0,2016.0 1121.3,1962.5 1121.5,2067.8 1122.0,2031.6 1122.5,2096.3 1122.7,2044.6 1123.0,2074.4 1123.5,2075.6 1124.0,2169.0 1124.5,2115.7 1124.8,2102.7 1125.0,2191.1 1125.5,2134.0 1126.0,2146.8 1126.2,2131.5 1126.5,2183.6 1127.0,2127.9 1127.5,2104.3 1128.0,2170.3 1128.2,2073.8 1128.5,2089.7 1129.0,2150.3 1129.5,2097.4 1130.0,2085.0 1130.5,2092.6 1130.5,2066.5 1131.0,2183.6 1131.5,2098.9 1132.0,2088.3 1132.5,2114.8 1133.0,2193.3 1133.5,2146.2 1133.5,2151.9 1134.0,2160.2 1134.5,2178.1 1135.0,2191.4 1135.5,2193.4 1136.0,2192.0 1136.3,2189.5 1136.5,2192.6 1137.0,2208.7 1137.5,2223.9 1138.0,2227.7 1138.5,2214.8 1139.0,2216.5 1139.5,2227.4 1140.0,2221.2 1140.5,2260.5 1140.7,2221.3 1141.0,2255.9 1141.5,2218.4 1142.0,2209.2 1142.5,2199.6 1143.0,2230.4 1143.5,2185.2 1144.0,2188.2 1144.5,2162.1 1144.5,2213.8 1145.0,2198.7 1145.5,2204.4 1146.0,2222.6 1146.5,2203.9 1146.5,2219.1 1147.0,2241.5 1147.5,2245.4 1148.0,2232.0 1148.5,2261.2 1149.0,2240.5 1149.4,2235.9 1149.5,2244.5 1150.0,2251.3 1150.5,2270.7 1151.0,2262.8 1151.5,2265.7 1152.0,2264.1 1152.5,2273.1 1153.0,2283.0 1153.1,2273.5 1153.5,2282.5 1154.0,2272.6 1154.0,2361.0"/>
<polygon fill="#2e2a7e" points="1154.0,2361.0 1154.0,2288.1 1154.5,2273.8 1155.0,2272.6 1155.5,2268.7 1156.0,2272.4 1156.5,2261.1 1156.6,2256.1 1157.0,2263.0 1157.5,2258.3 1158.0,2258.4 1158.5,2266.7 1159.0,2254.9 1159.5,2263.5 1160.0,2265.8 1160.5,2261.1 1161.0,2259.1 1161.5,2257.7 1162.0,2253.4 1162.4,2247.4 1162.5,2259.9 1163.0,2256.8 1163.5,2252.7 1164.0,2243.7 1164.5,2253.9 1165.0,2257.6 1165.5,2256.0 1166.0,2245.5 1166.5,2237.3 1167.0,2274.7 1167.5,2248.1 1168.0,2238.1 1168.2,2232.9 1168.5,2259.6 1169.0,2245.0 1169.5,2238.3 1170.0,2241.2 1170.5,2234.1 1171.0,2234.0 1171.5,2233.0 1172.0,2242.4 1172.5,2235.6 1173.0,2254.5 1173.5,2244.6 1174.0,2218.5 1174.0,2220.8 1174.5,2228.9 1175.0,2223.6 1175.5,2216.3 1176.0,2226.9 1176.5,2247.0 1177.0,2224.2 1177.5,2222.3 1178.0,2216.2 1178.5,2206.2 1179.0,2224.9 1179.5,2246.8 1179.8,2201.1 1180.0,2225.1 1180.5,2215.7 1181.0,2219.4 1181.5,2249.0 1182.0,2205.9 1182.5,2221.2 1182.7,2198.2 1183.0,2216.4 1183.5,2207.3 1184.0,2200.0 1184.5,2210.1 1185.0,2206.7 1185.5,2219.6 1185.6,2195.3 1186.0,2223.2 1186.5,2213.2 1187.0,2232.4 1187.5,2238.1 1188.0,2243.0 1188.5,2232.9 1188.5,2235.3 1189.0,2226.2 1189.5,2221.2 1190.0,2175.8 1190.5,2174.2 1190.8,2102.7 1191.0,2113.6 1191.5,2156.5 1191.9,2014.5 1192.0,2060.1 1192.5,2128.0 1193.0,2095.5 1193.5,2151.2 1193.7,2102.6 1194.0,2168.3 1194.5,2140.2 1195.0,2137.7 1195.5,2180.7 1196.0,2089.2 1196.5,2089.3 1197.0,2102.8 1197.1,2073.7 1197.5,2076.7 1198.0,2204.7 1198.5,2076.3 1199.0,2120.8 1199.2,2040.5 1199.5,2072.8 1200.0,2165.9 1200.5,2112.4 1201.0,2154.1 1201.5,2067.9 1201.5,2071.5 1202.0,2073.7 1202.5,2090.8 1202.9,2073.7 1203.0,2088.5 1203.5,2116.7 1204.0,2098.7 1204.5,2129.8 1205.0,2122.2 1205.5,2124.8 1205.8,2111.4 1206.0,2142.6 1206.5,2142.3 1207.0,2148.9 1207.5,2138.2 1208.0,2185.9 1208.5,2123.1 1208.7,2120.0 1209.0,2128.7 1209.5,2187.6 1210.0,2146.5 1210.5,2187.9 1211.0,2125.2 1211.5,2167.0 1211.6,2102.6 1212.0,2177.8 1212.5,2096.1 1213.0,2114.4 1213.5,2087.4 1213.9,2079.5 1214.0,2148.0 1214.5,2132.4 1215.0,2171.0 1215.5,2167.3 1216.0,2160.6 1216.0,2200.4 1216.5,2209.2 1217.0,2208.8 1217.5,2226.1 1218.0,2220.9 1218.5,2221.8 1218.8,2224.2 1219.0,2263.4 1219.5,2233.1 1220.0,2232.9 1220.5,2234.3 1221.0,2231.6 1221.5,2235.8 1221.8,2232.9 1222.0,2234.8 1222.5,2234.9 1223.0,2235.7 1223.5,2244.1 1224.0,2244.2 1224.5,2264.0 1224.6,2237.3 1225.0,2242.6 1225.5,2270.6 1226.0,2239.5 1226.5,2243.0 1227.0,2254.2 1227.5,2272.4 1227.5,2238.7 1228.0,2252.8 1228.5,2276.9 1229.0,2263.9 1229.5,2261.1 1230.0,2266.3 1230.4,2261.9 1230.5,2282.3 1231.0,2207.6 1231.5,2150.1 1231.6,2361.0"/>
<polygon fill="#e0830f" points="1231.6,2361.0 1231.6,2153.2 1231.9,2108.7 1232.1,2146.0 1232.6,2182.3 1233.1,2202.0 1233.6,2175.1 1233.9,2160.6 1234.1,2209.2 1234.6,2230.0 1235.1,2192.9 1235.6,2206.6 1236.1,2202.9 1236.2,2179.3 1236.6,2178.7 1237.1,2165.1 1237.6,2143.0 1238.1,2118.6 1238.5,2102.7 1238.6,2176.4 1239.1,2161.8 1239.6,2114.0 1240.1,2135.9 1240.6,2059.3 1240.6,2085.8 1241.1,2078.8 1241.6,2108.1 1242.1,2158.2 1242.6,2121.0 1243.1,2178.4 1243.5,2102.6 1243.6,2190.6 1244.1,2128.9 1244.6,2162.9 1245.1,2182.7 1245.6,2185.9 1246.1,2116.8 1246.4,2078.1 1246.6,2121.7 1247.1,2167.1 1247.6,2169.7 1248.1,2179.2 1248.6,2161.3 1248.7,2131.5 1249.1,2205.1 1249.6,2162.4 1250.1,2214.0 1250.6,2223.8 1250.7,2189.5 1251.1,2234.0 1251.6,2210.1 1252.1,2194.3 1252.6,2198.9 1253.1,2213.6 1253.6,2195.3 1254.1,2207.3 1254.6,2232.5 1255.0,2193.9 1255.1,2203.5 1255.6,2204.4 1256.1,2228.5 1256.6,2233.1 1257.1,2238.2 1257.6,2277.9 1257.9,2247.4 1258.1,2256.0 1258.6,2254.0 1259.1,2267.5 1259.6,2270.5 1260.1,2268.9 1260.6,2293.9 1261.1,2275.3 1261.6,2282.1 1262.1,2280.4 1262.3,2276.4 1262.6,2273.8 1263.1,2280.0 1263.6,2273.2 1264.1,2271.5 1264.6,2258.4 1265.1,2260.3 1265.6,2250.6 1266.1,2251.2 1266.6,2238.2 1266.6,2233.0 1267.1,2245.1 1267.6,2242.8 1268.1,2243.4 1268.6,2244.9 1269.1,2248.6 1269.5,2206.9 1269.6,2228.7 1270.1,2229.3 1270.6,2233.6 1271.1,2234.1 1271.6,2238.9 1272.1,2232.9 1272.4,2232.9 1272.6,2265.3 1273.1,2237.2 1273.6,2252.6 1274.1,2239.2 1274.6,2251.6 1275.1,2273.7 1275.6,2244.5 1276.1,2268.4 1276.6,2257.7 1277.1,2247.9 1277.6,2257.9 1278.1,2271.9 1278.2,2244.5 1278.6,2249.0 1279.1,2260.7 1279.6,2261.6 1280.1,2272.0 1280.6,2273.9 1281.1,2268.8 1281.6,2274.0 1282.1,2275.2 1282.5,2276.4 1282.6,2299.6 1283.1,2295.7 1283.6,2292.6 1284.1,2284.7 1284.6,2308.6 1285.1,2298.3 1285.6,2298.9 1286.1,2296.4 1286.6,2310.7 1286.9,2299.5 1287.1,2313.9 1287.6,2304.2 1288.1,2305.4 1288.6,2306.3 1289.1,2301.6 1289.6,2318.2 1290.1,2301.2 1290.6,2306.1 1291.1,2301.6 1291.2,2299.5 1291.6,2306.6 1292.1,2306.8 1292.6,2303.8 1293.1,2305.1 1293.6,2303.7 1294.1,2300.4 1294.1,2296.6 1294.6,2299.2 1295.1,2308.7 1295.6,2298.9 1296.1,2276.2 1296.6,2278.7 1297.1,2267.8 1297.6,2264.6 1298.1,2253.5 1298.5,2247.4 1298.6,2248.3 1299.1,2254.4 1299.6,2269.6 1300.1,2246.4 1300.6,2248.8 1301.1,2242.5 1301.6,2245.2 1302.0,2232.9 1302.1,2247.4 1302.6,2243.6 1303.1,2247.8 1303.6,2244.6 1304.1,2231.3 1304.6,2243.7 1305.1,2240.7 1305.6,2254.8 1305.7,2224.3 1306.1,2245.0 1306.6,2239.1 1307.1,2234.6 1307.6,2249.7 1308.1,2246.4 1308.6,2254.1 1309.1,2255.9 1309.6,2252.4 1310.0,2247.4 1310.1,2279.3 1310.6,2259.8 1311.1,2251.5 1311.6,2254.4 1312.1,2254.3 1312.6,2251.6 1313.1,2241.5 1313.6,2235.1 1314.1,2258.4 1314.4,2225.7 1314.6,2240.5 1315.1,2240.4 1315.6,2272.6 1316.1,2275.9 1316.6,2248.1 1317.1,2274.2 1317.3,2247.4 1317.6,2256.7 1318.1,2266.6 1318.6,2271.7 1318.7,2361.0"/>
<polygon fill="#2e2a7e" points="1318.7,2361.0 1318.7,2275.6 1319.2,2268.8 1319.7,2276.5 1320.2,2287.0 1320.7,2289.1 1321.2,2307.4 1321.6,2293.7 1321.7,2311.5 1322.2,2294.8 1322.7,2286.9 1323.2,2283.4 1323.7,2286.7 1324.2,2285.5 1324.7,2283.0 1325.2,2270.9 1325.7,2275.0 1326.0,2261.9 1326.2,2265.2 1326.7,2266.9 1327.2,2264.7 1327.7,2256.1 1328.2,2260.0 1328.7,2252.5 1329.2,2258.4 1329.7,2257.9 1330.2,2250.4 1330.3,2244.5 1330.7,2253.4 1331.2,2263.0 1331.7,2253.5 1332.2,2253.0 1332.7,2252.8 1333.2,2258.9 1333.7,2285.5 1334.2,2267.7 1334.7,2259.2 1335.2,2260.1 1335.7,2291.5 1336.1,2261.9 1336.2,2261.2 1336.7,2260.6 1337.2,2283.4 1337.7,2251.8 1338.2,2255.5 1338.7,2258.5 1339.2,2244.9 1339.7,2239.9 1340.2,2245.5 1340.5,2228.6 1340.7,2228.9 1341.2,2232.9 1341.7,2231.4 1342.2,2228.0 1342.7,2220.8 1343.2,2251.8 1343.7,2216.4 1344.2,2206.9 1344.7,2196.5 1344.8,2189.6 1345.2,2222.3 1345.7,2230.7 1346.2,2168.7 1346.7,2167.3 1347.2,2198.6 1347.7,2135.9 1347.7,2200.4 1348.2,2121.2 1348.7,2129.6 1349.2,2075.5 1349.4,2044.6 1349.7,2151.9 1350.2,2045.5 1350.6,1997.2 1350.7,2025.1 1351.2,2064.3 1351.7,2097.8 1352.0,2073.6 1352.2,2134.1 1352.7,2119.7 1353.2,2137.3 1353.7,2161.6 1354.1,2160.6 1354.2,2208.9 1354.7,2202.5 1355.2,2200.8 1355.7,2189.0 1356.2,2193.9 1356.4,2189.4 1356.7,2202.3 1357.2,2193.1 1357.7,2181.1 1358.2,2145.0 1358.7,2128.8 1358.7,2128.8 1359.2,2147.1 1359.7,2152.1 1360.2,2159.0 1360.7,2159.4 1361.2,2206.0 1361.6,2160.5 1361.7,2205.3 1362.2,2156.6 1362.7,2203.7 1363.2,2211.6 1363.7,2185.9 1364.2,2113.7 1364.7,2124.4 1365.1,2096.9 1365.2,2150.1 1365.7,2094.2 1366.2,2096.3 1366.7,2173.2 1367.1,2044.7 1367.2,2117.1 1367.7,2119.4 1368.2,2103.3 1368.7,2032.4 1368.8,2013.0 1369.2,2101.6 1369.7,2029.1 1370.2,2035.6 1370.7,2163.4 1370.8,2044.7 1371.2,2155.4 1371.7,2113.4 1372.2,2107.8 1372.3,2004.2 1372.7,2117.6 1373.2,2143.6 1373.7,2100.6 1373.8,2030.3 1374.2,2129.7 1374.7,2184.2 1375.2,2081.4 1375.7,2072.1 1375.8,2056.3 1376.2,2073.0 1376.7,2155.0 1377.2,2168.0 1377.7,2135.9 1378.1,2131.6 1378.2,2150.1 1378.7,2147.9 1379.2,2156.1 1379.7,2164.3 1380.2,2192.9 1380.7,2205.9 1381.0,2175.0 1381.2,2198.8 1381.7,2177.5 1382.2,2215.1 1382.4,2166.4 1382.7,2207.7 1383.2,2165.3 1383.7,2206.7 1384.2,2167.7 1384.7,2167.0 1385.2,2221.2 1385.3,2160.5 1385.7,2177.4 1386.2,2148.9 1386.7,2143.8 1387.2,2176.7 1387.7,2124.6 1388.2,2119.5 1388.7,2166.3 1389.1,2088.2 1389.2,2100.4 1389.7,2150.2 1390.2,2103.3 1390.7,2185.1 1391.1,2073.7 1391.2,2142.8 1391.7,2099.0 1392.2,2139.1 1392.7,2039.9 1393.2,2151.8 1393.4,2023.1 1393.7,2116.7 1394.2,2153.3 1394.7,2090.0 1395.2,2102.6 1395.2,2111.8 1395.7,2140.7 1396.2,2163.9 1396.7,2178.4 1396.9,2178.0 1397.2,2220.8 1397.7,2197.7 1398.2,2239.6 1398.7,2195.2 1399.2,2213.2 1399.7,2210.8 1400.2,2219.4 1400.7,2223.3 1401.2,2236.4 1401.2,2218.5 1401.7,2253.9 1402.2,2227.4 1402.7,2259.9 1403.2,2238.7 1403.7,2232.9 1404.2,2231.2 1404.7,2233.6 1405.0,2230.0 1405.2,2240.1 1405.7,2252.7 1406.2,2256.4 1406.7,2247.9 1407.2,2273.4 1407.7,2267.3 1408.2,2264.4 1408.5,2261.9 1408.7,2261.5 1409.2,2267.7 1409.7,2265.9 1410.2,2278.1 1410.7,2255.8 1410.8,2241.7 1411.2,2244.4 1411.7,2246.7 1412.0,2361.0"/>
<polygon fill="#e0830f" points="1412.0,2361.0 1412.0,2263.7 1412.5,2263.5 1412.8,2253.2 1413.0,2257.8 1413.5,2283.6 1414.0,2265.6 1414.5,2287.8 1415.0,2285.1 1415.5,2259.5 1416.0,2287.0 1416.5,2282.8 1417.0,2274.4 1417.2,2261.9 1417.5,2260.9 1418.0,2264.0 1418.5,2266.7 1419.0,2253.0 1419.5,2270.8 1420.0,2250.7 1420.5,2246.0 1421.0,2243.2 1421.5,2271.8 1421.5,2231.5 1422.0,2237.0 1422.5,2243.7 1423.0,2272.1 1423.5,2248.9 1424.0,2245.1 1424.5,2249.0 1425.0,2245.1 1425.5,2249.3 1425.9,2247.4 1426.0,2254.1 1426.5,2254.6 1427.0,2258.5 1427.5,2257.5 1428.0,2260.1 1428.5,2270.5 1429.0,2258.9 1429.5,2251.1 1430.0,2250.4 1430.5,2273.4 1431.0,2252.3 1431.5,2260.8 1431.7,2244.5 1432.0,2246.3 1432.5,2251.7 1433.0,2264.9 1433.5,2252.1 1434.0,2264.5 1434.5,2260.8 1435.0,2260.1 1435.5,2267.5 1436.0,2261.9 1436.0,2261.9 1436.5,2272.9 1437.0,2277.0 1437.5,2275.6 1438.0,2273.7 1438.5,2292.4 1439.0,2291.0 1439.5,2275.1 1440.0,2277.8 1440.3,2276.3 1440.5,2284.1 1441.0,2279.8 1441.5,2263.8 1442.0,2282.2 1442.5,2252.8 1443.0,2256.7 1443.5,2261.3 1444.0,2229.2 1444.5,2264.3 1444.7,2218.5 1445.0,2230.6 1445.5,2231.5 1446.0,2222.4 1446.5,2224.3 1447.0,2188.7 1447.5,2181.7 1447.6,2178.0 1448.0,2198.9 1448.5,2198.7 1449.0,2204.9 1449.5,2206.7 1450.0,2221.8 1450.5,2209.2 1451.0,2202.6 1451.5,2207.0 1451.9,2189.5 1452.0,2226.0 1452.5,2189.9 1453.0,2203.1 1453.5,2210.5 1454.0,2181.9 1454.5,2171.1 1455.0,2204.0 1455.4,2160.6 1455.5,2161.3 1456.0,2156.7 1456.5,2191.0 1457.0,2143.5 1457.5,2163.0 1458.0,2143.7 1458.3,2127.3 1458.5,2144.7 1459.0,2154.3 1459.5,2194.6 1460.0,2199.8 1460.5,2168.8 1460.6,2146.1 1461.0,2171.7 1461.5,2171.2 1462.0,2166.7 1462.5,2207.0 1463.0,2155.7 1463.5,2138.8 1463.6,2137.4 1464.0,2206.1 1464.5,2152.3 1465.0,2164.5 1465.5,2149.3 1466.0,2170.4 1466.5,2161.7 1467.0,2157.1 1467.3,2151.9 1467.5,2197.4 1467.8,2160.6 1468.0,2177.4 1468.5,2171.1 1469.0,2179.2 1469.5,2205.0 1470.0,2204.7 1470.5,2216.0 1471.0,2214.2 1471.5,2224.2 1471.7,2212.3 1472.0,2214.0 1472.2,2172.4 1472.5,2183.1 1473.0,2231.6 1473.5,2201.4 1474.0,2208.3 1474.5,2196.5 1474.6,2189.5 1475.0,2199.9 1475.5,2207.3 1476.0,2189.4 1476.5,2227.7 1476.5,2175.0 1476.9,2173.6 1477.0,2195.1 1477.5,2192.6 1478.0,2196.3 1478.5,2182.3 1479.0,2186.4 1479.5,2176.6 1479.8,2160.6 1480.0,2160.6 1480.5,2173.5 1481.0,2182.2 1481.5,2177.8 1482.0,2174.4 1482.4,2101.3 1482.5,2137.2 1483.0,2186.2 1483.5,2144.6 1483.8,2131.6 1484.0,2204.9 1484.5,2154.2 1485.0,2193.4 1485.5,2152.8 1485.6,2120.1 1486.0,2177.5 1486.5,2209.7 1487.0,2231.6 1487.5,2220.2 1487.6,2204.0 1488.0,2254.2 1488.5,2253.5 1489.0,2264.2 1489.1,2232.9 1489.5,2270.9 1490.0,2266.0 1490.5,2227.9 1491.0,2235.5 1491.5,2232.1 1492.0,2233.1 1492.5,2234.0 1492.8,2218.5 1493.0,2233.0 1493.5,2254.4 1494.0,2230.0 1494.5,2226.0 1495.0,2235.6 1495.5,2242.3 1496.0,2236.6 1496.3,2232.9 1496.5,2242.9 1497.0,2232.1 1497.5,2228.4 1498.0,2231.6 1498.5,2227.8 1499.0,2220.6 1499.5,2199.8 1499.8,2189.5 1500.0,2213.6 1500.5,2224.6 1501.0,2217.8 1501.5,2229.3 1502.0,2267.8 1502.1,2233.0 1502.5,2246.8 1503.0,2269.5 1503.5,2264.2 1504.0,2264.2 1504.5,2262.0 1505.0,2276.9 1505.5,2280.4 1506.0,2289.0 1506.4,2282.2 1506.5,2288.2 1507.0,2290.1 1507.5,2281.2 1508.0,2286.9 1508.5,2285.6 1509.0,2294.2 1509.3,2276.4 1509.5,2283.9 1510.0,2281.0 1510.5,2279.7 1510.8,2361.0"/>
<polygon fill="#2e2a7e" points="1510.8,2361.0 1510.8,2286.4 1511.3,2285.8 1511.8,2294.0 1512.2,2276.4 1512.3,2278.8 1512.8,2280.9 1513.3,2280.9 1513.8,2267.2 1514.3,2265.6 1514.8,2265.8 1515.1,2259.0 1515.3,2263.9 1515.8,2265.7 1516.3,2274.5 1516.8,2268.5 1517.3,2278.5 1517.8,2282.3 1518.0,2270.6 1518.3,2274.5 1518.8,2274.1 1519.3,2273.8 1519.8,2268.9 1520.3,2270.5 1520.8,2289.4 1520.9,2264.8 1521.3,2277.6 1521.8,2264.6 1522.3,2274.9 1522.8,2274.5 1523.3,2266.1 1523.8,2276.4 1524.3,2266.5 1524.8,2274.0 1525.2,2261.8 1525.3,2264.6 1525.8,2265.6 1526.3,2258.5 1526.8,2251.7 1527.3,2245.6 1527.8,2248.4 1528.1,2215.6 1528.3,2232.7 1528.8,2226.3 1529.3,2216.6 1529.8,2212.8 1530.3,2180.6 1530.8,2181.0 1531.0,2160.5 1531.3,2167.0 1531.8,2181.8 1532.3,2185.3 1532.8,2158.2 1533.3,2190.1 1533.8,2127.8 1533.9,2065.1 1534.3,2077.5 1534.8,2082.6 1535.3,2145.0 1535.8,2071.0 1536.0,2062.1 1536.3,2078.1 1536.8,2095.9 1537.3,2086.2 1537.7,2059.2 1537.8,2137.4 1538.3,2131.7 1538.8,2133.2 1539.3,2067.0 1539.4,2030.3 1539.8,2023.8 1540.3,2015.5 1540.8,2043.9 1541.2,1984.0 1541.3,2001.1 1541.8,2034.6 1542.3,2143.7 1542.8,2142.4 1543.2,2015.8 1543.3,2134.0 1543.8,2063.0 1544.3,2065.3 1544.8,2047.5 1545.3,2170.6 1545.5,2036.0 1545.8,2180.8 1546.3,2076.7 1546.8,2100.3 1547.3,2157.0 1547.5,2102.7 1547.8,2140.0 1548.3,2179.2 1548.8,2184.3 1549.3,2178.8 1549.8,2188.9 1549.9,2189.5 1550.3,2186.6 1550.8,2200.2 1551.3,2218.5 1551.8,2181.9 1552.3,2172.6 1552.8,2160.6 1552.8,2183.3 1553.3,2219.9 1553.8,2189.7 1554.2,2083.9 1554.3,2161.7 1554.8,2115.8 1555.3,2152.5 1555.7,2102.7 1555.8,2114.8 1556.3,2200.8 1556.8,2120.1 1557.1,2120.0 1557.3,2144.6 1557.8,2150.9 1558.3,2196.7 1558.8,2156.4 1559.1,2160.6 1559.3,2185.7 1559.8,2181.3 1560.3,2197.8 1560.8,2192.7 1561.3,2235.3 1561.4,2202.6 1561.8,2224.3 1562.3,2248.1 1562.8,2239.9 1563.3,2236.8 1563.8,2246.9 1564.3,2276.7 1564.3,2247.4 1564.8,2251.3 1565.3,2261.4 1565.8,2268.7 1566.3,2273.8 1566.8,2266.4 1567.3,2277.8 1567.8,2279.6 1568.3,2283.1 1568.7,2276.3 1568.8,2284.1 1569.3,2299.0 1569.8,2306.3 1570.3,2289.8 1570.8,2297.8 1571.3,2307.4 1571.8,2298.1 1572.3,2301.7 1572.4,2299.5 1572.8,2302.1 1573.3,2304.0 1573.8,2304.0 1574.3,2301.3 1574.8,2316.8 1575.3,2306.2 1575.8,2305.0 1575.9,2302.4 1576.3,2319.3 1576.8,2305.1 1577.3,2316.4 1577.8,2318.7 1578.3,2310.6 1578.8,2310.1 1579.3,2311.7 1579.8,2312.1 1580.3,2305.3 1580.3,2311.7 1580.8,2303.3 1581.3,2298.7 1581.8,2292.4 1582.3,2280.3 1582.8,2271.8 1583.2,2361.0"/>
<polygon fill="#e0830f" points="1583.2,2361.0 1583.2,2274.2 1583.7,2255.5 1584.2,2247.4 1584.6,2240.2 1584.7,2255.1 1585.2,2242.6 1585.7,2256.9 1586.2,2246.0 1586.7,2249.5 1587.2,2253.9 1587.7,2252.3 1588.2,2271.1 1588.7,2260.0 1588.9,2247.4 1589.2,2257.3 1589.7,2262.0 1590.2,2244.9 1590.7,2256.8 1591.2,2271.8 1591.7,2255.7 1592.2,2251.6 1592.7,2275.9 1593.2,2240.4 1593.3,2238.7 1593.7,2245.0 1594.2,2274.6 1594.7,2248.9 1595.2,2248.8 1595.7,2255.5 1596.2,2253.1 1596.7,2243.7 1597.2,2251.3 1597.7,2243.6 1598.2,2256.0 1598.7,2274.2 1599.1,2241.6 1599.2,2257.0 1599.7,2242.8 1600.2,2250.6 1600.7,2262.9 1601.2,2245.9 1601.7,2239.2 1602.2,2233.4 1602.7,2239.1 1603.2,2238.0 1603.4,2230.1 1603.7,2241.0 1604.2,2237.4 1604.7,2254.7 1605.2,2249.0 1605.7,2260.4 1606.2,2264.2 1606.7,2263.7 1607.2,2266.3 1607.7,2273.8 1607.8,2261.9 1608.2,2270.9 1608.7,2267.1 1609.2,2263.3 1609.7,2243.4 1610.2,2246.9 1610.7,2261.7 1611.2,2239.5 1611.7,2238.5 1612.1,2218.5 1612.2,2255.4 1612.7,2244.1 1613.2,2215.4 1613.7,2224.5 1614.2,2180.2 1614.7,2150.3 1615.2,2214.7 1615.6,2124.4 1615.7,2131.4 1616.2,2134.1 1616.7,2191.3 1617.2,2133.4 1617.7,2187.3 1617.9,2131.6 1618.2,2199.3 1618.7,2170.3 1619.2,2169.0 1619.7,2157.6 1620.2,2112.8 1620.7,2110.0 1620.8,2088.2 1621.2,2154.8 1621.7,2119.6 1622.2,2150.7 1622.7,2120.8 1623.2,2183.1 1623.7,2079.5 1623.7,2082.3 1624.2,2080.0 1624.7,2133.4 1625.2,2092.8 1625.7,2140.8 1626.2,2089.8 1626.6,2067.9 1626.7,2166.6 1627.2,2105.4 1627.7,2102.1 1628.2,2102.4 1628.7,2108.5 1629.2,2128.9 1629.5,2102.6 1629.7,2135.1 1630.2,2137.8 1630.7,2133.0 1631.2,2179.6 1631.7,2186.7 1632.2,2141.6 1632.4,2108.5 1632.7,2141.6 1633.2,2121.3 1633.7,2138.1 1634.2,2195.8 1634.7,2156.5 1635.2,2194.3 1635.3,2131.6 1635.7,2191.8 1636.2,2160.0 1636.7,2143.4 1637.2,2143.0 1637.7,2111.1 1638.2,2166.6 1638.7,2133.9 1638.7,2076.6 1639.2,2117.7 1639.7,2124.1 1640.2,2117.9 1640.5,2117.2 1640.7,2127.5 1641.2,2135.0 1641.7,2147.3 1642.2,2174.3 1642.5,2160.5 1642.7,2166.1 1643.2,2200.3 1643.7,2201.9 1644.2,2205.5 1644.7,2244.0 1645.2,2255.7 1645.4,2218.5 1645.7,2234.2 1646.2,2241.0 1646.7,2242.8 1647.2,2279.4 1647.7,2280.9 1648.2,2263.4 1648.3,2261.9 1648.7,2289.6 1649.2,2274.0 1649.7,2275.2 1650.2,2276.2 1650.7,2279.4 1651.2,2291.1 1651.7,2272.7 1652.2,2297.1 1652.7,2284.4 1653.2,2285.8 1653.7,2280.4 1654.1,2276.4 1654.2,2282.5 1654.7,2280.8 1655.2,2283.8 1655.7,2277.4 1656.2,2274.3 1656.7,2268.1 1657.2,2285.8 1657.7,2285.7 1658.2,2272.4 1658.4,2261.9 1658.7,2282.6 1659.2,2268.2 1659.7,2268.2 1660.2,2260.7 1660.7,2270.9 1661.2,2266.4 1661.7,2260.0 1662.2,2262.5 1662.7,2263.2 1662.8,2259.0 1662.8,2361.0"/>
<polygon fill="#2e2a7e" points="1662.8,2361.0 1662.8,2281.8 1663.3,2272.9 1663.8,2265.7 1664.3,2270.6 1664.8,2274.9 1665.3,2274.3 1665.7,2276.4 1665.8,2296.9 1666.3,2276.9 1666.8,2284.7 1667.3,2279.0 1667.8,2282.2 1668.3,2275.0 1668.8,2277.9 1669.3,2292.5 1669.8,2280.9 1670.0,2267.7 1670.3,2275.7 1670.8,2269.8 1671.3,2271.6 1671.8,2270.9 1672.3,2274.7 1672.8,2276.6 1673.3,2271.1 1673.8,2266.6 1674.3,2290.4 1674.3,2261.9 1674.8,2264.8 1675.3,2269.0 1675.8,2258.2 1676.3,2264.4 1676.8,2261.0 1677.3,2242.4 1677.8,2245.8 1678.3,2250.8 1678.7,2233.0 1678.8,2243.4 1679.3,2270.5 1679.8,2254.9 1680.3,2233.9 1680.8,2227.0 1681.3,2222.3 1681.8,2225.0 1682.3,2233.7 1682.8,2221.5 1683.0,2209.8 1683.3,2224.4 1683.8,2217.3 1684.3,2225.6 1684.8,2210.4 1685.3,2232.1 1685.8,2245.2 1686.3,2251.2 1686.8,2205.1 1687.3,2222.1 1687.4,2204.0 1687.8,2229.3 1688.3,2221.8 1688.8,2213.8 1689.3,2233.5 1689.8,2226.6 1690.3,2192.4 1690.3,2234.7 1690.8,2238.2 1691.3,2195.1 1691.8,2205.1 1692.3,2227.8 1692.8,2177.0 1693.3,2209.5 1693.8,2197.5 1694.3,2185.3 1694.6,2160.4 1694.8,2214.1 1695.3,2171.7 1695.8,2140.6 1696.3,2135.3 1696.8,2160.4 1696.9,2095.5 1697.3,2141.0 1697.8,2128.2 1698.3,2146.1 1698.8,2212.0 1699.0,2160.6 1699.3,2169.9 1699.8,2189.0 1700.3,2171.9 1700.8,2191.1 1701.3,2222.7 1701.8,2197.2 1702.3,2222.7 1702.8,2227.7 1703.3,2186.6 1703.8,2236.0 1704.3,2221.8 1704.8,2182.1 1705.3,2182.7 1705.8,2184.1 1706.2,2175.0 1706.3,2184.8 1706.8,2172.9 1707.3,2189.4 1707.8,2191.3 1708.3,2161.0 1708.8,2182.2 1709.1,2154.8 1709.3,2173.8 1709.8,2167.2 1710.3,2211.3 1710.8,2169.0 1711.3,2201.7 1711.8,2163.2 1712.0,2140.3 1712.3,2158.8 1712.8,2158.8 1713.3,2164.3 1713.8,2202.2 1714.0,2131.6 1714.3,2177.8 1714.8,2131.4 1715.3,2186.6 1715.8,2145.8 1716.3,2176.3 1716.3,2117.1 1716.8,2184.3 1717.3,2146.3 1717.8,2133.1 1718.3,2176.5 1718.4,2107.1 1718.8,2196.6 1719.3,2195.8 1719.8,2173.9 1720.3,2169.2 1720.7,2146.1 1720.8,2197.5 1721.3,2188.2 1721.8,2206.2 1722.3,2198.0 1722.7,2172.1 1722.8,2177.3 1723.3,2167.1 1723.8,2209.3 1724.3,2175.7 1724.8,2189.9 1725.0,2146.0 1725.3,2198.3 1725.8,2145.2 1726.3,2178.9 1726.8,2156.2 1727.3,2174.0 1727.3,2121.5 1727.8,2143.4 1728.3,2182.2 1728.8,2199.5 1729.3,2163.2 1729.4,2160.6 1729.8,2186.7 1730.3,2182.1 1730.8,2214.6 1731.3,2171.8 1731.8,2173.2 1732.2,2157.7 1732.3,2171.9 1732.8,2167.8 1733.3,2191.6 1733.8,2209.6 1734.3,2229.1 1734.8,2206.7 1735.2,2189.5 1735.3,2211.8 1735.8,2231.0 1736.3,2219.3 1736.8,2226.7 1737.3,2240.7 1737.8,2221.5 1738.0,2209.8 1738.3,2223.5 1738.8,2218.2 1739.3,2229.5 1739.8,2240.4 1740.3,2224.2 1740.8,2221.3 1740.9,2206.9 1741.3,2226.4 1741.8,2247.5 1742.3,2226.6 1742.8,2224.9 1743.3,2207.3 1743.8,2211.1 1744.3,2222.1 1744.8,2242.9 1745.3,2201.1 1745.3,2226.5 1745.8,2222.3 1746.3,2223.1 1746.8,2208.3 1747.3,2218.4 1747.8,2222.5 1748.3,2249.4 1748.8,2216.4 1749.3,2220.9 1749.6,2206.9 1749.8,2224.6 1750.3,2216.1 1750.8,2227.3 1751.3,2241.5 1751.8,2236.3 1752.3,2259.8 1752.8,2245.0 1753.3,2253.9 1753.8,2257.5 1754.0,2247.4 1754.3,2276.1 1754.8,2265.0 1755.3,2262.8 1755.8,2258.0 1756.3,2272.7 1756.8,2282.8 1757.3,2272.7 1757.8,2272.5 1758.3,2270.5 1758.3,2270.6 1758.8,2299.5 1759.3,2279.7 1759.8,2277.4 1760.3,2281.3 1760.8,2290.1 1761.3,2289.5 1761.8,2290.4 1762.3,2291.9 1762.7,2285.1 1762.8,2293.9 1763.3,2304.8 1763.8,2296.9 1764.3,2293.3 1764.8,2295.5 1765.3,2297.2 1765.5,2293.8 1765.8,2312.9 1766.3,2306.3 1766.8,2300.9 1767.3,2305.6 1767.8,2310.6 1768.3,2312.6 1768.8,2317.9 1769.3,2319.0 1769.8,2317.7 1769.9,2316.9 1770.3,2317.8 1770.8,2316.3 1771.3,2311.6 1771.8,2305.0 1772.3,2316.2 1772.8,2294.6 1773.3,2288.7 1773.4,2361.0"/>
<polygon fill="#e0830f" points="1773.4,2361.0 1773.4,2291.2 1773.9,2284.2 1774.4,2284.4 1774.9,2281.9 1775.4,2281.5 1775.7,2267.7 1775.9,2273.0 1776.4,2274.8 1776.9,2287.8 1777.4,2266.6 1777.9,2280.0 1778.4,2251.5 1778.9,2264.0 1779.4,2271.9 1779.9,2244.2 1780.4,2255.2 1780.9,2236.9 1781.4,2238.1 1781.5,2233.0 1781.9,2248.1 1782.4,2238.8 1782.9,2240.3 1783.4,2238.2 1783.9,2216.6 1784.4,2217.8 1784.9,2220.2 1785.4,2241.5 1785.8,2201.1 1785.9,2221.4 1786.4,2199.0 1786.9,2211.4 1787.4,2187.9 1787.9,2185.7 1788.4,2215.0 1788.9,2157.7 1789.4,2200.9 1789.9,2145.3 1790.2,2131.5 1790.4,2175.7 1790.9,2140.2 1791.4,2178.2 1791.9,2094.1 1792.4,2095.7 1792.9,2097.5 1793.4,2140.4 1793.9,2131.9 1794.4,2023.3 1794.5,2020.2 1794.9,2123.2 1795.4,2106.5 1795.9,2173.6 1796.4,2047.4 1796.9,2117.6 1797.4,2115.9 1797.9,2045.1 1798.4,2167.4 1798.8,2015.8 1798.9,2022.0 1799.4,2022.3 1799.9,2027.1 1800.4,2024.5 1800.9,2030.1 1801.4,2086.7 1801.9,2025.6 1802.4,1988.4 1802.6,1971.0 1802.9,2076.7 1803.4,2015.5 1803.9,1996.4 1804.4,2024.2 1804.9,2149.4 1805.4,2099.1 1805.9,2029.1 1806.1,2001.3 1806.4,2022.1 1806.9,2004.4 1807.4,2088.4 1807.9,2041.5 1808.4,2159.4 1808.9,2131.7 1809.0,2005.7 1809.4,2165.1 1809.9,2080.7 1810.4,2100.8 1810.9,2086.4 1811.3,2015.8 1811.4,2021.2 1811.9,2173.8 1812.4,2176.8 1812.9,2106.9 1813.3,1989.8 1813.4,2088.2 1813.9,2081.5 1814.4,2023.5 1814.9,2005.1 1815.4,2069.9 1815.6,2001.3 1815.9,2116.3 1816.4,2096.7 1816.9,2019.3 1817.4,2023.9 1817.7,1982.5 1817.9,2010.8 1818.4,2026.2 1818.9,2099.6 1819.4,2036.1 1819.9,2019.9 1820.0,1995.5 1820.4,2095.9 1820.9,1999.5 1821.4,2147.7 1821.9,2104.9 1822.0,1989.8 1822.4,2068.0 1822.9,2121.8 1823.4,2062.1 1823.5,2030.2 1823.9,2054.1 1824.4,2161.3 1824.9,2073.7 1825.4,2184.2 1825.9,2097.9 1826.4,2108.6 1826.9,2125.4 1827.4,2140.0 1827.9,2124.9 1828.4,2133.1 1828.9,2189.5 1829.2,2135.9 1829.4,2206.4 1829.9,2177.7 1830.4,2189.1 1830.9,2176.8 1831.4,2199.8 1831.9,2207.2 1832.1,2189.5 1832.4,2207.4 1832.9,2196.3 1833.4,2194.8 1833.9,2202.1 1834.4,2208.7 1834.9,2213.9 1835.0,2195.3 1835.4,2221.3 1835.9,2236.2 1836.4,2212.5 1836.9,2221.8 1837.4,2240.2 1837.9,2241.5 1838.4,2233.3 1838.9,2259.5 1839.4,2218.5 1839.4,2232.3 1839.9,2236.7 1840.4,2265.0 1840.9,2231.2 1841.4,2252.9 1841.9,2276.6 1842.4,2256.4 1842.8,2247.4 1842.9,2257.2 1843.4,2256.5 1843.9,2253.6 1844.4,2246.5 1844.9,2249.2 1845.4,2244.9 1845.9,2251.8 1846.4,2236.9 1846.6,2233.0 1846.9,2252.7 1847.4,2256.4 1847.9,2281.4 1848.4,2268.0 1848.9,2278.4 1849.4,2278.7 1849.9,2289.2 1850.4,2298.7 1850.9,2304.8 1851.0,2302.4 1851.4,2298.0 1851.9,2298.9 1852.4,2291.6 1852.9,2286.3 1853.4,2275.3 1853.8,2261.9 1853.9,2264.0 1854.4,2280.6 1854.9,2268.9 1855.4,2258.9 1855.9,2280.0 1856.4,2279.2 1856.8,2244.5 1856.9,2249.2 1857.4,2259.1 1857.9,2279.2 1858.4,2265.4 1858.9,2255.7 1859.4,2255.7 1859.9,2289.5 1860.4,2266.2 1860.9,2270.2 1861.1,2261.9 1861.4,2271.8 1861.9,2268.2 1862.4,2264.2 1862.9,2262.9 1863.4,2269.4 1863.9,2266.2 1864.4,2269.1 1864.9,2270.8 1865.4,2285.4 1865.4,2257.6 1865.9,2272.0 1866.4,2275.7 1866.9,2288.4 1867.4,2269.8 1867.9,2274.5 1868.3,2270.6 1868.4,2293.8 1868.9,2296.2 1869.4,2274.1 1869.9,2285.1 1870.4,2282.8 1870.4,2361.0"/>
<polygon fill="#2e2a7e" points="1870.4,2361.0 1870.4,2286.5 1870.9,2299.3 1871.2,2276.4 1871.4,2280.5 1871.9,2270.6 1872.4,2277.9 1872.9,2271.7 1873.4,2260.3 1873.9,2256.3 1874.1,2247.4 1874.4,2259.0 1874.9,2249.2 1875.4,2240.3 1875.9,2259.0 1876.4,2223.3 1876.9,2227.5 1877.0,2212.7 1877.4,2199.5 1877.9,2197.8 1878.4,2199.4 1878.9,2167.7 1879.4,2146.7 1879.9,2103.0 1879.9,2102.6 1880.4,2115.2 1880.9,2150.4 1881.4,2048.7 1881.9,2104.2 1882.2,2010.2 1882.4,2112.1 1882.9,2100.9 1883.4,2047.6 1883.9,2122.8 1884.2,2073.7 1884.4,2147.0 1884.9,2152.3 1885.4,2068.2 1885.9,2099.2 1886.4,2093.7 1886.9,2047.6 1887.2,2044.6 1887.4,2060.4 1887.9,2156.6 1888.4,1998.6 1888.9,2126.5 1889.2,1956.6 1889.4,2047.4 1889.9,2099.8 1890.4,2019.6 1890.9,2044.3 1890.9,2044.8 1891.4,2076.9 1891.9,2070.5 1892.4,2080.2 1892.9,2077.3 1893.4,2159.2 1893.9,2119.6 1894.4,2065.0 1894.4,2161.1 1894.9,2152.6 1895.4,2124.0 1895.9,2172.8 1896.4,2078.6 1896.9,2165.4 1897.3,2073.7 1897.4,2108.3 1897.9,2153.9 1898.4,2136.3 1898.9,2072.3 1899.4,2142.1 1899.9,2149.5 1900.2,2062.1 1900.4,2098.3 1900.9,2137.9 1901.4,2058.5 1901.9,2074.0 1902.2,2044.8 1902.4,2106.5 1902.9,2077.9 1903.4,2120.7 1903.9,2029.3 1904.2,2015.9 1904.4,2094.3 1904.9,2105.5 1905.4,2067.4 1905.9,2068.3 1906.0,2059.1 1906.4,2080.0 1906.9,2148.7 1907.4,2089.2 1907.9,2069.3 1908.4,2134.7 1908.9,2154.8 1909.4,2158.1 1909.9,2158.1 1910.3,2078.1 1910.4,2141.5 1910.9,2146.7 1911.4,2180.7 1911.9,2194.8 1912.3,2131.5 1912.4,2169.9 1912.9,2192.2 1913.4,2183.7 1913.9,2194.3 1914.4,2193.4 1914.7,2189.5 1914.9,2212.6 1915.4,2226.3 1915.9,2187.4 1916.4,2205.7 1916.9,2225.1 1917.4,2212.2 1917.5,2160.5 1917.9,2212.8 1918.4,2169.6 1918.9,2188.0 1919.4,2202.4 1919.9,2196.7 1920.4,2185.2 1920.4,2137.4 1920.9,2161.2 1921.4,2223.9 1921.9,2208.6 1922.4,2185.9 1922.9,2170.4 1923.3,2160.5 1923.4,2209.1 1923.9,2175.1 1924.4,2188.3 1924.9,2125.8 1925.4,2139.5 1925.7,2102.7 1925.9,2125.0 1926.4,2165.0 1926.9,2080.3 1927.4,2076.5 1927.7,2057.9 1927.9,2075.5 1928.4,2118.6 1928.9,2126.9 1929.1,2131.7 1929.4,2174.4 1929.9,2149.9 1930.4,2172.7 1930.9,2230.0 1931.4,2216.9 1931.9,2211.3 1932.0,2189.5 1932.4,2220.9 1932.9,2223.4 1933.4,2228.8 1933.9,2268.2 1934.4,2242.0 1934.9,2253.6 1934.9,2247.5 1935.4,2286.1 1935.9,2274.8 1936.4,2278.4 1936.9,2289.7 1937.4,2301.9 1937.8,2305.3 1937.9,2307.6 1938.4,2303.2 1938.9,2301.5 1939.4,2292.4 1939.9,2289.3 1940.4,2286.5 1940.7,2276.4 1940.9,2283.6 1941.4,2275.3 1941.9,2275.6 1942.4,2267.6 1942.9,2273.6 1943.4,2258.5 1943.6,2256.1 1943.9,2284.9 1944.4,2261.9 1944.9,2266.9 1945.4,2280.8 1945.9,2280.4 1946.4,2267.8 1946.9,2291.2 1947.4,2291.0 1947.9,2272.3 1947.9,2261.9 1948.4,2265.9 1948.9,2264.2 1949.4,2263.4 1949.9,2263.7 1950.4,2261.7 1950.8,2247.4 1950.9,2255.4 1951.4,2250.5 1951.9,2257.4 1952.4,2251.0 1952.9,2268.7 1953.4,2268.5 1953.7,2243.1 1953.9,2255.3 1954.4,2259.6 1954.9,2262.8 1955.4,2264.8 1955.9,2278.1 1956.4,2290.6 1956.6,2261.9 1956.9,2272.6 1957.4,2263.7 1957.9,2280.7 1958.4,2291.1 1958.9,2262.4 1959.4,2268.5 1959.9,2267.2 1960.4,2261.3 1960.9,2264.0 1961.0,2257.6 1961.4,2269.4 1961.9,2257.5 1962.4,2258.3 1962.9,2270.6 1963.0,2256.1 1963.4,2256.3 1963.5,2361.0"/>
<path d="M175.0 2268.4h2.0M186.4 2284.0h2.1M184.6 2305.6h2.1M174.6 2252.4h1.1M176.9 2304.0h1.7M179.4 2298.0h1.3M180.2 2283.9h2.0M183.7 2329.2h1.2M188.5 2300.6h1.3M182.4 2283.7h2.2M173.9 2289.9h1.2M186.0 2284.7h2.2M182.8 2285.7h1.4M181.2 2313.3h1.1M178.2 2335.5h1.0M178.3 2277.5h1.4M182.0 2271.4h1.4M173.5 2305.1h1.1M180.9 2299.1h1.9M180.5 2295.7h1.9M176.3 2326.9h1.0M182.5 2305.0h2.1M182.3 2343.6h2.1M183.6 2291.0h1.4M172.8 2292.7h1.1M179.9 2250.9h2.0M189.9 2315.1h1.1M176.9 2331.8h2.1M174.9 2352.7h1.7M178.6 2322.2h1.2M182.1 2307.4h1.8M182.5 2299.7h1.1M185.2 2297.2h1.5M180.4 2336.8h2.0M175.8 2307.9h1.1M180.9 2296.4h1.6M181.2 2287.6h1.9M185.6 2288.0h1.9M183.5 2318.2h1.2M182.0 2281.0h1.5M188.2 2299.8h2.2M175.3 2309.2h1.9M176.5 2303.0h1.5M182.5 2321.3h2.2M185.7 2290.4h1.6M179.0 2310.1h1.3M181.7 2245.8h1.4M181.6 2253.7h1.8M176.4 2260.2h1.4M179.0 2278.6h1.6M180.8 2258.2h1.4M185.7 2286.6h1.7M185.3 2302.5h1.3M177.8 2273.0h2.0M175.5 2260.7h1.4M175.8 2264.6h2.0M175.2 2342.8h2.0M175.7 2230.4h2.1M174.9 2296.2h1.2M185.1 2244.6h1.6M177.6 2259.1h1.9M183.4 2342.2h1.7M177.8 2275.2h1.7M180.9 2261.3h1.9M182.4 2302.8h1.5M178.3 2284.3h1.8M179.2 2294.1h1.6M180.2 2309.1h1.2M178.9 2315.9h1.2M184.6 2306.8h1.5M175.7 2276.3h1.3M180.1 2299.4h1.5M179.2 2327.8h1.1M182.0 2276.8h1.0M178.6 2292.0h1.7M177.1 2330.7h2.1M181.8 2274.0h2.0M177.5 2279.4h1.2M175.5 2279.9h2.1M185.6 2292.5h1.4M180.1 2299.3h1.1M174.7 2284.7h1.2M173.9 2257.9h1.5M177.3 2308.2h1.3M184.0 2295.4h2.2M184.8 2280.9h1.3M184.9 2296.2h1.5M204.0 2310.9h1.6M210.6 2331.3h1.5M205.3 2347.0h2.0M211.4 2312.2h1.3M212.8 2294.8h1.3M206.8 2322.7h2.2M205.7 2339.0h1.6M204.0 2286.4h1.9M211.5 2335.1h1.4M203.8 2305.8h1.4M203.0 2305.4h1.4M206.8 2280.6h1.0M206.9 2334.3h2.1M210.4 2292.1h1.0M207.7 2287.1h1.7M205.7 2280.0h1.6M210.0 2298.6h1.5M208.4 2298.3h1.4M207.6 2302.9h2.0M205.7 2288.0h1.3M208.5 2262.5h1.2M202.5 2313.8h1.6M206.0 2321.1h1.7M207.5 2302.3h1.3M209.7 2274.7h1.8M212.7 2315.6h2.2M212.6 2309.6h1.1M208.4 2297.0h1.8M212.4 2299.7h1.2M204.9 2357.5h1.2M204.1 2295.4h1.2M206.2 2305.4h1.1M206.0 2315.9h1.1M201.7 2293.5h2.1M209.5 2327.5h1.4M203.6 2295.0h2.1M206.1 2315.3h1.8M210.0 2335.3h1.6M210.9 2295.1h1.7M206.6 2337.8h1.3M207.0 2283.5h1.2M207.3 2331.1h1.9M209.4 2341.4h1.8M211.6 2326.7h1.1M210.4 2330.9h1.3M209.9 2292.4h1.4M207.3 2304.8h1.9M208.9 2314.2h2.1M205.9 2295.8h1.1M212.2 2304.4h2.0M210.2 2333.7h1.4M207.3 2329.7h1.7M204.9 2327.7h1.2M209.5 2282.3h2.0M200.6 2327.5h1.6M203.1 2294.2h1.9M205.7 2316.1h1.0M207.3 2316.0h2.1M201.0 2314.4h1.0M199.6 2318.6h1.7M295.2 2308.0h1.1M301.6 2308.0h1.4M292.6 2322.4h1.2M299.9 2313.3h1.2M299.2 2311.8h1.6M310.7 2307.5h1.4M306.8 2290.4h1.8M288.6 2307.0h1.1M298.1 2288.1h1.8M299.6 2290.2h1.2M303.4 2301.9h1.1M289.5 2325.9h1.4M298.0 2317.2h1.3M299.2 2273.9h1.2M300.4 2324.6h2.1M296.9 2286.1h2.2M301.7 2300.2h1.9M298.8 2302.7h1.7M305.8 2298.7h1.4M301.5 2303.5h2.1M288.8 2302.1h1.1M300.1 2305.3h1.5M303.4 2304.7h1.5M299.5 2305.0h1.0M303.0 2298.2h1.6M295.2 2311.7h1.1M299.1 2307.3h1.7M305.7 2289.4h2.0M300.2 2303.0h1.6M293.8 2301.8h1.5M294.5 2281.2h2.1M298.1 2316.8h2.0M300.4 2308.1h1.4M307.0 2314.9h2.0M299.0 2308.0h1.1M300.1 2306.9h1.5M296.8 2294.2h1.1M299.5 2295.1h1.2M299.0 2315.6h1.1M296.3 2306.9h1.9M290.4 2287.9h1.8M300.4 2278.5h1.5M302.9 2278.0h2.1M299.0 2274.6h1.3M301.8 2285.0h1.2M302.7 2304.0h1.3M298.2 2287.9h1.1M300.5 2279.0h1.0M302.4 2302.7h1.4M307.5 2268.9h1.7M300.6 2317.3h1.4M299.6 2302.3h1.7M303.6 2276.5h1.1M297.1 2298.1h1.9M289.3 2312.9h2.0M303.1 2309.7h2.1M295.0 2304.3h1.5M301.2 2261.5h1.6M306.3 2295.8h1.1M302.0 2284.2h1.1M301.2 2299.4h1.7M290.1 2303.8h1.5M300.8 2313.0h1.2M295.8 2294.1h1.9M300.2 2315.3h1.3M309.1 2296.5h2.0M296.4 2288.7h1.2M302.7 2283.3h1.0M301.1 2306.6h1.9M302.6 2293.5h2.0M485.9 2319.8h2.0M482.3 2262.4h1.5M497.2 2291.7h1.7M492.4 2310.0h1.4M495.1 2293.2h1.5M480.8 2295.1h1.5M501.0 2285.5h2.1M486.9 2259.3h1.6M491.7 2270.1h1.7M486.9 2265.8h1.3M492.3 2294.4h1.4M481.1 2272.0h1.9M485.2 2337.4h1.3M489.5 2281.7h1.9M482.7 2241.7h2.1M485.6 2251.2h1.9M486.9 2280.3h1.6M493.5 2280.1h2.2M484.2 2284.0h1.0M487.1 2298.8h1.8M500.6 2261.5h1.7M487.8 2296.9h1.8M481.0 2278.5h1.4M493.1 2280.1h1.4M489.1 2320.5h2.1M494.2 2317.0h1.9M490.3 2297.8h1.7M496.0 2250.4h1.9M484.5 2301.6h1.6M494.2 2279.5h1.3M477.7 2254.7h1.2M492.9 2292.1h1.7M487.0 2281.5h1.2M482.8 2272.2h1.8M489.7 2282.2h1.6M497.6 2242.4h1.4M495.1 2264.4h2.1M491.2 2323.7h2.0M487.3 2291.5h1.2M491.5 2298.1h1.2M487.9 2283.1h1.9M489.0 2249.6h2.0M486.9 2241.4h2.1M479.0 2249.7h1.1M491.7 2294.8h1.2M485.3 2307.3h1.8M489.9 2280.8h1.5M484.4 2284.2h1.1M485.2 2277.8h1.8M474.6 2291.6h2.1M499.1 2306.3h1.9M489.1 2300.5h1.6M484.0 2318.5h2.1M486.3 2302.3h1.6M486.5 2253.3h1.7M488.5 2309.1h2.0M488.1 2289.1h1.5M490.7 2322.5h1.1M489.6 2299.8h1.6M497.5 2287.4h1.5M492.4 2286.1h1.4M490.2 2287.9h1.9M489.3 2293.1h1.3M484.3 2295.6h1.6M494.0 2295.1h2.2M483.7 2298.8h1.1M487.3 2343.8h1.8M488.0 2289.6h1.5M491.1 2266.9h1.7M497.1 2271.8h1.8M571.3 2291.6h1.9M559.6 2324.8h2.0M575.0 2273.7h2.2M570.5 2220.5h1.2M571.2 2256.1h2.2M574.2 2289.2h1.5M569.1 2326.9h1.3M568.5 2275.3h1.2M567.7 2293.4h1.5M580.0 2248.7h1.2M581.2 2297.2h2.2M567.4 2279.6h1.3M582.4 2252.6h1.0M572.5 2322.0h1.3M570.1 2258.1h1.9M574.2 2322.6h2.2M569.2 2276.3h1.1M566.4 2264.9h1.4M562.2 2296.1h2.2M570.4 2332.7h1.3M560.7 2275.0h1.2M560.7 2296.1h1.0M570.8 2255.9h1.6M561.8 2252.5h1.1M568.3 2290.0h1.5M569.3 2295.7h1.4M561.7 2304.9h2.1M564.9 2319.5h1.9M583.5 2259.0h2.2M568.8 2308.9h2.1M575.8 2306.8h1.9M564.1 2284.1h2.1M567.7 2329.8h2.0M573.6 2313.4h1.6M566.3 2280.9h1.5M572.4 2295.2h1.4M579.7 2357.9h1.3M568.3 2347.0h1.9M569.1 2351.9h1.8M563.5 2319.9h1.3M569.0 2357.3h1.5M573.0 2277.6h1.2M579.3 2307.4h1.7M571.8 2290.6h2.0M557.9 2292.4h1.0M567.5 2281.3h1.9M563.7 2260.8h1.3M572.8 2285.0h1.1M568.9 2276.7h1.1M561.6 2301.8h2.1M569.6 2277.7h1.8M571.7 2276.1h1.9M569.7 2317.8h1.0M570.4 2250.3h2.1M566.6 2294.1h1.3M570.7 2303.6h1.4M575.5 2306.6h1.7M567.8 2273.4h1.2M560.9 2292.8h1.5M558.1 2257.7h1.2M569.2 2328.3h1.6M576.2 2265.3h1.8M560.8 2318.0h2.0M569.2 2305.2h1.3M562.1 2344.1h1.3M564.1 2255.7h2.1M577.7 2327.8h1.4M576.8 2318.1h2.0M568.3 2284.8h2.2M563.6 2321.2h1.9M569.6 2323.7h1.4M571.8 2296.8h1.9M559.8 2325.5h1.1M568.8 2309.7h2.1M573.2 2222.0h1.6M574.9 2310.8h1.3M577.6 2297.2h1.3M575.6 2314.8h2.1M576.3 2277.7h1.1M570.3 2273.8h1.6M585.3 2338.9h1.7M565.6 2300.1h1.7M576.2 2284.1h1.3M556.6 2283.2h1.5M561.0 2234.9h1.4M572.7 2252.4h1.2M583.4 2315.8h1.6M557.4 2315.8h1.7M565.1 2290.0h1.9M569.7 2327.2h1.9M567.5 2279.2h1.2M566.7 2239.8h1.1M573.2 2289.7h1.2M575.5 2309.2h1.7M572.2 2274.6h1.8M576.2 2316.7h1.3M568.8 2298.5h1.9M577.3 2329.0h1.4M562.8 2264.3h1.6M579.4 2237.2h1.3M563.8 2348.4h1.2M564.6 2306.4h2.2M576.1 2324.7h1.9M570.0 2288.5h2.1M565.5 2349.7h1.8M559.9 2320.0h1.8M564.8 2335.2h1.6M568.0 2245.8h2.0M573.8 2322.5h1.0M678.1 2326.3h2.0M683.6 2342.7h1.6M678.5 2343.8h2.2M678.2 2335.1h2.0M670.9 2333.4h1.8M675.8 2346.5h1.0M669.7 2330.9h1.9M667.3 2339.8h1.4M674.4 2332.1h1.7M675.4 2331.1h1.8M680.2 2342.4h2.0M676.5 2342.3h1.0M675.3 2336.1h1.5M663.0 2345.6h1.6M673.4 2339.7h2.0M676.1 2328.5h2.0M666.4 2331.4h2.0M673.9 2338.9h2.1M679.8 2339.6h1.1M673.2 2343.2h1.4M679.3 2343.1h1.0M669.5 2343.0h1.9M671.7 2343.2h2.1M683.7 2332.2h1.3M668.5 2345.2h1.5M682.8 2341.5h1.9M670.0 2324.7h1.8M676.2 2323.4h2.1M677.0 2331.8h1.8M666.9 2325.7h1.9M670.6 2341.9h1.4M675.0 2352.5h1.9M678.2 2349.5h2.0M672.9 2342.8h1.7M672.4 2343.5h1.3M774.1 2320.5h1.5M770.6 2321.3h1.7M783.2 2310.4h1.4M772.6 2316.4h1.2M772.5 2320.3h1.7M770.4 2298.1h2.0M754.6 2333.0h1.7M765.7 2317.3h1.5M757.5 2333.1h1.3M766.3 2354.1h1.1M765.1 2316.9h1.8M767.3 2315.2h1.9M764.7 2329.3h2.0M771.1 2303.7h1.8M776.2 2336.3h1.1M759.8 2286.9h1.8M778.4 2325.8h1.6M766.1 2323.9h1.3M767.4 2322.3h1.8M770.2 2335.9h1.1M769.2 2328.3h1.4M772.9 2317.2h1.4M772.8 2348.2h1.6M781.7 2342.2h1.4M766.9 2300.5h2.0M774.8 2324.9h1.3M768.8 2355.6h1.6M765.1 2338.8h2.0M762.9 2311.0h1.8M764.5 2307.0h1.5M775.2 2335.2h2.1M767.6 2337.2h1.7M766.2 2313.6h1.5M769.8 2314.4h1.1M770.5 2278.2h1.1M778.8 2333.2h1.3M768.9 2315.8h1.5M773.4 2334.7h1.8M755.9 2317.6h2.0M759.8 2294.5h1.2M763.8 2322.7h1.7M781.5 2345.8h1.4M773.6 2275.0h2.1M759.0 2344.2h2.2M778.2 2343.3h1.9M764.4 2324.1h1.2M755.8 2343.5h1.5M769.7 2346.7h1.5M764.0 2306.1h1.3M783.0 2327.9h1.8M770.3 2342.6h1.7M754.5 2319.1h1.9M767.7 2336.4h1.7M778.8 2358.3h1.1M764.2 2320.0h1.6M774.9 2323.9h2.2M771.2 2306.8h1.5M773.6 2322.0h1.2M776.2 2318.4h1.3M773.2 2323.7h2.2M769.0 2276.8h2.0M771.1 2305.5h1.2M769.7 2327.0h1.2M768.4 2298.0h1.0M765.3 2355.3h2.0M768.5 2289.0h2.1M763.4 2313.3h1.7M769.6 2325.1h1.3M766.5 2322.6h1.1M770.1 2338.4h2.1M756.3 2323.0h1.9M764.7 2310.7h1.5M765.8 2344.9h2.0M771.5 2304.4h1.2M779.5 2321.4h1.3M776.1 2320.6h1.3M773.0 2347.3h1.7M767.7 2350.6h1.2M773.2 2315.4h1.7M766.7 2290.0h1.6M777.0 2300.4h1.8M774.1 2325.9h1.6M766.9 2317.6h1.9M765.3 2338.0h1.6M773.2 2306.1h1.7M761.7 2302.7h1.4M768.5 2341.3h1.7M767.6 2311.9h1.5M765.6 2315.3h1.1M771.3 2318.3h1.6M769.5 2324.6h1.3M773.8 2336.5h2.1M775.9 2328.6h1.8M769.0 2317.2h1.3M764.8 2325.3h1.6M765.9 2321.0h1.8M768.5 2298.4h1.6M772.3 2272.2h1.7M778.2 2326.3h1.8M764.7 2345.5h1.4M762.6 2302.3h1.8M780.1 2306.4h1.9M768.5 2306.6h1.7M768.1 2315.3h1.9M771.2 2342.2h1.6M767.9 2287.7h1.6M777.2 2312.3h1.7M776.4 2319.1h1.9M772.9 2317.8h1.9M764.8 2300.4h1.9M772.6 2311.6h1.6M761.7 2300.2h2.2M774.4 2285.8h1.1M755.7 2339.0h2.1M770.2 2302.7h1.9M759.5 2314.3h1.8M777.5 2297.2h2.2M761.6 2320.9h1.8M767.9 2317.7h2.2M766.5 2340.6h1.1M769.0 2336.0h2.0M770.6 2348.5h1.7M776.5 2306.7h1.4M769.6 2338.3h1.0M773.0 2327.5h1.4M772.0 2274.4h1.4M770.0 2336.0h1.8M855.0 2306.5h1.6M857.6 2317.2h1.9M863.1 2319.5h1.9M846.2 2293.1h1.4M859.7 2302.8h2.1M857.6 2305.8h1.3M867.5 2302.5h1.9M858.3 2302.7h1.4M845.2 2315.3h2.1M868.5 2357.5h1.7M857.2 2313.6h1.5M851.5 2301.9h1.4M864.5 2296.9h1.4M858.8 2288.8h1.5M861.5 2314.9h2.2M852.7 2286.5h1.8M854.6 2281.4h1.4M858.9 2309.3h1.1M857.3 2306.8h1.8M855.7 2318.7h1.4M853.9 2305.7h2.0M855.8 2305.9h1.1M864.1 2286.6h1.3M857.6 2298.4h2.1M866.2 2292.4h1.1M847.8 2323.8h1.7M859.1 2320.5h1.1M854.2 2303.1h1.5M868.2 2276.1h1.6M858.7 2293.5h2.1M862.6 2286.1h2.1M852.0 2349.8h2.0M866.9 2290.8h1.1M856.4 2336.6h2.1M857.3 2299.4h1.4M855.9 2316.1h1.3M852.2 2302.8h1.3M845.6 2333.0h1.7M858.2 2253.9h1.0M860.0 2298.3h1.2M857.3 2268.3h1.7M848.5 2310.3h1.5M859.4 2319.6h1.1M872.4 2317.4h2.1M854.4 2323.5h1.3M859.4 2279.9h1.2M868.3 2271.4h1.1M853.9 2308.9h1.8M854.8 2319.4h1.4M852.5 2288.8h1.6M855.1 2282.4h2.1M848.2 2319.7h2.1M852.2 2284.7h1.9M857.1 2291.0h1.5M858.7 2308.8h1.8M855.8 2319.8h1.0M866.9 2309.6h1.4M849.7 2317.9h2.1M856.7 2290.2h2.2M861.2 2331.5h1.8M855.1 2349.9h1.7M857.2 2293.4h2.0M856.1 2334.7h1.9M855.9 2320.5h1.4M866.7 2300.6h1.6M849.9 2292.8h1.3M860.6 2309.9h1.7M844.5 2269.7h1.7M868.6 2253.3h1.6M852.0 2316.7h1.4M858.5 2276.3h1.1M865.1 2297.6h1.9M850.4 2296.4h1.7M860.4 2312.7h1.9M856.2 2314.4h2.0M857.9 2267.6h1.5M864.9 2332.3h1.3M853.4 2275.4h1.3M866.0 2305.4h1.9M843.3 2271.5h1.3M857.2 2281.6h1.7M856.6 2320.1h1.7M847.7 2274.9h1.7M849.3 2305.1h1.8M854.0 2314.5h1.8M856.7 2309.0h1.2M852.2 2331.0h1.8M847.0 2307.5h1.4M852.1 2334.5h1.8M846.8 2325.7h1.0M846.4 2295.1h2.1M861.8 2342.4h1.6M862.9 2297.2h1.8M846.5 2252.8h1.4M855.6 2312.3h1.8M868.5 2323.3h1.2M863.4 2355.1h1.6M858.2 2284.7h1.3M846.4 2351.1h1.2M868.3 2279.4h1.8M857.0 2340.5h2.1M854.5 2296.5h1.7M865.7 2297.1h1.2M860.5 2334.7h1.1M863.8 2305.2h1.3M855.7 2305.3h1.7M855.6 2287.8h1.7M847.6 2298.4h1.7M853.0 2283.4h2.0M860.4 2311.2h2.0M858.4 2302.6h2.1M848.8 2277.6h1.8M855.9 2312.6h1.9M856.3 2281.0h1.3M848.8 2343.9h1.6M861.7 2303.1h1.2M857.2 2283.4h1.6M856.1 2288.9h1.7M859.2 2319.9h1.7M846.6 2325.5h1.2M862.0 2296.4h1.4M862.1 2316.9h2.2M850.6 2336.9h2.2M856.7 2291.8h1.5M860.3 2319.5h1.4M862.6 2333.7h1.6M856.8 2321.3h1.2M862.9 2320.6h1.1M853.4 2302.6h1.9M856.7 2348.1h2.1M861.9 2298.2h2.1M845.7 2313.1h1.6M853.5 2300.7h1.9M849.6 2338.7h1.8M856.6 2307.4h1.3M853.0 2315.5h1.7M864.7 2305.8h2.1M866.8 2295.2h1.8M839.8 2254.7h1.9M851.2 2311.4h2.1M850.3 2295.5h1.4M854.4 2283.1h2.1M878.0 2304.9h2.1M860.2 2307.3h1.4M861.6 2280.1h1.3M861.7 2314.9h1.2M864.1 2333.5h1.2M862.2 2331.5h1.2M862.3 2277.4h2.1M856.5 2269.8h1.3M852.8 2315.0h1.5M863.5 2292.7h2.0M856.3 2298.3h1.3M848.7 2286.8h1.3M858.0 2326.4h1.6M846.0 2329.1h1.7M857.0 2324.9h1.6M861.2 2323.6h1.1M851.3 2268.2h2.1M853.2 2292.6h1.7M854.5 2300.3h1.6M854.0 2305.3h1.5M862.4 2278.0h1.4M858.6 2336.0h1.7M856.0 2328.7h1.5M849.4 2272.6h1.4M850.5 2298.3h1.8M858.2 2321.6h2.1M863.5 2331.3h1.3M851.4 2306.3h1.3M864.7 2354.4h1.0M864.1 2333.2h1.4M861.5 2340.8h2.2M860.5 2338.3h1.5M866.1 2304.6h2.1M856.3 2295.0h1.5M857.0 2292.8h1.1M871.6 2302.1h1.8M866.6 2318.3h2.2M859.9 2270.8h1.5M848.8 2267.9h1.6M861.0 2310.6h2.1M854.5 2255.2h1.2M865.2 2325.5h1.5M853.8 2308.7h1.9M859.9 2270.3h1.5M852.0 2306.3h1.6M854.9 2327.0h2.2M859.0 2293.8h1.8M860.3 2286.7h2.1M860.1 2301.9h1.8M853.1 2321.8h1.7M863.4 2281.0h2.1M858.1 2344.3h1.5M862.5 2341.1h1.7M860.0 2351.0h1.6M850.0 2248.2h1.4M850.7 2297.5h1.3M842.8 2292.9h1.8M857.1 2338.2h1.7M851.9 2329.1h1.5M859.2 2283.6h2.0M856.9 2317.9h1.4M866.6 2336.8h2.2M854.2 2313.2h2.1M860.7 2291.8h1.4M854.8 2305.2h1.3M855.6 2311.7h1.2M854.0 2293.6h2.1M866.7 2297.1h1.3M858.3 2285.0h2.0M849.8 2320.6h1.9M855.1 2269.8h1.4M861.3 2322.2h2.2M862.8 2309.1h1.4M846.7 2321.3h1.2M858.9 2307.5h1.4M857.0 2281.1h1.8M852.3 2303.3h1.5M872.3 2318.8h1.9M861.3 2313.5h1.9M848.0 2303.3h1.9M864.8 2337.4h1.2M864.4 2332.9h2.0M856.1 2325.5h1.9M856.2 2328.0h2.2M867.9 2343.4h2.1M862.5 2304.7h1.2M854.6 2310.2h2.1M847.6 2286.8h1.6M843.0 2305.5h1.2M859.8 2347.8h1.7M861.9 2234.7h1.9M850.3 2281.6h1.6M859.0 2324.1h2.1M856.5 2304.1h1.8M866.4 2303.8h1.6M849.9 2313.5h1.7M845.1 2308.5h2.1M859.9 2270.3h1.9M860.3 2329.2h1.3M862.1 2356.7h1.3M862.5 2266.7h1.5M861.7 2307.1h1.8M856.6 2285.1h1.7M862.6 2332.5h1.9M859.6 2277.3h1.7M862.7 2305.2h1.5M860.1 2308.8h2.1M854.9 2279.1h1.8M863.8 2282.1h1.5M845.6 2341.5h2.1M864.4 2338.2h1.8M852.9 2333.2h1.3M857.8 2276.9h1.7M870.2 2321.5h2.1M858.3 2286.7h1.9M863.6 2323.5h1.4M937.6 2322.9h1.1M938.0 2325.6h1.2M939.2 2328.7h1.0M941.0 2318.9h2.1M938.7 2324.7h1.5M939.0 2319.7h1.7M942.5 2320.7h1.9M941.1 2310.0h1.5M942.5 2314.6h1.1M940.1 2358.6h1.4M936.4 2280.9h1.7M941.1 2340.9h1.4M935.9 2323.4h2.2M938.7 2298.7h2.0M938.0 2319.4h1.8M939.7 2333.2h1.5M939.2 2320.5h1.4M943.5 2314.4h1.4M935.5 2328.0h1.6M936.7 2334.3h1.3M938.7 2301.6h1.8M937.5 2342.4h1.2M936.5 2322.1h1.0M942.3 2335.2h1.9M942.2 2285.6h2.0M941.9 2317.4h1.2M943.4 2346.1h1.2M939.3 2329.6h2.1M940.6 2333.7h1.7M939.8 2314.8h1.7M936.3 2315.4h1.6M941.6 2285.8h2.0M939.6 2324.9h1.6M944.2 2324.5h1.6M939.9 2283.6h1.9M939.1 2303.8h1.9M938.6 2309.6h2.0M936.4 2324.0h1.2M941.7 2301.0h1.9M942.0 2300.5h1.7M1023.5 2322.8h2.0M1032.1 2317.9h1.0M1026.4 2321.3h1.5M1026.4 2330.3h1.9M1012.3 2301.7h1.2M1020.9 2335.6h1.9M1024.8 2324.6h1.5M1008.6 2302.1h1.8M1039.5 2294.1h1.5M1013.0 2318.8h1.9M1025.3 2326.3h1.9M1028.1 2332.5h1.3M1025.0 2298.1h2.1M1021.2 2309.9h2.1M1037.7 2336.8h2.2M1027.4 2328.2h1.1M1044.4 2324.6h1.5M1037.3 2291.7h1.0M1027.5 2332.1h1.3M1036.8 2322.3h1.4M1019.4 2326.0h2.2M1033.8 2325.6h2.1M1027.4 2339.9h1.4M1046.6 2296.5h1.7M1037.2 2328.9h1.8M1023.3 2314.6h1.5M1038.5 2326.3h2.0M1022.3 2332.0h1.2M1027.8 2303.3h1.5M1031.1 2306.3h1.1M1020.8 2299.0h1.1M1019.4 2348.4h1.6M1026.0 2324.8h1.3M1012.9 2301.0h1.8M1039.0 2316.7h1.1M1025.3 2333.3h1.1M1047.3 2337.8h2.1M1032.5 2325.1h2.2M1033.8 2332.1h1.3M1030.6 2324.0h1.6M1030.6 2313.7h1.6M1040.7 2341.5h2.1M1037.9 2305.6h1.2M1029.3 2313.9h1.9M1024.2 2353.1h1.3M1029.4 2300.7h1.3M1020.5 2321.0h1.2M1019.4 2314.2h1.8M1023.4 2339.3h1.2M1023.4 2318.3h1.9M1032.7 2332.7h1.1M1026.6 2339.6h1.3M1043.8 2344.0h1.4M1031.9 2336.3h2.0M1029.6 2284.4h1.7M1024.6 2336.8h1.1M1022.9 2291.3h2.1M1036.3 2299.2h2.0M1027.0 2340.5h1.2M1039.9 2312.3h1.2M1131.0 2317.7h1.3M1128.9 2300.9h1.7M1128.3 2310.0h1.3M1123.8 2315.2h1.8M1123.6 2321.6h1.1M1128.5 2338.4h2.1M1128.0 2289.3h1.7M1127.0 2306.0h1.4M1128.3 2312.7h1.7M1124.9 2317.8h1.7M1128.2 2286.9h1.5M1126.8 2317.3h2.1M1123.2 2292.7h1.5M1120.3 2303.9h1.3M1128.4 2345.2h2.1M1126.6 2340.6h1.6M1123.4 2349.5h1.3M1126.7 2303.3h1.2M1128.0 2317.8h1.1M1129.3 2322.8h1.0M1130.8 2352.5h1.3M1125.5 2308.8h1.0M1127.8 2320.4h2.1M1123.4 2323.4h1.1M1124.0 2308.8h1.2M1120.8 2330.0h1.4M1123.8 2316.0h1.7M1133.9 2329.8h2.1M1122.4 2311.4h1.5M1126.0 2298.3h1.9M1122.6 2325.8h1.9M1127.4 2333.7h1.3M1128.0 2351.7h1.4M1125.9 2314.8h2.1M1120.2 2325.3h1.1M1120.8 2301.7h1.3M1129.0 2328.9h1.9M1126.1 2314.0h1.4M1128.6 2313.1h1.1M1130.5 2297.5h1.5M1124.0 2294.0h2.0M1128.2 2344.8h2.1M1127.1 2300.5h1.5M1137.3 2313.3h2.0M1118.4 2318.6h2.0M1124.1 2319.8h1.7M1128.2 2331.2h1.7M1120.8 2319.7h2.0M1128.9 2315.5h2.1M1124.5 2333.7h1.9M1209.6 2296.0h2.0M1205.9 2283.0h1.7M1204.9 2298.3h1.1M1208.3 2279.6h1.5M1205.4 2277.0h1.2M1199.2 2330.1h1.8M1203.3 2300.1h2.2M1207.4 2308.5h1.9M1210.8 2287.2h1.5M1203.8 2267.3h1.7M1205.3 2272.8h1.6M1203.6 2338.1h1.1M1209.6 2317.4h1.1M1206.2 2289.8h1.6M1203.7 2325.2h1.7M1206.0 2326.0h2.2M1206.0 2312.5h1.2M1204.6 2302.1h2.2M1205.3 2298.6h2.0M1201.1 2292.9h2.1M1209.1 2321.0h1.8M1202.9 2284.7h1.2M1201.3 2286.5h1.7M1203.9 2294.4h1.9M1208.8 2297.1h1.7M1199.3 2339.8h1.3M1208.6 2315.3h1.5M1201.1 2293.7h2.1M1199.3 2295.3h1.9M1214.5 2311.9h2.0M1203.8 2324.2h1.0M1207.4 2242.9h1.7M1209.4 2296.6h2.0M1210.1 2258.3h1.6M1202.7 2299.7h2.1M1209.4 2315.2h1.7M1206.0 2318.2h1.4M1208.8 2301.3h1.5M1202.5 2266.6h2.1M1206.5 2287.7h1.7M1201.0 2263.7h1.2M1200.7 2326.4h1.4M1208.3 2288.5h1.8M1213.3 2319.6h2.2M1208.3 2295.6h2.0M1206.3 2298.9h1.1M1196.7 2243.6h1.0M1207.7 2272.5h1.6M1207.6 2320.4h1.6M1207.1 2345.0h1.9M1207.4 2326.5h1.7M1216.5 2276.5h2.1M1208.7 2307.7h1.2M1204.0 2290.9h2.0M1198.9 2279.0h2.1M1209.3 2273.8h1.8M1198.4 2292.3h1.0M1206.4 2331.7h1.5M1195.2 2312.9h1.5M1202.8 2260.7h2.0M1204.6 2330.0h1.6M1202.3 2295.1h1.2M1204.2 2338.5h1.9M1199.1 2320.1h1.5M1200.3 2296.0h1.4M1213.6 2288.0h1.1M1211.0 2329.9h1.5M1199.8 2276.9h1.7M1206.3 2292.9h2.0M1203.9 2308.7h1.4M1195.4 2296.3h1.7M1207.1 2297.3h1.5M1198.3 2286.8h1.8M1201.8 2299.6h1.9M1204.5 2291.9h2.0M1211.3 2301.2h1.7M1203.4 2309.1h1.3M1199.8 2280.8h2.0M1207.2 2327.0h1.4M1207.0 2303.8h1.1M1204.7 2305.1h2.2M1198.9 2328.6h1.5M1200.4 2298.8h2.1M1206.9 2354.2h1.9M1205.4 2292.5h2.2M1200.4 2276.3h1.7M1192.8 2318.3h2.2M1206.5 2296.4h1.6M1203.1 2286.7h2.1M1204.0 2288.8h1.4M1238.9 2324.5h2.2M1240.9 2355.5h1.7M1240.3 2344.7h1.1M1245.7 2341.9h1.1M1242.9 2347.0h1.2M1242.8 2346.1h2.2M1237.6 2345.3h1.6M1248.5 2336.1h2.1M1246.1 2330.3h2.1M1239.6 2349.8h1.4M1244.5 2337.1h2.2M1242.3 2347.5h1.9M1239.7 2337.5h1.2M1243.7 2336.0h1.6M1244.2 2331.9h1.6M1246.3 2356.6h1.7M1240.2 2332.8h1.9M1240.4 2343.6h1.4M1242.5 2323.6h1.6M1237.5 2323.8h1.8M1244.7 2339.1h2.0M1242.0 2329.3h1.7M1242.3 2341.3h1.0M1244.8 2334.7h1.7M1235.1 2346.0h1.9M1358.0 2346.2h1.3M1376.6 2332.7h2.1M1363.4 2333.6h2.2M1375.7 2350.7h1.3M1384.2 2349.5h2.1M1384.0 2324.7h1.8M1362.0 2348.9h1.0M1364.1 2347.2h1.6M1359.9 2340.6h1.0M1363.2 2326.8h1.1M1357.9 2347.1h1.9M1364.9 2337.8h1.8M1358.8 2327.6h2.2M1360.3 2345.0h1.0M1375.3 2340.4h1.2M1372.6 2339.7h2.1M1358.1 2328.3h1.7M1365.0 2356.6h1.9M1367.7 2336.0h1.0M1388.8 2338.9h1.0M1356.2 2339.1h1.4M1389.3 2329.8h1.6M1387.8 2329.9h1.3M1374.3 2339.8h1.1M1357.4 2344.6h1.3M1379.5 2339.9h1.5M1388.4 2319.1h2.0M1368.6 2355.4h1.3M1357.2 2328.1h1.3M1360.9 2332.8h2.0M1372.0 2354.1h1.2M1382.9 2335.6h2.1M1364.0 2328.7h1.6M1361.4 2349.1h1.3M1376.3 2336.4h1.4M1362.5 2347.2h1.6M1382.7 2352.1h1.9M1373.0 2341.1h1.1M1353.0 2333.9h1.9M1371.8 2357.0h2.1M1364.0 2335.9h1.2M1369.2 2331.0h1.7M1369.5 2332.8h1.2M1370.7 2346.8h2.0M1373.6 2324.6h1.0M1362.4 2333.2h1.3M1379.0 2331.2h1.5M1356.9 2312.5h1.1M1355.1 2326.3h1.2M1378.7 2340.9h1.4M1360.0 2307.6h1.8M1333.1 2351.0h2.1M1357.4 2339.6h1.6M1383.6 2344.7h1.9M1354.3 2337.2h2.1M1356.8 2323.3h2.1M1368.7 2322.9h2.1M1541.4 2286.3h2.2M1543.7 2339.0h1.8M1540.6 2265.1h1.3M1540.8 2302.5h1.1M1543.2 2334.6h1.6M1546.7 2227.4h1.5M1543.4 2342.5h1.1M1533.1 2285.3h1.1M1539.4 2329.7h1.1M1544.0 2255.8h1.7M1540.3 2275.2h2.0M1536.6 2283.5h2.0M1539.0 2292.2h1.8M1544.5 2298.0h1.3M1536.8 2305.2h1.8M1537.8 2270.5h1.3M1540.2 2280.1h1.7M1539.3 2251.7h1.0M1544.5 2309.5h1.9M1533.0 2230.8h1.8M1531.9 2320.9h1.3M1542.7 2307.6h1.0M1535.9 2276.0h1.2M1536.9 2270.2h1.8M1541.6 2242.3h1.8M1543.8 2311.0h1.8M1541.2 2315.0h1.6M1539.8 2301.3h1.3M1534.7 2314.4h2.2M1544.3 2242.1h2.2M1535.0 2287.1h1.0M1538.7 2238.6h1.4M1538.7 2282.1h2.1M1536.4 2303.2h1.3M1546.1 2240.5h1.5M1537.1 2286.7h1.8M1534.9 2253.7h1.0M1530.5 2288.2h1.0M1537.5 2271.1h1.1M1537.1 2357.1h1.3M1532.9 2298.7h1.1M1544.8 2295.2h1.7M1546.7 2302.3h1.9M1537.8 2278.4h2.1M1532.5 2271.0h1.7M1533.2 2249.6h1.5M1536.4 2356.3h2.2M1545.0 2329.1h1.9M1540.7 2309.4h1.1M1540.8 2280.3h2.0M1543.0 2212.4h1.1M1540.6 2279.4h1.1M1541.1 2277.5h1.9M1544.1 2287.3h1.5M1544.1 2266.0h2.2M1538.6 2262.1h1.1M1544.7 2261.2h1.2M1539.0 2269.7h1.5M1540.8 2299.6h1.6M1624.5 2327.3h2.0M1637.2 2332.9h1.3M1628.8 2326.7h1.1M1642.8 2341.7h1.2M1639.0 2325.5h1.5M1624.2 2339.4h1.1M1632.9 2330.7h1.3M1628.0 2343.1h1.9M1626.7 2342.7h2.0M1625.3 2344.6h1.7M1621.1 2347.5h1.6M1621.5 2338.3h1.6M1631.8 2338.5h1.5M1619.3 2342.1h1.4M1615.4 2326.2h1.2M1608.0 2347.5h1.0M1624.6 2332.6h1.6M1626.2 2333.7h1.1M1613.4 2321.2h1.5M1634.9 2336.1h1.8M1620.5 2328.0h1.8M1622.5 2328.0h1.3M1634.3 2332.4h1.6M1622.5 2334.4h1.3M1631.3 2337.1h1.4M1619.9 2334.7h1.1M1625.3 2353.9h1.2M1623.5 2340.5h1.1M1634.7 2338.8h1.6M1630.8 2342.2h1.6M1642.4 2331.7h1.5M1621.9 2339.6h2.0M1631.0 2345.4h1.2M1626.0 2323.4h1.5M1619.2 2356.1h1.1M1627.6 2332.8h2.1M1626.4 2356.7h2.0M1625.1 2345.1h1.8M1635.4 2345.0h1.4M1625.3 2336.6h1.8M1718.7 2348.6h1.9M1724.0 2345.1h1.9M1712.9 2327.1h1.0M1713.6 2343.9h2.1M1712.0 2340.0h1.2M1712.3 2342.1h1.0M1707.1 2329.9h1.5M1702.4 2344.1h2.1M1734.5 2337.3h1.2M1714.7 2344.6h2.0M1723.7 2328.1h1.2M1713.5 2347.5h1.5M1719.8 2339.3h2.0M1731.7 2334.5h1.4M1717.8 2335.7h1.9M1723.7 2331.6h1.9M1714.6 2329.4h2.1M1721.2 2325.5h1.9M1725.2 2342.2h2.1M1735.4 2347.0h1.9M1732.0 2350.6h1.9M1721.7 2345.9h1.8M1711.6 2333.8h2.0M1712.6 2351.8h2.2M1725.7 2334.3h1.3M1710.9 2340.0h1.8M1726.4 2342.9h1.1M1725.6 2344.0h1.6M1722.2 2333.8h2.1M1697.4 2340.3h1.4M1717.6 2343.5h1.9M1701.6 2331.2h1.6M1720.5 2336.1h2.1M1725.2 2341.9h2.2M1740.5 2347.1h2.2M1728.6 2342.7h2.0M1731.0 2338.5h2.1M1706.7 2345.0h1.1M1716.6 2336.2h1.9M1809.7 2296.4h1.5M1811.0 2322.4h1.0M1805.4 2298.0h1.4M1800.9 2261.1h1.6M1804.7 2300.0h1.7M1809.7 2269.7h1.2M1808.4 2269.2h1.9M1807.0 2285.9h1.4M1822.4 2268.5h1.8M1832.6 2288.0h1.9M1815.9 2266.8h2.1M1806.1 2354.2h2.2M1817.7 2226.7h1.8M1808.5 2277.9h1.9M1823.2 2320.7h2.0M1818.4 2258.3h1.3M1803.3 2271.0h2.1M1803.9 2273.8h1.9M1811.9 2251.6h1.4M1805.3 2259.1h1.1M1809.5 2305.3h1.6M1819.3 2320.2h1.7M1817.3 2322.5h1.9M1821.5 2299.2h1.6M1822.9 2253.5h1.7M1811.3 2273.0h1.9M1806.3 2246.6h1.5M1810.7 2316.8h1.2M1804.3 2254.9h1.7M1811.4 2268.0h1.7M1813.0 2252.9h1.2M1808.6 2313.1h1.4M1807.2 2265.5h1.2M1819.0 2278.5h2.1M1806.7 2295.8h1.1M1811.4 2286.6h1.1M1804.0 2273.8h1.0M1804.8 2320.8h1.2M1806.2 2304.6h1.6M1817.3 2266.3h1.9M1810.5 2285.8h1.1M1813.5 2261.0h1.5M1813.6 2274.1h1.6M1813.5 2248.9h1.1M1809.0 2344.6h1.7M1797.8 2325.7h1.6M1814.2 2275.1h1.7M1809.6 2291.6h1.8M1803.6 2287.7h1.4M1801.2 2309.5h2.2M1807.5 2224.6h1.4M1814.1 2292.6h2.0M1819.8 2317.4h2.2M1811.9 2258.9h1.2M1812.5 2274.9h1.0M1793.9 2298.3h2.2M1807.9 2289.3h1.6M1800.3 2305.2h1.5M1798.2 2319.9h2.0M1810.0 2324.5h1.1M1808.8 2289.9h1.8M1797.3 2331.2h1.6M1816.1 2330.0h1.5M1799.1 2274.8h1.5M1807.7 2288.4h1.4M1817.6 2304.2h1.6M1811.6 2315.3h1.0M1823.7 2272.5h1.4M1821.6 2287.4h1.6M1806.1 2330.1h2.0M1811.9 2260.9h2.0M1812.6 2337.7h2.2M1814.2 2294.2h1.8M1808.2 2276.5h1.0M1829.5 2254.0h2.1M1821.0 2307.6h1.5M1805.9 2307.1h1.9M1806.5 2299.9h1.0M1817.2 2298.8h1.9M1793.4 2257.9h2.1M1817.1 2268.9h1.6M1806.5 2253.4h1.2M1802.4 2281.1h1.6M1801.4 2292.3h1.7M1808.4 2304.7h2.2M1810.1 2267.7h2.0M1811.4 2265.9h1.3M1810.4 2294.8h1.3M1826.2 2251.1h1.8M1812.3 2288.6h1.7M1907.6 2317.2h1.0M1910.5 2309.1h2.1M1912.8 2338.1h1.7M1906.5 2307.5h1.0M1899.3 2306.9h1.2M1904.5 2327.0h1.7M1903.4 2311.7h1.2M1905.0 2307.1h1.7M1907.2 2352.8h1.7M1907.6 2329.2h1.8M1903.2 2330.2h1.5M1905.1 2320.9h1.1M1899.6 2353.7h2.1M1895.2 2339.4h2.0M1907.2 2317.8h1.8M1910.9 2300.7h1.1M1908.2 2291.5h1.7M1905.4 2322.0h1.0M1895.4 2311.4h1.1M1906.1 2303.0h1.2M1899.0 2312.3h1.3M1905.6 2352.9h1.1M1903.3 2330.5h1.8M1900.2 2301.7h1.2M1916.7 2325.6h1.7M1910.9 2330.2h2.0M1906.2 2338.1h1.5M1909.7 2314.9h1.9M1902.1 2304.5h1.6M1897.8 2324.2h1.2M1906.2 2314.9h2.2M1897.5 2347.4h1.6M1896.8 2323.5h1.0M1898.4 2318.1h2.1M1899.7 2308.5h2.0M1895.6 2306.4h1.9M1902.5 2306.7h2.0M1902.5 2287.6h1.9M1901.1 2277.6h1.3M1898.7 2357.2h2.2M1901.9 2309.6h1.3M1902.2 2319.3h1.4M1890.5 2302.2h1.8M1906.2 2311.8h2.0M1903.9 2334.4h1.8M1903.0 2323.0h1.8M1910.9 2330.8h1.1M1890.2 2318.4h1.5M1906.6 2358.9h2.1M1893.3 2325.0h1.3M1907.2 2321.7h1.7M1903.7 2309.5h1.2M1901.6 2334.3h1.4M1903.0 2301.7h1.9M1895.4 2284.9h1.7M1908.7 2316.8h1.7M1904.3 2332.4h1.4M1696.8 2358.4h1.7M788.6 2355.0h1.8M983.0 2359.0h2.0M802.8 2356.4h1.7M1888.4 2354.1h2.2M663.9 2355.4h1.1M604.2 2354.9h1.4M1298.3 2353.7h1.5M1134.2 2356.2h1.9M465.0 2354.6h2.2M1944.8 2354.0h1.1M1744.9 2359.0h1.6M1895.3 2356.6h2.4M228.2 2353.1h2.3M997.0 2353.6h2.2M153.2 2354.2h2.1M1495.3 2356.1h1.9M1228.7 2354.6h1.5M1277.1 2354.4h2.2M1811.5 2356.8h1.2M665.3 2356.5h1.7M864.1 2353.1h1.6M829.6 2353.7h2.5M1552.7 2358.8h1.4M1386.5 2357.3h1.4M1228.1 2357.3h1.9M1138.6 2354.5h1.4M732.5 2356.0h1.6M524.5 2353.3h2.5M797.3 2358.3h2.3M445.3 2354.1h1.3M156.1 2354.3h1.9M1420.4 2354.0h1.8M1315.5 2357.3h2.0M1521.3 2353.5h1.2M1463.9 2355.7h2.1M1468.2 2357.6h2.1M920.8 2358.4h2.0M1024.1 2357.9h1.5M775.5 2356.6h2.5M495.8 2354.7h1.2M1328.8 2355.9h1.7M798.2 2355.2h1.9M438.8 2355.9h1.2M1074.9 2356.0h1.6M722.0 2357.8h1.4M1105.8 2358.8h1.5M912.4 2357.1h1.7M1565.8 2358.3h1.4M1060.8 2355.8h1.7M1304.9 2354.2h1.4M595.8 2355.6h1.5M692.4 2358.7h1.9M722.9 2353.6h2.0M1241.1 2356.4h1.1M1247.3 2357.8h1.8M1362.4 2355.1h1.6M622.2 2357.6h2.1M1129.3 2356.1h1.4M1913.5 2353.2h1.8M709.5 2357.8h2.5M1210.3 2357.3h1.3M1943.0 2355.7h2.3M200.3 2355.0h2.0M462.5 2353.1h1.5M1412.3 2358.2h1.3M1226.2 2358.2h2.1M1304.7 2355.9h1.3M650.0 2356.4h1.5M1422.5 2354.5h1.9M532.8 2357.1h2.3M1764.7 2355.5h2.4M403.8 2355.4h1.4M856.5 2353.3h1.5M1231.2 2357.5h1.7M1822.8 2357.0h2.1M1669.7 2355.1h2.1M1024.0 2354.7h2.0M1430.1 2353.3h2.1M1879.5 2353.2h2.4M921.6 2358.6h1.6M975.1 2356.9h1.5M574.0 2356.9h1.5M197.2 2354.7h2.3M1483.4 2353.8h1.8M1237.5 2354.0h2.2M1915.4 2356.9h2.2M883.9 2354.5h2.0M1735.0 2357.4h1.2M1957.8 2358.4h2.0M538.9 2354.0h1.2M1569.4 2356.3h2.5M466.2 2355.2h1.4M1691.7 2357.6h2.1M1049.0 2354.6h1.6M357.8 2357.3h1.9M1128.6 2358.2h1.2M1289.9 2353.6h1.4M1332.4 2356.1h2.3M557.9 2355.2h1.6M688.2 2357.1h1.5M875.6 2357.7h1.1M1335.0 2356.0h1.6M948.8 2354.0h1.2M1452.3 2354.9h1.4M516.6 2356.8h2.0M1250.8 2353.1h1.7M902.8 2354.1h2.1M881.1 2358.1h1.7M587.7 2358.2h1.1M782.5 2355.2h1.2M1307.0 2354.8h2.4M1800.9 2353.2h1.3M1358.5 2357.2h1.3M760.9 2358.9h2.4M810.6 2357.2h2.5M1339.5 2355.5h2.4M1205.6 2357.1h2.4M248.6 2353.7h1.1M653.1 2358.8h2.1M808.7 2356.6h1.7M1032.9 2355.1h2.4M1504.4 2353.4h1.9M1847.4 2355.3h1.2M242.1 2356.2h1.6M1144.3 2357.1h1.7M1251.2 2356.6h1.9M1087.0 2354.3h1.4M1373.1 2358.6h1.2M245.3 2355.7h2.4M1745.5 2354.3h1.9M282.5 2357.8h1.1M1859.3 2355.1h1.5M771.2 2353.7h1.5M533.3 2353.2h1.7M1660.8 2357.5h1.8M371.6 2355.7h1.4M986.7 2358.3h1.3M1116.6 2355.8h1.7M278.2 2358.5h2.3M543.5 2358.2h1.7M1705.9 2354.9h1.1M1939.3 2355.2h1.1M551.6 2355.0h2.2M1901.9 2354.6h1.2M363.6 2358.9h1.7M387.6 2354.9h1.8M1286.4 2356.2h2.2M960.2 2358.0h2.0M1248.3 2353.6h1.5M654.2 2358.2h2.3M1422.4 2357.1h1.2M180.8 2353.5h1.7M675.1 2358.9h1.1M1278.4 2354.9h1.3M1623.0 2357.9h1.7M1026.9 2353.7h1.9M1505.0 2358.3h2.2M1611.1 2354.2h2.4M311.3 2354.4h1.8M1440.2 2356.8h1.9M1444.7 2355.4h1.1M666.3 2356.5h2.1M884.0 2356.3h2.3M1266.9 2355.9h1.6M338.3 2355.2h2.5M1070.7 2355.8h2.0M564.6 2355.7h1.4M1104.1 2356.0h2.2M1525.4 2355.2h2.5M1175.2 2355.3h1.2M179.9 2355.1h1.9M640.9 2353.8h1.7M383.5 2354.3h1.7M1459.2 2355.0h2.0M728.1 2353.8h2.2M1323.9 2356.9h2.1M1078.7 2353.4h1.2M1131.1 2356.9h1.1M1477.2 2358.5h1.9M1752.2 2355.9h2.1M197.7 2356.2h2.1M1580.9 2358.5h1.6M238.5 2357.5h2.5M1857.1 2358.2h1.0M1386.9 2358.5h1.5M1270.4 2356.6h1.6M1816.0 2353.6h1.3M1505.2 2357.6h1.7M1725.5 2354.2h1.4M223.6 2358.0h1.5M1256.3 2355.9h1.8M643.7 2353.7h2.2M956.2 2355.1h1.8M238.0 2357.5h1.5M740.1 2354.6h1.1M1473.5 2357.0h2.2M1006.6 2358.2h1.6M1121.5 2357.9h1.5M1002.8 2355.1h1.1M1900.2 2358.1h2.2M173.1 2358.4h1.2M1795.4 2355.2h1.0M1523.6 2353.1h2.2M393.4 2358.0h1.1M377.7 2357.1h1.9M1458.9 2353.8h1.8M1692.3 2357.9h2.3M1413.3 2357.9h1.8M1009.3 2356.6h2.2M487.9 2354.6h2.2M578.8 2353.7h2.2M1925.5 2353.8h1.1M1072.7 2356.4h2.0M1262.7 2355.9h1.2M803.2 2355.8h2.5M1049.4 2356.9h2.0M1273.0 2357.0h1.2M556.7 2354.2h1.6M697.9 2358.4h1.1M258.9 2357.5h1.1M241.2 2354.6h1.6M1057.3 2356.5h2.1M1826.0 2354.6h1.7M847.2 2354.1h1.8M1691.0 2354.3h1.2M303.1 2355.4h2.5M1306.8 2353.7h2.5M539.4 2355.7h1.9M1912.0 2358.2h1.5M1888.4 2356.6h2.2M711.7 2356.8h2.1M1950.5 2358.1h1.9M296.1 2357.3h1.2M1840.5 2358.7h2.3M341.4 2356.6h2.0M1566.6 2358.2h1.2M509.8 2353.0h2.5M1026.8 2356.6h2.3M492.0 2355.0h2.0M771.2 2357.5h1.6M1206.3 2356.3h1.6M1914.2 2357.9h1.4M1152.3 2356.6h1.3M440.7 2355.5h1.9M1665.1 2356.3h1.7M987.7 2353.2h1.5M1545.2 2356.9h1.1M1759.1 2358.3h2.3M1518.9 2355.0h1.4M826.5 2355.5h1.1M503.7 2357.1h2.3M273.7 2354.0h1.4M1647.9 2355.9h1.4M1260.8 2357.4h1.9M1225.1 2357.8h1.8M1308.4 2355.6h2.3M1837.0 2356.4h1.9M1750.3 2353.7h1.5M760.1 2356.5h2.2M1219.0 2356.4h2.2M801.5 2357.0h2.2M998.0 2357.5h1.0M1267.5 2357.4h2.0M343.8 2356.1h2.0M1438.9 2358.7h1.2M540.5 2357.0h1.1M948.1 2353.3h1.9M1294.8 2353.6h1.2M766.8 2354.9h1.7M1215.9 2355.0h1.0M260.7 2358.1h1.3M1857.4 2355.6h1.3M1183.5 2353.5h1.4M1220.2 2355.2h1.1M1333.1 2354.5h2.4M500.0 2354.0h1.4M1610.4 2358.3h2.2M558.5 2355.4h1.8M1105.5 2358.6h2.2M1064.9 2353.9h2.5M1947.2 2357.9h2.1M1507.2 2358.6h2.1M1203.5 2356.3h1.9M246.6 2356.7h1.1M1725.1 2353.6h1.4M1502.7 2353.9h1.3M1039.7 2358.6h2.5M306.1 2353.1h1.3M1592.2 2356.9h2.3M1070.3 2355.6h2.2M822.1 2357.9h1.9M342.2 2353.2h1.7M756.5 2358.9h1.1M1020.8 2357.5h1.5M1382.4 2355.3h1.3M286.0 2356.5h2.0M1157.6 2355.0h1.2M470.5 2358.2h1.6M1247.8 2354.0h1.4M272.4 2358.9h1.4M931.0 2354.0h1.7M1912.4 2355.3h1.0M892.6 2356.7h1.5M221.0 2357.1h1.7M1777.2 2358.8h1.9M1531.6 2357.4h1.1M1238.3 2357.6h2.2M1211.5 2357.5h2.2M1643.5 2354.4h2.5M1747.2 2353.6h1.4M309.5 2356.2h1.2M947.4 2355.1h1.9M720.0 2353.7h1.0M1784.2 2355.3h2.0M281.8 2353.4h1.8M1305.7 2358.6h1.4M1739.3 2358.8h1.6M1188.4 2353.5h2.0M1592.6 2358.0h1.9M750.8 2353.8h1.6M1282.7 2353.2h1.5M1705.2 2356.6h2.4M360.1 2356.1h1.4M1307.6 2358.8h2.0M1885.2 2357.6h1.3M1656.1 2357.0h2.0M1806.7 2353.8h2.2M1699.3 2353.0h1.9M1070.8 2355.7h1.5M321.2 2356.2h2.3M1571.9 2353.1h1.9M784.8 2358.4h2.2M852.9 2354.6h1.0M928.6 2354.0h2.2M1075.8 2356.0h1.1M385.1 2354.1h1.2M362.3 2355.0h1.8M1077.3 2355.5h1.8M253.1 2355.5h2.0M190.1 2357.0h2.4M1916.7 2358.8h1.5M705.7 2353.5h1.1M1355.4 2355.9h1.1M1466.9 2358.1h2.0M876.3 2355.0h1.1M613.0 2358.9h2.3M455.5 2358.2h1.0M486.3 2355.2h1.3M1626.8 2357.7h2.2M1256.3 2356.8h2.4M1610.2 2357.0h2.5M163.9 2355.6h1.8M1508.8 2353.8h1.7M1119.3 2356.7h2.2M999.7 2358.8h1.3M1710.9 2356.5h2.2M1792.0 2358.0h2.3M902.0 2354.2h1.6M1032.9 2356.2h2.0M1849.9 2353.3h1.2M589.8 2355.2h1.5M180.0 2354.1h1.3M1145.3 2354.8h2.3M165.1 2357.2h1.5M1590.0 2354.4h2.4M510.7 2353.9h2.3M1385.7 2357.6h1.7M1814.5 2358.4h2.2M1607.0 2358.6h1.2M1654.2 2353.9h2.0M641.9 2355.4h1.4M375.0 2356.2h2.3M796.0 2354.1h2.2M622.6 2353.6h1.1M1417.9 2358.8h2.0M1191.9 2357.2h2.1M1946.5 2356.8h1.2M1961.8 2357.1h1.6M1776.3 2358.4h1.6M909.1 2353.9h2.4M1426.9 2356.9h1.3M1501.6 2358.7h2.3M983.9 2353.5h2.0M245.6 2355.6h1.6M1841.1 2357.5h1.2M1136.7 2356.9h1.4M1206.8 2353.3h2.1M1221.2 2358.5h2.4M691.3 2353.3h2.0M1386.3 2357.4h1.5M888.7 2357.8h1.9M651.7 2353.7h2.1M690.6 2358.6h2.3M952.9 2354.3h1.0M1124.6 2357.3h1.1M921.1 2355.2h1.7M1226.6 2355.7h2.0M560.3 2357.4h1.7M1213.0 2356.7h2.4M1915.4 2353.1h2.1M1117.1 2356.8h1.4M950.0 2355.5h1.6M1809.1 2354.8h1.7M232.9 2355.0h1.4M859.4 2353.9h1.4M764.4 2355.8h1.7M1307.1 2356.8h1.7M914.3 2356.1h2.0M796.4 2358.9h2.2M1680.9 2353.9h1.3M1271.0 2358.2h1.7M1623.7 2356.6h1.0M1913.1 2358.5h1.6M1623.0 2354.2h2.0M1311.3 2355.3h2.3M381.9 2354.1h1.9M1467.1 2353.1h2.0M555.1 2356.1h1.8M1480.9 2355.4h2.2M706.1 2358.7h1.5M452.1 2354.9h2.4M1405.1 2354.9h1.2M1398.7 2357.3h1.2M812.9 2357.9h1.9M1896.0 2356.7h1.3M1079.4 2357.3h2.5M713.7 2353.9h2.3M1441.4 2353.8h1.7M1879.9 2355.7h1.8M325.5 2358.9h1.6M1135.6 2354.8h2.4M906.2 2356.9h2.2M1625.2 2356.0h2.3M1423.4 2355.1h1.7M1154.7 2356.4h2.0M903.6 2358.0h2.3M458.6 2357.6h1.2M812.3 2357.6h1.0M1916.3 2354.3h2.3M1184.5 2356.2h2.4M781.6 2358.7h2.1M1045.7 2355.9h2.2M244.0 2354.4h1.5M1421.1 2358.6h2.0M427.7 2358.1h2.5M1587.2 2354.8h2.2M371.1 2356.5h2.1M1125.9 2354.9h1.8M1264.4 2355.7h1.4M498.0 2358.7h2.4M389.1 2354.1h1.8M1638.0 2356.5h2.5M766.9 2355.4h1.3M1552.2 2354.4h1.4M1816.4 2354.0h1.5M1709.1 2354.5h1.3M1760.1 2358.4h1.5M1385.4 2356.7h2.2M1348.2 2353.8h2.0M439.6 2358.0h1.1M492.9 2356.0h2.2M793.3 2355.3h1.2M1403.9 2354.8h1.5M186.2 2354.5h1.2M354.4 2354.3h2.3M1069.8 2358.5h1.8M1041.4 2356.4h2.0M539.1 2354.6h2.0M1339.4 2356.0h1.7M1667.5 2353.8h1.2M1351.1 2357.7h1.5M1892.4 2354.8h1.4M1332.5 2356.4h1.0M300.8 2353.7h1.5M196.5 2357.5h2.0M1170.4 2354.6h1.2M1845.0 2355.7h1.4M980.1 2356.3h2.3M1105.1 2354.6h1.1M1719.7 2357.9h2.1M542.3 2358.3h1.7M1420.0 2353.2h1.8M1575.1 2357.8h2.2M933.1 2354.5h2.3M1794.9 2358.6h1.8M1804.4 2353.1h2.3M494.9 2354.2h1.6M1331.3 2354.6h1.3M1673.0 2356.4h1.7M1543.5 2356.9h2.4M865.0 2353.9h1.1M1351.7 2354.9h1.1M1113.2 2356.6h2.4M678.2 2355.1h2.4M1374.9 2353.9h1.6M482.0 2357.3h2.0M1003.9 2353.3h1.8M600.2 2356.1h1.3M283.6 2358.3h1.9" stroke="#fff" stroke-width="1.3" fill="none"/>
<path d="M97.7 1729V2362M86 2361.0H97.7M86 2234.8H97.7M86 2108.6H97.7M86 1982.4H97.7M86 1856.2H97.7M86 1730.0H97.7" stroke="#222" stroke-width="2" fill="none"/>
<path d="M205.5 2361.3H1917M206.5 2361V2373M306.7 2361V2373M395.9 2361V2373M490.3 2361V2373M580.5 2361V2373M669.4 2361V2373M761.1 2361V2373M849.5 2361V2373M942.4 2361V2373M1039.6 2361V2373M1121.9 2361V2373M1193.4 2361V2373M1275.3 2361V2373M1365.9 2361V2373M1461.5 2361V2373M1547.0 2361V2373M1623.1 2361V2373M1717.8 2361V2373M1822.0 2361V2373M1916.1 2361V2373" stroke="#222" stroke-width="2" fill="none"/>
<g font-size="28" fill="#111"><text transform="translate(84.5 2370.3) scale(1 1.12)" text-anchor="end">0.0</text><text transform="translate(84.5 2244.1) scale(1 1.12)" text-anchor="end">0.2</text><text transform="translate(84.5 2117.9) scale(1 1.12)" text-anchor="end">0.4</text><text transform="translate(84.5 1991.7) scale(1 1.12)" text-anchor="end">0.6</text><text transform="translate(84.5 1865.5) scale(1 1.12)" text-anchor="end">0.8</text><text transform="translate(84.5 1739.3) scale(1 1.12)" text-anchor="end">1.0</text></g>
<g font-size="28" fill="#111"><text transform="translate(208.8 2397.3) scale(1 1.13)" text-anchor="middle">1</text><text transform="translate(309.0 2397.3) scale(1 1.13)" text-anchor="middle">2</text><text transform="translate(398.2 2397.3) scale(1 1.13)" text-anchor="middle">3</text><text transform="translate(492.6 2397.3) scale(1 1.13)" text-anchor="middle">4</text><text transform="translate(582.8 2397.3) scale(1 1.13)" text-anchor="middle">5</text><text transform="translate(671.7 2397.3) scale(1 1.13)" text-anchor="middle">6</text><text transform="translate(763.4 2397.3) scale(1 1.13)" text-anchor="middle">7</text><text transform="translate(851.8 2397.3) scale(1 1.13)" text-anchor="middle">8</text><text transform="translate(944.7 2397.3) scale(1 1.13)" text-anchor="middle">9</text><text transform="translate(1041.9 2397.3) scale(1 1.13)" text-anchor="middle">10</text><text transform="translate(1124.2 2397.3) scale(1 1.13)" text-anchor="middle">11</text><text transform="translate(1195.7 2397.3) scale(1 1.13)" text-anchor="middle">12</text><text transform="translate(1277.6 2397.3) scale(1 1.13)" text-anchor="middle">13</text><text transform="translate(1368.2 2397.3) scale(1 1.13)" text-anchor="middle">14</text><text transform="translate(1463.8 2397.3) scale(1 1.13)" text-anchor="middle">15</text><text transform="translate(1549.3 2397.3) scale(1 1.13)" text-anchor="middle">16</text><text transform="translate(1625.4 2397.3) scale(1 1.13)" text-anchor="middle">17</text><text transform="translate(1720.1 2397.3) scale(1 1.13)" text-anchor="middle">18</text><text transform="translate(1824.3 2397.3) scale(1 1.13)" text-anchor="middle">19</text><text transform="translate(1918.4 2397.3) scale(1 1.13)" text-anchor="middle">20</text></g>
<text transform="translate(1020.6 2450.8) scale(1 1.1)" text-anchor="middle" font-size="29" fill="#111">Chromosome</text>
<text transform="translate(32.3 2027.7) rotate(-90) scale(1 1.05)" text-anchor="middle" font-size="29" fill="#111">Mean LD score</text>
</svg>
</body></html>
